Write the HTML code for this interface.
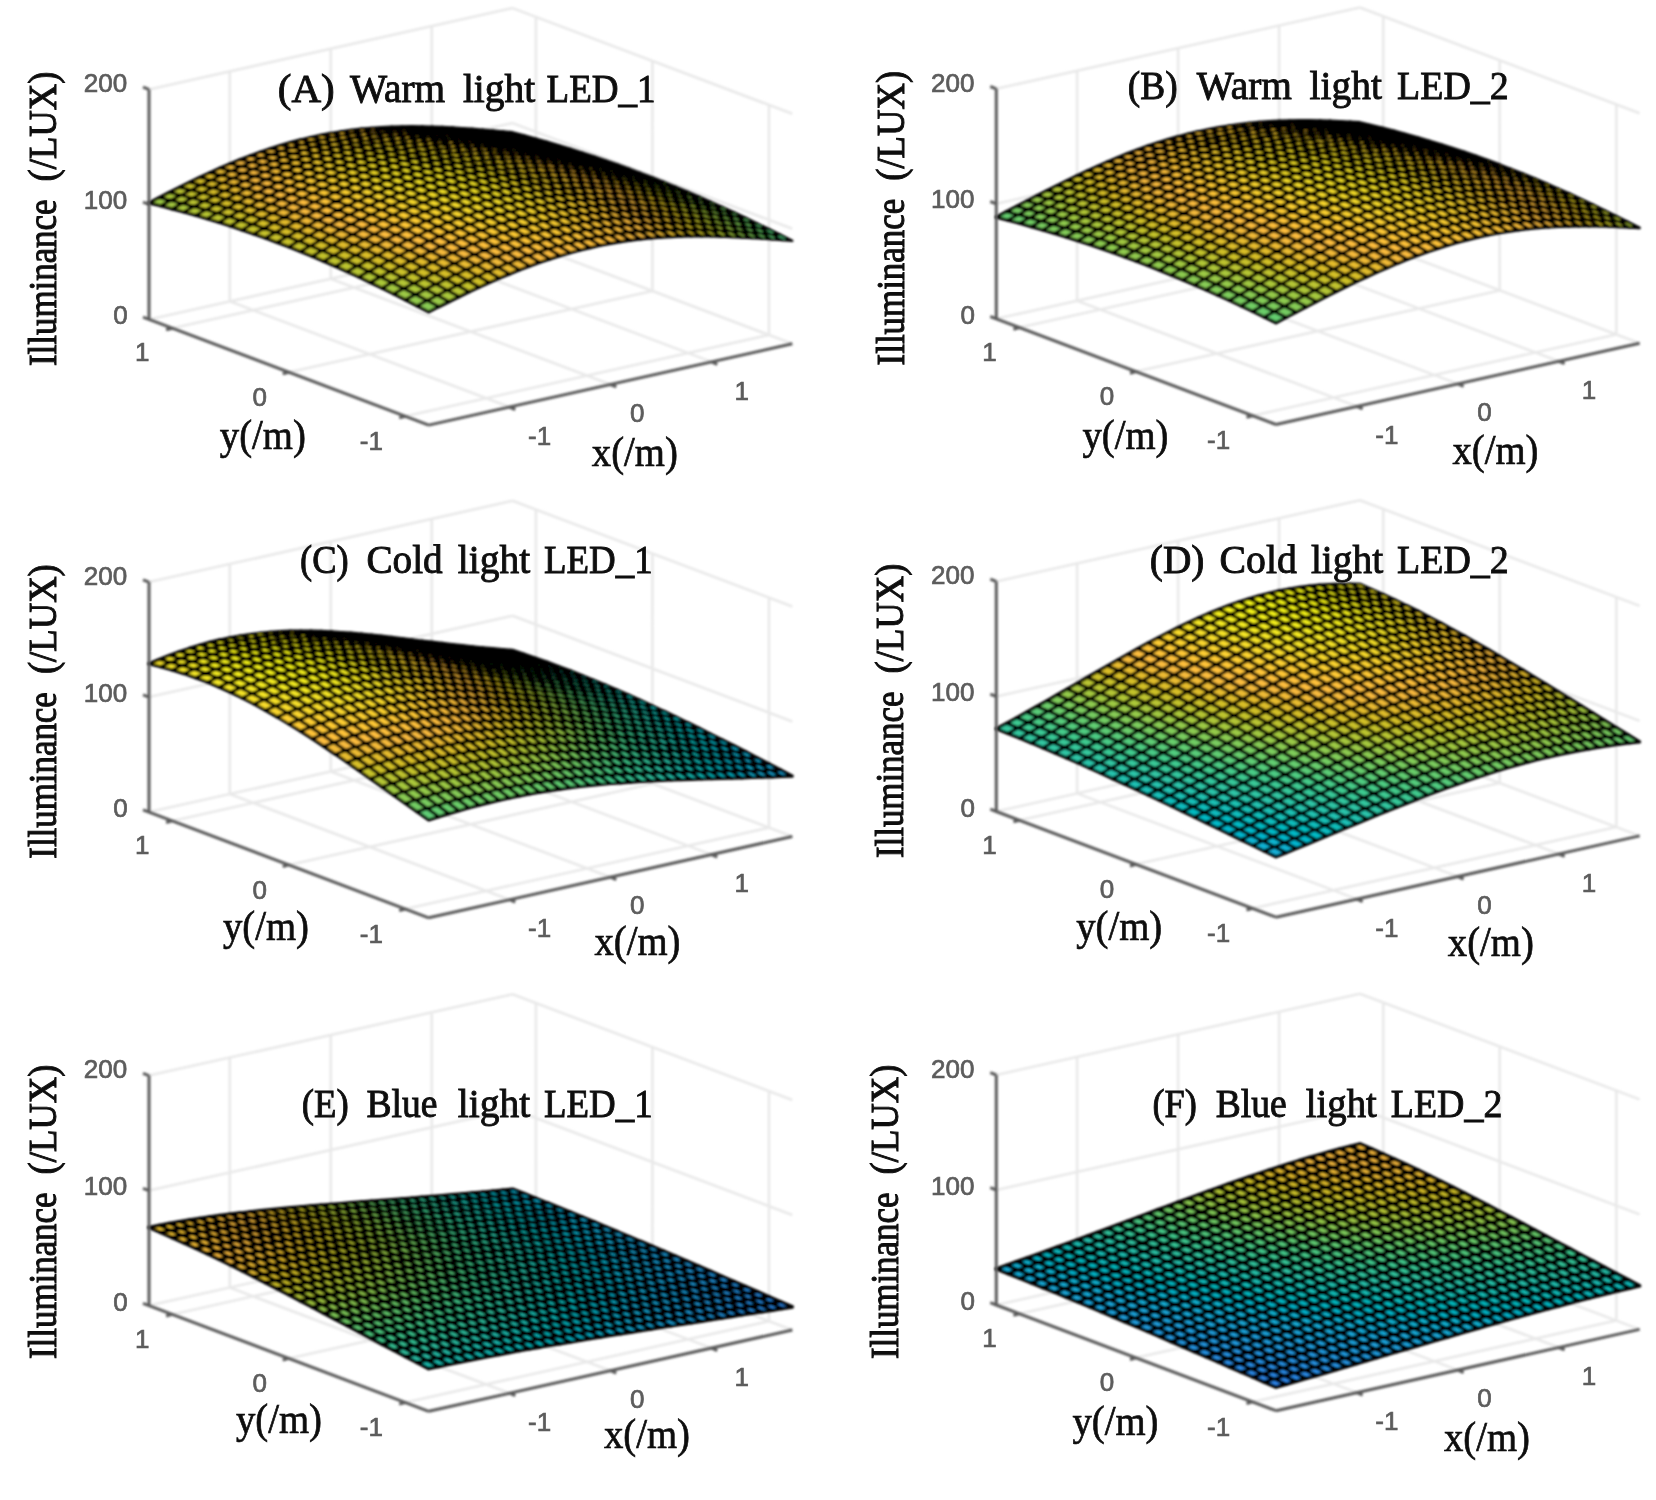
<!DOCTYPE html>
<html><head><meta charset="utf-8"><title>Illuminance distributions</title>
<style>html,body{margin:0;padding:0;background:#fff}svg{display:block}</style></head><body>
<svg width="1656" height="1500" viewBox="0 0 1656 1500">
<defs><filter id="bl" x="-5%" y="-5%" width="110%" height="110%"><feGaussianBlur stdDeviation="1.2"/></filter>
<filter id="bl3" x="-5%" y="-5%" width="110%" height="110%"><feGaussianBlur stdDeviation="0.55"/></filter><filter id="bl2" x="-5%" y="-5%" width="110%" height="110%"><feGaussianBlur stdDeviation="0.8"/></filter></defs>
<rect width="1656" height="1500" fill="#fff"/>
<g id="panelA">
<path d="M509.5,407L229.8,301.3M229.8,301.3L229.8,71.3M610.5,384.5L330.8,278.8M330.8,278.8L330.8,48.8M711.5,361.9L431.8,256.2M431.8,256.2L431.8,26.2M405.4,416.3L769,335M769,335L769,105M288.8,372.2L652.4,291M652.4,291L652.4,61M172.3,328.2L535.9,246.9M535.9,246.9L535.9,16.9M149,319.4L512.6,238.1M512.6,238.1L792.3,343.8M149,204.4L512.6,123.1M512.6,123.1L792.3,228.8M149,89.4L512.6,8.1M512.6,8.1L792.3,113.8" stroke="#e9e9e9" stroke-width="2.6" fill="none" filter="url(#bl2)"/>
<g filter="url(#bl)"><g transform="scale(.1)" stroke="#000" stroke-width="32" stroke-linejoin="round"><path fill="#5ecc74" stroke-width="24" d="M5142,1344l101,10l-117-31l-101-9z"/><path fill="#6fcd66" stroke-width="24" d="M5041,1335l101,9l-117-30l-101-9z"/><path fill="#64cd6f" stroke-width="24" d="M5258,1376l101,10l-116-32l-101-10z"/><path fill="#82cc58" stroke-width="24" d="M4940,1326l101,9l-117-30l-101-9z"/><path fill="#77cc60" stroke-width="24" d="M5157,1366l101,10l-116-32l-101-9z"/><path fill="#6bcd69" stroke-width="24" d="M5375,1409l101,11l-117-34l-101-10z"/><path fill="#94ca4a" stroke-width="24" d="M4839,1317l101,9l-117-30l-101-8z"/><path fill="#8acb52" stroke-width="24" d="M5056,1356l101,10l-116-31l-101-9z"/><path fill="#7ecc5b" stroke-width="24" d="M5274,1398l101,11l-117-33l-101-10z"/><path fill="#71cd65" stroke-width="24" d="M5491,1443l101,11l-116-34l-101-11z"/><path fill="#a5c83d" stroke-width="24" d="M4738,1310l101,7l-117-29l-101-7z"/><path fill="#9cc944" stroke-width="24" d="M4955,1347l101,9l-116-30l-101-9z"/><path fill="#91ca4c" stroke-width="24" d="M5173,1388l101,10l-117-32l-101-10z"/><path fill="#84cb56" stroke-width="24" d="M5390,1432l101,11l-116-34l-101-11z"/><path fill="#b5c533" stroke-width="24" d="M4637,1303l101,7l-117-29l-101-6z"/><path fill="#76cc60" stroke-width="24" d="M5608,1478l101,11l-117-35l-101-11z"/><path fill="#adc638" stroke-width="24" d="M4854,1339l101,8l-116-30l-101-7z"/><path fill="#a3c83f" stroke-width="24" d="M5072,1378l101,10l-117-32l-101-9z"/><path fill="#98ca47" stroke-width="24" d="M5289,1421l101,11l-116-34l-101-10z"/><path fill="#c3c22b" stroke-width="24" d="M4536,1297l101,6l-117-28l-101-5z"/><path fill="#8acb52" stroke-width="24" d="M5507,1466l101,12l-117-35l-101-11z"/><path fill="#bdc32e" stroke-width="24" d="M4753,1332l101,7l-116-29l-101-7z"/><path fill="#7bcc5d" stroke-width="24" d="M5724,1514l101,12l-116-37l-101-11z"/><path fill="#b4c533" stroke-width="24" d="M4971,1370l101,8l-117-31l-101-8z"/><path fill="#aac73a" stroke-width="24" d="M5188,1411l101,10l-116-33l-101-10z"/><path fill="#d0bf27" stroke-width="24" d="M4435,1293l101,4l-117-27l-101-4z"/><path fill="#9dc943" stroke-width="24" d="M5406,1455l101,11l-117-34l-101-11z"/><path fill="#cbc129" stroke-width="24" d="M4652,1326l101,6l-116-29l-101-6z"/><path fill="#8fcb4e" stroke-width="24" d="M5623,1502l101,12l-116-36l-101-12z"/><path fill="#c4c22b" stroke-width="24" d="M4870,1362l101,8l-117-31l-101-7z"/><path fill="#7fcc5a" stroke-width="24" d="M5841,1552l101,12l-117-38l-101-12z"/><path fill="#bbc430" stroke-width="24" d="M5087,1402l101,9l-116-33l-101-8z"/><path fill="#dcbd29" stroke-width="24" d="M4334,1290l101,3l-117-27l-101-2z"/><path fill="#b0c636" stroke-width="24" d="M5305,1445l101,10l-117-34l-101-10z"/><path fill="#d8be28" stroke-width="24" d="M4551,1321l101,5l-116-29l-101-4z"/><path fill="#a2c83f" stroke-width="24" d="M5522,1491l101,11l-116-36l-101-11z"/><path fill="#d2bf27" stroke-width="24" d="M4769,1355l101,7l-117-30l-101-6z"/><path fill="#93ca4b" stroke-width="24" d="M5740,1540l101,12l-117-38l-101-12z"/><path fill="#cac129" stroke-width="24" d="M4986,1394l101,8l-116-32l-101-8z"/><path fill="#e6bb2d" stroke-width="24" d="M4233,1289l101,1l-117-26l-101-1z"/><path fill="#82cc58" stroke-width="24" d="M5957,1591l101,13l-116-40l-101-12z"/><path fill="#c0c32d" stroke-width="24" d="M5204,1436l101,9l-117-34l-101-9z"/><path fill="#e3bc2c" stroke-width="24" d="M4450,1317l101,4l-116-28l-101-3z"/><path fill="#b4c533" stroke-width="24" d="M5421,1480l101,11l-116-36l-101-10z"/><path fill="#debc2a" stroke-width="24" d="M4668,1350l101,5l-117-29l-101-5z"/><path fill="#a6c73c" stroke-width="24" d="M5639,1528l101,12l-117-38l-101-11z"/><path fill="#d8be28" stroke-width="24" d="M4885,1387l101,7l-116-32l-101-7z"/><path fill="#eeba34" stroke-width="24" d="M4132,1289l101,0l-117-26l-101,1z"/><path fill="#96ca48" stroke-width="24" d="M5856,1579l101,12l-116-39l-101-12z"/><path fill="#d0c028" stroke-width="24" d="M5103,1427l101,9l-117-34l-101-8z"/><path fill="#ecba33" stroke-width="24" d="M4349,1316l101,1l-116-27l-101-1z"/><path fill="#85cb56" stroke-width="24" d="M6074,1632l101,12l-117-40l-101-13z"/><path fill="#c5c22a" stroke-width="24" d="M5320,1471l101,9l-116-35l-101-9z"/><path fill="#e9bb30" stroke-width="24" d="M4567,1346l101,4l-117-29l-101-4z"/><path fill="#b8c431" stroke-width="24" d="M5538,1517l101,11l-117-37l-101-11z"/><path fill="#e4bb2c" stroke-width="24" d="M4784,1381l101,6l-116-32l-101-5z"/><path fill="#f5ba3b" stroke-width="24" d="M4031,1292l101-3l-117-25l-101,3z"/><path fill="#aac73a" stroke-width="24" d="M5755,1567l101,12l-116-39l-101-12z"/><path fill="#ddbd29" stroke-width="24" d="M5002,1420l101,7l-117-33l-101-7z"/><path fill="#f4ba3a" stroke-width="24" d="M4248,1316l101,0l-116-27l-101,0z"/><path fill="#99c946" stroke-width="24" d="M5973,1619l101,13l-117-41l-101-12z"/><path fill="#d4bf28" stroke-width="24" d="M5219,1462l101,9l-116-35l-101-9z"/><path fill="#f2ba38" stroke-width="24" d="M4466,1344l101,2l-117-29l-101-1z"/><path fill="#86cb55" stroke-width="24" d="M6190,1674l101,12l-116-42l-101-12z"/><path fill="#c9c129" stroke-width="24" d="M5437,1507l101,10l-117-37l-101-9z"/><path fill="#eeba34" stroke-width="24" d="M4683,1377l101,4l-116-31l-101-4z"/><path fill="#fbbc3d" stroke-width="24" d="M3930,1296l101-4l-117-25l-101,5z"/><path fill="#bcc42f" stroke-width="24" d="M5654,1556l101,11l-116-39l-101-11z"/><path fill="#e9bb2f" stroke-width="24" d="M4901,1414l101,6l-117-33l-101-6z"/><path fill="#fbbc3d" stroke-width="24" d="M4147,1318l101-2l-116-27l-101,3z"/><path fill="#acc738" stroke-width="24" d="M5872,1607l101,12l-117-40l-101-12z"/><path fill="#e1bc2b" stroke-width="24" d="M5118,1454l101,8l-116-35l-101-7z"/><path fill="#f9bb3d" stroke-width="24" d="M4365,1344l101,0l-117-28l-101,0z"/><path fill="#9ac945" stroke-width="24" d="M6089,1661l101,13l-116-42l-101-13z"/><path fill="#d8be28" stroke-width="24" d="M5336,1498l101,9l-117-36l-101-9z"/><path fill="#f7ba3c" stroke-width="24" d="M4582,1374l101,3l-116-31l-101-2z"/><path fill="#febe3c" stroke-width="24" d="M3829,1303l101-7l-117-24l-101,7z"/><path fill="#87cb54" stroke-width="24" d="M6307,1717l101,13l-117-44l-101-12z"/><path fill="#ccc028" stroke-width="24" d="M5553,1546l101,10l-116-39l-101-10z"/><path fill="#f2ba38" stroke-width="24" d="M4800,1409l101,5l-117-33l-101-4z"/><path fill="#febf3c" stroke-width="24" d="M4046,1322l101-4l-116-26l-101,4z"/><path fill="#bec32e" stroke-width="24" d="M5771,1596l101,11l-117-40l-101-11z"/><path fill="#ecba33" stroke-width="24" d="M5017,1448l101,6l-116-34l-101-6z"/><path fill="#febe3c" stroke-width="24" d="M4264,1346l101-2l-117-28l-101,2z"/><path fill="#aec637" stroke-width="24" d="M5988,1649l101,12l-116-42l-101-12z"/><path fill="#e5bb2c" stroke-width="24" d="M5235,1490l101,8l-117-36l-101-8z"/><path fill="#fdbd3d" stroke-width="24" d="M4481,1374l101,0l-116-30l-101,0z"/><path fill="#fec239" stroke-width="24" d="M3728,1312l101-9l-117-24l-101,9z"/><path fill="#9bc944" stroke-width="24" d="M6206,1704l101,13l-117-43l-101-13z"/><path fill="#dbbd28" stroke-width="24" d="M5452,1536l101,10l-116-39l-101-9z"/><path fill="#fabb3d" stroke-width="24" d="M4699,1406l101,3l-117-32l-101-3z"/><path fill="#fec339" stroke-width="24" d="M3945,1329l101-7l-116-26l-101,7z"/><path fill="#87cb54" stroke-width="24" d="M6423,1762l101,12l-116-44l-101-13z"/><path fill="#cec028" stroke-width="24" d="M5670,1585l101,11l-117-40l-101-10z"/><path fill="#f6ba3b" stroke-width="24" d="M4916,1443l101,5l-116-34l-101-5z"/><path fill="#fec339" stroke-width="24" d="M4163,1350l101-4l-117-28l-101,4z"/><path fill="#c0c32d" stroke-width="24" d="M5887,1638l101,11l-116-42l-101-11z"/><path fill="#f0ba36" stroke-width="24" d="M5134,1484l101,6l-117-36l-101-6z"/><path fill="#fec239" stroke-width="24" d="M4380,1375l101-1l-116-30l-101,2z"/><path fill="#fec437" stroke-width="24" d="M3627,1324l101-12l-117-24l-101,12z"/><path fill="#afc637" stroke-width="24" d="M6105,1692l101,12l-117-43l-101-12z"/><path fill="#e7bb2e" stroke-width="24" d="M5351,1528l101,8l-116-38l-101-8z"/><path fill="#fec03b" stroke-width="24" d="M4598,1405l101,1l-117-32l-101,0z"/><path fill="#fec636" stroke-width="24" d="M3844,1338l101-9l-116-26l-101,9z"/><path fill="#9bc944" stroke-width="24" d="M6322,1749l101,13l-116-45l-101-13z"/><path fill="#ddbd29" stroke-width="24" d="M5569,1576l101,9l-117-39l-101-10z"/><path fill="#fdbd3d" stroke-width="24" d="M4815,1440l101,3l-116-34l-101-3z"/><path fill="#fec736" stroke-width="24" d="M4062,1356l101-6l-117-28l-101,7z"/><path fill="#86cb55" stroke-width="24" d="M6540,1808l101,12l-117-46l-101-12z"/><path fill="#d0bf27" stroke-width="24" d="M5786,1627l101,11l-116-42l-101-11z"/><path fill="#f9bb3d" stroke-width="24" d="M5033,1478l101,6l-117-36l-101-5z"/><path fill="#fec636" stroke-width="24" d="M4279,1379l101-4l-116-29l-101,4z"/><path fill="#fec736" stroke-width="24" d="M3526,1338l101-14l-117-24l-101,15z"/><path fill="#c0c32d" stroke-width="24" d="M6004,1681l101,11l-117-43l-101-11z"/><path fill="#f2ba38" stroke-width="24" d="M5250,1521l101,7l-116-38l-101-6z"/><path fill="#fec537" stroke-width="24" d="M4497,1406l101-1l-117-31l-101,1z"/><path fill="#fec934" stroke-width="24" d="M3743,1349l101-11l-116-26l-101,12z"/><path fill="#afc637" stroke-width="24" d="M6221,1737l101,12l-116-45l-101-12z"/><path fill="#e9bb30" stroke-width="24" d="M5468,1568l101,8l-117-40l-101-8z"/><path fill="#fec239" stroke-width="24" d="M4714,1439l101,1l-116-34l-101-1z"/><path fill="#fdca33" stroke-width="24" d="M3961,1364l101-8l-117-27l-101,9z"/><path fill="#9ac945" stroke-width="24" d="M6439,1795l101,13l-117-46l-101-13z"/><path fill="#debc2a" stroke-width="24" d="M5685,1617l101,10l-116-42l-101-9z"/><path fill="#febf3c" stroke-width="24" d="M4932,1475l101,3l-117-35l-101-3z"/><path fill="#fdcb33" stroke-width="24" d="M4178,1385l101-6l-116-29l-101,6z"/><path fill="#85cb56" stroke-width="24" d="M6657,1855l101,13l-117-48l-101-12z"/><path fill="#fec834" stroke-width="24" d="M3425,1355l101-17l-117-23l-101,16z"/><path fill="#d1bf27" stroke-width="24" d="M5903,1670l101,11l-117-43l-101-11z"/><path fill="#fbbc3d" stroke-width="24" d="M5149,1516l101,5l-116-37l-101-6z"/><path fill="#feca33" stroke-width="24" d="M4396,1410l101-4l-117-31l-101,4z"/><path fill="#fdcb32" stroke-width="24" d="M3642,1363l101-14l-116-25l-101,14z"/><path fill="#c0c32d" stroke-width="24" d="M6120,1726l101,11l-116-45l-101-11z"/><path fill="#f4ba39" stroke-width="24" d="M5367,1561l101,7l-117-40l-101-7z"/><path fill="#fec835" stroke-width="24" d="M4613,1439l101,0l-116-34l-101,1z"/><path fill="#fdce31" stroke-width="24" d="M3860,1376l101-12l-117-26l-101,11z"/><path fill="#aec637" stroke-width="24" d="M6338,1783l101,12l-117-46l-101-12z"/><path fill="#ebba31" stroke-width="24" d="M5584,1609l101,8l-116-41l-101-8z"/><path fill="#fec537" stroke-width="24" d="M4831,1474l101,1l-117-35l-101-1z"/><path fill="#fdce31" stroke-width="24" d="M4077,1393l101-8l-116-29l-101,8z"/><path fill="#99c946" stroke-width="24" d="M6556,1843l101,12l-117-47l-101-13z"/><path fill="#fec934" stroke-width="26" d="M3324,1374l101-19l-117-24l-101,20z"/><path fill="#dfbc2a" stroke-width="24" d="M5802,1660l101,10l-117-43l-101-10z"/><path fill="#fec13a" stroke-width="24" d="M5048,1512l101,4l-116-38l-101-3z"/><path fill="#fdce31" stroke-width="24" d="M4295,1416l101-6l-117-31l-101,6z"/><path fill="#82cc58" stroke-width="24" d="M6773,1904l101,13l-116-49l-101-13z"/><path fill="#fdcd31" stroke-width="24" d="M3541,1379l101-16l-116-25l-101,17z"/><path fill="#d1bf27" stroke-width="24" d="M6019,1715l101,11l-116-45l-101-11z"/><path fill="#fcbc3d" stroke-width="24" d="M5266,1555l101,6l-117-40l-101-5z"/><path fill="#fdcd32" stroke-width="24" d="M4512,1443l101-4l-116-33l-101,4z"/><path fill="#fcd030" stroke-width="24" d="M3759,1389l101-13l-117-27l-101,14z"/><path fill="#c0c32d" stroke-width="24" d="M6237,1772l101,11l-117-46l-101-11z"/><path fill="#f5ba3b" stroke-width="24" d="M5483,1602l101,7l-116-41l-101-7z"/><path fill="#feca33" stroke-width="24" d="M4730,1474l101,0l-117-35l-101,0z"/><path fill="#fbd22f" stroke-width="24" d="M3976,1404l101-11l-116-29l-101,12z"/><path fill="#acc738" stroke-width="24" d="M6455,1831l101,12l-117-48l-101-12z"/><path fill="#feca33" stroke-width="26" d="M3223,1396l101-22l-117-23l-101,22z"/><path fill="#ebba32" stroke-width="24" d="M5701,1652l101,8l-117-43l-101-8z"/><path fill="#fec636" stroke-width="24" d="M4947,1511l101,1l-116-37l-101-1z"/><path fill="#fbd22f" stroke-width="24" d="M4194,1424l101-8l-117-31l-101,8z"/><path fill="#96ca48" stroke-width="24" d="M6672,1892l101,12l-116-49l-101-12z"/><path fill="#fdce31" stroke-width="26" d="M3440,1399l101-20l-116-24l-101,19z"/><path fill="#dfbc2a" stroke-width="24" d="M5918,1705l101,10l-116-45l-101-10z"/><path fill="#fec239" stroke-width="24" d="M5165,1552l101,3l-117-39l-101-4z"/><path fill="#fcd12f" stroke-width="24" d="M4411,1448l101-5l-116-33l-101,6z"/><path fill="#7fcc5a" stroke-width="24" d="M6890,1954l101,13l-117-50l-101-13z"/><path fill="#fbd22f" stroke-width="26" d="M3658,1406l101-17l-117-26l-101,16z"/><path fill="#d0bf27" stroke-width="24" d="M6136,1761l101,11l-117-46l-101-11z"/><path fill="#fdbd3d" stroke-width="24" d="M5382,1596l101,6l-116-41l-101-6z"/><path fill="#fccf30" stroke-width="24" d="M4629,1477l101-3l-117-35l-101,4z"/><path fill="#fad42e" stroke-width="24" d="M3875,1418l101-14l-116-28l-101,13z"/><path fill="#bec32e" stroke-width="24" d="M6354,1820l101,11l-117-48l-101-11z"/><path fill="#feca33" stroke-width="28" d="M3122,1421l101-25l-117-23l-101,25z"/><path fill="#f6ba3b" stroke-width="24" d="M5600,1645l101,7l-117-43l-101-7z"/><path fill="#fdcc32" stroke-width="24" d="M4846,1511l101,0l-116-37l-101,0z"/><path fill="#fad52d" stroke-width="24" d="M4093,1435l101-11l-117-31l-101,11z"/><path fill="#aac73a" stroke-width="24" d="M6571,1881l101,11l-116-49l-101-12z"/><path fill="#fccf30" stroke-width="28" d="M3339,1421l101-22l-116-25l-101,22z"/><path fill="#ebba32" stroke-width="24" d="M5817,1697l101,8l-116-45l-101-8z"/><path fill="#fec835" stroke-width="24" d="M5064,1550l101,2l-117-40l-101-1z"/><path fill="#fad52d" stroke-width="24" d="M4310,1456l101-8l-116-32l-101,8z"/><path fill="#93ca4b" stroke-width="24" d="M6789,1943l101,11l-117-50l-101-12z"/><path fill="#fbd32e" stroke-width="26" d="M3557,1425l101-19l-117-27l-101,20z"/><path fill="#debc2a" stroke-width="24" d="M6035,1752l101,9l-117-46l-101-10z"/><path fill="#fec338" stroke-width="24" d="M5281,1593l101,3l-116-41l-101-3z"/><path fill="#fad42e" stroke-width="24" d="M4528,1483l101-6l-117-34l-101,5z"/><path fill="#7bcc5d" stroke-width="24" d="M7006,2006l101,12l-116-51l-101-13z"/><path fill="#f9d62d" stroke-width="26" d="M3774,1434l101-16l-116-29l-101,17z"/><path fill="#cec028" stroke-width="24" d="M6253,1810l101,10l-117-48l-101-11z"/><path fill="#fec934" stroke-width="30" d="M3021,1448l101-27l-117-23l-101,27z"/><path fill="#fdbd3d" stroke-width="24" d="M5499,1639l101,6l-117-43l-101-6z"/><path fill="#fcd12f" stroke-width="24" d="M4745,1514l101-3l-116-37l-101,3z"/><path fill="#f9d82c" stroke-width="26" d="M3992,1448l101-13l-117-31l-101,14z"/><path fill="#bcc42f" stroke-width="24" d="M6470,1870l101,11l-116-50l-101-11z"/><path fill="#fccf31" stroke-width="30" d="M3238,1446l101-25l-116-25l-101,25z"/><path fill="#f6ba3b" stroke-width="24" d="M5716,1690l101,7l-116-45l-101-7z"/><path fill="#fdce31" stroke-width="24" d="M4963,1550l101,0l-117-39l-101,0z"/><path fill="#f8d92c" stroke-width="24" d="M4209,1467l101-11l-116-32l-101,11z"/><path fill="#a6c73c" stroke-width="24" d="M6688,1931l101,12l-117-51l-101-11z"/><path fill="#fbd42e" stroke-width="28" d="M3456,1447l101-22l-117-26l-101,22z"/><path fill="#ebba31" stroke-width="24" d="M5934,1744l101,8l-117-47l-101-8z"/><path fill="#fec934" stroke-width="24" d="M5180,1591l101,2l-116-41l-101-2z"/><path fill="#f9d82c" stroke-width="24" d="M4427,1491l101-8l-117-35l-101,8z"/><path fill="#8fcb4e" stroke-width="24" d="M6905,1995l101,11l-116-52l-101-11z"/><path fill="#f9d72c" stroke-width="28" d="M3673,1453l101-19l-116-28l-101,19z"/><path fill="#ddbd29" stroke-width="24" d="M6152,1800l101,10l-117-49l-101-9z"/><path fill="#fec735" d="M2920,1478l101-30l-117-23l-101,30z"/><path fill="#fec338" stroke-width="24" d="M5398,1636l101,3l-117-43l-101-3z"/><path fill="#fad62d" stroke-width="24" d="M4644,1519l101-5l-116-37l-101,6z"/><path fill="#76cc60" stroke-width="24" d="M7123,2059l101,11l-117-52l-101-12z"/><path fill="#f8da2b" stroke-width="26" d="M3891,1464l101-16l-117-30l-101,16z"/><path fill="#ccc028" stroke-width="24" d="M6369,1859l101,11l-116-50l-101-10z"/><path fill="#fdce31" d="M3137,1473l101-27l-116-25l-101,27z"/><path fill="#fdbd3d" stroke-width="24" d="M5615,1684l101,6l-116-45l-101-6z"/><path fill="#fbd32e" stroke-width="24" d="M4862,1553l101-3l-117-39l-101,3z"/><path fill="#f7db2a" stroke-width="26" d="M4108,1480l101-13l-116-32l-101,13z"/><path fill="#b9c431" stroke-width="24" d="M6587,1921l101,10l-117-50l-101-11z"/><path fill="#fbd32e" stroke-width="30" d="M3355,1472l101-25l-117-26l-101,25z"/><path fill="#f5ba3b" stroke-width="24" d="M5833,1737l101,7l-117-47l-101-7z"/><path fill="#fccf31" stroke-width="24" d="M5079,1591l101,0l-116-41l-101,0z"/><path fill="#f7db2a" stroke-width="26" d="M4326,1501l101-10l-117-35l-101,11z"/><path fill="#a2c83f" stroke-width="24" d="M6804,1984l101,11l-116-52l-101-12z"/><path fill="#f9d82c" stroke-width="30" d="M3572,1475l101-22l-116-28l-101,22z"/><path fill="#e9bb30" stroke-width="24" d="M6051,1792l101,8l-117-48l-101-8z"/><path fill="#fec537" d="M2819,1511l101-33l-117-23l-101,32z"/><path fill="#fec934" stroke-width="24" d="M5297,1634l101,2l-117-43l-101-2z"/><path fill="#f8da2b" stroke-width="24" d="M4543,1527l101-8l-116-36l-101,8z"/><path fill="#8acb51" stroke-width="24" d="M7022,2048l101,11l-117-53l-101-11z"/><path fill="#f7db2a" stroke-width="28" d="M3790,1484l101-20l-117-30l-101,19z"/><path fill="#dbbd28" stroke-width="24" d="M6268,1850l101,9l-116-49l-101-10z"/><path fill="#fdcc32" d="M3036,1503l101-30l-116-25l-101,30z"/><path fill="#fec338" stroke-width="24" d="M5514,1681l101,3l-116-45l-101-3z"/><path fill="#f9d82c" stroke-width="24" d="M4761,1558l101-5l-117-39l-101,5z"/><path fill="#71cd64" stroke-width="24" d="M7239,2113l101,11l-116-54l-101-11z"/><path fill="#f6dd2a" stroke-width="28" d="M4007,1497l101-17l-116-32l-101,16z"/><path fill="#c9c129" stroke-width="24" d="M6486,1911l101,10l-117-51l-101-11z"/><path fill="#fbd22f" d="M3254,1500l101-28l-117-26l-101,27z"/><path fill="#fdbd3d" stroke-width="24" d="M5732,1731l101,6l-117-47l-101-6z"/><path fill="#fad42e" stroke-width="24" d="M4978,1594l101-3l-116-41l-101,3z"/><path fill="#f6de29" stroke-width="26" d="M4225,1515l101-14l-117-34l-101,13z"/><path fill="#b4c533" stroke-width="24" d="M6703,1973l101,11l-116-53l-101-10z"/><path fill="#f9d82c" d="M3471,1500l101-25l-116-28l-101,25z"/><path fill="#f4ba3a" stroke-width="24" d="M5950,1785l101,7l-117-48l-101-7z"/><path fill="#fec339" d="M2718,1546l101-35l-117-24l-101,35z"/><path fill="#fccf30" stroke-width="24" d="M5196,1634l101,0l-117-43l-101,0z"/><path fill="#f6dd29" stroke-width="26" d="M4442,1538l101-11l-116-36l-101,10z"/><path fill="#9dc943" stroke-width="24" d="M6921,2037l101,11l-117-53l-101-11z"/><path fill="#f7dc2a" stroke-width="30" d="M3689,1506l101-22l-117-31l-101,22z"/><path fill="#e7bb2e" stroke-width="24" d="M6167,1842l101,8l-116-50l-101-8z"/><path fill="#feca33" d="M2935,1536l101-33l-116-25l-101,33z"/><path fill="#fec934" stroke-width="24" d="M5413,1679l101,2l-116-45l-101-2z"/><path fill="#f7dc2a" stroke-width="26" d="M4660,1566l101-8l-117-39l-101,8z"/><path fill="#85cb56" stroke-width="24" d="M7138,2102l101,11l-116-54l-101-11z"/><path fill="#f6de29" stroke-width="30" d="M3906,1516l101-19l-116-33l-101,20z"/><path fill="#d8be28" stroke-width="24" d="M6385,1902l101,9l-117-52l-101-9z"/><path fill="#fcd12f" d="M3153,1530l101-30l-117-27l-101,30z"/><path fill="#fec338" stroke-width="24" d="M5631,1728l101,3l-117-47l-101-3z"/><path fill="#f8d92c" stroke-width="24" d="M4877,1599l101-5l-116-41l-101,5z"/><path fill="#6bcd69" stroke-width="24" d="M7356,2168l101,11l-117-55l-101-11z"/><path fill="#f6e028" stroke-width="28" d="M4124,1531l101-16l-117-35l-101,17z"/><path fill="#c5c22a" stroke-width="24" d="M6602,1964l101,9l-116-52l-101-10z"/><path fill="#f9d72d" d="M3370,1528l101-28l-116-28l-101,28z"/><path fill="#fcbc3d" stroke-width="24" d="M5849,1780l101,5l-117-48l-101-6z"/><path fill="#fec03b" d="M2617,1583l101-37l-117-24l-101,37z"/><path fill="#fad42e" stroke-width="24" d="M5095,1637l101-3l-117-43l-101,3z"/><path fill="#f6e028" stroke-width="28" d="M4341,1551l101-13l-116-37l-101,14z"/><path fill="#b0c636" stroke-width="24" d="M6820,2027l101,10l-117-53l-101-11z"/><path fill="#f7db2a" d="M3588,1530l101-24l-117-31l-101,25z"/><path fill="#f2ba38" stroke-width="24" d="M6066,1836l101,6l-116-50l-101-7z"/><path fill="#fec735" d="M2834,1571l101-35l-116-25l-101,35z"/><path fill="#fccf30" stroke-width="24" d="M5312,1679l101,0l-116-45l-101,0z"/><path fill="#f6df29" stroke-width="28" d="M4559,1576l101-10l-117-39l-101,11z"/><path fill="#98ca47" stroke-width="24" d="M7037,2092l101,10l-116-54l-101-11z"/><path fill="#f6df29" d="M3805,1538l101-22l-116-32l-101,22z"/><path fill="#e5bb2c" stroke-width="24" d="M6284,1894l101,8l-117-52l-101-8z"/><path fill="#fccf31" d="M3052,1563l101-33l-117-27l-101,33z"/><path fill="#fec934" stroke-width="24" d="M5530,1726l101,2l-117-47l-101-2z"/><path fill="#f7dd2a" stroke-width="26" d="M4776,1607l101-8l-116-41l-101,8z"/><path fill="#7ecc5b" stroke-width="24" d="M7255,2158l101,10l-117-55l-101-11z"/><path fill="#f5e128" stroke-width="30" d="M4023,1550l101-19l-117-34l-101,19z"/><path fill="#d4bf28" stroke-width="24" d="M6501,1955l101,9l-116-53l-101-9z"/><path fill="#fad52d" d="M3269,1558l101-30l-116-28l-101,30z"/><path fill="#fec239" stroke-width="24" d="M5748,1777l101,3l-117-49l-101-3z"/><path fill="#fcbd3d" d="M2516,1623l101-40l-117-24l-101,39z"/><path fill="#f8d92b" stroke-width="26" d="M4994,1642l101-5l-117-43l-101,5z"/><path fill="#64cd6e" stroke-width="24" d="M7472,2225l101,10l-116-56l-101-11z"/><path fill="#f5e227" stroke-width="30" d="M4240,1567l101-16l-116-36l-101,16z"/><path fill="#c0c32d" stroke-width="24" d="M6719,2018l101,9l-117-54l-101-9z"/><path fill="#f8db2b" d="M3487,1558l101-28l-117-30l-101,28z"/><path fill="#fbbc3d" stroke-width="24" d="M5965,1831l101,5l-116-51l-101-5z"/><path fill="#fec438" d="M2733,1609l101-38l-116-25l-101,37z"/><path fill="#fad42e" stroke-width="26" d="M5211,1682l101-3l-116-45l-101,3z"/><path fill="#f5e228" stroke-width="28" d="M4458,1590l101-14l-117-38l-101,13z"/><path fill="#aac73a" stroke-width="24" d="M6936,2083l101,9l-116-55l-101-10z"/><path fill="#f6df29" d="M3704,1563l101-25l-116-32l-101,24z"/><path fill="#f0ba36" stroke-width="24" d="M6183,1888l101,6l-117-52l-101-6z"/><path fill="#fdcc32" d="M2951,1598l101-35l-117-27l-101,35z"/><path fill="#fccf31" stroke-width="24" d="M5429,1726l101,0l-117-47l-101,0z"/><path fill="#f6e028" stroke-width="28" d="M4675,1617l101-10l-116-41l-101,10z"/><path fill="#91ca4c" stroke-width="24" d="M7154,2149l101,9l-117-56l-101-10z"/><path fill="#f5e228" d="M3922,1572l101-22l-117-34l-101,22z"/><path fill="#e1bc2b" stroke-width="24" d="M6400,1948l101,7l-116-53l-101-8z"/><path fill="#fbd32f" d="M3168,1591l101-33l-116-28l-101,33z"/><path fill="#fec835" stroke-width="24" d="M5647,1775l101,2l-117-49l-101-2z"/><path fill="#f8ba3d" d="M2415,1665l101-42l-117-25l-101,42z"/><path fill="#f6dd29" stroke-width="28" d="M4893,1650l101-8l-117-43l-101,8z"/><path fill="#77cc60" stroke-width="24" d="M7371,2215l101,10l-116-57l-101-10z"/><path fill="#f5e327" d="M4139,1586l101-19l-116-36l-101,19z"/><path fill="#d0c028" stroke-width="24" d="M6618,2010l101,8l-117-54l-101-9z"/><path fill="#f8d92c" d="M3386,1589l101-31l-117-30l-101,30z"/><path fill="#fec13a" stroke-width="24" d="M5864,1827l101,4l-116-51l-101-3z"/><path fill="#fec03a" d="M2632,1649l101-40l-116-26l-101,40z"/><path fill="#f8d92b" stroke-width="26" d="M5110,1687l101-5l-116-45l-101,5z"/><path fill="#5ecc74" stroke-width="24" d="M7589,2282l101,10l-117-57l-101-10z"/><path fill="#f5e427" stroke-width="30" d="M4357,1606l101-16l-117-39l-101,16z"/><path fill="#bbc430" stroke-width="24" d="M6835,2074l101,9l-116-56l-101-9z"/><path fill="#f6de29" d="M3603,1590l101-27l-116-33l-101,28z"/><path fill="#f9bb3d" stroke-width="24" d="M6082,1883l101,5l-117-52l-101-5z"/><path fill="#fec834" d="M2850,1636l101-38l-117-27l-101,38z"/><path fill="#fad42e" stroke-width="26" d="M5328,1729l101-3l-117-47l-101,3z"/><path fill="#f5e327" stroke-width="30" d="M4574,1630l101-13l-116-41l-101,14z"/><path fill="#a3c83e" stroke-width="24" d="M7053,2140l101,9l-117-57l-101-9z"/><path fill="#f5e228" d="M3821,1597l101-25l-117-34l-101,25z"/><path fill="#edba33" stroke-width="24" d="M6299,1942l101,6l-116-54l-101-6z"/><path fill="#fcd030" d="M3067,1627l101-36l-116-28l-101,35z"/><path fill="#fdce31" stroke-width="26" d="M5546,1776l101-1l-117-49l-101,0z"/><path fill="#f1ba37" d="M2314,1709l101-44l-117-25l-101,43z"/><path fill="#f6e128" stroke-width="30" d="M4792,1660l101-10l-117-43l-101,10z"/><path fill="#8acb52" stroke-width="24" d="M7270,2206l101,9l-116-57l-101-9z"/><path fill="#f5e427" d="M4038,1608l101-22l-116-36l-101,22z"/><path fill="#ddbd29" stroke-width="24" d="M6517,2003l101,7l-117-55l-101-7z"/><path fill="#f9d62d" d="M3285,1622l101-33l-117-31l-101,33z"/><path fill="#fec636" stroke-width="26" d="M5763,1826l101,1l-116-50l-101-2z"/><path fill="#fcbd3d" d="M2531,1691l101-42l-116-26l-101,42z"/><path fill="#f6dd29" stroke-width="28" d="M5009,1695l101-8l-116-45l-101,8z"/><path fill="#6fcd66" stroke-width="24" d="M7488,2273l101,9l-117-57l-101-10z"/><path fill="#f5e526" d="M4256,1625l101-19l-117-39l-101,19z"/><path fill="#cac129" stroke-width="24" d="M6734,2066l101,8l-116-56l-101-8z"/><path fill="#f7dc2a" d="M3502,1621l101-31l-116-32l-101,31z"/><path fill="#febf3b" stroke-width="26" d="M5981,1880l101,3l-117-52l-101-4z"/><path fill="#fec437" d="M2749,1677l101-41l-117-27l-101,40z"/><path fill="#f8d92c" stroke-width="28" d="M5227,1734l101-5l-117-47l-101,5z"/><path fill="#57cc7a" stroke-width="24" d="M7705,2341l101,8l-116-57l-101-10z"/><path fill="#f5e526" d="M4473,1646l101-16l-116-40l-101,16z"/><path fill="#b4c533" stroke-width="24" d="M6952,2131l101,9l-117-57l-101-9z"/><path fill="#f6e128" d="M3720,1625l101-28l-117-34l-101,27z"/><path fill="#f6ba3b" stroke-width="24" d="M6198,1937l101,5l-116-54l-101-5z"/><path fill="#fdcc32" d="M2966,1665l101-38l-116-29l-101,38z"/><path fill="#fbd32e" stroke-width="28" d="M5445,1778l101-2l-117-50l-101,3z"/><path fill="#e9bb30" d="M2213,1754l101-45l-117-26l-101,46z"/><path fill="#f5e427" stroke-width="30" d="M4691,1673l101-13l-117-43l-101,13z"/><path fill="#9cc944" stroke-width="24" d="M7169,2198l101,8l-116-57l-101-9z"/><path fill="#f5e427" d="M3937,1633l101-25l-116-36l-101,25z"/><path fill="#e9bb2f" stroke-width="24" d="M6416,1997l101,6l-117-55l-101-6z"/><path fill="#fbd32e" d="M3184,1658l101-36l-117-31l-101,36z"/><path fill="#fdcc32" stroke-width="26" d="M5662,1827l101-1l-116-51l-101,1z"/><path fill="#f7ba3d" d="M2430,1736l101-45l-116-26l-101,44z"/><path fill="#f6e128" stroke-width="30" d="M4908,1705l101-10l-116-45l-101,10z"/><path fill="#82cc58" stroke-width="24" d="M7387,2265l101,8l-117-58l-101-9z"/><path fill="#f5e626" d="M4155,1647l101-22l-117-39l-101,22z"/><path fill="#d8be28" stroke-width="24" d="M6633,2060l101,6l-116-56l-101-7z"/><path fill="#f8da2b" d="M3401,1654l101-33l-116-32l-101,33z"/><path fill="#fec537" stroke-width="26" d="M5880,1879l101,1l-117-53l-101-1z"/><path fill="#fec03b" d="M2648,1719l101-42l-117-28l-101,42z"/><path fill="#f7dd2a" stroke-width="30" d="M5126,1742l101-8l-117-47l-101,8z"/><path fill="#67cd6c" stroke-width="24" d="M7604,2332l101,9l-116-59l-101-9z"/><path fill="#f5e626" d="M4372,1665l101-19l-116-40l-101,19z"/><path fill="#c4c22b" stroke-width="24" d="M6851,2124l101,7l-117-57l-101-8z"/><path fill="#f6df29" d="M3619,1655l101-30l-117-35l-101,31z"/><path fill="#fdbd3d" stroke-width="26" d="M6097,1934l101,3l-116-54l-101-3z"/><path fill="#fec835" d="M2865,1706l101-41l-116-29l-101,41z"/><path fill="#f9d82c" stroke-width="28" d="M5344,1784l101-6l-117-49l-101,5z"/><path fill="#4fcc80" stroke-width="24" d="M7822,2400l101,8l-117-59l-101-8z"/><path fill="#e0bc2a" d="M2112,1802l101-48l-117-25l-101,46z"/><path fill="#f5e626" d="M4590,1689l101-16l-117-43l-101,16z"/><path fill="#adc638" stroke-width="24" d="M7068,2190l101,8l-116-58l-101-9z"/><path fill="#f5e327" d="M3836,1661l101-28l-116-36l-101,28z"/><path fill="#f3ba38" stroke-width="26" d="M6315,1993l101,4l-117-55l-101-5z"/><path fill="#fcd030" d="M3083,1696l101-38l-117-31l-101,38z"/><path fill="#fbd12f" stroke-width="28" d="M5561,1830l101-3l-116-51l-101,2z"/><path fill="#f0ba36" d="M2329,1782l101-46l-116-27l-101,45z"/><path fill="#f5e427" d="M4807,1718l101-13l-116-45l-101,13z"/><path fill="#94ca4a" stroke-width="24" d="M7286,2257l101,8l-117-59l-101-8z"/><path fill="#f5e526" d="M4054,1672l101-25l-117-39l-101,25z"/><path fill="#e4bb2c" stroke-width="26" d="M6532,2055l101,5l-116-57l-101-6z"/><path fill="#f9d72d" d="M3300,1690l101-36l-116-32l-101,36z"/><path fill="#feca33" stroke-width="28" d="M5779,1880l101-1l-117-53l-101,1z"/><path fill="#fcbc3d" d="M2547,1764l101-45l-117-28l-101,45z"/><path fill="#f6e028" stroke-width="30" d="M5025,1752l101-10l-117-47l-101,10z"/><path fill="#79cc5e" stroke-width="26" d="M7503,2325l101,7l-116-59l-101-8z"/><path fill="#f5e725" d="M4271,1687l101-22l-116-40l-101,22z"/><path fill="#d2bf27" stroke-width="26" d="M6750,2118l101,6l-117-58l-101-6z"/><path fill="#f7dc2a" d="M3518,1689l101-34l-117-34l-101,33z"/><path fill="#fec239" stroke-width="28" d="M5996,1934l101,0l-116-54l-101-1z"/><path fill="#fec438" d="M2764,1749l101-43l-116-29l-101,42z"/><path fill="#f7dc2a" stroke-width="30" d="M5243,1791l101-7l-117-50l-101,8z"/><path fill="#5fcd73" stroke-width="26" d="M7721,2393l101,7l-117-59l-101-9z"/><path fill="#d5be28" d="M2011,1851l101-49l-117-27l-101,49z"/><path fill="#f5e725" d="M4489,1708l101-19l-117-43l-101,19z"/><path fill="#bdc32e" stroke-width="26" d="M6967,2183l101,7l-116-59l-101-7z"/><path fill="#f5e128" d="M3735,1692l101-31l-116-36l-101,30z"/><path fill="#fabb3d" stroke-width="26" d="M6214,1991l101,2l-117-56l-101-3z"/><path fill="#fdcc32" d="M2982,1737l101-41l-117-31l-101,41z"/><path fill="#f9d62d" stroke-width="30" d="M5460,1835l101-5l-116-52l-101,6z"/><path fill="#e7bb2e" d="M2228,1830l101-48l-116-28l-101,48z"/><path fill="#f5e626" d="M4706,1734l101-16l-116-45l-101,16z"/><path fill="#a5c83d" stroke-width="26" d="M7185,2250l101,7l-117-59l-101-8z"/><path fill="#f5e426" d="M3953,1700l101-28l-117-39l-101,28z"/><path fill="#eeba34" stroke-width="26" d="M6431,2051l101,4l-116-58l-101-4z"/><path fill="#fbd32e" d="M3199,1729l101-39l-116-32l-101,38z"/><path fill="#fccf30" stroke-width="30" d="M5678,1883l101-3l-117-53l-101,3z"/><path fill="#f5ba3b" d="M2446,1810l101-46l-117-28l-101,46z"/><path fill="#f5e327" d="M4924,1766l101-14l-117-47l-101,13z"/><path fill="#8bcb51" stroke-width="26" d="M7402,2317l101,8l-116-60l-101-8z"/><path fill="#f5e725" d="M4170,1712l101-25l-116-40l-101,25z"/><path fill="#debc2a" stroke-width="26" d="M6649,2113l101,5l-117-58l-101-5z"/><path fill="#f8d92b" d="M3417,1725l101-36l-117-35l-101,36z"/><path fill="#fec835" stroke-width="28" d="M5895,1935l101-1l-116-55l-101,1z"/><path fill="#febf3c" d="M2663,1794l101-45l-116-30l-101,45z"/><path fill="#f6df29" d="M5142,1802l101-11l-117-49l-101,10z"/><path fill="#70cd65" stroke-width="26" d="M7620,2385l101,8l-117-61l-101-7z"/><path fill="#c9c129" d="M1910,1901l101-50l-117-27l-101,50z"/><path fill="#f5e725" d="M4388,1730l101-22l-117-43l-101,22z"/><path fill="#cbc029" stroke-width="26" d="M6866,2178l101,5l-116-59l-101-6z"/><path fill="#f6df29" d="M3634,1725l101-33l-116-37l-101,34z"/><path fill="#fec03b" stroke-width="28" d="M6113,1990l101,1l-117-57l-101,0z"/><path fill="#fec736" d="M2881,1780l101-43l-117-31l-101,43z"/><path fill="#f8da2b" d="M5359,1843l101-8l-116-51l-101,7z"/><path fill="#dcbd29" d="M2127,1879l101-49l-116-28l-101,49z"/><path fill="#f5e725" d="M4605,1753l101-19l-116-45l-101,19z"/><path fill="#b5c533" stroke-width="26" d="M7084,2244l101,6l-117-60l-101-7z"/><path fill="#f5e327" d="M3852,1730l101-30l-117-39l-101,31z"/><path fill="#f7ba3c" stroke-width="28" d="M6330,2049l101,2l-116-58l-101-2z"/><path fill="#fcce31" d="M3098,1770l101-41l-116-33l-101,41z"/><path fill="#fad42e" stroke-width="30" d="M5577,1888l101-5l-117-53l-101,5z"/><path fill="#edba33" d="M2345,1859l101-49l-117-28l-101,48z"/><path fill="#f5e526" d="M4823,1782l101-16l-117-48l-101,16z"/><path fill="#9cc944" stroke-width="26" d="M7301,2311l101,6l-116-60l-101-7z"/><path fill="#f5e626" d="M4069,1740l101-28l-116-40l-101,28z"/><path fill="#e9bb30" stroke-width="28" d="M6548,2110l101,3l-117-58l-101-4z"/><path fill="#fad52d" d="M3316,1764l101-39l-117-35l-101,39z"/><path fill="#fdcd32" stroke-width="30" d="M5794,1938l101-3l-116-55l-101,3z"/><path fill="#fabb3d" d="M2562,1841l101-47l-116-30l-101,46z"/><path fill="#f5e228" d="M5041,1815l101-13l-117-50l-101,14z"/><path fill="#81cc58" stroke-width="26" d="M7519,2379l101,6l-117-60l-101-8z"/><path fill="#bbc430" d="M1809,1953l101-52l-117-27l-101,51z"/><path fill="#f5e725" d="M4287,1755l101-25l-117-43l-101,25z"/><path fill="#d8be28" stroke-width="28" d="M6765,2173l101,5l-116-60l-101-5z"/><path fill="#f7dc2a" d="M3533,1762l101-37l-116-36l-101,36z"/><path fill="#fec537" stroke-width="30" d="M6012,1991l101-1l-117-56l-101,1z"/><path fill="#fec239" d="M2780,1826l101-46l-117-31l-101,45z"/><path fill="#f6de29" d="M5258,1853l101-10l-116-52l-101,11z"/><path fill="#d0bf27" d="M2026,1930l101-51l-116-28l-101,50z"/><path fill="#f5e725" d="M4504,1775l101-22l-116-45l-101,22z"/><path fill="#c4c22b" stroke-width="28" d="M6983,2239l101,5l-117-61l-101-5z"/><path fill="#f6e028" d="M3751,1764l101-34l-117-38l-101,33z"/><path fill="#fdbd3d" stroke-width="30" d="M6229,2048l101,1l-116-58l-101-1z"/><path fill="#feca33" d="M2997,1814l101-44l-116-33l-101,43z"/><path fill="#f9d82c" d="M5476,1896l101-8l-117-53l-101,8z"/><path fill="#e3bc2c" d="M2244,1909l101-50l-117-29l-101,49z"/><path fill="#f5e626" d="M4722,1801l101-19l-117-48l-101,19z"/><path fill="#acc738" stroke-width="28" d="M7200,2305l101,6l-116-61l-101-6z"/><path fill="#f5e427" d="M3968,1771l101-31l-116-40l-101,30z"/><path fill="#f2ba38" stroke-width="28" d="M6447,2108l101,2l-117-59l-101-2z"/><path fill="#fcd12f" d="M3215,1805l101-41l-117-35l-101,41z"/><path fill="#fbd12f" d="M5693,1944l101-6l-116-55l-101,5z"/><path fill="#f2ba38" d="M2461,1889l101-48l-116-31l-101,49z"/><path fill="#f5e427" d="M4940,1831l101-16l-117-49l-101,16z"/><path fill="#92ca4b" stroke-width="28" d="M7418,2373l101,6l-117-62l-101-6z"/><path fill="#abc739" d="M1708,2005l101-52l-117-28l-101,51z"/><path fill="#f5e626" d="M4186,1783l101-28l-117-43l-101,28z"/><path fill="#e3bc2c" stroke-width="28" d="M6664,2170l101,3l-116-60l-101-3z"/><path fill="#f9d82c" d="M3432,1801l101-39l-116-37l-101,39z"/><path fill="#feca33" stroke-width="30" d="M5911,1995l101-4l-117-56l-101,3z"/><path fill="#fdbd3d" d="M2679,1873l101-47l-117-32l-101,47z"/><path fill="#f6e028" d="M5157,1867l101-14l-116-51l-101,13z"/><path fill="#c3c22b" d="M1925,1982l101-52l-116-29l-101,52z"/><path fill="#f5e725" d="M4403,1800l101-25l-116-45l-101,25z"/><path fill="#d1bf27" stroke-width="28" d="M6882,2235l101,4l-117-61l-101-5z"/><path fill="#f7dd2a" d="M3650,1800l101-36l-117-39l-101,37z"/><path fill="#fec239" stroke-width="30" d="M6128,2050l101-2l-116-58l-101,1z"/><path fill="#fec437" d="M2896,1859l101-45l-116-34l-101,46z"/><path fill="#f7db2a" d="M5375,1907l101-11l-117-53l-101,10z"/><path fill="#d7be28" d="M2143,1960l101-51l-117-30l-101,51z"/><path fill="#f5e725" d="M4621,1823l101-22l-117-48l-101,22z"/><path fill="#bbc430" stroke-width="28" d="M7099,2301l101,4l-116-61l-101-5z"/><path fill="#f5e128" d="M3867,1805l101-34l-116-41l-101,34z"/><path fill="#fabb3d" stroke-width="30" d="M6346,2108l101,0l-117-59l-101-1z"/><path fill="#fdcc32" d="M3114,1849l101-44l-117-35l-101,44z"/><path fill="#fad52d" d="M5592,1952l101-8l-116-56l-101,8z"/><path fill="#e8bb2f" d="M2360,1940l101-51l-116-30l-101,50z"/><path fill="#f5e526" d="M4839,1850l101-19l-117-49l-101,19z"/><path fill="#a2c83f" stroke-width="28" d="M7317,2368l101,5l-117-62l-101-6z"/><path fill="#9bc945" d="M1607,2058l101-53l-117-29l-101,53z"/><path fill="#f5e426" d="M4085,1814l101-31l-117-43l-101,31z"/><path fill="#ecba33" stroke-width="30" d="M6563,2169l101,1l-116-60l-101-2z"/><path fill="#fbd32e" d="M3331,1842l101-41l-116-37l-101,41z"/><path fill="#fdce31" d="M5810,2001l101-6l-117-57l-101,6z"/><path fill="#f6ba3b" d="M2578,1922l101-49l-117-32l-101,48z"/><path fill="#f5e227" d="M5056,1883l101-16l-116-52l-101,16z"/><path fill="#b4c534" d="M1824,2035l101-53l-116-29l-101,52z"/><path fill="#f5e626" d="M4302,1828l101-28l-116-45l-101,28z"/><path fill="#dcbd29" stroke-width="30" d="M6781,2232l101,3l-117-62l-101-3z"/><path fill="#f8d92b" d="M3549,1839l101-39l-117-38l-101,39z"/><path fill="#fec636" d="M6027,2054l101-4l-116-59l-101,4z"/><path fill="#febf3b" d="M2795,1907l101-48l-116-33l-101,47z"/><path fill="#f6de29" d="M5274,1921l101-14l-117-54l-101,14z"/><path fill="#cac129" d="M2042,2012l101-52l-117-30l-101,52z"/><path fill="#f5e725" d="M4520,1848l101-25l-117-48l-101,25z"/><path fill="#c8c129" stroke-width="28" d="M6998,2298l101,3l-116-62l-101-4z"/><path fill="#f6de29" d="M3766,1841l101-36l-116-41l-101,36z"/><path fill="#febe3c" d="M6245,2110l101-2l-117-60l-101,2z"/><path fill="#fec736" d="M3013,1894l101-45l-117-35l-101,45z"/><path fill="#f8d92c" d="M5491,1963l101-11l-116-56l-101,11z"/><path fill="#ddbd29" d="M2259,1991l101-51l-116-31l-101,51z"/><path fill="#f5e626" d="M4738,1872l101-22l-117-49l-101,22z"/><path fill="#b1c635" stroke-width="28" d="M7216,2364l101,4l-117-63l-101-4z"/><path fill="#f5e227" d="M3984,1848l101-34l-117-43l-101,34z"/><path fill="#f5ba3a" stroke-width="30" d="M6462,2170l101-1l-116-61l-101,0z"/><path fill="#fdce31" d="M3230,1886l101-44l-116-37l-101,44z"/><path fill="#fbd22f" d="M5709,2009l101-8l-117-57l-101,8z"/><path fill="#edba33" d="M2477,1972l101-50l-117-33l-101,51z"/><path fill="#f5e427" d="M4955,1902l101-19l-116-52l-101,19z"/><path fill="#a3c83f" d="M1723,2089l101-54l-116-30l-101,53z"/><path fill="#f5e426" d="M4201,1859l101-31l-116-45l-101,31z"/><path fill="#e6bb2d" stroke-width="30" d="M6680,2232l101,0l-117-62l-101-1z"/><path fill="#fad52e" d="M3448,1881l101-42l-117-38l-101,41z"/><path fill="#fdcb33" d="M5926,2060l101-6l-116-59l-101,6z"/><path fill="#f9bb3d" d="M2694,1956l101-49l-116-34l-101,49z"/><path fill="#f6e028" d="M5173,1937l101-16l-117-54l-101,16z"/><path fill="#bbc430" d="M1941,2066l101-54l-117-30l-101,53z"/><path fill="#f5e626" d="M4419,1876l101-28l-117-48l-101,28z"/><path fill="#d4bf28" stroke-width="30" d="M6897,2296l101,2l-116-63l-101-3z"/><path fill="#f8da2b" d="M3665,1880l101-39l-116-41l-101,39z"/><path fill="#fec339" d="M6144,2115l101-5l-117-60l-101,4z"/><path fill="#fec13a" d="M2912,1942l101-48l-117-35l-101,48z"/><path fill="#f7db2a" d="M5390,1976l101-13l-116-56l-101,14z"/><path fill="#d0bf27" d="M2158,2044l101-53l-116-31l-101,52z"/><path fill="#f5e526" d="M4637,1897l101-25l-117-49l-101,25z"/><path fill="#bfc32d" stroke-width="30" d="M7115,2361l101,3l-117-63l-101-3z"/><path fill="#f6df29" d="M3883,1884l101-36l-117-43l-101,36z"/><path fill="#fbbc3d" d="M6361,2172l101-2l-116-62l-101,2z"/><path fill="#fec934" d="M3129,1932l101-46l-116-37l-101,45z"/><path fill="#fad52d" d="M5608,2020l101-11l-117-57l-101,11z"/><path fill="#e2bc2b" d="M2376,2024l101-52l-117-32l-101,51z"/><path fill="#f5e427" d="M4854,1924l101-22l-116-52l-101,22z"/><path fill="#f5e227" d="M4100,1893l101-34l-116-45l-101,34z"/><path fill="#eeba35" d="M6579,2233l101-1l-117-63l-101,1z"/><path fill="#fcd030" d="M3347,1925l101-44l-117-39l-101,44z"/><path fill="#fcce31" d="M5825,2069l101-9l-116-59l-101,8z"/><path fill="#f1ba36" d="M2593,2007l101-51l-116-34l-101,50z"/><path fill="#f5e128" d="M5072,1956l101-19l-117-54l-101,19z"/><path fill="#aac73a" d="M1840,2120l101-54l-117-31l-101,54z"/><path fill="#f5e427" d="M4318,1906l101-30l-117-48l-101,31z"/><path fill="#debc2a" d="M6796,2295l101,1l-116-64l-101,0z"/><path fill="#fad62d" d="M3564,1922l101-42l-116-41l-101,42z"/><path fill="#fec735" d="M6043,2121l101-6l-117-61l-101,6z"/><path fill="#fbbc3d" d="M2811,1992l101-50l-117-35l-101,49z"/><path fill="#f6dd29" d="M5289,1993l101-17l-116-55l-101,16z"/><path fill="#c1c32c" d="M2057,2098l101-54l-116-32l-101,54z"/><path fill="#f5e426" d="M4536,1925l101-28l-117-49l-101,28z"/><path fill="#cbc129" stroke-width="30" d="M7014,2360l101,1l-117-63l-101-2z"/><path fill="#f7db2b" d="M3782,1923l101-39l-117-43l-101,39z"/><path fill="#febf3c" d="M6260,2177l101-5l-116-62l-101,5z"/><path fill="#fec338" d="M3028,1979l101-47l-116-38l-101,48z"/><path fill="#f9d82c" d="M5507,2034l101-14l-117-57l-101,13z"/><path fill="#d5be28" d="M2275,2078l101-54l-117-33l-101,53z"/><path fill="#f5e427" d="M4753,1949l101-25l-116-52l-101,25z"/><path fill="#f6df29" d="M3999,1929l101-36l-116-45l-101,36z"/><path fill="#f6ba3b" d="M6478,2235l101-2l-117-63l-101,2z"/><path fill="#feca33" d="M3246,1971l101-46l-117-39l-101,46z"/><path fill="#fbd22f" d="M5724,2080l101-11l-116-60l-101,11z"/><path fill="#e6bb2d" d="M2492,2059l101-52l-116-35l-101,52z"/><path fill="#f5e228" d="M4971,1978l101-22l-117-54l-101,22z"/><path fill="#f5e128" d="M4217,1940l101-34l-117-47l-101,34z"/><path fill="#e7bb2e" d="M6695,2297l101-2l-116-63l-101,1z"/><path fill="#fcd12f" d="M3463,1966l101-44l-116-41l-101,44z"/><path fill="#fdca33" d="M5942,2130l101-9l-117-61l-101,9z"/><path fill="#f4ba39" d="M2710,2043l101-51l-117-36l-101,51z"/><path fill="#f6df29" d="M5188,2012l101-19l-116-56l-101,19z"/><path fill="#b1c636" d="M1956,2153l101-55l-116-32l-101,54z"/><path fill="#f5e327" d="M4435,1956l101-31l-117-49l-101,30z"/><path fill="#d6be28" d="M6913,2360l101,0l-117-64l-101-1z"/><path fill="#f9d62d" d="M3681,1965l101-42l-117-43l-101,42z"/><path fill="#fec339" d="M6159,2183l101-6l-116-62l-101,6z"/><path fill="#fdbd3d" d="M2927,2029l101-50l-116-37l-101,50z"/><path fill="#f8da2b" d="M5406,2050l101-16l-117-58l-101,17z"/><path fill="#c7c12a" d="M2174,2132l101-54l-117-34l-101,54z"/><path fill="#f5e327" d="M4652,1977l101-28l-116-52l-101,28z"/><path fill="#f7db2b" d="M3898,1968l101-39l-116-45l-101,39z"/><path fill="#fbbc3d" d="M6377,2240l101-5l-117-63l-101,5z"/><path fill="#fec437" d="M3145,2019l101-48l-117-39l-101,47z"/><path fill="#fad42e" d="M5623,2094l101-14l-116-60l-101,14z"/><path fill="#d9bd28" d="M2391,2113l101-54l-116-35l-101,54z"/><path fill="#f5e228" d="M4870,2003l101-25l-117-54l-101,25z"/><path fill="#f6de29" d="M4116,1976l101-36l-117-47l-101,36z"/><path fill="#efba35" d="M6594,2300l101-3l-116-64l-101,2z"/><path fill="#fdcb33" d="M3362,2012l101-46l-116-41l-101,46z"/><path fill="#fdce31" d="M5841,2141l101-11l-117-61l-101,11z"/><path fill="#e9bb30" d="M2609,2095l101-52l-117-36l-101,52z"/><path fill="#f6df29" d="M5087,2034l101-22l-116-56l-101,22z"/><path fill="#f6e028" d="M4334,1989l101-33l-117-50l-101,34z"/><path fill="#dfbc2a" d="M6812,2362l101-2l-117-65l-101,2z"/><path fill="#fbd12f" d="M3580,2009l101-44l-117-43l-101,44z"/><path fill="#fec636" d="M6058,2193l101-10l-116-62l-101,9z"/><path fill="#f6ba3b" d="M2826,2081l101-52l-116-37l-101,51z"/><path fill="#f7db2a" d="M5305,2070l101-20l-117-57l-101,19z"/><path fill="#b6c532" d="M2073,2187l101-55l-117-34l-101,55z"/><path fill="#f5e128" d="M4551,2007l101-30l-116-52l-101,31z"/><path fill="#f9d62d" d="M3797,2010l101-42l-116-45l-101,42z"/><path fill="#febe3c" d="M6276,2248l101-8l-117-63l-101,6z"/><path fill="#febe3c" d="M3044,2069l101-50l-117-40l-101,50z"/><path fill="#f9d62d" d="M5522,2110l101-16l-116-60l-101,16z"/><path fill="#cbc029" d="M2290,2167l101-54l-116-35l-101,54z"/><path fill="#f6e128" d="M4769,2031l101-28l-117-54l-101,28z"/><path fill="#f8da2b" d="M4015,2015l101-39l-117-47l-101,39z"/><path fill="#f5ba3a" d="M6493,2306l101-6l-116-65l-101,5z"/><path fill="#fec537" d="M3261,2060l101-48l-116-41l-101,48z"/><path fill="#fcd030" d="M5740,2155l101-14l-117-61l-101,14z"/><path fill="#ddbd29" d="M2508,2149l101-54l-117-36l-101,54z"/><path fill="#f6df29" d="M4986,2059l101-25l-116-56l-101,25z"/><path fill="#f7dd2a" d="M4233,2026l101-37l-117-49l-101,36z"/><path fill="#e7bb2e" d="M6711,2366l101-4l-117-65l-101,3z"/><path fill="#fdcc32" d="M3479,2055l101-46l-117-43l-101,46z"/><path fill="#fec934" d="M5957,2204l101-11l-116-63l-101,11z"/><path fill="#ecba32" d="M2725,2133l101-52l-116-38l-101,52z"/><path fill="#f7dc2a" d="M5204,2092l101-22l-117-58l-101,22z"/><path fill="#f6df29" d="M4450,2041l101-34l-116-51l-101,33z"/><path fill="#fbd12f" d="M3696,2054l101-44l-116-45l-101,44z"/><path fill="#fec239" d="M6175,2257l101-9l-117-65l-101,10z"/><path fill="#f8ba3d" d="M2943,2120l101-51l-117-40l-101,52z"/><path fill="#f9d72c" d="M5421,2129l101-19l-116-60l-101,20z"/><path fill="#bbc42f" d="M2189,2223l101-56l-116-35l-101,55z"/><path fill="#f6df29" d="M4668,2061l101-30l-117-54l-101,30z"/><path fill="#fad62d" d="M3914,2057l101-42l-117-47l-101,42z"/><path fill="#fabb3d" d="M6392,2313l101-7l-116-66l-101,8z"/><path fill="#febf3b" d="M3160,2110l101-50l-116-41l-101,50z"/><path fill="#fbd22f" d="M5639,2172l101-17l-117-61l-101,16z"/><path fill="#cfc028" d="M2407,2204l101-55l-117-36l-101,54z"/><path fill="#f6de29" d="M4885,2086l101-27l-116-56l-101,28z"/><path fill="#f8d92b" d="M4132,2065l101-39l-117-50l-101,39z"/><path fill="#eeba34" d="M6610,2372l101-6l-117-66l-101,6z"/><path fill="#fec636" d="M3378,2103l101-48l-117-43l-101,48z"/><path fill="#fdcc32" d="M5856,2218l101-14l-116-63l-101,14z"/><path fill="#e0bc2a" d="M2624,2187l101-54l-116-38l-101,54z"/><path fill="#f7dc2a" d="M5103,2117l101-25l-117-58l-101,25z"/><path fill="#f7dc2a" d="M4349,2077l101-36l-116-52l-101,37z"/><path fill="#fdcc32" d="M3595,2100l101-46l-116-45l-101,46z"/><path fill="#fec437" d="M6074,2269l101-12l-117-64l-101,11z"/><path fill="#eeba34" d="M2842,2173l101-53l-117-39l-101,52z"/><path fill="#f9d82c" d="M5320,2152l101-23l-116-59l-101,22z"/><path fill="#f7dd2a" d="M4567,2095l101-34l-117-54l-101,34z"/><path fill="#fcd12f" d="M3813,2101l101-44l-117-47l-101,44z"/><path fill="#fdbd3d" d="M6291,2323l101-10l-116-65l-101,9z"/><path fill="#f9bb3d" d="M3059,2161l101-51l-116-41l-101,51z"/><path fill="#fbd32e" d="M5538,2191l101-19l-117-62l-101,19z"/><path fill="#bfc32d" d="M2306,2260l101-56l-117-37l-101,56z"/><path fill="#f7dc2a" d="M4784,2117l101-31l-116-55l-101,30z"/><path fill="#fad52e" d="M4031,2106l101-41l-117-50l-101,42z"/><path fill="#f3ba39" d="M6509,2380l101-8l-117-66l-101,7z"/><path fill="#fec03b" d="M3277,2153l101-50l-117-43l-101,50z"/><path fill="#fdcd31" d="M5755,2235l101-17l-116-63l-101,17z"/><path fill="#d2bf27" d="M2523,2243l101-56l-116-38l-101,55z"/><path fill="#f7db2b" d="M5002,2144l101-27l-117-58l-101,27z"/><path fill="#f9d82c" d="M4248,2116l101-39l-116-51l-101,39z"/><path fill="#fec636" d="M3494,2148l101-48l-116-45l-101,48z"/><path fill="#fec736" d="M5973,2283l101-14l-117-65l-101,14z"/><path fill="#e2bc2b" d="M2741,2227l101-54l-117-40l-101,54z"/><path fill="#f9d82c" d="M5219,2176l101-24l-116-60l-101,25z"/><path fill="#f8d92b" d="M4466,2131l101-36l-117-54l-101,36z"/><path fill="#fdcb33" d="M3712,2147l101-46l-117-47l-101,46z"/><path fill="#fec03b" d="M6190,2335l101-12l-116-66l-101,12z"/><path fill="#efba35" d="M2958,2214l101-53l-116-41l-101,53z"/><path fill="#fad42e" d="M5437,2213l101-22l-117-62l-101,23z"/><path fill="#f8da2b" d="M4683,2150l101-33l-116-56l-101,34z"/><path fill="#fcd030" d="M3930,2150l101-44l-117-49l-101,44z"/><path fill="#f8ba3d" d="M6408,2390l101-10l-117-67l-101,10z"/><path fill="#f9bb3d" d="M3176,2204l101-51l-117-43l-101,51z"/><path fill="#fccf31" d="M5654,2254l101-19l-116-63l-101,19z"/><path fill="#c2c22c" d="M2422,2299l101-56l-116-39l-101,56z"/><path fill="#f8d92c" d="M4901,2175l101-31l-117-58l-101,31z"/><path fill="#fbd32e" d="M4147,2157l101-41l-116-51l-101,41z"/><path fill="#fec03b" d="M3393,2198l101-50l-116-45l-101,50z"/><path fill="#fec834" d="M5872,2300l101-17l-117-65l-101,17z"/><path fill="#d4bf28" d="M2640,2283l101-56l-117-40l-101,56z"/><path fill="#f9d72d" d="M5118,2204l101-28l-116-59l-101,27z"/><path fill="#fad62d" d="M4365,2169l101-38l-117-54l-101,39z"/><path fill="#fec537" d="M3611,2195l101-48l-117-47l-101,48z"/><path fill="#fec239" d="M6089,2349l101-14l-116-66l-101,14z"/><path fill="#e3bb2c" d="M2857,2269l101-55l-116-41l-101,54z"/><path fill="#fbd32e" d="M5336,2238l101-25l-117-61l-101,24z"/><path fill="#f9d72d" d="M4582,2186l101-36l-116-55l-101,36z"/><path fill="#feca33" d="M3829,2196l101-46l-117-49l-101,46z"/><path fill="#fbbc3d" d="M6307,2402l101-12l-117-67l-101,12z"/><path fill="#f0ba36" d="M3075,2258l101-54l-117-43l-101,53z"/><path fill="#fccf30" d="M5553,2276l101-22l-116-63l-101,22z"/><path fill="#f9d72d" d="M4800,2208l101-33l-117-58l-101,33z"/><path fill="#fdce31" d="M4046,2201l101-44l-116-51l-101,44z"/><path fill="#f9bb3d" d="M3292,2249l101-51l-116-45l-101,51z"/><path fill="#feca34" d="M5771,2319l101-19l-117-65l-101,19z"/><path fill="#c5c22a" d="M2539,2339l101-56l-117-40l-101,56z"/><path fill="#fad52d" d="M5017,2234l101-30l-116-60l-101,31z"/><path fill="#fcd12f" d="M4264,2210l101-41l-117-53l-101,41z"/><path fill="#febf3b" d="M3510,2245l101-50l-117-47l-101,50z"/><path fill="#fec338" d="M5988,2366l101-17l-116-66l-101,17z"/><path fill="#d6be28" d="M2756,2324l101-55l-116-42l-101,56z"/><path fill="#fbd32f" d="M5235,2265l101-27l-117-62l-101,28z"/><path fill="#fbd32e" d="M4481,2225l101-39l-116-55l-101,38z"/><path fill="#fec437" d="M3728,2244l101-48l-117-49l-101,48z"/><path fill="#fdbd3d" d="M6206,2417l101-15l-117-67l-101,14z"/><path fill="#e4bb2c" d="M2974,2312l101-54l-117-44l-101,55z"/><path fill="#fccf30" d="M5452,2301l101-25l-116-63l-101,25z"/><path fill="#fbd32e" d="M4699,2243l101-35l-117-58l-101,36z"/><path fill="#fec934" d="M3945,2247l101-46l-116-51l-101,46z"/><path fill="#f0ba36" d="M3191,2302l101-53l-116-45l-101,54z"/><path fill="#feca33" d="M5670,2341l101-22l-117-65l-101,22z"/><path fill="#fbd32e" d="M4916,2267l101-33l-116-59l-101,33z"/><path fill="#fdcc32" d="M4163,2254l101-44l-117-53l-101,44z"/><path fill="#f9bb3d" d="M3409,2296l101-51l-117-47l-101,51z"/><path fill="#fec437" d="M5887,2386l101-20l-116-66l-101,19z"/><path fill="#c6c22a" d="M2655,2380l101-56l-116-41l-101,56z"/><path fill="#fcd12f" d="M5134,2296l101-31l-117-61l-101,30z"/><path fill="#fccf31" d="M4380,2265l101-40l-116-56l-101,41z"/><path fill="#febe3c" d="M3627,2293l101-49l-117-49l-101,50z"/><path fill="#febe3c" d="M6105,2434l101-17l-117-68l-101,17z"/><path fill="#d7be28" d="M2873,2367l101-55l-117-43l-101,55z"/><path fill="#fdce31" d="M5351,2329l101-28l-116-63l-101,27z"/><path fill="#fcd030" d="M4598,2282l101-39l-117-57l-101,39z"/><path fill="#fec338" d="M3844,2294l101-47l-116-51l-101,48z"/><path fill="#e4bb2c" d="M3090,2357l101-55l-116-44l-101,54z"/><path fill="#feca33" d="M5569,2366l101-25l-117-65l-101,25z"/><path fill="#fcd030" d="M4815,2303l101-36l-116-59l-101,35z"/><path fill="#fec735" d="M4062,2299l101-45l-117-53l-101,46z"/><path fill="#efba35" d="M3308,2349l101-53l-117-47l-101,53z"/><path fill="#fec537" d="M5786,2408l101-22l-116-67l-101,22z"/><path fill="#fccf31" d="M5033,2328l101-32l-117-62l-101,33z"/><path fill="#feca33" d="M4279,2309l101-44l-116-55l-101,44z"/><path fill="#f8ba3d" d="M3526,2345l101-52l-117-48l-101,51z"/><path fill="#febf3b" d="M6004,2453l101-19l-117-68l-101,20z"/><path fill="#c7c12a" d="M2772,2424l101-57l-117-43l-101,56z"/><path fill="#fdcc32" d="M5250,2359l101-30l-116-64l-101,31z"/><path fill="#fdcc32" d="M4497,2322l101-40l-117-57l-101,40z"/><path fill="#fdbd3d" d="M3743,2344l101-50l-116-50l-101,49z"/><path fill="#d7be28" d="M2989,2412l101-55l-116-45l-101,55z"/><path fill="#fec934" d="M5468,2393l101-27l-117-65l-101,28z"/><path fill="#fdcc32" d="M4714,2341l101-38l-116-60l-101,39z"/><path fill="#fec13a" d="M3961,2347l101-48l-117-52l-101,47z"/><path fill="#e3bb2c" d="M3207,2403l101-54l-117-47l-101,55z"/><path fill="#fec537" d="M5685,2432l101-24l-116-67l-101,25z"/><path fill="#fdcc32" d="M4932,2364l101-36l-117-61l-101,36z"/><path fill="#fec537" d="M4178,2354l101-45l-116-55l-101,45z"/><path fill="#eeba34" d="M3425,2397l101-52l-117-49l-101,53z"/><path fill="#febf3b" d="M5903,2476l101-23l-117-67l-101,22z"/><path fill="#feca33" d="M5149,2391l101-32l-116-63l-101,32z"/><path fill="#fec735" d="M4396,2365l101-43l-117-57l-101,44z"/><path fill="#f6ba3b" d="M3642,2395l101-51l-116-51l-101,52z"/><path fill="#c7c12a" d="M2888,2468l101-56l-116-45l-101,57z"/><path fill="#fec835" d="M5367,2423l101-30l-117-64l-101,30z"/><path fill="#fec835" d="M4613,2381l101-40l-116-59l-101,40z"/><path fill="#fcbc3d" d="M3860,2396l101-49l-117-53l-101,50z"/><path fill="#d6be28" d="M3106,2459l101-56l-117-46l-101,55z"/><path fill="#fec438" d="M5584,2460l101-28l-116-66l-101,27z"/><path fill="#fec834" d="M4831,2401l101-37l-117-61l-101,38z"/><path fill="#febf3b" d="M4077,2401l101-47l-116-55l-101,48z"/><path fill="#e2bc2b" d="M3324,2452l101-55l-117-48l-101,54z"/><path fill="#febf3b" d="M5802,2500l101-24l-117-68l-101,24z"/><path fill="#fec735" d="M5048,2426l101-35l-116-63l-101,36z"/><path fill="#fec239" d="M4295,2410l101-45l-117-56l-101,45z"/><path fill="#ecba32" d="M3541,2448l101-53l-116-50l-101,52z"/><path fill="#fec536" d="M5266,2456l101-33l-117-64l-101,32z"/><path fill="#fec438" d="M4512,2424l101-43l-116-59l-101,43z"/><path fill="#f4ba39" d="M3759,2447l101-51l-117-52l-101,51z"/><path fill="#c6c22a" d="M3005,2515l101-56l-117-47l-101,56z"/><path fill="#fec239" d="M5483,2489l101-29l-116-67l-101,30z"/><path fill="#fec437" d="M4730,2441l101-40l-117-60l-101,40z"/><path fill="#f9bb3d" d="M3976,2450l101-49l-116-54l-101,49z"/><path fill="#d4bf28" d="M3223,2507l101-55l-117-49l-101,56z"/><path fill="#febf3c" d="M5701,2527l101-27l-117-68l-101,28z"/><path fill="#fec437" d="M4947,2464l101-38l-116-62l-101,37z"/><path fill="#fdbd3d" d="M4194,2457l101-47l-117-56l-101,47z"/><path fill="#e0bc2a" d="M3440,2501l101-53l-116-51l-101,55z"/><path fill="#fec338" d="M5165,2490l101-34l-117-65l-101,35z"/><path fill="#febf3c" d="M4411,2468l101-44l-116-59l-101,45z"/><path fill="#e9bb30" d="M3658,2499l101-52l-117-52l-101,53z"/><path fill="#fec13a" d="M5382,2521l101-32l-116-66l-101,33z"/><path fill="#fec03b" d="M4629,2484l101-43l-117-60l-101,43z"/><path fill="#f1ba37" d="M3875,2501l101-51l-116-54l-101,51z"/><path fill="#c5c22a" d="M3122,2563l101-56l-117-48l-101,56z"/><path fill="#febd3c" d="M5600,2557l101-30l-117-67l-101,29z"/><path fill="#fec03a" d="M4846,2503l101-39l-116-63l-101,40z"/><path fill="#f6ba3b" d="M4093,2506l101-49l-117-56l-101,49z"/><path fill="#d2bf27" d="M3339,2556l101-55l-116-49l-101,55z"/><path fill="#fec03b" d="M5064,2528l101-38l-117-64l-101,38z"/><path fill="#fabb3d" d="M4310,2515l101-47l-116-58l-101,47z"/><path fill="#ddbd29" d="M3557,2553l101-54l-117-51l-101,53z"/><path fill="#febe3c" d="M5281,2556l101-35l-116-65l-101,34z"/><path fill="#fcbc3d" d="M4528,2528l101-44l-117-60l-101,44z"/><path fill="#e6bb2d" d="M3774,2553l101-52l-116-54l-101,52z"/><path fill="#fcbc3d" d="M5499,2589l101-32l-117-68l-101,32z"/><path fill="#fcbd3d" d="M4745,2545l101-42l-116-62l-101,43z"/><path fill="#edba33" d="M3992,2556l101-50l-117-56l-101,51z"/><path fill="#c2c22b" d="M3238,2612l101-56l-116-49l-101,56z"/><path fill="#fcbd3d" d="M4963,2567l101-39l-117-64l-101,39z"/><path fill="#f2ba38" d="M4209,2563l101-48l-116-58l-101,49z"/><path fill="#cfc028" d="M3456,2608l101-55l-117-52l-101,55z"/><path fill="#fbbc3d" d="M5180,2593l101-37l-116-66l-101,38z"/><path fill="#f5ba3b" d="M4427,2574l101-46l-117-60l-101,47z"/><path fill="#dabd28" d="M3673,2606l101-53l-116-54l-101,54z"/><path fill="#f9bb3d" d="M5398,2623l101-34l-117-68l-101,35z"/><path fill="#f8ba3d" d="M4644,2589l101-44l-116-61l-101,44z"/><path fill="#e2bc2b" d="M3891,2608l101-52l-117-55l-101,52z"/><path fill="#f8ba3d" d="M4862,2608l101-41l-117-64l-101,42z"/><path fill="#e8bb2f" d="M4108,2613l101-50l-116-57l-101,50z"/><path fill="#bfc32d" d="M3355,2663l101-55l-117-52l-101,56z"/><path fill="#f7ba3d" d="M5079,2632l101-39l-116-65l-101,39z"/><path fill="#edba33" d="M4326,2622l101-48l-117-59l-101,48z"/><path fill="#cbc029" d="M3572,2660l101-54l-116-53l-101,55z"/><path fill="#f5ba3b" d="M5297,2659l101-36l-117-67l-101,37z"/><path fill="#f0ba36" d="M4543,2635l101-46l-116-61l-101,46z"/><path fill="#d5be28" d="M3790,2661l101-53l-117-55l-101,53z"/><path fill="#f1ba37" d="M4761,2652l101-44l-117-63l-101,44z"/><path fill="#ddbd29" d="M4007,2664l101-51l-116-57l-101,52z"/><path fill="#f1ba37" d="M4978,2673l101-41l-116-65l-101,41z"/><path fill="#e3bc2c" d="M4225,2671l101-49l-117-59l-101,50z"/><path fill="#bbc42f" d="M3471,2716l101-56l-116-52l-101,55z"/><path fill="#f0ba36" d="M5196,2698l101-39l-117-66l-101,39z"/><path fill="#e7bb2e" d="M4442,2682l101-47l-116-61l-101,48z"/><path fill="#c7c12a" d="M3689,2715l101-54l-117-55l-101,54z"/><path fill="#e9bb30" d="M4660,2697l101-45l-117-63l-101,46z"/><path fill="#d0bf27" d="M3906,2717l101-53l-116-56l-101,53z"/><path fill="#eaba31" d="M4877,2716l101-43l-116-65l-101,44z"/><path fill="#d7be28" d="M4124,2722l101-51l-117-58l-101,51z"/><path fill="#eabb30" d="M5095,2739l101-41l-117-66l-101,41z"/><path fill="#ddbd29" d="M4341,2731l101-49l-116-60l-101,49z"/><path fill="#b7c532" d="M3588,2769l101-54l-117-55l-101,56z"/><path fill="#e0bc2a" d="M4559,2744l101-47l-117-62l-101,47z"/><path fill="#c1c32c" d="M3805,2770l101-53l-116-56l-101,54z"/><path fill="#e2bc2b" d="M4776,2761l101-45l-116-64l-101,45z"/><path fill="#cac129" d="M4023,2774l101-52l-117-58l-101,53z"/><path fill="#e2bc2b" d="M4994,2781l101-42l-117-66l-101,43z"/><path fill="#d1bf27" d="M4240,2782l101-51l-116-60l-101,51z"/><path fill="#d5be28" d="M4458,2792l101-48l-117-62l-101,49z"/><path fill="#b1c635" d="M3704,2825l101-55l-116-55l-101,54z"/><path fill="#d8be28" d="M4675,2807l101-46l-116-64l-101,47z"/><path fill="#bbc430" d="M3922,2827l101-53l-117-57l-101,53z"/><path fill="#dabd28" d="M4893,2825l101-44l-117-65l-101,45z"/><path fill="#c3c22b" d="M4139,2833l101-51l-116-60l-101,52z"/><path fill="#c9c129" d="M4357,2842l101-50l-117-61l-101,51z"/><path fill="#cdc028" d="M4574,2855l101-48l-116-63l-101,48z"/><path fill="#aac739" d="M3821,2881l101-54l-117-57l-101,55z"/><path fill="#cfc028" d="M4792,2871l101-46l-117-64l-101,46z"/><path fill="#b4c534" d="M4038,2885l101-52l-116-59l-101,53z"/><path fill="#bbc42f" d="M4256,2893l101-51l-117-60l-101,51z"/><path fill="#c0c32d" d="M4473,2904l101-49l-116-63l-101,50z"/><path fill="#c4c22b" d="M4691,2918l101-47l-117-64l-101,48z"/><path fill="#a3c83f" d="M3937,2939l101-54l-116-58l-101,54z"/><path fill="#acc739" d="M4155,2945l101-52l-117-60l-101,52z"/><path fill="#b2c535" d="M4372,2954l101-50l-116-62l-101,51z"/><path fill="#b7c532" d="M4590,2967l101-49l-117-63l-101,49z"/><path fill="#9bc945" d="M4054,2998l101-53l-117-60l-101,54z"/><path fill="#a3c83f" d="M4271,3006l101-52l-116-61l-101,52z"/><path fill="#a8c73b" d="M4489,3017l101-50l-117-63l-101,50z"/><path fill="#92ca4c" d="M4170,3058l101-52l-116-61l-101,53z"/><path fill="#99c946" d="M4388,3067l101-50l-117-63l-101,52z"/><path fill="#88cb53" d="M4287,3119l101-52l-117-61l-101,52z"/></g></g>
<path d="M149,319.4L149,89.4M149,319.4L428.7,425.1M428.7,425.1L792.3,343.8M149,319.4L143,317.1M149,204.4L143,202.1M149,89.4L143,87.1M405.4,416.3L399.2,417.9M288.8,372.2L282.7,373.9M172.3,328.2L166.1,329.8M509.5,407L515.3,409.5M610.5,384.5L616.3,386.9M711.5,361.9L717.3,364.3" stroke="#5a5a5a" stroke-width="3" fill="none" filter="url(#bl2)"/>
<g filter="url(#bl3)"><text x="105.5" y="92.2" text-anchor="middle" style="font-family:'Liberation Sans',sans-serif;font-size:26px;fill:#5c5c5c;stroke:#5c5c5c;stroke-width:0.7">200</text><text x="105.5" y="208.9" text-anchor="middle" style="font-family:'Liberation Sans',sans-serif;font-size:26px;fill:#5c5c5c;stroke:#5c5c5c;stroke-width:0.7">100</text><text x="120.5" y="324.4" text-anchor="middle" style="font-family:'Liberation Sans',sans-serif;font-size:26px;fill:#5c5c5c;stroke:#5c5c5c;stroke-width:0.7">0</text><text x="142.3" y="361.4" text-anchor="middle" style="font-family:'Liberation Sans',sans-serif;font-size:26px;fill:#5c5c5c;stroke:#5c5c5c;stroke-width:0.7">1</text><text x="259.8" y="405.8" text-anchor="middle" style="font-family:'Liberation Sans',sans-serif;font-size:26px;fill:#5c5c5c;stroke:#5c5c5c;stroke-width:0.7">0</text><text x="371.3" y="450" text-anchor="middle" style="font-family:'Liberation Sans',sans-serif;font-size:26px;fill:#5c5c5c;stroke:#5c5c5c;stroke-width:0.7">-1</text><text x="539.6" y="444.7" text-anchor="middle" style="font-family:'Liberation Sans',sans-serif;font-size:26px;fill:#5c5c5c;stroke:#5c5c5c;stroke-width:0.7">-1</text><text x="637.3" y="421.5" text-anchor="middle" style="font-family:'Liberation Sans',sans-serif;font-size:26px;fill:#5c5c5c;stroke:#5c5c5c;stroke-width:0.7">0</text><text x="741.7" y="399.5" text-anchor="middle" style="font-family:'Liberation Sans',sans-serif;font-size:26px;fill:#5c5c5c;stroke:#5c5c5c;stroke-width:0.7">1</text><text x="634.8" y="466.3" text-anchor="middle" textLength="86" lengthAdjust="spacingAndGlyphs" style="font-family:'Liberation Serif',serif;fill:#0a0a0a;stroke:#0a0a0a;paint-order:stroke;stroke-width:0.7;font-size:43px">x(/m)</text><text x="262.8" y="448.5" text-anchor="middle" textLength="86" lengthAdjust="spacingAndGlyphs" style="font-family:'Liberation Serif',serif;fill:#0a0a0a;stroke:#0a0a0a;paint-order:stroke;stroke-width:0.7;font-size:43px">y(/m)</text><text transform="translate(55.5,366) rotate(-90)" x="0" y="0" textLength="166.5" lengthAdjust="spacingAndGlyphs" style="font-family:'Liberation Serif',serif;fill:#0a0a0a;stroke:#0a0a0a;paint-order:stroke;stroke-width:1.0;font-size:41px">Illuminance</text><text transform="translate(55.5,181.4) rotate(-90)" x="0" y="0" textLength="109.9" lengthAdjust="spacingAndGlyphs" style="font-family:'Liberation Serif',serif;fill:#0a0a0a;stroke:#0a0a0a;paint-order:stroke;stroke-width:1.0;font-size:41px">(/LUX)</text><text y="102" style="font-family:'Liberation Serif',serif;fill:#0a0a0a;stroke:#0a0a0a;paint-order:stroke;stroke-width:0.9;font-size:40px"><tspan x="277.8" textLength="57" lengthAdjust="spacingAndGlyphs">(A)</tspan><tspan x="350" textLength="95.1" lengthAdjust="spacingAndGlyphs">Warm</tspan><tspan x="462.9" textLength="72.3" lengthAdjust="spacingAndGlyphs">light</tspan><tspan x="546.6" textLength="109" lengthAdjust="spacingAndGlyphs">LED_1</tspan></text></g>
</g>
<g id="panelB">
<path d="M1356.8,406.4L1077.1,300.7M1077.1,300.7L1077.1,70.7M1457.8,383.9L1178.1,278.2M1178.1,278.2L1178.1,48.2M1558.8,361.3L1279.1,255.6M1279.1,255.6L1279.1,25.6M1252.7,415.7L1616.3,334.4M1616.3,334.4L1616.3,104.4M1136.1,371.6L1499.7,290.4M1499.7,290.4L1499.7,60.4M1019.6,327.6L1383.2,246.3M1383.2,246.3L1383.2,16.3M996.3,318.8L1359.9,237.5M1359.9,237.5L1639.6,343.2M996.3,203.8L1359.9,122.5M1359.9,122.5L1639.6,228.2M996.3,88.8L1359.9,7.5M1359.9,7.5L1639.6,113.2" stroke="#e9e9e9" stroke-width="2.6" fill="none" filter="url(#bl2)"/>
<g filter="url(#bl)"><g transform="scale(.1)" stroke="#000" stroke-width="32" stroke-linejoin="round"><path fill="#abc739" stroke-width="24" d="M13615,1244l101,7l-117-28l-101-6z"/><path fill="#b9c430" stroke-width="24" d="M13514,1238l101,6l-117-27l-101-5z"/><path fill="#b3c534" stroke-width="24" d="M13731,1273l101,7l-116-29l-101-7z"/><path fill="#c6c22a" stroke-width="24" d="M13413,1234l101,4l-117-26l-101-5z"/><path fill="#c1c32c" stroke-width="24" d="M13630,1266l101,7l-116-29l-101-6z"/><path fill="#bac430" stroke-width="24" d="M13848,1303l101,7l-117-30l-101-7z"/><path fill="#d1bf27" stroke-width="24" d="M13312,1230l101,4l-117-27l-101-3z"/><path fill="#cdc028" stroke-width="24" d="M13529,1261l101,5l-116-28l-101-4z"/><path fill="#c8c129" stroke-width="24" d="M13747,1295l101,8l-117-30l-101-7z"/><path fill="#c0c32d" stroke-width="24" d="M13964,1333l101,9l-116-32l-101-7z"/><path fill="#dcbd29" stroke-width="24" d="M13211,1228l101,2l-117-26l-101-1z"/><path fill="#d8be28" stroke-width="24" d="M13428,1257l101,4l-116-27l-101-4z"/><path fill="#d4bf28" stroke-width="24" d="M13646,1290l101,5l-117-29l-101-5z"/><path fill="#cec028" stroke-width="24" d="M13863,1326l101,7l-116-30l-101-8z"/><path fill="#e4bb2c" stroke-width="24" d="M13110,1227l101,1l-117-25l-101,0z"/><path fill="#c6c22a" stroke-width="24" d="M14081,1366l101,9l-117-33l-101-9z"/><path fill="#e2bc2b" stroke-width="24" d="M13327,1254l101,3l-116-27l-101-2z"/><path fill="#dfbc2a" stroke-width="24" d="M13545,1285l101,5l-117-29l-101-4z"/><path fill="#dabd28" stroke-width="24" d="M13762,1320l101,6l-116-31l-101-5z"/><path fill="#ecba32" stroke-width="24" d="M13009,1228l101-1l-117-24l-101,1z"/><path fill="#d3bf27" stroke-width="24" d="M13980,1358l101,8l-117-33l-101-7z"/><path fill="#ebba31" stroke-width="24" d="M13226,1253l101,1l-116-26l-101-1z"/><path fill="#cbc129" stroke-width="24" d="M14197,1400l101,9l-116-34l-101-9z"/><path fill="#e8bb2f" stroke-width="24" d="M13444,1282l101,3l-117-28l-101-3z"/><path fill="#e4bb2c" stroke-width="24" d="M13661,1314l101,6l-116-30l-101-5z"/><path fill="#f3ba38" stroke-width="24" d="M12908,1231l101-3l-117-24l-101,3z"/><path fill="#dfbc2a" stroke-width="24" d="M13879,1351l101,7l-117-32l-101-6z"/><path fill="#f2ba38" stroke-width="24" d="M13125,1254l101-1l-116-26l-101,1z"/><path fill="#d8be28" stroke-width="24" d="M14096,1391l101,9l-116-34l-101-8z"/><path fill="#f1ba36" stroke-width="24" d="M13343,1280l101,2l-117-28l-101-1z"/><path fill="#cfc028" stroke-width="24" d="M14314,1435l101,9l-117-35l-101-9z"/><path fill="#eeba34" stroke-width="24" d="M13560,1311l101,3l-116-29l-101-3z"/><path fill="#f8ba3d" stroke-width="24" d="M12807,1236l101-5l-117-24l-101,6z"/><path fill="#e9bb30" stroke-width="24" d="M13778,1346l101,5l-117-31l-101-6z"/><path fill="#f8ba3d" stroke-width="24" d="M13024,1256l101-2l-116-26l-101,3z"/><path fill="#e3bc2c" stroke-width="24" d="M13995,1384l101,7l-116-33l-101-7z"/><path fill="#f8ba3d" stroke-width="24" d="M13242,1280l101,0l-117-27l-101,1z"/><path fill="#dbbd29" stroke-width="24" d="M14213,1426l101,9l-117-35l-101-9z"/><path fill="#f5ba3b" stroke-width="24" d="M13459,1309l101,2l-116-29l-101-2z"/><path fill="#fcbc3d" stroke-width="24" d="M12706,1243l101-7l-117-23l-101,7z"/><path fill="#d2bf27" stroke-width="24" d="M14430,1472l101,9l-116-37l-101-9z"/><path fill="#f2ba38" stroke-width="24" d="M13677,1342l101,4l-117-32l-101-3z"/><path fill="#fcbd3d" stroke-width="24" d="M12923,1261l101-5l-116-25l-101,5z"/><path fill="#edba33" stroke-width="24" d="M13894,1378l101,6l-116-33l-101-5z"/><path fill="#fcbd3d" stroke-width="24" d="M13141,1282l101-2l-117-26l-101,2z"/><path fill="#e7bb2e" stroke-width="24" d="M14112,1419l101,7l-117-35l-101-7z"/><path fill="#fbbc3d" stroke-width="24" d="M13358,1309l101,0l-116-29l-101,0z"/><path fill="#febe3c" stroke-width="24" d="M12605,1252l101-9l-117-23l-101,10z"/><path fill="#dfbc2a" stroke-width="24" d="M14329,1463l101,9l-116-37l-101-9z"/><path fill="#f9bb3d" stroke-width="24" d="M13576,1339l101,3l-117-31l-101-2z"/><path fill="#fec03b" stroke-width="24" d="M12822,1267l101-6l-116-25l-101,7z"/><path fill="#d4be28" stroke-width="24" d="M14547,1510l101,10l-117-39l-101-9z"/><path fill="#f6ba3b" stroke-width="24" d="M13793,1374l101,4l-116-32l-101-4z"/><path fill="#fec03b" stroke-width="24" d="M13040,1287l101-5l-117-26l-101,5z"/><path fill="#f0ba36" stroke-width="24" d="M14011,1413l101,6l-117-35l-101-6z"/><path fill="#fec03b" stroke-width="24" d="M13257,1311l101-2l-116-29l-101,2z"/><path fill="#fec13a" stroke-width="24" d="M12504,1264l101-12l-117-22l-101,12z"/><path fill="#eabb30" stroke-width="24" d="M14228,1455l101,8l-116-37l-101-7z"/><path fill="#febe3c" stroke-width="24" d="M13475,1339l101,0l-117-30l-101,0z"/><path fill="#fec339" stroke-width="24" d="M12721,1276l101-9l-116-24l-101,9z"/><path fill="#e1bc2b" stroke-width="24" d="M14446,1501l101,9l-117-38l-101-9z"/><path fill="#fcbc3d" stroke-width="24" d="M13692,1371l101,3l-116-32l-101-3z"/><path fill="#fec438" stroke-width="24" d="M12939,1293l101-6l-117-26l-101,6z"/><path fill="#d6be28" stroke-width="24" d="M14663,1550l101,10l-116-40l-101-10z"/><path fill="#f9bb3d" stroke-width="24" d="M13910,1408l101,5l-117-35l-101-4z"/><path fill="#fec438" stroke-width="24" d="M13156,1314l101-3l-116-29l-101,5z"/><path fill="#fec338" stroke-width="24" d="M12403,1278l101-14l-117-22l-101,14z"/><path fill="#f3ba39" stroke-width="24" d="M14127,1449l101,6l-116-36l-101-6z"/><path fill="#fec339" stroke-width="24" d="M13374,1340l101-1l-117-30l-101,2z"/><path fill="#fec537" stroke-width="24" d="M12620,1288l101-12l-116-24l-101,12z"/><path fill="#ecba32" stroke-width="24" d="M14345,1493l101,8l-117-38l-101-8z"/><path fill="#fec13a" stroke-width="24" d="M13591,1370l101,1l-116-32l-101,0z"/><path fill="#fec735" stroke-width="24" d="M12838,1302l101-9l-117-26l-101,9z"/><path fill="#e3bc2c" stroke-width="24" d="M14562,1541l101,9l-116-40l-101-9z"/><path fill="#febe3c" stroke-width="24" d="M13809,1405l101,3l-117-34l-101-3z"/><path fill="#fec735" stroke-width="24" d="M13055,1321l101-7l-116-27l-101,6z"/><path fill="#fec437" stroke-width="24" d="M12302,1295l101-17l-117-22l-101,17z"/><path fill="#d8be28" stroke-width="24" d="M14780,1591l101,11l-117-42l-101-10z"/><path fill="#fbbc3d" stroke-width="24" d="M14026,1444l101,5l-116-36l-101-5z"/><path fill="#fec735" stroke-width="24" d="M13273,1344l101-4l-117-29l-101,3z"/><path fill="#fec735" stroke-width="24" d="M12519,1302l101-14l-116-24l-101,14z"/><path fill="#f5ba3b" stroke-width="24" d="M14244,1486l101,7l-117-38l-101-6z"/><path fill="#fec636" stroke-width="24" d="M13490,1372l101-2l-116-31l-101,1z"/><path fill="#feca34" stroke-width="24" d="M12737,1313l101-11l-117-26l-101,12z"/><path fill="#eeba34" stroke-width="24" d="M14461,1532l101,9l-116-40l-101-8z"/><path fill="#fec338" stroke-width="24" d="M13708,1404l101,1l-117-34l-101-1z"/><path fill="#fdcb33" stroke-width="24" d="M12954,1329l101-8l-116-28l-101,9z"/><path fill="#fec537" stroke-width="24" d="M12201,1314l101-19l-117-22l-101,19z"/><path fill="#e4bb2c" stroke-width="24" d="M14679,1582l101,9l-117-41l-101-9z"/><path fill="#fec03b" stroke-width="24" d="M13925,1440l101,4l-116-36l-101-3z"/><path fill="#fdcb33" stroke-width="24" d="M13172,1350l101-6l-117-30l-101,7z"/><path fill="#fec934" stroke-width="24" d="M12418,1319l101-17l-116-24l-101,17z"/><path fill="#d8be28" stroke-width="24" d="M14896,1635l101,10l-116-43l-101-11z"/><path fill="#fcbd3d" stroke-width="24" d="M14143,1481l101,5l-117-37l-101-5z"/><path fill="#feca33" stroke-width="24" d="M13389,1375l101-3l-116-32l-101,4z"/><path fill="#fdcc32" stroke-width="24" d="M12636,1327l101-14l-117-25l-101,14z"/><path fill="#f7ba3c" stroke-width="24" d="M14360,1526l101,6l-116-39l-101-7z"/><path fill="#fec835" stroke-width="24" d="M13607,1405l101-1l-117-34l-101,2z"/><path fill="#fdce31" stroke-width="24" d="M12853,1340l101-11l-116-27l-101,11z"/><path fill="#fec636" stroke-width="26" d="M12100,1336l101-22l-117-22l-101,22z"/><path fill="#efba35" stroke-width="24" d="M14578,1574l101,8l-117-41l-101-9z"/><path fill="#fec537" stroke-width="24" d="M13824,1439l101,1l-116-35l-101-1z"/><path fill="#fdce31" stroke-width="24" d="M13071,1358l101-8l-117-29l-101,8z"/><path fill="#feca33" stroke-width="26" d="M12317,1338l101-19l-116-24l-101,19z"/><path fill="#e5bb2c" stroke-width="24" d="M14795,1625l101,10l-116-44l-101-9z"/><path fill="#fec239" stroke-width="24" d="M14042,1478l101,3l-117-37l-101-4z"/><path fill="#fdce31" stroke-width="24" d="M13288,1381l101-6l-116-31l-101,6z"/><path fill="#fdce31" stroke-width="24" d="M12535,1344l101-17l-117-25l-101,17z"/><path fill="#d8be28" stroke-width="24" d="M15013,1680l101,10l-117-45l-101-10z"/><path fill="#fdbd3d" stroke-width="24" d="M14259,1521l101,5l-116-40l-101-5z"/><path fill="#fdcd32" stroke-width="24" d="M13506,1408l101-3l-117-33l-101,3z"/><path fill="#fcd030" stroke-width="24" d="M12752,1354l101-14l-116-27l-101,14z"/><path fill="#fec636" stroke-width="28" d="M11999,1361l101-25l-117-22l-101,25z"/><path fill="#f8ba3d" stroke-width="24" d="M14477,1567l101,7l-117-42l-101-6z"/><path fill="#feca33" stroke-width="24" d="M13723,1440l101-1l-116-35l-101,1z"/><path fill="#fbd12f" stroke-width="24" d="M12970,1369l101-11l-117-29l-101,11z"/><path fill="#fdcb33" stroke-width="26" d="M12216,1360l101-22l-116-24l-101,22z"/><path fill="#efba35" stroke-width="24" d="M14694,1617l101,8l-116-43l-101-8z"/><path fill="#fec735" stroke-width="24" d="M13941,1476l101,2l-117-38l-101-1z"/><path fill="#fbd22f" stroke-width="24" d="M13187,1389l101-8l-116-31l-101,8z"/><path fill="#fccf31" stroke-width="26" d="M12434,1363l101-19l-117-25l-101,19z"/><path fill="#e5bb2c" stroke-width="24" d="M14912,1670l101,10l-117-45l-101-10z"/><path fill="#fec338" stroke-width="24" d="M14158,1517l101,4l-116-40l-101-3z"/><path fill="#fcd12f" stroke-width="24" d="M13405,1414l101-6l-117-33l-101,6z"/><path fill="#fbd22f" stroke-width="26" d="M12651,1370l101-16l-116-27l-101,17z"/><path fill="#d8be28" stroke-width="24" d="M15130,1726l101,10l-117-46l-101-10z"/><path fill="#fec537" stroke-width="30" d="M11898,1388l101-27l-117-22l-101,27z"/><path fill="#febe3c" stroke-width="24" d="M14376,1562l101,5l-117-41l-101-5z"/><path fill="#fccf30" stroke-width="24" d="M13622,1443l101-3l-116-35l-101,3z"/><path fill="#fad42e" stroke-width="24" d="M12869,1383l101-14l-117-29l-101,14z"/><path fill="#fdca33" stroke-width="28" d="M12115,1384l101-24l-116-24l-101,25z"/><path fill="#f9ba3d" stroke-width="24" d="M14593,1610l101,7l-116-43l-101-7z"/><path fill="#fdcc32" stroke-width="24" d="M13840,1477l101-1l-117-37l-101,1z"/><path fill="#fad52e" stroke-width="24" d="M13086,1400l101-11l-116-31l-101,11z"/><path fill="#fccf30" stroke-width="28" d="M12333,1385l101-22l-117-25l-101,22z"/><path fill="#efba35" stroke-width="24" d="M14811,1662l101,8l-117-45l-101-8z"/><path fill="#fec834" stroke-width="24" d="M14057,1515l101,2l-116-39l-101-2z"/><path fill="#fad42e" stroke-width="24" d="M13304,1422l101-8l-117-33l-101,8z"/><path fill="#fbd32e" stroke-width="26" d="M12550,1389l101-19l-116-26l-101,19z"/><path fill="#e4bb2c" stroke-width="24" d="M15029,1717l101,9l-117-46l-101-10z"/><path fill="#fec438" d="M11797,1417l101-29l-117-22l-101,29z"/><path fill="#fec438" stroke-width="24" d="M14275,1558l101,4l-117-41l-101-4z"/><path fill="#fbd32e" stroke-width="24" d="M13521,1448l101-5l-116-35l-101,6z"/><path fill="#fad52d" stroke-width="26" d="M12768,1399l101-16l-117-29l-101,16z"/><path fill="#d6be28" stroke-width="24" d="M15246,1774l101,10l-116-48l-101-10z"/><path fill="#feca33" stroke-width="30" d="M12014,1411l101-27l-116-23l-101,27z"/><path fill="#febe3c" stroke-width="24" d="M14492,1605l101,5l-116-43l-101-5z"/><path fill="#fcd12f" stroke-width="24" d="M13739,1480l101-3l-117-37l-101,3z"/><path fill="#f9d72c" stroke-width="26" d="M12985,1413l101-13l-116-31l-101,14z"/><path fill="#fccf30" stroke-width="30" d="M12232,1409l101-24l-117-25l-101,24z"/><path fill="#f9ba3d" stroke-width="24" d="M14710,1655l101,7l-117-45l-101-7z"/><path fill="#fdcd31" stroke-width="24" d="M13956,1516l101-1l-116-39l-101,1z"/><path fill="#f9d82c" stroke-width="24" d="M13203,1432l101-10l-117-33l-101,11z"/><path fill="#fbd32e" stroke-width="28" d="M12449,1411l101-22l-116-26l-101,22z"/><path fill="#efba35" stroke-width="24" d="M14928,1709l101,8l-117-47l-101-8z"/><path fill="#fec239" d="M11696,1449l101-32l-117-22l-101,32z"/><path fill="#fec934" stroke-width="24" d="M14174,1557l101,1l-117-41l-101-2z"/><path fill="#f9d72d" stroke-width="24" d="M13420,1456l101-8l-116-34l-101,8z"/><path fill="#f9d72d" stroke-width="28" d="M12667,1418l101-19l-117-29l-101,19z"/><path fill="#e3bc2c" stroke-width="24" d="M15145,1765l101,9l-116-48l-101-9z"/><path fill="#fec834" d="M11913,1441l101-30l-116-23l-101,29z"/><path fill="#fec438" stroke-width="24" d="M14391,1601l101,4l-116-43l-101-4z"/><path fill="#fad52d" stroke-width="24" d="M13638,1485l101-5l-117-37l-101,5z"/><path fill="#f8d92c" stroke-width="26" d="M12884,1429l101-16l-116-30l-101,16z"/><path fill="#d4be28" stroke-width="24" d="M15363,1824l101,10l-117-50l-101-10z"/><path fill="#fdce31" d="M12131,1436l101-27l-117-25l-101,27z"/><path fill="#febe3c" stroke-width="24" d="M14609,1650l101,5l-117-45l-101-5z"/><path fill="#fbd22f" stroke-width="24" d="M13855,1519l101-3l-116-39l-101,3z"/><path fill="#f8da2b" stroke-width="26" d="M13102,1445l101-13l-117-32l-101,13z"/><path fill="#fbd32e" stroke-width="30" d="M12348,1436l101-25l-116-26l-101,24z"/><path fill="#f8ba3d" stroke-width="24" d="M14827,1702l101,7l-117-47l-101-7z"/><path fill="#fec03b" d="M11595,1484l101-35l-117-22l-101,34z"/><path fill="#fdce31" stroke-width="24" d="M14073,1557l101,0l-117-42l-101,1z"/><path fill="#f8da2b" stroke-width="26" d="M13319,1467l101-11l-116-34l-101,10z"/><path fill="#f9d72c" stroke-width="30" d="M12566,1440l101-22l-117-29l-101,22z"/><path fill="#eeba34" stroke-width="24" d="M15044,1757l101,8l-116-48l-101-8z"/><path fill="#fec736" d="M11812,1473l101-32l-116-24l-101,32z"/><path fill="#feca34" stroke-width="24" d="M14290,1600l101,1l-116-43l-101-1z"/><path fill="#f8d92c" stroke-width="24" d="M13537,1493l101-8l-117-37l-101,8z"/><path fill="#f8da2b" stroke-width="28" d="M12783,1448l101-19l-116-30l-101,19z"/><path fill="#e1bc2b" stroke-width="24" d="M15262,1815l101,9l-117-50l-101-9z"/><path fill="#fdcd32" d="M12030,1466l101-30l-117-25l-101,30z"/><path fill="#fec438" stroke-width="24" d="M14508,1646l101,4l-117-45l-101-4z"/><path fill="#f9d72d" stroke-width="24" d="M13754,1524l101-5l-116-39l-101,5z"/><path fill="#f7dc2a" stroke-width="28" d="M13001,1462l101-17l-117-32l-101,16z"/><path fill="#d2bf27" stroke-width="24" d="M15479,1875l101,10l-116-51l-101-10z"/><path fill="#fbd22f" d="M12247,1463l101-27l-116-27l-101,27z"/><path fill="#febe3c" stroke-width="24" d="M14726,1697l101,5l-117-47l-101-5z"/><path fill="#fdbd3d" d="M11494,1521l101-37l-117-23l-101,37z"/><path fill="#fbd32e" stroke-width="24" d="M13972,1560l101-3l-117-41l-101,3z"/><path fill="#f7dd2a" stroke-width="26" d="M13218,1480l101-13l-116-35l-101,13z"/><path fill="#f9d72c" d="M12465,1464l101-24l-117-29l-101,25z"/><path fill="#f7ba3c" stroke-width="24" d="M14943,1750l101,7l-116-48l-101-7z"/><path fill="#fec437" d="M11711,1508l101-35l-116-24l-101,35z"/><path fill="#fccf30" stroke-width="24" d="M14189,1600l101,0l-116-43l-101,0z"/><path fill="#f7dc2a" stroke-width="26" d="M13436,1503l101-10l-117-37l-101,11z"/><path fill="#f7db2b" stroke-width="30" d="M12682,1470l101-22l-116-30l-101,22z"/><path fill="#ecba32" stroke-width="24" d="M15161,1807l101,8l-117-50l-101-8z"/><path fill="#fdcb33" d="M11929,1499l101-33l-117-25l-101,32z"/><path fill="#feca34" stroke-width="24" d="M14407,1645l101,1l-117-45l-101-1z"/><path fill="#f8da2b" stroke-width="26" d="M13653,1532l101-8l-116-39l-101,8z"/><path fill="#f7dd2a" stroke-width="30" d="M12900,1480l101-18l-117-33l-101,19z"/><path fill="#dfbc2a" stroke-width="24" d="M15378,1867l101,8l-116-51l-101-9z"/><path fill="#fcd12f" d="M12146,1493l101-30l-116-27l-101,30z"/><path fill="#fec438" stroke-width="24" d="M14625,1693l101,4l-117-47l-101-4z"/><path fill="#fabb3d" d="M11393,1560l101-39l-117-23l-101,38z"/><path fill="#f9d82c" stroke-width="24" d="M13871,1565l101-5l-117-41l-101,5z"/><path fill="#f6de29" stroke-width="28" d="M13117,1496l101-16l-116-35l-101,17z"/><path fill="#cfc028" stroke-width="24" d="M15596,1928l101,9l-117-52l-101-10z"/><path fill="#f9d62d" d="M12364,1492l101-28l-117-28l-101,27z"/><path fill="#fdbd3d" stroke-width="24" d="M14842,1745l101,5l-116-48l-101-5z"/><path fill="#fec139" d="M11610,1545l101-37l-116-24l-101,37z"/><path fill="#fad42e" stroke-width="24" d="M14088,1603l101-3l-116-43l-101,3z"/><path fill="#f6df29" stroke-width="28" d="M13335,1516l101-13l-117-36l-101,13z"/><path fill="#f8da2b" d="M12581,1495l101-25l-116-30l-101,24z"/><path fill="#f5ba3b" stroke-width="24" d="M15060,1801l101,6l-117-50l-101-7z"/><path fill="#fec834" d="M11828,1534l101-35l-117-26l-101,35z"/><path fill="#fccf30" stroke-width="24" d="M14306,1645l101,0l-117-45l-101,0z"/><path fill="#f6de29" stroke-width="28" d="M13552,1542l101-10l-116-39l-101,10z"/><path fill="#f6de29" d="M12799,1502l101-22l-117-32l-101,22z"/><path fill="#eabb30" stroke-width="24" d="M15277,1859l101,8l-116-52l-101-8z"/><path fill="#fccf30" d="M12045,1526l101-33l-116-27l-101,33z"/><path fill="#fec934" stroke-width="24" d="M14524,1692l101,1l-117-47l-101-1z"/><path fill="#f6ba3b" d="M11292,1601l101-41l-117-24l-101,41z"/><path fill="#f7db2a" stroke-width="26" d="M13770,1572l101-7l-117-41l-101,8z"/><path fill="#f6e029" stroke-width="30" d="M13016,1515l101-19l-116-34l-101,18z"/><path fill="#dbbd29" stroke-width="24" d="M15495,1920l101,8l-117-53l-101-8z"/><path fill="#fad52e" d="M12263,1522l101-30l-117-29l-101,30z"/><path fill="#fec338" stroke-width="24" d="M14741,1742l101,3l-116-48l-101-4z"/><path fill="#febe3c" d="M11509,1584l101-39l-116-24l-101,39z"/><path fill="#f9d82c" stroke-width="26" d="M13987,1608l101-5l-116-43l-101,5z"/><path fill="#f6e028" stroke-width="30" d="M13234,1532l101-16l-117-36l-101,16z"/><path fill="#cbc129" stroke-width="24" d="M15712,1982l101,9l-116-54l-101-9z"/><path fill="#f8da2b" d="M12480,1522l101-27l-116-31l-101,28z"/><path fill="#fcbd3d" stroke-width="24" d="M14959,1796l101,5l-117-51l-101-5z"/><path fill="#fec636" d="M11727,1571l101-37l-117-26l-101,37z"/><path fill="#fad42e" stroke-width="26" d="M14205,1648l101-3l-117-45l-101,3z"/><path fill="#f6e028" stroke-width="28" d="M13451,1555l101-13l-116-39l-101,13z"/><path fill="#f6dd29" d="M12698,1527l101-25l-117-32l-101,25z"/><path fill="#f3ba39" stroke-width="24" d="M15176,1853l101,6l-116-52l-101-6z"/><path fill="#fdcc32" d="M11944,1561l101-35l-116-27l-101,35z"/><path fill="#fdce31" stroke-width="24" d="M14423,1692l101,0l-117-47l-101,0z"/><path fill="#f0ba36" d="M11191,1644l101-43l-117-24l-101,43z"/><path fill="#f6df29" stroke-width="28" d="M13669,1583l101-11l-117-40l-101,10z"/><path fill="#f6e028" d="M12915,1537l101-22l-116-35l-101,22z"/><path fill="#e7bb2e" stroke-width="24" d="M15394,1913l101,7l-117-53l-101-8z"/><path fill="#fbd32f" d="M12162,1554l101-32l-117-29l-101,33z"/><path fill="#fec834" stroke-width="24" d="M14640,1741l101,1l-116-49l-101-1z"/><path fill="#fbbc3d" d="M11408,1626l101-42l-116-24l-101,41z"/><path fill="#f7dc2a" stroke-width="28" d="M13886,1615l101-7l-116-43l-101,7z"/><path fill="#f5e228" d="M13133,1551l101-19l-117-36l-101,19z"/><path fill="#d8be28" stroke-width="24" d="M15611,1974l101,8l-116-54l-101-8z"/><path fill="#f9d82c" d="M12379,1552l101-30l-116-30l-101,30z"/><path fill="#fec239" stroke-width="24" d="M14858,1793l101,3l-117-51l-101-3z"/><path fill="#fec239" d="M11626,1611l101-40l-117-26l-101,39z"/><path fill="#f9d82c" stroke-width="26" d="M14104,1653l101-5l-117-45l-101,5z"/><path fill="#f5e228" stroke-width="30" d="M13350,1571l101-16l-116-39l-101,16z"/><path fill="#c6c22a" stroke-width="24" d="M15829,2038l101,9l-117-56l-101-9z"/><path fill="#f7dd2a" d="M12597,1554l101-27l-117-32l-101,27z"/><path fill="#fbbc3d" stroke-width="24" d="M15075,1848l101,5l-116-52l-101-5z"/><path fill="#fec934" d="M11843,1599l101-38l-116-27l-101,37z"/><path fill="#fbd32e" stroke-width="26" d="M14322,1695l101-3l-117-47l-101,3z"/><path fill="#e9bb2f" d="M11090,1689l101-45l-117-24l-101,44z"/><path fill="#f5e128" stroke-width="30" d="M13568,1596l101-13l-117-41l-101,13z"/><path fill="#f6e028" d="M12814,1561l101-24l-116-35l-101,25z"/><path fill="#f0ba36" stroke-width="24" d="M15293,1907l101,6l-117-54l-101-6z"/><path fill="#fcd030" d="M12061,1590l101-36l-117-28l-101,35z"/><path fill="#fdcd31" stroke-width="26" d="M14539,1741l101,0l-116-49l-101,0z"/><path fill="#f6ba3b" d="M11307,1669l101-43l-116-25l-101,43z"/><path fill="#f6df29" stroke-width="28" d="M13785,1626l101-11l-116-43l-101,11z"/><path fill="#f5e227" d="M13032,1573l101-22l-117-36l-101,22z"/><path fill="#e3bc2c" stroke-width="24" d="M15510,1968l101,6l-116-54l-101-7z"/><path fill="#f9d62d" d="M12278,1585l101-33l-116-30l-101,32z"/><path fill="#fec735" stroke-width="26" d="M14757,1791l101,2l-117-51l-101-1z"/><path fill="#febe3c" d="M11525,1653l101-42l-117-27l-101,42z"/><path fill="#f7dc2a" stroke-width="28" d="M14003,1660l101-7l-117-45l-101,7z"/><path fill="#f5e327" d="M13249,1590l101-19l-116-39l-101,19z"/><path fill="#d3bf27" stroke-width="24" d="M15728,2031l101,7l-117-56l-101-8z"/><path fill="#f7db2a" d="M12496,1585l101-31l-117-32l-101,30z"/><path fill="#fec03b" stroke-width="26" d="M14974,1845l101,3l-116-52l-101-3z"/><path fill="#fec636" d="M11742,1638l101-39l-116-28l-101,40z"/><path fill="#f9d82c" stroke-width="28" d="M14221,1700l101-5l-117-47l-101,5z"/><path fill="#e1bc2b" d="M10989,1735l101-46l-117-25l-101,46z"/><path fill="#f5e327" d="M13467,1612l101-16l-117-41l-101,16z"/><path fill="#c0c32d" stroke-width="24" d="M15945,2095l101,8l-116-56l-101-9z"/><path fill="#f6df29" d="M12713,1589l101-28l-116-34l-101,27z"/><path fill="#f9bb3d" stroke-width="24" d="M15192,1902l101,5l-117-54l-101-5z"/><path fill="#fdcd32" d="M11960,1628l101-38l-117-29l-101,38z"/><path fill="#fbd22f" stroke-width="28" d="M14438,1744l101-3l-116-49l-101,3z"/><path fill="#efba35" d="M11206,1715l101-46l-116-25l-101,45z"/><path fill="#f5e228" stroke-width="30" d="M13684,1639l101-13l-116-43l-101,13z"/><path fill="#f5e227" d="M12931,1598l101-25l-117-36l-101,24z"/><path fill="#edba33" stroke-width="24" d="M15409,1962l101,6l-116-55l-101-6z"/><path fill="#fbd32e" d="M12177,1621l101-36l-116-31l-101,36z"/><path fill="#fdcc32" stroke-width="26" d="M14656,1792l101-1l-117-50l-101,0z"/><path fill="#fabc3d" d="M11424,1696l101-43l-117-27l-101,43z"/><path fill="#f6df29" stroke-width="30" d="M13902,1671l101-11l-117-45l-101,11z"/><path fill="#f5e427" d="M13148,1612l101-22l-116-39l-101,22z"/><path fill="#dfbc2a" stroke-width="24" d="M15627,2024l101,7l-117-57l-101-6z"/><path fill="#f8d92b" d="M12395,1618l101-33l-117-33l-101,33z"/><path fill="#fec537" stroke-width="26" d="M14873,1844l101,1l-116-52l-101-2z"/><path fill="#fec239" d="M11641,1681l101-43l-116-27l-101,42z"/><path fill="#f7db2a" stroke-width="30" d="M14120,1708l101-8l-117-47l-101,7z"/><path fill="#d7be28" d="M10888,1783l101-48l-117-25l-101,47z"/><path fill="#f5e427" d="M13366,1631l101-19l-117-41l-101,19z"/><path fill="#cec028" stroke-width="24" d="M15844,2088l101,7l-116-57l-101-7z"/><path fill="#f6de29" d="M12612,1619l101-30l-116-35l-101,31z"/><path fill="#febe3c" stroke-width="26" d="M15091,1900l101,2l-117-54l-101-3z"/><path fill="#fec934" d="M11859,1668l101-40l-117-29l-101,39z"/><path fill="#f9d72d" stroke-width="28" d="M14337,1749l101-5l-116-49l-101,5z"/><path fill="#e7bb2e" d="M11105,1762l101-47l-116-26l-101,46z"/><path fill="#f5e327" d="M13583,1655l101-16l-116-43l-101,16z"/><path fill="#bac430" stroke-width="24" d="M16062,2154l101,7l-117-58l-101-8z"/><path fill="#f5e128" d="M12830,1625l101-27l-117-37l-101,28z"/><path fill="#f6ba3b" stroke-width="26" d="M15308,1958l101,4l-116-55l-101-5z"/><path fill="#fcd030" d="M12076,1659l101-38l-116-31l-101,38z"/><path fill="#fcd12f" stroke-width="28" d="M14555,1795l101-3l-117-51l-101,3z"/><path fill="#f5ba3a" d="M11323,1742l101-46l-117-27l-101,46z"/><path fill="#f5e228" d="M13801,1684l101-13l-117-45l-101,13z"/><path fill="#f5e327" d="M13047,1636l101-24l-116-39l-101,25z"/><path fill="#e9bb30" stroke-width="26" d="M15526,2019l101,5l-117-56l-101-6z"/><path fill="#f9d62d" d="M12294,1653l101-35l-117-33l-101,36z"/><path fill="#feca33" stroke-width="28" d="M14772,1845l101-1l-116-53l-101,1z"/><path fill="#febe3c" d="M11540,1725l101-44l-116-28l-101,43z"/><path fill="#f6df29" stroke-width="30" d="M14019,1718l101-10l-117-48l-101,11z"/><path fill="#ccc028" d="M10787,1833l101-50l-117-26l-101,49z"/><path fill="#f5e526" d="M13265,1652l101-21l-117-41l-101,22z"/><path fill="#dabd28" stroke-width="26" d="M15743,2082l101,6l-116-57l-101-7z"/><path fill="#f7dc2a" d="M12511,1652l101-33l-116-34l-101,33z"/><path fill="#fec338" stroke-width="28" d="M14990,1899l101,1l-117-55l-101-1z"/><path fill="#fec537" d="M11758,1710l101-42l-117-30l-101,43z"/><path fill="#f8da2b" stroke-width="30" d="M14236,1757l101-8l-116-49l-101,8z"/><path fill="#debc2a" d="M11004,1810l101-48l-116-27l-101,48z"/><path fill="#f5e526" d="M13482,1673l101-18l-116-43l-101,19z"/><path fill="#c8c129" stroke-width="26" d="M15961,2147l101,7l-117-59l-101-7z"/><path fill="#f6e028" d="M12729,1656l101-31l-117-36l-101,30z"/><path fill="#fcbc3d" stroke-width="26" d="M15207,1956l101,2l-116-56l-101-2z"/><path fill="#fdcc32" d="M11975,1699l101-40l-116-31l-101,40z"/><path fill="#fad52d" stroke-width="30" d="M14454,1801l101-6l-117-51l-101,5z"/><path fill="#edba33" d="M11222,1790l101-48l-117-27l-101,47z"/><path fill="#f5e327" d="M13700,1700l101-16l-117-45l-101,16z"/><path fill="#b3c534" stroke-width="26" d="M16178,2213l101,7l-116-59l-101-7z"/><path fill="#f5e327" d="M12946,1664l101-28l-116-38l-101,27z"/><path fill="#f2ba38" stroke-width="26" d="M15425,2016l101,3l-117-57l-101-4z"/><path fill="#fbd32e" d="M12193,1692l101-39l-117-32l-101,38z"/><path fill="#fccf30" stroke-width="30" d="M14671,1848l101-3l-116-53l-101,3z"/><path fill="#f9bb3d" d="M11439,1771l101-46l-116-29l-101,46z"/><path fill="#f5e128" d="M13918,1731l101-13l-117-47l-101,13z"/><path fill="#c0c32d" d="M10686,1883l101-50l-117-27l-101,50z"/><path fill="#f5e426" d="M13164,1677l101-25l-117-40l-101,24z"/><path fill="#e4bb2c" stroke-width="26" d="M15642,2078l101,4l-116-58l-101-5z"/><path fill="#f8d92c" d="M12410,1688l101-36l-116-34l-101,35z"/><path fill="#fec835" stroke-width="28" d="M14889,1900l101-1l-117-55l-101,1z"/><path fill="#fec13a" d="M11657,1755l101-45l-117-29l-101,44z"/><path fill="#f6de29" d="M14135,1767l101-10l-116-49l-101,10z"/><path fill="#d4bf28" d="M10903,1860l101-50l-116-27l-101,50z"/><path fill="#f5e526" d="M13381,1695l101-22l-116-42l-101,21z"/><path fill="#d4bf28" stroke-width="26" d="M15860,2142l101,5l-117-59l-101-6z"/><path fill="#f6de29" d="M12628,1689l101-33l-117-37l-101,33z"/><path fill="#fec13a" stroke-width="28" d="M15106,1955l101,1l-116-56l-101-1z"/><path fill="#fec835" d="M11874,1742l101-43l-116-31l-101,42z"/><path fill="#f8d92c" d="M14353,1808l101-7l-117-52l-101,8z"/><path fill="#e4bb2c" d="M11121,1839l101-49l-117-28l-101,48z"/><path fill="#f5e526" d="M13599,1719l101-19l-117-45l-101,18z"/><path fill="#c1c32c" stroke-width="26" d="M16077,2207l101,6l-116-59l-101-7z"/><path fill="#f5e128" d="M12845,1694l101-30l-116-39l-101,31z"/><path fill="#f9bb3d" stroke-width="28" d="M15324,2014l101,2l-117-58l-101-2z"/><path fill="#fccf30" d="M12092,1732l101-40l-117-33l-101,40z"/><path fill="#fbd32e" stroke-width="30" d="M14570,1854l101-6l-116-53l-101,6z"/><path fill="#f2ba38" d="M11338,1819l101-48l-116-29l-101,48z"/><path fill="#f5e327" d="M13817,1747l101-16l-117-47l-101,16z"/><path fill="#abc739" stroke-width="26" d="M16295,2274l101,6l-117-60l-101-7z"/><path fill="#b3c534" d="M10585,1935l101-52l-117-27l-101,51z"/><path fill="#f5e427" d="M13063,1705l101-28l-117-41l-101,28z"/><path fill="#eeba34" stroke-width="28" d="M15541,2074l101,4l-116-59l-101-3z"/><path fill="#fad52d" d="M12309,1726l101-38l-116-35l-101,39z"/><path fill="#fdcd32" stroke-width="30" d="M14788,1903l101-3l-117-55l-101,3z"/><path fill="#fcbd3d" d="M11556,1802l101-47l-117-30l-101,46z"/><path fill="#f6e028" d="M14034,1781l101-14l-116-49l-101,13z"/><path fill="#c8c129" d="M10802,1911l101-51l-116-27l-101,50z"/><path fill="#f5e526" d="M13280,1720l101-25l-116-43l-101,25z"/><path fill="#dfbc2a" stroke-width="28" d="M15759,2138l101,4l-117-60l-101-4z"/><path fill="#f7db2b" d="M12527,1725l101-36l-117-37l-101,36z"/><path fill="#fec636" stroke-width="30" d="M15005,1957l101-2l-116-56l-101,1z"/><path fill="#fec338" d="M11773,1787l101-45l-116-32l-101,45z"/><path fill="#f7dc2a" d="M14252,1819l101-11l-117-51l-101,10z"/><path fill="#dabd28" d="M11020,1889l101-50l-117-29l-101,50z"/><path fill="#f5e526" d="M13498,1740l101-21l-117-46l-101,22z"/><path fill="#cdc028" stroke-width="28" d="M15976,2202l101,5l-116-60l-101-5z"/><path fill="#f6df29" d="M12744,1728l101-34l-116-38l-101,33z"/><path fill="#febe3c" stroke-width="30" d="M15223,2013l101,1l-117-58l-101-1z"/><path fill="#fdcb33" d="M11991,1775l101-43l-117-33l-101,43z"/><path fill="#f9d72d" d="M14469,1862l101-8l-116-53l-101,7z"/><path fill="#eabb30" d="M11237,1868l101-49l-116-29l-101,49z"/><path fill="#f5e427" d="M13716,1766l101-19l-117-47l-101,19z"/><path fill="#b9c430" stroke-width="28" d="M16194,2269l101,5l-117-61l-101-6z"/><path fill="#a5c83d" d="M10484,1987l101-52l-117-28l-101,52z"/><path fill="#f5e227" d="M12962,1735l101-30l-117-41l-101,30z"/><path fill="#f5ba3b" stroke-width="28" d="M15440,2073l101,1l-116-58l-101-2z"/><path fill="#fbd12f" d="M12208,1767l101-41l-116-34l-101,40z"/><path fill="#fcd12f" d="M14687,1909l101-6l-117-55l-101,6z"/><path fill="#f7ba3c" d="M11455,1850l101-48l-117-31l-101,48z"/><path fill="#f5e228" d="M13933,1797l101-16l-116-50l-101,16z"/><path fill="#bbc430" d="M10701,1963l101-52l-116-28l-101,52z"/><path fill="#f5e427" d="M13179,1748l101-28l-116-43l-101,28z"/><path fill="#e8bb2f" stroke-width="28" d="M15658,2135l101,3l-117-60l-101-4z"/><path fill="#f9d72c" d="M12426,1763l101-38l-117-37l-101,38z"/><path fill="#feca33" stroke-width="30" d="M14904,1960l101-3l-116-57l-101,3z"/><path fill="#febf3c" d="M11672,1834l101-47l-116-32l-101,47z"/><path fill="#f6df29" d="M14151,1832l101-13l-117-52l-101,14z"/><path fill="#cfc028" d="M10919,1941l101-52l-117-29l-101,51z"/><path fill="#f5e526" d="M13397,1765l101-25l-117-45l-101,25z"/><path fill="#d8be28" stroke-width="28" d="M15875,2199l101,3l-116-60l-101-4z"/><path fill="#f7dc2a" d="M12643,1764l101-36l-116-39l-101,36z"/><path fill="#fec339" stroke-width="30" d="M15122,2015l101-2l-117-58l-101,2z"/><path fill="#fec636" d="M11890,1820l101-45l-117-33l-101,45z"/><path fill="#f8da2b" d="M14368,1873l101-11l-116-54l-101,11z"/><path fill="#e0bc2a" d="M11136,1919l101-51l-116-29l-101,50z"/><path fill="#f5e526" d="M13615,1788l101-22l-117-47l-101,21z"/><path fill="#c6c22a" stroke-width="28" d="M16093,2264l101,5l-117-62l-101-5z"/><path fill="#95ca49" d="M10383,2040l101-53l-117-28l-101,52z"/><path fill="#f6e028" d="M12861,1768l101-33l-117-41l-101,34z"/><path fill="#fbbc3d" stroke-width="30" d="M15339,2073l101,0l-116-59l-101-1z"/><path fill="#fdcd32" d="M12107,1811l101-44l-116-35l-101,43z"/><path fill="#fad42e" d="M14586,1917l101-8l-117-55l-101,8z"/><path fill="#eeba34" d="M11354,1900l101-50l-117-31l-101,49z"/><path fill="#f5e327" d="M13832,1815l101-18l-116-50l-101,19z"/><path fill="#adc638" d="M10600,2016l101-53l-116-28l-101,52z"/><path fill="#f5e327" d="M13078,1778l101-30l-116-43l-101,30z"/><path fill="#f1ba36" stroke-width="30" d="M15557,2134l101,1l-117-61l-101-1z"/><path fill="#fbd32e" d="M12325,1804l101-41l-117-37l-101,41z"/><path fill="#fdce31" d="M14803,1966l101-6l-116-57l-101,6z"/><path fill="#fabb3d" d="M11571,1882l101-48l-116-32l-101,48z"/><path fill="#f6e028" d="M14050,1848l101-16l-117-51l-101,16z"/><path fill="#c2c22c" d="M10818,1993l101-52l-117-30l-101,52z"/><path fill="#f5e427" d="M13296,1793l101-28l-117-45l-101,28z"/><path fill="#e2bc2b" stroke-width="30" d="M15774,2197l101,2l-116-61l-101-3z"/><path fill="#f8d92c" d="M12542,1802l101-38l-116-39l-101,38z"/><path fill="#fec735" d="M15021,2019l101-4l-117-58l-101,3z"/><path fill="#fec13a" d="M11789,1868l101-48l-117-33l-101,47z"/><path fill="#f7dd2a" d="M14267,1886l101-13l-116-54l-101,13z"/><path fill="#d5be28" d="M11035,1971l101-52l-116-30l-101,52z"/><path fill="#f5e426" d="M13514,1812l101-24l-117-48l-101,25z"/><path fill="#d1bf27" stroke-width="28" d="M15992,2261l101,3l-117-62l-101-3z"/><path fill="#85cb55" d="M10282,2094l101-54l-117-29l-101,53z"/><path fill="#f7dd2a" d="M12760,1804l101-36l-117-40l-101,36z"/><path fill="#fec03b" d="M15238,2075l101-2l-116-60l-101,2z"/><path fill="#fec835" d="M12006,1856l101-45l-116-36l-101,45z"/><path fill="#f9d82c" d="M14485,1928l101-11l-117-55l-101,11z"/><path fill="#e5bb2d" d="M11253,1951l101-51l-117-32l-101,51z"/><path fill="#f5e427" d="M13731,1837l101-22l-116-49l-101,22z"/><path fill="#9dc943" d="M10499,2070l101-54l-116-29l-101,53z"/><path fill="#f6e128" d="M12977,1811l101-33l-116-43l-101,33z"/><path fill="#f8ba3d" stroke-width="30" d="M15456,2134l101,0l-117-61l-101,0z"/><path fill="#fccf30" d="M12224,1848l101-44l-117-37l-101,44z"/><path fill="#fbd22f" d="M14702,1975l101-9l-116-57l-101,8z"/><path fill="#f2ba38" d="M11470,1932l101-50l-116-32l-101,50z"/><path fill="#f5e228" d="M13949,1867l101-19l-117-51l-101,18z"/><path fill="#b4c534" d="M10717,2047l101-54l-117-30l-101,53z"/><path fill="#f5e327" d="M13195,1823l101-30l-117-45l-101,30z"/><path fill="#ebba31" stroke-width="30" d="M15673,2196l101,1l-116-62l-101-1z"/><path fill="#fad52e" d="M12441,1843l101-41l-116-39l-101,41z"/><path fill="#fdcb33" d="M14920,2025l101-6l-117-59l-101,6z"/><path fill="#fcbc3d" d="M11688,1916l101-48l-117-34l-101,48z"/><path fill="#f6de29" d="M14166,1902l101-16l-116-54l-101,16z"/><path fill="#c8c129" d="M10934,2024l101-53l-116-30l-101,52z"/><path fill="#f5e427" d="M13413,1840l101-28l-117-47l-101,28z"/><path fill="#dcbd29" stroke-width="30" d="M15891,2260l101,1l-117-62l-101-2z"/><path fill="#75cc62" d="M10181,2148l101-54l-117-30l-101,53z"/><path fill="#f8da2b" d="M12659,1843l101-39l-117-40l-101,38z"/><path fill="#fec438" d="M15137,2079l101-4l-116-60l-101,4z"/><path fill="#fec338" d="M11905,1903l101-47l-116-36l-101,48z"/><path fill="#f8da2b" d="M14384,1942l101-14l-117-55l-101,13z"/><path fill="#dabd28" d="M11152,2003l101-52l-117-32l-101,52z"/><path fill="#f5e327" d="M13630,1862l101-25l-116-49l-101,24z"/><path fill="#8dcb4f" d="M10398,2124l101-54l-116-30l-101,54z"/><path fill="#f6de29" d="M12876,1847l101-36l-116-43l-101,36z"/><path fill="#fcbd3d" d="M15355,2137l101-3l-117-61l-101,2z"/><path fill="#feca33" d="M12123,1893l101-45l-117-37l-101,45z"/><path fill="#fad52e" d="M14601,1986l101-11l-116-58l-101,11z"/><path fill="#e9bb30" d="M11369,1984l101-52l-116-32l-101,51z"/><path fill="#f5e227" d="M13848,1889l101-22l-117-52l-101,22z"/><path fill="#a4c83e" d="M10616,2101l101-54l-117-31l-101,54z"/><path fill="#f6e128" d="M13094,1856l101-33l-117-45l-101,33z"/><path fill="#f2ba38" d="M15572,2197l101-1l-116-62l-101,0z"/><path fill="#fcd030" d="M12340,1887l101-44l-116-39l-101,44z"/><path fill="#fdce31" d="M14819,2034l101-9l-117-59l-101,9z"/><path fill="#f5ba3b" d="M11587,1967l101-51l-117-34l-101,50z"/><path fill="#f6e029" d="M14065,1921l101-19l-116-54l-101,19z"/><path fill="#bac430" d="M10833,2078l101-54l-116-31l-101,54z"/><path fill="#f5e227" d="M13312,1870l101-30l-117-47l-101,30z"/><path fill="#e4bb2c" d="M15790,2260l101,0l-117-63l-101-1z"/><path fill="#64cd6e" d="M10080,2202l101-54l-117-31l-101,54z"/><path fill="#fad62d" d="M12558,1884l101-41l-117-41l-101,41z"/><path fill="#fec735" d="M15036,2086l101-7l-116-60l-101,6z"/><path fill="#febe3c" d="M11804,1952l101-49l-116-35l-101,48z"/><path fill="#f7dc2a" d="M14283,1958l101-16l-117-56l-101,16z"/><path fill="#cdc028" d="M11051,2057l101-54l-117-32l-101,53z"/><path fill="#f5e327" d="M13529,1889l101-27l-116-50l-101,28z"/><path fill="#7ccc5c" d="M10297,2179l101-55l-116-30l-101,54z"/><path fill="#f8da2b" d="M12775,1886l101-39l-116-43l-101,39z"/><path fill="#fec03b" d="M15254,2141l101-4l-117-62l-101,4z"/><path fill="#fec537" d="M12022,1941l101-48l-117-37l-101,47z"/><path fill="#f9d72c" d="M14500,1999l101-13l-116-58l-101,14z"/><path fill="#debc2a" d="M11268,2037l101-53l-116-33l-101,52z"/><path fill="#f5e227" d="M13747,1914l101-25l-117-52l-101,25z"/><path fill="#94ca4a" d="M10515,2156l101-55l-117-31l-101,54z"/><path fill="#f6de29" d="M12993,1893l101-37l-117-45l-101,36z"/><path fill="#f8ba3d" d="M15471,2200l101-3l-116-63l-101,3z"/><path fill="#fdcb33" d="M12239,1932l101-45l-116-39l-101,45z"/><path fill="#fbd12f" d="M14718,2045l101-11l-117-59l-101,11z"/><path fill="#ecba33" d="M11486,2019l101-52l-117-35l-101,52z"/><path fill="#f6e028" d="M13964,1943l101-22l-116-54l-101,22z"/><path fill="#abc739" d="M10732,2133l101-55l-116-31l-101,54z"/><path fill="#f6e028" d="M13211,1904l101-34l-117-47l-101,33z"/><path fill="#ecba32" d="M15689,2261l101-1l-117-64l-101,1z"/><path fill="#fcd12f" d="M12457,1928l101-44l-117-41l-101,44z"/><path fill="#fdcb33" d="M14935,2095l101-9l-116-61l-101,9z"/><path fill="#f8ba3d" d="M11703,2003l101-51l-116-36l-101,51z"/><path fill="#f7dd2a" d="M14182,1977l101-19l-117-56l-101,19z"/><path fill="#c0c32d" d="M10950,2111l101-54l-117-33l-101,54z"/><path fill="#f5e128" d="M13428,1920l101-31l-116-49l-101,30z"/><path fill="#6bcd69" d="M10196,2233l101-54l-116-31l-101,54z"/><path fill="#f9d62d" d="M12674,1927l101-41l-116-43l-101,41z"/><path fill="#fec438" d="M15153,2148l101-7l-117-62l-101,7z"/><path fill="#febf3b" d="M11921,1990l101-49l-117-38l-101,49z"/><path fill="#f8d92c" d="M14399,2015l101-16l-116-57l-101,16z"/><path fill="#d2bf27" d="M11167,2091l101-54l-116-34l-101,54z"/><path fill="#f5e128" d="M13646,1941l101-27l-117-52l-101,27z"/><path fill="#83cc57" d="M10414,2211l101-55l-117-32l-101,55z"/><path fill="#f8da2b" d="M12892,1931l101-38l-117-46l-101,39z"/><path fill="#fcbd3d" d="M15370,2205l101-5l-116-63l-101,4z"/><path fill="#fec636" d="M12138,1980l101-48l-116-39l-101,48z"/><path fill="#fad42e" d="M14617,2059l101-14l-117-59l-101,13z"/><path fill="#e2bc2b" d="M11385,2072l101-53l-117-35l-101,53z"/><path fill="#f6e028" d="M13863,1967l101-24l-116-54l-101,25z"/><path fill="#9ac945" d="M10631,2188l101-55l-116-32l-101,55z"/><path fill="#f7dd2a" d="M13110,1940l101-36l-117-48l-101,37z"/><path fill="#f3ba38" d="M15588,2264l101-3l-117-64l-101,3z"/><path fill="#fdcc32" d="M12356,1973l101-45l-117-41l-101,45z"/><path fill="#fdce31" d="M14834,2106l101-11l-116-61l-101,11z"/><path fill="#efba35" d="M11602,2055l101-52l-116-36l-101,52z"/><path fill="#f6de29" d="M14081,1998l101-21l-117-56l-101,22z"/><path fill="#b0c636" d="M10849,2166l101-55l-117-33l-101,55z"/><path fill="#f6df29" d="M13327,1953l101-33l-116-50l-101,34z"/><path fill="#fbd22f" d="M12573,1971l101-44l-116-43l-101,44z"/><path fill="#fec735" d="M15052,2157l101-9l-117-62l-101,9z"/><path fill="#fabb3d" d="M11820,2041l101-51l-117-38l-101,51z"/><path fill="#f8da2b" d="M14298,2034l101-19l-116-57l-101,19z"/><path fill="#c4c22a" d="M11066,2146l101-55l-116-34l-101,54z"/><path fill="#f6e028" d="M13545,1971l101-30l-117-52l-101,31z"/><path fill="#71cd64" d="M10313,2266l101-55l-117-32l-101,54z"/><path fill="#f9d62d" d="M12791,1972l101-41l-117-45l-101,41z"/><path fill="#fec03b" d="M15269,2212l101-7l-116-64l-101,7z"/><path fill="#fec03a" d="M12037,2029l101-49l-116-39l-101,49z"/><path fill="#fad52d" d="M14516,2075l101-16l-117-60l-101,16z"/><path fill="#d6be28" d="M11284,2126l101-54l-117-35l-101,54z"/><path fill="#f6df29" d="M13762,1995l101-28l-116-53l-101,27z"/><path fill="#89cb52" d="M10530,2244l101-56l-116-32l-101,55z"/><path fill="#f8da2b" d="M13009,1978l101-38l-117-47l-101,38z"/><path fill="#f8ba3d" d="M15487,2270l101-6l-117-64l-101,5z"/><path fill="#fec736" d="M12255,2021l101-48l-117-41l-101,48z"/><path fill="#fcd030" d="M14733,2120l101-14l-116-61l-101,14z"/><path fill="#e5bb2d" d="M11501,2109l101-54l-116-36l-101,53z"/><path fill="#f6dd29" d="M13980,2023l101-25l-117-55l-101,24z"/><path fill="#a0c841" d="M10748,2222l101-56l-117-33l-101,55z"/><path fill="#f7dc2a" d="M13226,1989l101-36l-116-49l-101,36z"/><path fill="#fdcd32" d="M12472,2016l101-45l-116-43l-101,45z"/><path fill="#feca34" d="M14951,2169l101-12l-117-62l-101,11z"/><path fill="#f1ba37" d="M11719,2093l101-52l-117-38l-101,52z"/><path fill="#f7db2b" d="M14197,2056l101-22l-116-57l-101,21z"/><path fill="#b5c533" d="M10965,2201l101-55l-116-35l-101,55z"/><path fill="#f6de29" d="M13444,2005l101-34l-117-51l-101,33z"/><path fill="#fbd22f" d="M12690,2016l101-44l-117-45l-101,44z"/><path fill="#fec339" d="M15168,2221l101-9l-116-64l-101,9z"/><path fill="#fbbc3d" d="M11936,2080l101-51l-116-39l-101,51z"/><path fill="#f9d72d" d="M14415,2094l101-19l-117-60l-101,19z"/><path fill="#c8c129" d="M11183,2181l101-55l-117-35l-101,55z"/><path fill="#f6de29" d="M13661,2025l101-30l-116-54l-101,30z"/><path fill="#78cc5f" d="M10429,2300l101-56l-116-33l-101,55z"/><path fill="#fad62d" d="M12908,2019l101-41l-117-47l-101,41z"/><path fill="#fcbc3d" d="M15386,2277l101-7l-117-65l-101,7z"/><path fill="#fec13a" d="M12154,2071l101-50l-117-41l-101,49z"/><path fill="#fbd22f" d="M14632,2136l101-16l-116-61l-101,16z"/><path fill="#d9be28" d="M11400,2163l101-54l-116-37l-101,54z"/><path fill="#f7dd2a" d="M13879,2050l101-27l-117-56l-101,28z"/><path fill="#8fcb4e" d="M10647,2278l101-56l-117-34l-101,56z"/><path fill="#f8d92c" d="M13125,2028l101-39l-116-49l-101,38z"/><path fill="#fec735" d="M12371,2064l101-48l-116-43l-101,48z"/><path fill="#fdcc32" d="M14850,2183l101-14l-117-63l-101,14z"/><path fill="#e7bb2e" d="M11618,2147l101-54l-117-38l-101,54z"/><path fill="#f8da2b" d="M14096,2081l101-25l-116-58l-101,25z"/><path fill="#a5c83d" d="M10864,2257l101-56l-116-35l-101,56z"/><path fill="#f7db2b" d="M13343,2040l101-35l-117-52l-101,36z"/><path fill="#fdcd32" d="M12589,2061l101-45l-117-45l-101,45z"/><path fill="#fec537" d="M15067,2233l101-12l-116-64l-101,12z"/><path fill="#f3ba39" d="M11835,2133l101-53l-116-39l-101,52z"/><path fill="#f9d72c" d="M14314,2116l101-22l-117-60l-101,22z"/><path fill="#bac430" d="M11082,2237l101-56l-117-35l-101,55z"/><path fill="#f7dc2a" d="M13560,2058l101-33l-116-54l-101,34z"/><path fill="#fcd12f" d="M12807,2063l101-44l-117-47l-101,44z"/><path fill="#febe3c" d="M15285,2287l101-10l-117-65l-101,9z"/><path fill="#fcbc3d" d="M12053,2122l101-51l-117-42l-101,51z"/><path fill="#fbd32e" d="M14531,2155l101-19l-116-61l-101,19z"/><path fill="#ccc028" d="M11299,2219l101-56l-116-37l-101,55z"/><path fill="#f7db2a" d="M13778,2081l101-31l-117-55l-101,30z"/><path fill="#7dcc5b" d="M10546,2334l101-56l-117-34l-101,56z"/><path fill="#fad52e" d="M13024,2069l101-41l-116-50l-101,41z"/><path fill="#fec239" d="M12270,2114l101-50l-116-43l-101,50z"/><path fill="#fdce31" d="M14749,2199l101-16l-117-63l-101,16z"/><path fill="#dcbd29" d="M11517,2202l101-55l-117-38l-101,54z"/><path fill="#f8da2b" d="M13995,2108l101-27l-116-58l-101,27z"/><path fill="#94ca4a" d="M10763,2314l101-57l-116-35l-101,56z"/><path fill="#f9d72c" d="M13242,2079l101-39l-117-51l-101,39z"/><path fill="#fec735" d="M12488,2109l101-48l-117-45l-101,48z"/><path fill="#fec735" d="M14966,2247l101-14l-116-64l-101,14z"/><path fill="#e9bb30" d="M11734,2187l101-54l-116-40l-101,54z"/><path fill="#f9d72c" d="M14213,2140l101-24l-117-60l-101,25z"/><path fill="#a9c73a" d="M10981,2294l101-57l-117-36l-101,56z"/><path fill="#f8d92c" d="M13459,2094l101-36l-116-53l-101,35z"/><path fill="#fdcc32" d="M12706,2108l101-45l-117-47l-101,45z"/><path fill="#fec13a" d="M15184,2299l101-12l-117-66l-101,12z"/><path fill="#f4ba3a" d="M11952,2174l101-52l-117-42l-101,53z"/><path fill="#fbd32e" d="M14430,2177l101-22l-116-61l-101,22z"/><path fill="#bdc32e" d="M11198,2275l101-56l-116-38l-101,56z"/><path fill="#f8d92b" d="M13677,2114l101-33l-117-56l-101,33z"/><path fill="#fcd030" d="M12923,2112l101-43l-116-50l-101,44z"/><path fill="#fcbc3d" d="M12169,2165l101-51l-116-43l-101,51z"/><path fill="#fccf31" d="M14648,2219l101-20l-117-63l-101,19z"/><path fill="#cfc028" d="M11416,2257l101-55l-117-39l-101,56z"/><path fill="#f9d82c" d="M13894,2138l101-30l-116-58l-101,31z"/><path fill="#82cc58" d="M10662,2370l101-56l-116-36l-101,56z"/><path fill="#fbd32e" d="M13141,2120l101-41l-117-51l-101,41z"/><path fill="#fec239" d="M12387,2159l101-50l-117-45l-101,50z"/><path fill="#fec934" d="M14865,2264l101-17l-116-64l-101,16z"/><path fill="#debd29" d="M11633,2242l101-55l-116-40l-101,55z"/><path fill="#f9d62d" d="M14112,2168l101-28l-117-59l-101,27z"/><path fill="#98c947" d="M10880,2350l101-56l-117-37l-101,57z"/><path fill="#fad52d" d="M13358,2132l101-38l-116-54l-101,39z"/><path fill="#fec736" d="M12605,2156l101-48l-117-47l-101,48z"/><path fill="#fec338" d="M15083,2313l101-14l-117-66l-101,14z"/><path fill="#eaba31" d="M11851,2228l101-54l-117-41l-101,54z"/><path fill="#fbd32e" d="M14329,2202l101-25l-116-61l-101,24z"/><path fill="#adc638" d="M11097,2331l101-56l-116-38l-101,57z"/><path fill="#f9d62d" d="M13576,2149l101-35l-117-56l-101,36z"/><path fill="#fdcb33" d="M12822,2157l101-45l-116-49l-101,45z"/><path fill="#f5ba3a" d="M12068,2218l101-53l-116-43l-101,52z"/><path fill="#fccf30" d="M14547,2240l101-21l-117-64l-101,22z"/><path fill="#c0c32d" d="M11315,2313l101-56l-117-38l-101,56z"/><path fill="#f9d62d" d="M13793,2171l101-33l-116-57l-101,33z"/><path fill="#fccf30" d="M13040,2163l101-43l-117-51l-101,43z"/><path fill="#fcbc3d" d="M12286,2210l101-51l-117-45l-101,51z"/><path fill="#feca33" d="M14764,2283l101-19l-116-65l-101,20z"/><path fill="#d1bf27" d="M11532,2297l101-55l-116-40l-101,55z"/><path fill="#fad52e" d="M14011,2198l101-30l-117-60l-101,30z"/><path fill="#86cb55" d="M10779,2407l101-57l-117-36l-101,56z"/><path fill="#fbd12f" d="M13257,2173l101-41l-116-53l-101,41z"/><path fill="#fec13a" d="M12504,2205l101-49l-117-47l-101,50z"/><path fill="#fec437" d="M14982,2330l101-17l-117-66l-101,17z"/><path fill="#dfbc2a" d="M11750,2283l101-55l-117-41l-101,55z"/><path fill="#fbd22f" d="M14228,2229l101-27l-116-62l-101,28z"/><path fill="#9cc944" d="M10996,2388l101-57l-116-37l-101,56z"/><path fill="#fbd32e" d="M13475,2187l101-38l-117-55l-101,38z"/><path fill="#fec636" d="M12721,2205l101-48l-116-49l-101,48z"/><path fill="#ebba31" d="M11967,2271l101-53l-116-44l-101,54z"/><path fill="#fccf30" d="M14446,2265l101-25l-117-63l-101,25z"/><path fill="#b0c636" d="M11214,2370l101-57l-117-38l-101,56z"/><path fill="#fbd32e" d="M13692,2206l101-35l-116-57l-101,35z"/><path fill="#feca33" d="M12939,2208l101-45l-117-51l-101,45z"/><path fill="#f5ba3a" d="M12185,2262l101-52l-117-45l-101,53z"/><path fill="#fdcb33" d="M14663,2305l101-22l-116-64l-101,21z"/><path fill="#c2c22c" d="M11431,2354l101-57l-116-40l-101,56z"/><path fill="#fbd32f" d="M13910,2230l101-32l-117-60l-101,33z"/><path fill="#fdcd32" d="M13156,2216l101-43l-116-53l-101,43z"/><path fill="#fcbc3d" d="M12403,2257l101-52l-117-46l-101,51z"/><path fill="#fec537" d="M14881,2349l101-19l-117-66l-101,19z"/><path fill="#d2bf27" d="M11649,2339l101-56l-117-41l-101,55z"/><path fill="#fcd12f" d="M14127,2259l101-30l-116-61l-101,30z"/><path fill="#8acb52" d="M10895,2445l101-57l-116-38l-101,57z"/><path fill="#fccf30" d="M13374,2228l101-41l-117-55l-101,41z"/><path fill="#fec03a" d="M12620,2254l101-49l-116-49l-101,49z"/><path fill="#dfbc2a" d="M11866,2326l101-55l-116-43l-101,55z"/><path fill="#fdce31" d="M14345,2292l101-27l-117-63l-101,27z"/><path fill="#9ec942" d="M11113,2428l101-58l-117-39l-101,57z"/><path fill="#fcd030" d="M13591,2244l101-38l-116-57l-101,38z"/><path fill="#fec537" d="M12838,2255l101-47l-117-51l-101,48z"/><path fill="#ebba31" d="M12084,2316l101-54l-117-44l-101,53z"/><path fill="#fdca33" d="M14562,2330l101-25l-116-65l-101,25z"/><path fill="#b2c635" d="M11330,2411l101-57l-116-41l-101,57z"/><path fill="#fcd030" d="M13809,2266l101-36l-117-59l-101,35z"/><path fill="#fec835" d="M13055,2261l101-45l-116-53l-101,45z"/><path fill="#f4ba3a" d="M12302,2309l101-52l-117-47l-101,52z"/><path fill="#fec636" d="M14780,2371l101-22l-117-66l-101,22z"/><path fill="#c3c22b" d="M11548,2396l101-57l-117-42l-101,57z"/><path fill="#fccf30" d="M14026,2291l101-32l-116-61l-101,32z"/><path fill="#fdcb33" d="M13273,2270l101-42l-117-55l-101,43z"/><path fill="#fbbc3d" d="M12519,2305l101-51l-116-49l-101,52z"/><path fill="#d3bf27" d="M11765,2382l101-56l-116-43l-101,56z"/><path fill="#fdcd32" d="M14244,2322l101-30l-117-63l-101,30z"/><path fill="#8ccb50" d="M11012,2485l101-57l-117-40l-101,57z"/><path fill="#fdcc32" d="M13490,2285l101-41l-116-57l-101,41z"/><path fill="#febf3b" d="M12737,2305l101-50l-117-50l-101,49z"/><path fill="#dfbc2a" d="M11983,2371l101-55l-117-45l-101,55z"/><path fill="#feca33" d="M14461,2357l101-27l-116-65l-101,27z"/><path fill="#a0c840" d="M11229,2468l101-57l-116-41l-101,58z"/><path fill="#fdcd32" d="M13708,2303l101-37l-117-60l-101,38z"/><path fill="#fec338" d="M12954,2308l101-47l-116-53l-101,47z"/><path fill="#eaba31" d="M12201,2363l101-54l-117-47l-101,54z"/><path fill="#fec636" d="M14679,2396l101-25l-117-66l-101,25z"/><path fill="#b3c534" d="M11447,2453l101-57l-117-42l-101,57z"/><path fill="#fdcc32" d="M13925,2326l101-35l-116-61l-101,36z"/><path fill="#fec636" d="M13172,2315l101-45l-117-54l-101,45z"/><path fill="#f3ba39" d="M12418,2357l101-52l-116-48l-101,52z"/><path fill="#c4c22b" d="M11664,2439l101-57l-116-43l-101,57z"/><path fill="#fdcb33" d="M14143,2354l101-32l-117-63l-101,32z"/><path fill="#fec835" d="M13389,2327l101-42l-116-57l-101,42z"/><path fill="#fabb3d" d="M12636,2355l101-50l-117-51l-101,51z"/><path fill="#d3bf27" d="M11882,2427l101-56l-117-45l-101,56z"/><path fill="#fec834" d="M14360,2386l101-29l-116-65l-101,30z"/><path fill="#8ecb4e" d="M11128,2526l101-58l-116-40l-101,57z"/><path fill="#fec934" d="M13607,2343l101-40l-117-59l-101,41z"/><path fill="#febe3c" d="M12853,2357l101-49l-116-53l-101,50z"/><path fill="#dfbc2a" d="M12100,2418l101-55l-117-47l-101,55z"/><path fill="#fec537" d="M14578,2423l101-27l-117-66l-101,27z"/><path fill="#a2c83f" d="M11346,2510l101-57l-117-42l-101,57z"/><path fill="#fec934" d="M13824,2364l101-38l-116-60l-101,37z"/><path fill="#fec13a" d="M13071,2362l101-47l-117-54l-101,47z"/><path fill="#e9bb30" d="M12317,2411l101-54l-116-48l-101,54z"/><path fill="#b4c534" d="M11563,2496l101-57l-116-43l-101,57z"/><path fill="#fec834" d="M14042,2389l101-35l-117-63l-101,35z"/><path fill="#fec338" d="M13288,2372l101-45l-116-57l-101,45z"/><path fill="#f1ba37" d="M12535,2408l101-53l-117-50l-101,52z"/><path fill="#c4c22b" d="M11781,2484l101-57l-117-45l-101,57z"/><path fill="#fec736" d="M14259,2418l101-32l-116-64l-101,32z"/><path fill="#fec537" d="M13506,2385l101-42l-117-58l-101,42z"/><path fill="#f8ba3d" d="M12752,2407l101-50l-116-52l-101,50z"/><path fill="#d2bf27" d="M11999,2474l101-56l-117-47l-101,56z"/><path fill="#fec438" d="M14477,2452l101-29l-117-66l-101,29z"/><path fill="#90ca4d" d="M11245,2568l101-58l-117-42l-101,58z"/><path fill="#fec636" d="M13723,2403l101-39l-116-61l-101,40z"/><path fill="#fcbc3d" d="M12970,2411l101-49l-117-54l-101,49z"/><path fill="#debd29" d="M12216,2466l101-55l-116-48l-101,55z"/><path fill="#a3c83f" d="M11462,2554l101-58l-116-43l-101,57z"/><path fill="#fec636" d="M13941,2426l101-37l-117-63l-101,38z"/><path fill="#febf3c" d="M13187,2418l101-46l-116-57l-101,47z"/><path fill="#e7bb2e" d="M12434,2461l101-53l-117-51l-101,54z"/><path fill="#b4c534" d="M11680,2541l101-57l-117-45l-101,57z"/><path fill="#fec437" d="M14158,2453l101-35l-116-64l-101,35z"/><path fill="#fec13a" d="M13405,2430l101-45l-117-58l-101,45z"/><path fill="#efba35" d="M12651,2459l101-52l-116-52l-101,53z"/><path fill="#c3c22b" d="M11898,2530l101-56l-117-47l-101,57z"/><path fill="#fec239" d="M14376,2484l101-32l-117-66l-101,32z"/><path fill="#fec239" d="M13622,2445l101-42l-116-60l-101,42z"/><path fill="#f5ba3b" d="M12869,2461l101-50l-117-54l-101,50z"/><path fill="#d1bf27" d="M12115,2521l101-55l-116-48l-101,56z"/><path fill="#91ca4d" d="M11361,2611l101-57l-116-44l-101,58z"/><path fill="#fec239" d="M13840,2465l101-39l-117-62l-101,39z"/><path fill="#fabb3d" d="M13086,2466l101-48l-116-56l-101,49z"/><path fill="#dcbd29" d="M12333,2515l101-54l-117-50l-101,55z"/><path fill="#a3c83f" d="M11579,2598l101-57l-117-45l-101,58z"/><path fill="#fec139" d="M14057,2490l101-37l-116-64l-101,37z"/><path fill="#fcbd3d" d="M13304,2476l101-46l-117-58l-101,46z"/><path fill="#e5bb2d" d="M12550,2512l101-53l-116-51l-101,53z"/><path fill="#b3c534" d="M11797,2587l101-57l-117-46l-101,57z"/><path fill="#fec03b" d="M14275,2518l101-34l-117-66l-101,35z"/><path fill="#febe3c" d="M13521,2489l101-44l-116-60l-101,45z"/><path fill="#ecba33" d="M12768,2513l101-52l-117-54l-101,52z"/><path fill="#c2c22c" d="M12014,2578l101-57l-116-47l-101,56z"/><path fill="#febe3c" d="M13739,2507l101-42l-117-62l-101,42z"/><path fill="#f2ba38" d="M12985,2516l101-50l-116-55l-101,50z"/><path fill="#cfc028" d="M12232,2571l101-56l-117-49l-101,55z"/><path fill="#91ca4d" d="M11478,2656l101-58l-117-44l-101,57z"/><path fill="#febe3c" d="M13956,2529l101-39l-116-64l-101,39z"/><path fill="#f7ba3c" d="M13203,2524l101-48l-117-58l-101,48z"/><path fill="#d9be28" d="M12449,2567l101-55l-116-51l-101,54z"/><path fill="#a2c83f" d="M11696,2644l101-57l-117-46l-101,57z"/><path fill="#fdbd3d" d="M14174,2555l101-37l-117-65l-101,37z"/><path fill="#f9bb3d" d="M13420,2535l101-46l-116-59l-101,46z"/><path fill="#e2bc2b" d="M12667,2565l101-52l-117-54l-101,53z"/><path fill="#b2c635" d="M11913,2635l101-57l-116-48l-101,57z"/><path fill="#fabc3d" d="M13638,2550l101-43l-117-62l-101,44z"/><path fill="#e9bb30" d="M12884,2567l101-51l-116-55l-101,52z"/><path fill="#c0c32d" d="M12131,2627l101-56l-117-50l-101,57z"/><path fill="#fbbc3d" d="M13855,2570l101-41l-116-64l-101,42z"/><path fill="#eeba34" d="M13102,2573l101-49l-117-58l-101,50z"/><path fill="#ccc028" d="M12348,2622l101-55l-116-52l-101,56z"/><path fill="#90ca4d" d="M11595,2702l101-58l-117-46l-101,58z"/><path fill="#fabb3d" d="M14073,2593l101-38l-117-65l-101,39z"/><path fill="#f2ba38" d="M13319,2582l101-47l-116-59l-101,48z"/><path fill="#d6be28" d="M12566,2619l101-54l-117-53l-101,55z"/><path fill="#a0c840" d="M11812,2692l101-57l-116-48l-101,57z"/><path fill="#f5ba3a" d="M13537,2596l101-46l-117-61l-101,46z"/><path fill="#debc2a" d="M12783,2620l101-53l-116-54l-101,52z"/><path fill="#b0c636" d="M12030,2684l101-57l-117-49l-101,57z"/><path fill="#f6ba3b" d="M13754,2613l101-43l-116-63l-101,43z"/><path fill="#e5bb2d" d="M13001,2624l101-51l-117-57l-101,51z"/><path fill="#bdc32e" d="M12247,2678l101-56l-116-51l-101,56z"/><path fill="#f6ba3b" d="M13972,2634l101-41l-117-64l-101,41z"/><path fill="#eabb30" d="M13218,2631l101-49l-116-58l-101,49z"/><path fill="#c8c129" d="M12465,2674l101-55l-117-52l-101,55z"/><path fill="#8ecb4e" d="M11711,2749l101-57l-116-48l-101,58z"/><path fill="#edba33" d="M13436,2643l101-47l-117-61l-101,47z"/><path fill="#d2bf27" d="M12682,2673l101-53l-116-55l-101,54z"/><path fill="#9ec942" d="M11929,2741l101-57l-117-49l-101,57z"/><path fill="#efba35" d="M13653,2658l101-45l-116-63l-101,46z"/><path fill="#dabd28" d="M12900,2676l101-52l-117-57l-101,53z"/><path fill="#adc638" d="M12146,2734l101-56l-116-51l-101,57z"/><path fill="#f0ba36" d="M13871,2677l101-43l-117-64l-101,43z"/><path fill="#e0bc2a" d="M13117,2682l101-51l-116-58l-101,51z"/><path fill="#bac430" d="M12364,2730l101-56l-117-52l-101,56z"/><path fill="#e4bb2c" d="M13335,2691l101-48l-117-61l-101,49z"/><path fill="#c4c22a" d="M12581,2728l101-55l-116-54l-101,55z"/><path fill="#8ccb50" d="M11828,2798l101-57l-117-49l-101,57z"/><path fill="#e7bb2e" d="M13552,2704l101-46l-116-62l-101,47z"/><path fill="#cdc028" d="M12799,2729l101-53l-117-56l-101,53z"/><path fill="#9cc944" d="M12045,2791l101-57l-116-50l-101,57z"/><path fill="#e9bb2f" d="M13770,2721l101-44l-117-64l-101,45z"/><path fill="#d5be28" d="M13016,2733l101-51l-116-58l-101,52z"/><path fill="#a9c73a" d="M12263,2786l101-56l-117-52l-101,56z"/><path fill="#dabd28" d="M13234,2741l101-50l-117-60l-101,51z"/><path fill="#b5c533" d="M12480,2783l101-55l-116-54l-101,56z"/><path fill="#debc2a" d="M13451,2752l101-48l-116-61l-101,48z"/><path fill="#c0c32d" d="M12698,2783l101-54l-117-56l-101,55z"/><path fill="#8acb52" d="M11944,2848l101-57l-116-50l-101,57z"/><path fill="#e1bc2b" d="M13669,2767l101-46l-117-63l-101,46z"/><path fill="#c8c129" d="M12915,2786l101-53l-116-57l-101,53z"/><path fill="#98c947" d="M12162,2842l101-56l-117-52l-101,57z"/><path fill="#cfc028" d="M13133,2792l101-51l-117-59l-101,51z"/><path fill="#a5c83d" d="M12379,2839l101-56l-116-53l-101,56z"/><path fill="#d4bf28" d="M13350,2801l101-49l-116-61l-101,50z"/><path fill="#b0c636" d="M12597,2838l101-55l-117-55l-101,55z"/><path fill="#d7be28" d="M13568,2814l101-47l-117-63l-101,48z"/><path fill="#bac430" d="M12814,2839l101-53l-116-57l-101,54z"/><path fill="#86cb55" d="M12061,2899l101-57l-117-51l-101,57z"/><path fill="#c2c22c" d="M13032,2844l101-52l-117-59l-101,53z"/><path fill="#94ca4a" d="M12278,2895l101-56l-116-53l-101,56z"/><path fill="#c8c129" d="M13249,2852l101-51l-116-60l-101,51z"/><path fill="#a0c841" d="M12496,2893l101-55l-117-55l-101,56z"/><path fill="#ccc028" d="M13467,2863l101-49l-117-62l-101,49z"/><path fill="#abc739" d="M12713,2894l101-55l-116-56l-101,55z"/><path fill="#b4c534" d="M12931,2897l101-53l-117-58l-101,53z"/><path fill="#82cc58" d="M12177,2951l101-56l-116-53l-101,57z"/><path fill="#bbc430" d="M13148,2904l101-52l-116-60l-101,52z"/><path fill="#8fcb4e" d="M12395,2948l101-55l-117-54l-101,56z"/><path fill="#c0c32d" d="M13366,2913l101-50l-117-62l-101,51z"/><path fill="#9ac945" d="M12612,2948l101-54l-116-56l-101,55z"/><path fill="#a4c83e" d="M12830,2951l101-54l-117-58l-101,55z"/><path fill="#adc638" d="M13047,2956l101-52l-116-60l-101,53z"/><path fill="#7dcc5b" d="M12294,3004l101-56l-117-53l-101,56z"/><path fill="#b3c534" d="M13265,2964l101-51l-117-61l-101,52z"/><path fill="#89cb52" d="M12511,3003l101-55l-116-55l-101,55z"/><path fill="#94ca4a" d="M12729,3005l101-54l-117-57l-101,54z"/><path fill="#9dc943" d="M12946,3009l101-53l-116-59l-101,54z"/><path fill="#a5c83d" d="M13164,3016l101-52l-117-60l-101,52z"/><path fill="#78cc5f" d="M12410,3059l101-56l-116-55l-101,56z"/><path fill="#83cc57" d="M12628,3059l101-54l-117-57l-101,55z"/><path fill="#8dcb4f" d="M12845,3062l101-53l-116-58l-101,54z"/><path fill="#95ca49" d="M13063,3068l101-52l-117-60l-101,53z"/><path fill="#71cd64" d="M12527,3114l101-55l-117-56l-101,56z"/><path fill="#7ccc5c" d="M12744,3116l101-54l-116-57l-101,54z"/><path fill="#85cb55" d="M12962,3121l101-53l-117-59l-101,53z"/><path fill="#6bcd69" d="M12643,3171l101-55l-116-57l-101,55z"/><path fill="#75cc62" d="M12861,3174l101-53l-117-59l-101,54z"/><path fill="#64cd6e" d="M12760,3228l101-54l-117-58l-101,55z"/></g></g>
<path d="M996.3,318.8L996.3,88.8M996.3,318.8L1276,424.5M1276,424.5L1639.6,343.2M996.3,318.8L990.3,316.5M996.3,203.8L990.3,201.5M996.3,88.8L990.3,86.5M1252.7,415.7L1246.5,417.3M1136.1,371.6L1130,373.3M1019.6,327.6L1013.4,329.2M1356.8,406.4L1362.6,408.9M1457.8,383.9L1463.6,386.3M1558.8,361.3L1564.6,363.7" stroke="#5a5a5a" stroke-width="3" fill="none" filter="url(#bl2)"/>
<g filter="url(#bl3)"><text x="952.8" y="91.6" text-anchor="middle" style="font-family:'Liberation Sans',sans-serif;font-size:26px;fill:#5c5c5c;stroke:#5c5c5c;stroke-width:0.7">200</text><text x="952.8" y="208.3" text-anchor="middle" style="font-family:'Liberation Sans',sans-serif;font-size:26px;fill:#5c5c5c;stroke:#5c5c5c;stroke-width:0.7">100</text><text x="967.8" y="323.8" text-anchor="middle" style="font-family:'Liberation Sans',sans-serif;font-size:26px;fill:#5c5c5c;stroke:#5c5c5c;stroke-width:0.7">0</text><text x="989.6" y="360.8" text-anchor="middle" style="font-family:'Liberation Sans',sans-serif;font-size:26px;fill:#5c5c5c;stroke:#5c5c5c;stroke-width:0.7">1</text><text x="1107.1" y="405.2" text-anchor="middle" style="font-family:'Liberation Sans',sans-serif;font-size:26px;fill:#5c5c5c;stroke:#5c5c5c;stroke-width:0.7">0</text><text x="1218.6" y="449.4" text-anchor="middle" style="font-family:'Liberation Sans',sans-serif;font-size:26px;fill:#5c5c5c;stroke:#5c5c5c;stroke-width:0.7">-1</text><text x="1386.9" y="444.1" text-anchor="middle" style="font-family:'Liberation Sans',sans-serif;font-size:26px;fill:#5c5c5c;stroke:#5c5c5c;stroke-width:0.7">-1</text><text x="1484.6" y="420.9" text-anchor="middle" style="font-family:'Liberation Sans',sans-serif;font-size:26px;fill:#5c5c5c;stroke:#5c5c5c;stroke-width:0.7">0</text><text x="1589" y="398.9" text-anchor="middle" style="font-family:'Liberation Sans',sans-serif;font-size:26px;fill:#5c5c5c;stroke:#5c5c5c;stroke-width:0.7">1</text><text x="1495.4" y="464.2" text-anchor="middle" textLength="86" lengthAdjust="spacingAndGlyphs" style="font-family:'Liberation Serif',serif;fill:#0a0a0a;stroke:#0a0a0a;paint-order:stroke;stroke-width:0.7;font-size:43px">x(/m)</text><text x="1125.5" y="448.5" text-anchor="middle" textLength="86" lengthAdjust="spacingAndGlyphs" style="font-family:'Liberation Serif',serif;fill:#0a0a0a;stroke:#0a0a0a;paint-order:stroke;stroke-width:0.7;font-size:43px">y(/m)</text><text transform="translate(903.5,365.4) rotate(-90)" x="0" y="0" textLength="166.5" lengthAdjust="spacingAndGlyphs" style="font-family:'Liberation Serif',serif;fill:#0a0a0a;stroke:#0a0a0a;paint-order:stroke;stroke-width:1.0;font-size:41px">Illuminance</text><text transform="translate(903.5,180.8) rotate(-90)" x="0" y="0" textLength="109.9" lengthAdjust="spacingAndGlyphs" style="font-family:'Liberation Serif',serif;fill:#0a0a0a;stroke:#0a0a0a;paint-order:stroke;stroke-width:1.0;font-size:41px">(/LUX)</text><text y="98.7" style="font-family:'Liberation Serif',serif;fill:#0a0a0a;stroke:#0a0a0a;paint-order:stroke;stroke-width:0.9;font-size:40px"><tspan x="1127.8" textLength="49.9" lengthAdjust="spacingAndGlyphs">(B)</tspan><tspan x="1196.8" textLength="95.1" lengthAdjust="spacingAndGlyphs">Warm</tspan><tspan x="1309.6" textLength="72.3" lengthAdjust="spacingAndGlyphs">light</tspan><tspan x="1397.1" textLength="111.6" lengthAdjust="spacingAndGlyphs">LED_2</tspan></text></g>
</g>
<g id="panelC">
<path d="M509.5,899.7L229.8,794M229.8,794L229.8,564M610.5,877.2L330.8,771.5M330.8,771.5L330.8,541.5M711.5,854.6L431.8,748.9M431.8,748.9L431.8,518.9M405.4,909L769,827.7M769,827.7L769,597.7M288.8,864.9L652.4,783.7M652.4,783.7L652.4,553.7M172.3,820.9L535.9,739.6M535.9,739.6L535.9,509.6M149,812.1L512.6,730.8M512.6,730.8L792.3,836.5M149,697.1L512.6,615.8M512.6,615.8L792.3,721.5M149,582.1L512.6,500.8M512.6,500.8L792.3,606.5" stroke="#e9e9e9" stroke-width="2.6" fill="none" filter="url(#bl2)"/>
<g filter="url(#bl)"><g transform="scale(.1)" stroke="#000" stroke-width="32" stroke-linejoin="round"><path fill="#21c1b0" stroke-width="24" d="M5142,6530l101,9l-117-39l-101-8z"/><path fill="#2bc3a7" stroke-width="24" d="M5041,6521l101,9l-117-38l-101-9z"/><path fill="#23c1af" stroke-width="24" d="M5258,6570l101,9l-116-40l-101-9z"/><path fill="#32c69e" stroke-width="24" d="M4940,6511l101,10l-117-38l-101-9z"/><path fill="#2dc4a6" stroke-width="24" d="M5157,6561l101,9l-116-40l-101-9z"/><path fill="#25c2ae" stroke-width="24" d="M5375,6611l101,9l-117-41l-101-9z"/><path fill="#3bc993" stroke-width="24" d="M4839,6501l101,10l-117-37l-101-10z"/><path fill="#34c79c" stroke-width="24" d="M5056,6551l101,10l-116-40l-101-10z"/><path fill="#2dc4a5" stroke-width="24" d="M5274,6602l101,9l-117-41l-101-9z"/><path fill="#25c2ad" stroke-width="24" d="M5491,6654l101,9l-116-43l-101-9z"/><path fill="#47cb87" stroke-width="24" d="M4738,6490l101,11l-117-37l-101-11z"/><path fill="#3cc991" stroke-width="24" d="M4955,6540l101,11l-116-40l-101-10z"/><path fill="#35c79b" stroke-width="24" d="M5173,6591l101,11l-117-41l-101-10z"/><path fill="#2ec4a4" stroke-width="24" d="M5390,6644l101,10l-116-43l-101-9z"/><path fill="#57cc7a" stroke-width="24" d="M4637,6478l101,12l-117-37l-101-11z"/><path fill="#25c2ad" stroke-width="24" d="M5608,6698l101,9l-117-44l-101-9z"/><path fill="#4acb85" stroke-width="24" d="M4854,6528l101,12l-116-39l-101-11z"/><path fill="#3eca8f" stroke-width="24" d="M5072,6580l101,11l-117-40l-101-11z"/><path fill="#35c79a" stroke-width="24" d="M5289,6634l101,10l-116-42l-101-11z"/><path fill="#69cd6b" stroke-width="24" d="M4536,6466l101,12l-117-36l-101-12z"/><path fill="#2ec4a4" stroke-width="24" d="M5507,6689l101,9l-117-44l-101-10z"/><path fill="#5acc77" stroke-width="24" d="M4753,6516l101,12l-116-38l-101-12z"/><path fill="#25c2ad" stroke-width="24" d="M5724,6744l101,9l-116-46l-101-9z"/><path fill="#4ccb83" stroke-width="24" d="M4971,6569l101,11l-117-40l-101-12z"/><path fill="#3eca8f" stroke-width="24" d="M5188,6623l101,11l-116-43l-101-11z"/><path fill="#7ccc5c" stroke-width="24" d="M4435,6453l101,13l-117-36l-101-12z"/><path fill="#35c79a" stroke-width="24" d="M5406,6678l101,11l-117-45l-101-10z"/><path fill="#6ccd68" stroke-width="24" d="M4652,6504l101,12l-116-38l-101-12z"/><path fill="#2ec4a4" stroke-width="24" d="M5623,6735l101,9l-116-46l-101-9z"/><path fill="#5dcc75" stroke-width="24" d="M4870,6556l101,13l-117-41l-101-12z"/><path fill="#24c2ae" stroke-width="24" d="M5841,6791l101,9l-117-47l-101-9z"/><path fill="#4dcc82" stroke-width="24" d="M5087,6611l101,12l-116-43l-101-11z"/><path fill="#90ca4d" stroke-width="24" d="M4334,6441l101,12l-117-35l-101-12z"/><path fill="#3fca8e" stroke-width="24" d="M5305,6667l101,11l-117-44l-101-11z"/><path fill="#80cc59" stroke-width="24" d="M4551,6491l101,13l-116-38l-101-13z"/><path fill="#35c79a" stroke-width="24" d="M5522,6724l101,11l-116-46l-101-11z"/><path fill="#6fcd66" stroke-width="24" d="M4769,6544l101,12l-117-40l-101-12z"/><path fill="#2dc4a5" stroke-width="24" d="M5740,6782l101,9l-117-47l-101-9z"/><path fill="#5ecd74" stroke-width="24" d="M4986,6599l101,12l-116-42l-101-13z"/><path fill="#a3c83f" stroke-width="24" d="M4233,6428l101,13l-117-35l-101-12z"/><path fill="#23c1af" stroke-width="24" d="M5957,6840l101,8l-116-48l-101-9z"/><path fill="#4dcc82" stroke-width="24" d="M5204,6655l101,12l-117-44l-101-12z"/><path fill="#94ca4a" stroke-width="24" d="M4450,6478l101,13l-116-38l-101-12z"/><path fill="#3eca8f" stroke-width="24" d="M5421,6713l101,11l-116-46l-101-11z"/><path fill="#83cc57" stroke-width="24" d="M4668,6531l101,13l-117-40l-101-13z"/><path fill="#34c79b" stroke-width="24" d="M5639,6772l101,10l-117-47l-101-11z"/><path fill="#71cd65" stroke-width="24" d="M4885,6586l101,13l-116-43l-101-12z"/><path fill="#b5c533" stroke-width="24" d="M4132,6415l101,13l-117-34l-101-12z"/><path fill="#2cc4a6" stroke-width="24" d="M5856,6831l101,9l-116-49l-101-9z"/><path fill="#5fcd73" stroke-width="24" d="M5103,6643l101,12l-117-44l-101-12z"/><path fill="#a7c73c" stroke-width="24" d="M4349,6465l101,13l-116-37l-101-13z"/><path fill="#20c1b1" stroke-width="24" d="M6074,6890l101,8l-117-50l-101-8z"/><path fill="#4dcc82" stroke-width="24" d="M5320,6702l101,11l-116-46l-101-12z"/><path fill="#97ca48" stroke-width="24" d="M4567,6517l101,14l-117-40l-101-13z"/><path fill="#3dca90" stroke-width="24" d="M5538,6761l101,11l-117-48l-101-11z"/><path fill="#85cb55" stroke-width="24" d="M4784,6573l101,13l-116-42l-101-13z"/><path fill="#c6c22a" stroke-width="24" d="M4031,6403l101,12l-117-33l-101-12z"/><path fill="#33c79d" stroke-width="24" d="M5755,6821l101,10l-116-49l-101-10z"/><path fill="#71cd64" stroke-width="24" d="M5002,6630l101,13l-117-44l-101-13z"/><path fill="#bac430" stroke-width="24" d="M4248,6452l101,13l-116-37l-101-13z"/><path fill="#2bc3a8" stroke-width="24" d="M5973,6882l101,8l-117-50l-101-9z"/><path fill="#5ecc74" stroke-width="24" d="M5219,6689l101,13l-116-47l-101-12z"/><path fill="#aac739" stroke-width="24" d="M4466,6504l101,13l-117-39l-101-13z"/><path fill="#1dc0b2" stroke-width="24" d="M6190,6942l101,7l-116-51l-101-8z"/><path fill="#4bcb83" stroke-width="24" d="M5437,6750l101,11l-117-48l-101-11z"/><path fill="#99c946" stroke-width="24" d="M4683,6559l101,14l-116-42l-101-14z"/><path fill="#d6be28" stroke-width="24" d="M3930,6391l101,12l-117-33l-101-12z"/><path fill="#3cc991" stroke-width="24" d="M5654,6811l101,10l-116-49l-101-11z"/><path fill="#85cb55" stroke-width="24" d="M4901,6617l101,13l-117-44l-101-13z"/><path fill="#cbc129" stroke-width="24" d="M4147,6439l101,13l-116-37l-101-12z"/><path fill="#32c69e" stroke-width="24" d="M5872,6873l101,9l-117-51l-101-10z"/><path fill="#70cd65" stroke-width="24" d="M5118,6677l101,12l-116-46l-101-13z"/><path fill="#bdc32f" stroke-width="24" d="M4365,6491l101,13l-117-39l-101-13z"/><path fill="#29c3aa" stroke-width="24" d="M6089,6934l101,8l-116-52l-101-8z"/><path fill="#5ccc75" stroke-width="24" d="M5336,6738l101,12l-117-48l-101-13z"/><path fill="#acc738" stroke-width="24" d="M4582,6546l101,13l-116-42l-101-13z"/><path fill="#e4bb2c" stroke-width="24" d="M3829,6380l101,11l-117-33l-101-11z"/><path fill="#1ac0b5" stroke-width="24" d="M6307,6995l101,7l-117-53l-101-7z"/><path fill="#49cb85" stroke-width="24" d="M5553,6800l101,11l-116-50l-101-11z"/><path fill="#99c946" stroke-width="24" d="M4800,6604l101,13l-117-44l-101-14z"/><path fill="#dabd28" stroke-width="24" d="M4046,6427l101,12l-116-36l-101-12z"/><path fill="#3ac994" stroke-width="24" d="M5771,6863l101,10l-117-52l-101-10z"/><path fill="#85cb56" stroke-width="24" d="M5017,6664l101,13l-116-47l-101-13z"/><path fill="#cdc028" stroke-width="24" d="M4264,6478l101,13l-117-39l-101-13z"/><path fill="#30c5a1" stroke-width="24" d="M5988,6925l101,9l-116-52l-101-9z"/><path fill="#6ecd66" stroke-width="24" d="M5235,6725l101,13l-117-49l-101-12z"/><path fill="#bec32e" stroke-width="24" d="M4481,6532l101,14l-116-42l-101-13z"/><path fill="#f0ba36" stroke-width="24" d="M3728,6369l101,11l-117-33l-101-10z"/><path fill="#26c2ac" stroke-width="24" d="M6206,6988l101,7l-117-53l-101-8z"/><path fill="#5acc78" stroke-width="24" d="M5452,6788l101,12l-116-50l-101-12z"/><path fill="#adc638" stroke-width="24" d="M4699,6590l101,14l-117-45l-101-13z"/><path fill="#e7bb2e" stroke-width="24" d="M3945,6415l101,12l-116-36l-101-11z"/><path fill="#15bfb7" stroke-width="24" d="M6423,7049l101,7l-116-54l-101-7z"/><path fill="#46cb88" stroke-width="24" d="M5670,6852l101,11l-117-52l-101-11z"/><path fill="#98c946" stroke-width="24" d="M4916,6651l101,13l-116-47l-101-13z"/><path fill="#ddbd29" stroke-width="24" d="M4163,6465l101,13l-117-39l-101-12z"/><path fill="#38c897" stroke-width="24" d="M5887,6916l101,9l-116-52l-101-10z"/><path fill="#83cc57" stroke-width="24" d="M5134,6713l101,12l-117-48l-101-13z"/><path fill="#cfc028" stroke-width="24" d="M4380,6519l101,13l-116-41l-101-13z"/><path fill="#fabb3d" stroke-width="24" d="M3627,6360l101,9l-117-32l-101-9z"/><path fill="#2ec5a3" stroke-width="24" d="M6105,6979l101,9l-117-54l-101-9z"/><path fill="#6bcd69" stroke-width="24" d="M5351,6776l101,12l-116-50l-101-13z"/><path fill="#bfc32d" stroke-width="24" d="M4598,6577l101,13l-117-44l-101-14z"/><path fill="#f3ba39" stroke-width="24" d="M3844,6404l101,11l-116-35l-101-11z"/><path fill="#23c1af" stroke-width="24" d="M6322,7042l101,7l-116-54l-101-7z"/><path fill="#56cc7b" stroke-width="24" d="M5569,6841l101,11l-117-52l-101-12z"/><path fill="#acc738" stroke-width="24" d="M4815,6637l101,14l-116-47l-101-14z"/><path fill="#eaba30" stroke-width="24" d="M4062,6453l101,12l-117-38l-101-12z"/><path fill="#10beba" stroke-width="24" d="M6540,7105l101,5l-117-54l-101-7z"/><path fill="#42ca8b" stroke-width="24" d="M5786,6906l101,10l-116-53l-101-11z"/><path fill="#96ca48" stroke-width="24" d="M5033,6700l101,13l-117-49l-101-13z"/><path fill="#debc2a" stroke-width="24" d="M4279,6507l101,12l-116-41l-101-13z"/><path fill="#fec03a" stroke-width="24" d="M3526,6351l101,9l-117-32l-101-7z"/><path fill="#35c79a" stroke-width="24" d="M6004,6970l101,9l-117-54l-101-9z"/><path fill="#7fcc5a" stroke-width="24" d="M5250,6764l101,12l-116-51l-101-12z"/><path fill="#d0c027" stroke-width="24" d="M4497,6564l101,13l-117-45l-101-13z"/><path fill="#fcbc3d" stroke-width="24" d="M3743,6394l101,10l-116-35l-101-9z"/><path fill="#2cc4a7" stroke-width="24" d="M6221,7035l101,7l-116-54l-101-9z"/><path fill="#67cd6c" stroke-width="24" d="M5468,6829l101,12l-117-53l-101-12z"/><path fill="#bec32e" stroke-width="24" d="M4714,6624l101,13l-116-47l-101-13z"/><path fill="#f6ba3b" stroke-width="24" d="M3961,6442l101,11l-117-38l-101-11z"/><path fill="#1ec0b2" stroke-width="24" d="M6439,7099l101,6l-117-56l-101-7z"/><path fill="#52cc7e" stroke-width="24" d="M5685,6895l101,11l-116-54l-101-11z"/><path fill="#aac73a" stroke-width="24" d="M4932,6687l101,13l-117-49l-101-14z"/><path fill="#ebba32" stroke-width="24" d="M4178,6494l101,13l-116-42l-101-12z"/><path fill="#0abdbd" stroke-width="26" d="M6657,7161l101,5l-117-56l-101-5z"/><path fill="#fec735" stroke-width="24" d="M3425,6345l101,6l-117-30l-101-7z"/><path fill="#3eca8f" stroke-width="24" d="M5903,6961l101,9l-117-54l-101-10z"/><path fill="#93ca4b" stroke-width="24" d="M5149,6751l101,13l-116-51l-101-13z"/><path fill="#dfbc2a" stroke-width="24" d="M4396,6551l101,13l-117-45l-101-12z"/><path fill="#fec339" stroke-width="24" d="M3642,6385l101,9l-116-34l-101-9z"/><path fill="#33c69d" stroke-width="24" d="M6120,7027l101,8l-116-56l-101-9z"/><path fill="#7acc5d" stroke-width="24" d="M5367,6817l101,12l-117-53l-101-12z"/><path fill="#cfc028" stroke-width="24" d="M4613,6611l101,13l-116-47l-101-13z"/><path fill="#febd3c" stroke-width="24" d="M3860,6432l101,10l-117-38l-101-10z"/><path fill="#29c3aa" stroke-width="24" d="M6338,7092l101,7l-117-57l-101-7z"/><path fill="#62cd70" stroke-width="24" d="M5584,6884l101,11l-116-54l-101-12z"/><path fill="#bcc42f" stroke-width="24" d="M4831,6674l101,13l-117-50l-101-13z"/><path fill="#f7ba3c" stroke-width="24" d="M4077,6483l101,11l-116-41l-101-11z"/><path fill="#19bfb6" stroke-width="26" d="M6556,7156l101,5l-117-56l-101-6z"/><path fill="#fdce31" stroke-width="24" d="M3324,6340l101,5l-117-31l-101-4z"/><path fill="#4ccb83" stroke-width="24" d="M5802,6951l101,10l-117-55l-101-11z"/><path fill="#a6c83c" stroke-width="24" d="M5048,6739l101,12l-116-51l-101-13z"/><path fill="#ecba32" stroke-width="24" d="M4295,6539l101,12l-117-44l-101-13z"/><path fill="#06bcc0" stroke-width="26" d="M6773,7219l101,4l-116-57l-101-5z"/><path fill="#feca33" stroke-width="24" d="M3541,6378l101,7l-116-34l-101-6z"/><path fill="#3bc993" stroke-width="24" d="M6019,7018l101,9l-116-57l-101-9z"/><path fill="#8ecb4e" stroke-width="24" d="M5266,6805l101,12l-117-53l-101-13z"/><path fill="#debd29" stroke-width="24" d="M4512,6598l101,13l-116-47l-101-13z"/><path fill="#fec537" stroke-width="24" d="M3759,6423l101,9l-117-38l-101-9z"/><path fill="#30c5a1" stroke-width="24" d="M6237,7084l101,8l-117-57l-101-8z"/><path fill="#75cc61" stroke-width="24" d="M5483,6873l101,11l-116-55l-101-12z"/><path fill="#cdc028" stroke-width="24" d="M4730,6661l101,13l-117-50l-101-13z"/><path fill="#febe3c" stroke-width="24" d="M3976,6473l101,10l-116-41l-101-10z"/><path fill="#25c2ae" stroke-width="26" d="M6455,7150l101,6l-117-57l-101-7z"/><path fill="#fad42e" stroke-width="24" d="M3223,6337l101,3l-117-30l-101-3z"/><path fill="#5dcc75" stroke-width="24" d="M5701,6941l101,10l-117-56l-101-11z"/><path fill="#b9c431" stroke-width="24" d="M4947,6726l101,13l-116-52l-101-13z"/><path fill="#f7ba3c" stroke-width="24" d="M4194,6528l101,11l-117-45l-101-11z"/><path fill="#12beb9" stroke-width="26" d="M6672,7214l101,5l-116-58l-101-5z"/><path fill="#fcd130" stroke-width="24" d="M3440,6373l101,5l-116-33l-101-5z"/><path fill="#47cb87" stroke-width="24" d="M5918,7009l101,9l-116-57l-101-10z"/><path fill="#a1c840" stroke-width="24" d="M5165,6793l101,12l-117-54l-101-12z"/><path fill="#ebba32" stroke-width="24" d="M4411,6586l101,12l-116-47l-101-12z"/><path fill="#02bac4" stroke-width="28" d="M6890,7277l101,4l-117-58l-101-4z"/><path fill="#fdcc32" stroke-width="24" d="M3658,6416l101,7l-117-38l-101-7z"/><path fill="#37c897" stroke-width="24" d="M6136,7076l101,8l-117-57l-101-9z"/><path fill="#88cb53" stroke-width="24" d="M5382,6861l101,12l-116-56l-101-12z"/><path fill="#dcbd29" stroke-width="24" d="M4629,6649l101,12l-117-50l-101-13z"/><path fill="#fec636" stroke-width="24" d="M3875,6464l101,9l-116-41l-101-9z"/><path fill="#2dc4a5" stroke-width="26" d="M6354,7143l101,7l-117-58l-101-8z"/><path fill="#f8da2b" stroke-width="24" d="M3122,6336l101,1l-117-30l-101,0z"/><path fill="#6ecd67" stroke-width="24" d="M5600,6930l101,11l-117-57l-101-11z"/><path fill="#c9c129" stroke-width="24" d="M4846,6714l101,12l-116-52l-101-13z"/><path fill="#febf3c" stroke-width="24" d="M4093,6517l101,11l-117-45l-101-10z"/><path fill="#1fc0b2" stroke-width="26" d="M6571,7209l101,5l-116-58l-101-6z"/><path fill="#f9d72c" stroke-width="24" d="M3339,6370l101,3l-116-33l-101-3z"/><path fill="#56cc7b" stroke-width="24" d="M5817,6999l101,10l-116-58l-101-10z"/><path fill="#b4c534" stroke-width="24" d="M5064,6781l101,12l-117-54l-101-13z"/><path fill="#f7ba3c" stroke-width="24" d="M4310,6575l101,11l-116-47l-101-11z"/><path fill="#0abdbd" stroke-width="28" d="M6789,7273l101,4l-117-58l-101-5z"/><path fill="#fbd32f" stroke-width="24" d="M3557,6410l101,6l-117-38l-101-5z"/><path fill="#41ca8c" stroke-width="24" d="M6035,7068l101,8l-117-58l-101-9z"/><path fill="#9bc944" stroke-width="24" d="M5281,6850l101,11l-116-56l-101-12z"/><path fill="#e9bb30" stroke-width="24" d="M4528,6637l101,12l-117-51l-101-12z"/><path fill="#01b9c8" stroke-width="28" d="M7006,7336l101,3l-116-58l-101-4z"/><path fill="#fdcd32" stroke-width="24" d="M3774,6457l101,7l-116-41l-101-7z"/><path fill="#34c79c" stroke-width="26" d="M6253,7136l101,7l-117-59l-101-8z"/><path fill="#f6e029" stroke-width="24" d="M3021,6337l101-1l-117-29l-101,1z"/><path fill="#81cc58" stroke-width="24" d="M5499,6920l101,10l-117-57l-101-12z"/><path fill="#d9be28" stroke-width="24" d="M4745,6702l101,12l-116-53l-101-12z"/><path fill="#fec636" stroke-width="24" d="M3992,6509l101,8l-117-44l-101-9z"/><path fill="#29c3aa" stroke-width="26" d="M6470,7203l101,6l-116-59l-101-7z"/><path fill="#f6dd29" stroke-width="24" d="M3238,6368l101,2l-116-33l-101-1z"/><path fill="#66cd6d" stroke-width="24" d="M5716,6990l101,9l-116-58l-101-11z"/><path fill="#c5c22a" stroke-width="24" d="M4963,6769l101,12l-117-55l-101-12z"/><path fill="#febe3c" stroke-width="24" d="M4209,6565l101,10l-116-47l-101-11z"/><path fill="#18bfb6" stroke-width="28" d="M6688,7269l101,4l-117-59l-101-5z"/><path fill="#f8d92b" stroke-width="24" d="M3456,6407l101,3l-117-37l-101-3z"/><path fill="#4fcc81" stroke-width="24" d="M5934,7059l101,9l-117-59l-101-10z"/><path fill="#aec637" stroke-width="24" d="M5180,6839l101,11l-116-57l-101-12z"/><path fill="#f5ba3a" stroke-width="24" d="M4427,6626l101,11l-117-51l-101-11z"/><path fill="#05bbc1" stroke-width="28" d="M6905,7333l101,3l-116-59l-101-4z"/><path fill="#fad42e" stroke-width="24" d="M3673,6451l101,6l-116-41l-101-6z"/><path fill="#3bc992" stroke-width="26" d="M6152,7129l101,7l-117-60l-101-8z"/><path fill="#f5e426" stroke-width="24" d="M2920,6341l101-4l-117-29l-101,5z"/><path fill="#94ca4a" stroke-width="24" d="M5398,6909l101,11l-117-59l-101-11z"/><path fill="#e7bb2d" stroke-width="24" d="M4644,6691l101,11l-116-53l-101-12z"/><path fill="#02b7cb" stroke-width="28" d="M7123,7396l101,2l-117-59l-101-3z"/><path fill="#fdcd31" stroke-width="24" d="M3891,6501l101,8l-117-45l-101-7z"/><path fill="#30c5a1" stroke-width="26" d="M6369,7197l101,6l-116-60l-101-7z"/><path fill="#f5e327" stroke-width="24" d="M3137,6370l101-2l-116-32l-101,1z"/><path fill="#79cc5f" stroke-width="24" d="M5615,6980l101,10l-116-60l-101-10z"/><path fill="#d4bf28" stroke-width="24" d="M4862,6758l101,11l-117-55l-101-12z"/><path fill="#fec537" stroke-width="24" d="M4108,6557l101,8l-116-48l-101-8z"/><path fill="#24c1ae" stroke-width="28" d="M6587,7264l101,5l-117-60l-101-6z"/><path fill="#f6e029" stroke-width="24" d="M3355,6405l101,2l-117-37l-101-2z"/><path fill="#5ecd74" stroke-width="24" d="M5833,7051l101,8l-117-60l-101-9z"/><path fill="#bfc32d" stroke-width="24" d="M5079,6828l101,11l-116-58l-101-12z"/><path fill="#fdbd3d" stroke-width="24" d="M4326,6617l101,9l-117-51l-101-10z"/><path fill="#10beba" stroke-width="28" d="M6804,7330l101,3l-116-60l-101-4z"/><path fill="#f7db2b" stroke-width="24" d="M3572,6447l101,4l-116-41l-101-3z"/><path fill="#47cb87" stroke-width="26" d="M6051,7121l101,8l-117-61l-101-9z"/><path fill="#f5e924" stroke-width="24" d="M2819,6348l101-7l-117-28l-101,7z"/><path fill="#a6c83c" stroke-width="24" d="M5297,6898l101,11l-117-59l-101-11z"/><path fill="#f2ba38" stroke-width="24" d="M4543,6681l101,10l-116-54l-101-11z"/><path fill="#01bac5" stroke-width="28" d="M7022,7394l101,2l-117-60l-101-3z"/><path fill="#fad42e" stroke-width="24" d="M3790,6495l101,6l-117-44l-101-6z"/><path fill="#37c898" stroke-width="26" d="M6268,7191l101,6l-116-61l-101-7z"/><path fill="#f5e825" stroke-width="24" d="M3036,6373l101-3l-116-33l-101,4z"/><path fill="#8bcb51" stroke-width="24" d="M5514,6970l101,10l-116-60l-101-11z"/><path fill="#e2bc2b" stroke-width="24" d="M4761,6748l101,10l-117-56l-101-11z"/><path fill="#06b5cf" stroke-width="30" d="M7239,7457l101,0l-116-59l-101-2z"/><path fill="#fdcd32" stroke-width="24" d="M4007,6549l101,8l-116-48l-101-8z"/><path fill="#2cc4a6" stroke-width="28" d="M6486,7259l101,5l-117-61l-101-6z"/><path fill="#f5e526" stroke-width="24" d="M3254,6406l101-1l-117-37l-101,2z"/><path fill="#6fcd66" stroke-width="26" d="M5732,7042l101,9l-117-61l-101-10z"/><path fill="#cfc028" stroke-width="24" d="M4978,6817l101,11l-116-59l-101-11z"/><path fill="#fec437" stroke-width="24" d="M4225,6608l101,9l-117-52l-101-8z"/><path fill="#1dc0b3" stroke-width="28" d="M6703,7326l101,4l-116-61l-101-5z"/><path fill="#f6e128" stroke-width="24" d="M3471,6446l101,1l-116-40l-101-2z"/><path fill="#56cc7b" stroke-width="26" d="M5950,7113l101,8l-117-62l-101-8z"/><path fill="#f5ec22" stroke-width="24" d="M2718,6357l101-9l-117-28l-101,9z"/><path fill="#b8c531" stroke-width="24" d="M5196,6888l101,10l-117-59l-101-11z"/><path fill="#fbbc3d" stroke-width="24" d="M4442,6671l101,10l-116-55l-101-9z"/><path fill="#08bcbf" stroke-width="28" d="M6921,7392l101,2l-117-61l-101-3z"/><path fill="#f7db2b" stroke-width="24" d="M3689,6492l101,3l-117-44l-101-4z"/><path fill="#40ca8d" stroke-width="26" d="M6167,7184l101,7l-116-62l-101-8z"/><path fill="#f5ec22" stroke-width="24" d="M2935,6380l101-7l-116-32l-101,7z"/><path fill="#9dc943" stroke-width="24" d="M5413,6960l101,10l-116-61l-101-11z"/><path fill="#eeba35" stroke-width="24" d="M4660,6738l101,10l-117-57l-101-10z"/><path fill="#01b8c9" stroke-width="30" d="M7138,7456l101,1l-116-61l-101-2z"/><path fill="#fad42e" stroke-width="24" d="M3906,6544l101,5l-116-48l-101-6z"/><path fill="#33c69e" stroke-width="28" d="M6385,7254l101,5l-117-62l-101-6z"/><path fill="#f5ea24" stroke-width="24" d="M3153,6410l101-4l-117-36l-101,3z"/><path fill="#82cc58" stroke-width="26" d="M5631,7033l101,9l-117-62l-101-10z"/><path fill="#ddbd29" stroke-width="24" d="M4877,6807l101,10l-116-59l-101-10z"/><path fill="#0cb3d3" stroke-width="30" d="M7356,7518l101-1l-117-60l-101,0z"/><path fill="#fdcb33" stroke-width="24" d="M4124,6601l101,7l-117-51l-101-8z"/><path fill="#27c2ab" stroke-width="28" d="M6602,7322l101,4l-116-62l-101-5z"/><path fill="#f5e625" stroke-width="24" d="M3370,6447l101-1l-116-41l-101,1z"/><path fill="#65cd6e" stroke-width="26" d="M5849,7105l101,8l-117-62l-101-9z"/><path fill="#f5ef21" stroke-width="24" d="M2617,6370l101-13l-117-28l-101,13z"/><path fill="#c8c129" stroke-width="24" d="M5095,6878l101,10l-117-60l-101-11z"/><path fill="#fec239" stroke-width="24" d="M4341,6663l101,8l-116-54l-101-9z"/><path fill="#14bfb8" stroke-width="28" d="M6820,7389l101,3l-117-62l-101-4z"/><path fill="#f5e128" stroke-width="24" d="M3588,6490l101,2l-117-45l-101-1z"/><path fill="#4dcb82" stroke-width="28" d="M6066,7177l101,7l-116-63l-101-8z"/><path fill="#f6ef20" stroke-width="24" d="M2834,6389l101-9l-116-32l-101,9z"/><path fill="#afc637" stroke-width="26" d="M5312,6951l101,9l-116-62l-101-10z"/><path fill="#f9bb3d" stroke-width="24" d="M4559,6729l101,9l-117-57l-101-10z"/><path fill="#02bbc3" stroke-width="30" d="M7037,7454l101,2l-116-62l-101-2z"/><path fill="#f8da2b" stroke-width="24" d="M3805,6540l101,4l-116-49l-101-3z"/><path fill="#3ac994" stroke-width="28" d="M6284,7248l101,6l-117-63l-101-7z"/><path fill="#f5ee21" stroke-width="24" d="M3052,6416l101-6l-117-37l-101,7z"/><path fill="#93ca4a" stroke-width="26" d="M5530,7024l101,9l-117-63l-101-10z"/><path fill="#e9bb30" stroke-width="24" d="M4776,6798l101,9l-116-59l-101-10z"/><path fill="#05b6cd" stroke-width="30" d="M7255,7518l101,0l-117-61l-101-1z"/><path fill="#fbd22f" stroke-width="24" d="M4023,6596l101,5l-117-52l-101-5z"/><path fill="#2fc5a3" stroke-width="28" d="M6501,7318l101,4l-116-63l-101-5z"/><path fill="#f5eb23" stroke-width="24" d="M3269,6450l101-3l-116-41l-101,4z"/><path fill="#76cc60" stroke-width="26" d="M5748,7097l101,8l-117-63l-101-9z"/><path fill="#f6f01f" stroke-width="26" d="M2516,6386l101-16l-117-28l-101,16z"/><path fill="#d6be28" stroke-width="26" d="M4994,6869l101,9l-117-61l-101-10z"/><path fill="#12b1d7" stroke-width="30" d="M7472,7579l101-1l-116-61l-101,1z"/><path fill="#fec934" stroke-width="24" d="M4240,6656l101,7l-116-55l-101-7z"/><path fill="#21c1b1" stroke-width="30" d="M6719,7386l101,3l-117-63l-101-4z"/><path fill="#f5e725" stroke-width="24" d="M3487,6491l101-1l-117-44l-101,1z"/><path fill="#5ccc76" stroke-width="28" d="M5965,7170l101,7l-116-64l-101-8z"/><path fill="#f6f21e" stroke-width="26" d="M2733,6402l101-13l-116-32l-101,13z"/><path fill="#bfc32d" stroke-width="26" d="M5211,6942l101,9l-116-63l-101-10z"/><path fill="#febf3b" stroke-width="24" d="M4458,6721l101,8l-117-58l-101-8z"/><path fill="#0bbdbd" stroke-width="30" d="M6936,7452l101,2l-116-62l-101-3z"/><path fill="#f6e128" stroke-width="24" d="M3704,6539l101,1l-116-48l-101-2z"/><path fill="#44cb8a" stroke-width="28" d="M6183,7242l101,6l-117-64l-101-7z"/><path fill="#f6f11e" stroke-width="26" d="M2951,6425l101-9l-117-36l-101,9z"/><path fill="#a5c83e" stroke-width="26" d="M5429,7015l101,9l-117-64l-101-9z"/><path fill="#f4ba3a" stroke-width="26" d="M4675,6789l101,9l-116-60l-101-9z"/><path fill="#01b9c8" stroke-width="30" d="M7154,7517l101,1l-117-62l-101-2z"/><path fill="#f8d92c" stroke-width="24" d="M3922,6593l101,3l-117-52l-101-4z"/><path fill="#35c79b" stroke-width="28" d="M6400,7313l101,5l-116-64l-101-6z"/><path fill="#f6ef20" stroke-width="26" d="M3168,6456l101-6l-116-40l-101,6z"/><path fill="#88cb53" stroke-width="28" d="M5647,7089l101,8l-117-64l-101-9z"/><path fill="#f6f21e" stroke-width="28" d="M2415,6404l101-18l-117-28l-101,19z"/><path fill="#e3bc2c" stroke-width="26" d="M4893,6860l101,9l-117-62l-101-9z"/><path fill="#0ab4d2" stroke-width="30" d="M7371,7580l101-1l-116-61l-101,0z"/><path fill="#fcd030" stroke-width="26" d="M4139,6652l101,4l-116-55l-101-5z"/><path fill="#2ac3a9" stroke-width="30" d="M6618,7382l101,4l-117-64l-101-4z"/><path fill="#f5ec23" stroke-width="26" d="M3386,6495l101-4l-117-44l-101,3z"/><path fill="#6bcd69" stroke-width="28" d="M5864,7163l101,7l-116-65l-101-8z"/><path fill="#f7f41c" stroke-width="28" d="M2632,6417l101-15l-116-32l-101,16z"/><path fill="#cec028" stroke-width="26" d="M5110,6933l101,9l-116-64l-101-9z"/><path fill="#17aeda" d="M7589,7641l101-2l-117-61l-101,1z"/><path fill="#fec636" stroke-width="26" d="M4357,6715l101,6l-117-58l-101-7z"/><path fill="#18bfb6" stroke-width="30" d="M6835,7450l101,2l-116-63l-101-3z"/><path fill="#f5e626" stroke-width="26" d="M3603,6540l101-1l-116-49l-101,1z"/><path fill="#51cc7f" stroke-width="28" d="M6082,7236l101,6l-117-65l-101-7z"/><path fill="#f7f41c" stroke-width="28" d="M2850,6438l101-13l-117-36l-101,13z"/><path fill="#b5c533" stroke-width="28" d="M5328,7007l101,8l-117-64l-101-9z"/><path fill="#fcbd3d" stroke-width="26" d="M4574,6783l101,6l-116-60l-101-8z"/><path fill="#04bbc2" stroke-width="30" d="M7053,7516l101,1l-117-63l-101-2z"/><path fill="#f6df29" stroke-width="26" d="M3821,6591l101,2l-117-53l-101-1z"/><path fill="#3cc991" stroke-width="30" d="M6299,7308l101,5l-116-65l-101-6z"/><path fill="#f7f31d" stroke-width="28" d="M3067,6466l101-10l-116-40l-101,9z"/><path fill="#99c946" stroke-width="28" d="M5546,7082l101,7l-117-65l-101-9z"/><path fill="#f6f21e" stroke-width="30" d="M2314,6426l101-22l-117-27l-101,22z"/><path fill="#eeba34" stroke-width="26" d="M4792,6853l101,7l-117-62l-101-9z"/><path fill="#03b6cc" d="M7270,7580l101,0l-116-62l-101-1z"/><path fill="#f9d62d" stroke-width="26" d="M4038,6649l101,3l-116-56l-101-3z"/><path fill="#30c5a1" stroke-width="30" d="M6517,7379l101,3l-117-64l-101-5z"/><path fill="#f6f020" stroke-width="28" d="M3285,6501l101-6l-117-45l-101,6z"/><path fill="#7ccc5c" stroke-width="28" d="M5763,7156l101,7l-116-66l-101-8z"/><path fill="#f7f51b" stroke-width="30" d="M2531,6436l101-19l-116-31l-101,18z"/><path fill="#dbbd29" stroke-width="28" d="M5009,6926l101,7l-116-64l-101-9z"/><path fill="#11b1d6" d="M7488,7642l101-1l-117-62l-101,1z"/><path fill="#fdcd32" stroke-width="26" d="M4256,6711l101,4l-117-59l-101-4z"/><path fill="#23c1af" stroke-width="30" d="M6734,7448l101,2l-116-64l-101-4z"/><path fill="#f5eb23" stroke-width="28" d="M3502,6544l101-4l-116-49l-101,4z"/><path fill="#60cd73" stroke-width="28" d="M5981,7230l101,6l-117-66l-101-7z"/><path fill="#f8f61a" stroke-width="30" d="M2749,6453l101-15l-117-36l-101,15z"/><path fill="#c4c22b" stroke-width="28" d="M5227,7000l101,7l-117-65l-101-9z"/><path fill="#1aacdd" d="M7705,7703l101-3l-116-61l-101,2z"/><path fill="#fec239" stroke-width="28" d="M4473,6777l101,6l-116-62l-101-6z"/><path fill="#0dbdbb" stroke-width="30" d="M6952,7515l101,1l-117-64l-101-2z"/><path fill="#f5e526" stroke-width="28" d="M3720,6593l101-2l-117-52l-101,1z"/><path fill="#47cb87" stroke-width="30" d="M6198,7303l101,5l-116-66l-101-6z"/><path fill="#f7f51b" stroke-width="30" d="M2966,6478l101-12l-116-41l-101,13z"/><path fill="#aac73a" stroke-width="28" d="M5445,7075l101,7l-117-67l-101-8z"/><path fill="#f6f21e" d="M2213,6452l101-26l-117-27l-101,25z"/><path fill="#f8ba3d" stroke-width="28" d="M4691,6847l101,6l-117-64l-101-6z"/><path fill="#01b9c7" d="M7169,7580l101,0l-116-63l-101-1z"/><path fill="#f7dc2a" stroke-width="28" d="M3937,6648l101,1l-116-56l-101-2z"/><path fill="#36c899" stroke-width="30" d="M6416,7375l101,4l-117-66l-101-5z"/><path fill="#f7f31d" stroke-width="30" d="M3184,6510l101-9l-117-45l-101,10z"/><path fill="#8dcb50" stroke-width="28" d="M5662,7150l101,6l-116-67l-101-7z"/><path fill="#f7f61b" d="M2430,6458l101-22l-116-32l-101,22z"/><path fill="#e7bb2e" stroke-width="28" d="M4908,6919l101,7l-116-66l-101-7z"/><path fill="#09b4d1" d="M7387,7644l101-2l-117-62l-101,0z"/><path fill="#fbd32e" stroke-width="28" d="M4155,6708l101,3l-117-59l-101-3z"/><path fill="#2bc3a8" stroke-width="30" d="M6633,7445l101,3l-116-66l-101-3z"/><path fill="#f6ef20" stroke-width="30" d="M3401,6550l101-6l-116-49l-101,6z"/><path fill="#6fcd66" stroke-width="30" d="M5880,7224l101,6l-117-67l-101-7z"/><path fill="#f8f718" stroke-width="30" d="M2648,6472l101-19l-117-36l-101,19z"/><path fill="#d2bf27" stroke-width="28" d="M5126,6993l101,7l-117-67l-101-7z"/><path fill="#16afd9" d="M7604,7705l101-2l-116-62l-101,1z"/><path fill="#fec934" stroke-width="28" d="M4372,6773l101,4l-116-62l-101-4z"/><path fill="#1abfb5" d="M6851,7514l101,1l-117-65l-101-2z"/><path fill="#f5e924" stroke-width="30" d="M3619,6596l101-3l-117-53l-101,4z"/><path fill="#54cc7c" stroke-width="30" d="M6097,7298l101,5l-116-67l-101-6z"/><path fill="#f8f718" stroke-width="30" d="M2865,6493l101-15l-116-40l-101,15z"/><path fill="#b9c430" stroke-width="30" d="M5344,7068l101,7l-117-68l-101-7z"/><path fill="#1da9e0" d="M7822,7764l101-3l-117-61l-101,3z"/><path fill="#f6f11f" d="M2112,6480l101-28l-117-28l-101,28z"/><path fill="#febe3c" stroke-width="28" d="M4590,6842l101,5l-117-64l-101-6z"/><path fill="#05bbc1" d="M7068,7580l101,0l-116-64l-101-1z"/><path fill="#f5e227" stroke-width="30" d="M3836,6649l101-1l-116-57l-101,2z"/><path fill="#3eca90" stroke-width="30" d="M6315,7371l101,4l-117-67l-101-5z"/><path fill="#f7f61a" stroke-width="30" d="M3083,6523l101-13l-117-44l-101,12z"/><path fill="#9dc943" stroke-width="30" d="M5561,7144l101,6l-116-68l-101-7z"/><path fill="#f7f51b" d="M2329,6483l101-25l-116-32l-101,26z"/><path fill="#f1ba37" stroke-width="30" d="M4807,6914l101,5l-116-66l-101-6z"/><path fill="#03b7cc" d="M7286,7645l101-1l-117-64l-101,0z"/><path fill="#f8d92b" stroke-width="30" d="M4054,6708l101,0l-117-59l-101-1z"/><path fill="#31c6a0" stroke-width="30" d="M6532,7443l101,2l-116-66l-101-4z"/><path fill="#f6f31d" stroke-width="30" d="M3300,6559l101-9l-116-49l-101,9z"/><path fill="#7fcc5a" stroke-width="30" d="M5779,7219l101,5l-117-68l-101-6z"/><path fill="#f8f818" d="M2547,6494l101-22l-117-36l-101,22z"/><path fill="#debc2a" stroke-width="30" d="M5025,6987l101,6l-117-67l-101-7z"/><path fill="#10b2d5" d="M7503,7708l101-3l-116-63l-101,2z"/><path fill="#fccf30" stroke-width="30" d="M4271,6771l101,2l-116-62l-101-3z"/><path fill="#24c2ae" d="M6750,7512l101,2l-117-66l-101-3z"/><path fill="#f5ee21" stroke-width="30" d="M3518,6603l101-7l-117-52l-101,6z"/><path fill="#62cd71" stroke-width="30" d="M5996,7294l101,4l-116-68l-101-6z"/><path fill="#f8f917" d="M2764,6512l101-19l-116-40l-101,19z"/><path fill="#c7c12a" stroke-width="30" d="M5243,7062l101,6l-117-68l-101-7z"/><path fill="#1aacdd" d="M7721,7768l101-4l-117-61l-101,2z"/><path fill="#f6ef20" d="M2011,6512l101-32l-117-28l-101,32z"/><path fill="#fec437" stroke-width="30" d="M4489,6839l101,3l-117-65l-101-4z"/><path fill="#0fbebb" d="M6967,7580l101,0l-116-65l-101-1z"/><path fill="#f5e725" d="M3735,6653l101-4l-116-56l-101,3z"/><path fill="#48cb86" stroke-width="30" d="M6214,7368l101,3l-117-68l-101-5z"/><path fill="#f8f818" d="M2982,6538l101-15l-117-45l-101,15z"/><path fill="#acc738" stroke-width="30" d="M5460,7138l101,6l-116-69l-101-7z"/><path fill="#f7f41c" d="M2228,6512l101-29l-116-31l-101,28z"/><path fill="#fabb3d" stroke-width="30" d="M4706,6910l101,4l-116-67l-101-5z"/><path fill="#01b9c6" d="M7185,7646l101-1l-117-65l-101,0z"/><path fill="#f6de29" d="M3953,6710l101-2l-117-60l-101,1z"/><path fill="#37c898" d="M6431,7440l101,3l-116-68l-101-4z"/><path fill="#f7f51b" d="M3199,6572l101-13l-116-49l-101,13z"/><path fill="#8fcb4e" stroke-width="30" d="M5678,7214l101,5l-117-69l-101-6z"/><path fill="#f8f818" d="M2446,6519l101-25l-117-36l-101,25z"/><path fill="#e9bb30" stroke-width="30" d="M4924,6983l101,4l-117-68l-101-5z"/><path fill="#08b4d0" d="M7402,7710l101-2l-116-64l-101,1z"/><path fill="#fad52e" d="M4170,6771l101,0l-116-63l-101,0z"/><path fill="#2cc4a7" d="M6649,7511l101,1l-117-67l-101-2z"/><path fill="#f6f11f" d="M3417,6612l101-9l-117-53l-101,9z"/><path fill="#71cd65" d="M5895,7290l101,4l-116-70l-101-5z"/><path fill="#f9f916" d="M2663,6534l101-22l-116-40l-101,22z"/><path fill="#d4bf28" stroke-width="30" d="M5142,7058l101,4l-117-69l-101-6z"/><path fill="#16afd9" d="M7620,7771l101-3l-117-63l-101,3z"/><path fill="#f5ed22" d="M1910,6546l101-34l-117-28l-101,34z"/><path fill="#feca33" d="M4388,6837l101,2l-117-66l-101-2z"/><path fill="#1bc0b4" d="M6866,7580l101,0l-116-66l-101-2z"/><path fill="#f5eb23" d="M3634,6660l101-7l-116-57l-101,7z"/><path fill="#55cc7b" d="M6113,7364l101,4l-117-70l-101-4z"/><path fill="#f9f917" d="M2881,6557l101-19l-117-45l-101,19z"/><path fill="#bbc430" d="M5359,7134l101,4l-116-70l-101-6z"/><path fill="#f6f31d" d="M2127,6544l101-32l-116-32l-101,32z"/><path fill="#febf3b" d="M4605,6907l101,3l-116-68l-101-3z"/><path fill="#06bcc0" d="M7084,7647l101-1l-117-66l-101,0z"/><path fill="#f5e327" d="M3852,6714l101-4l-117-61l-101,4z"/><path fill="#3eca8f" d="M6330,7438l101,2l-116-69l-101-3z"/><path fill="#f8f719" d="M3098,6587l101-15l-116-49l-101,15z"/><path fill="#9ec942" d="M5577,7210l101,4l-117-70l-101-6z"/><path fill="#f8f719" d="M2345,6548l101-29l-117-36l-101,29z"/><path fill="#f2ba38" d="M4823,6980l101,3l-117-69l-101-4z"/><path fill="#03b7cb" d="M7301,7712l101-2l-116-65l-101,1z"/><path fill="#f8da2b" d="M4069,6774l101-3l-116-63l-101,2z"/><path fill="#31c6a0" d="M6548,7509l101,2l-117-68l-101-3z"/><path fill="#f7f41c" d="M3316,6625l101-13l-117-53l-101,13z"/><path fill="#80cc59" d="M5794,7286l101,4l-116-71l-101-5z"/><path fill="#f8f917" d="M2562,6559l101-25l-116-40l-101,25z"/><path fill="#dfbc2a" d="M5041,7054l101,4l-117-71l-101-4z"/><path fill="#10b2d5" d="M7519,7775l101-4l-117-63l-101,2z"/><path fill="#f5ea24" d="M1809,6584l101-38l-117-28l-101,37z"/><path fill="#fcd030" d="M4287,6838l101-1l-117-66l-101,0z"/><path fill="#25c2ae" d="M6765,7580l101,0l-116-68l-101-1z"/><path fill="#f5ee21" d="M3533,6670l101-10l-116-57l-101,9z"/><path fill="#62cd70" d="M6012,7361l101,3l-117-70l-101-4z"/><path fill="#f9fa16" d="M2780,6579l101-22l-117-45l-101,22z"/><path fill="#c8c129" d="M5258,7130l101,4l-116-72l-101-4z"/><path fill="#f6f01f" d="M2026,6578l101-34l-116-32l-101,34z"/><path fill="#fec537" d="M4504,6906l101,1l-116-68l-101-2z"/><path fill="#0fbebb" d="M6983,7648l101-1l-117-67l-101,0z"/><path fill="#f5e725" d="M3751,6721l101-7l-117-61l-101,7z"/><path fill="#49cb86" d="M6229,7435l101,3l-116-70l-101-4z"/><path fill="#f8f817" d="M2997,6606l101-19l-116-49l-101,19z"/><path fill="#adc638" d="M5476,7206l101,4l-117-72l-101-4z"/><path fill="#f7f51b" d="M2244,6580l101-32l-117-36l-101,32z"/><path fill="#fabb3d" d="M4722,6978l101,2l-117-70l-101-3z"/><path fill="#01b9c6" d="M7200,7714l101-2l-116-66l-101,1z"/><path fill="#f6df29" d="M3968,6778l101-4l-116-64l-101,4z"/><path fill="#37c898" d="M6447,7508l101,1l-117-69l-101-2z"/><path fill="#f7f61a" d="M3215,6640l101-15l-117-53l-101,15z"/><path fill="#8fcb4e" d="M5693,7283l101,3l-116-72l-101-4z"/><path fill="#f8f818" d="M2461,6588l101-29l-116-40l-101,29z"/><path fill="#e9bb30" d="M4940,7052l101,2l-117-71l-101-3z"/><path fill="#08b4d1" d="M7418,7778l101-3l-117-65l-101,2z"/><path fill="#f5e626" d="M1708,6624l101-40l-117-29l-101,40z"/><path fill="#fad52e" d="M4186,6841l101-3l-117-67l-101,3z"/><path fill="#2cc4a7" d="M6664,7579l101,1l-116-69l-101-2z"/><path fill="#f6f11f" d="M3432,6682l101-12l-116-58l-101,13z"/><path fill="#70cd65" d="M5911,7359l101,2l-117-71l-101-4z"/><path fill="#f9f916" d="M2679,6604l101-25l-117-45l-101,25z"/><path fill="#d4bf27" d="M5157,7127l101,3l-116-72l-101-4z"/><path fill="#f5ed22" d="M1925,6616l101-38l-116-32l-101,38z"/><path fill="#feca33" d="M4403,6908l101-2l-116-69l-101,1z"/><path fill="#1ac0b4" d="M6882,7648l101,0l-117-68l-101,0z"/><path fill="#f5eb23" d="M3650,6731l101-10l-117-61l-101,10z"/><path fill="#55cc7c" d="M6128,7434l101,1l-116-71l-101-3z"/><path fill="#f8f917" d="M2896,6628l101-22l-116-49l-101,22z"/><path fill="#bac430" d="M5375,7204l101,2l-117-72l-101-4z"/><path fill="#f6f21d" d="M2143,6614l101-34l-117-36l-101,34z"/><path fill="#febf3b" d="M4621,6978l101,0l-117-71l-101-1z"/><path fill="#05bbc1" d="M7099,7716l101-2l-116-67l-101,1z"/><path fill="#f5e327" d="M3867,6786l101-8l-116-64l-101,7z"/><path fill="#3eca8f" d="M6346,7507l101,1l-117-70l-101-3z"/><path fill="#f8f719" d="M3114,6659l101-19l-117-53l-101,19z"/><path fill="#9dc943" d="M5592,7280l101,3l-116-73l-101-4z"/><path fill="#f8f61a" d="M2360,6620l101-32l-116-40l-101,32z"/><path fill="#f2ba37" d="M4839,7051l101,1l-117-72l-101-2z"/><path fill="#03b7cc" d="M7317,7781l101-3l-117-66l-101,2z"/><path fill="#f5e128" d="M1607,6667l101-43l-117-29l-101,43z"/><path fill="#f8d92b" d="M4085,6846l101-5l-117-67l-101,4z"/><path fill="#31c6a0" d="M6563,7579l101,0l-116-70l-101-1z"/><path fill="#f7f31d" d="M3331,6698l101-16l-116-57l-101,15z"/><path fill="#7fcc5a" d="M5810,7357l101,2l-117-73l-101-3z"/><path fill="#f8f817" d="M2578,6633l101-29l-117-45l-101,29z"/><path fill="#debc2a" d="M5056,7126l101,1l-116-73l-101-2z"/><path fill="#f5e924" d="M1824,6656l101-40l-116-32l-101,40z"/><path fill="#fccf30" d="M4302,6911l101-3l-116-70l-101,3z"/><path fill="#24c1ae" d="M6781,7649l101-1l-117-68l-101-1z"/><path fill="#f5ed21" d="M3549,6744l101-13l-117-61l-101,12z"/><path fill="#61cd71" d="M6027,7432l101,2l-116-73l-101-2z"/><path fill="#f8f917" d="M2795,6653l101-25l-116-49l-101,25z"/><path fill="#c6c22a" d="M5274,7202l101,2l-117-74l-101-3z"/><path fill="#f6ef20" d="M2042,6652l101-38l-117-36l-101,38z"/><path fill="#fec438" d="M4520,6980l101-2l-117-72l-101,2z"/><path fill="#0ebdbb" d="M6998,7717l101-1l-116-68l-101,0z"/><path fill="#f5e626" d="M3766,6796l101-10l-116-65l-101,10z"/><path fill="#47cb87" d="M6245,7506l101,1l-117-72l-101-1z"/><path fill="#f8f719" d="M3013,6681l101-22l-117-53l-101,22z"/><path fill="#abc739" d="M5491,7279l101,1l-116-74l-101-2z"/><path fill="#f7f41c" d="M2259,6655l101-35l-116-40l-101,34z"/><path fill="#f9bb3d" d="M4738,7052l101-1l-117-73l-101,0z"/><path fill="#01b9c7" d="M7216,7784l101-3l-117-67l-101,2z"/><path fill="#f6dd29" d="M3984,6854l101-8l-117-68l-101,8z"/><path fill="#36c899" d="M6462,7579l101,0l-116-71l-101-1z"/><path fill="#f7f41c" d="M3230,6717l101-19l-116-58l-101,19z"/><path fill="#8dcb4f" d="M5709,7355l101,2l-117-74l-101-3z"/><path fill="#f8f719" d="M2477,6664l101-31l-117-45l-101,32z"/><path fill="#e7bb2e" d="M4955,7126l101,0l-116-74l-101-1z"/><path fill="#f5e526" d="M1723,6700l101-44l-116-32l-101,43z"/><path fill="#fbd32e" d="M4201,6917l101-6l-116-70l-101,5z"/><path fill="#2bc3a8" d="M6680,7650l101-1l-117-70l-101,0z"/><path fill="#f6ef20" d="M3448,6760l101-16l-117-62l-101,16z"/><path fill="#6ecd67" d="M5926,7431l101,1l-116-73l-101-2z"/><path fill="#f8f818" d="M2694,6682l101-29l-116-49l-101,29z"/><path fill="#d1bf27" d="M5173,7202l101,0l-117-75l-101-1z"/><path fill="#f5eb23" d="M1941,6693l101-41l-117-36l-101,40z"/><path fill="#fec834" d="M4419,6984l101-4l-117-72l-101,3z"/><path fill="#19bfb5" d="M6897,7719l101-2l-116-69l-101,1z"/><path fill="#f5e924" d="M3665,6809l101-13l-116-65l-101,13z"/><path fill="#53cc7d" d="M6144,7506l101,0l-117-72l-101-2z"/><path fill="#f8f719" d="M2912,6707l101-26l-117-53l-101,25z"/><path fill="#b7c532" d="M5390,7278l101,1l-116-75l-101-2z"/><path fill="#f6f11f" d="M2158,6693l101-38l-116-41l-101,38z"/><path fill="#febd3c" d="M4637,7055l101-3l-117-74l-101,2z"/><path fill="#04bbc1" d="M7115,7787l101-3l-117-68l-101,1z"/><path fill="#f6e128" d="M3883,6864l101-10l-117-68l-101,10z"/><path fill="#3cc991" d="M6361,7580l101-1l-116-72l-101-1z"/><path fill="#f7f51b" d="M3129,6739l101-22l-116-58l-101,22z"/><path fill="#9ac945" d="M5608,7355l101,0l-117-75l-101-1z"/><path fill="#f7f41c" d="M2376,6699l101-35l-117-44l-101,35z"/><path fill="#efba35" d="M4854,7128l101-2l-116-75l-101,1z"/><path fill="#f9d72c" d="M4100,6925l101-8l-116-71l-101,8z"/><path fill="#30c5a2" d="M6579,7652l101-2l-117-71l-101,0z"/><path fill="#f6f11f" d="M3347,6779l101-19l-117-62l-101,19z"/><path fill="#7bcc5d" d="M5825,7431l101,0l-116-74l-101-2z"/><path fill="#f7f61a" d="M2593,6713l101-31l-116-49l-101,31z"/><path fill="#dbbd29" d="M5072,7203l101-1l-117-76l-101,0z"/><path fill="#f5e725" d="M1840,6736l101-43l-117-37l-101,44z"/><path fill="#fdcc32" d="M4318,6991l101-7l-117-73l-101,6z"/><path fill="#22c1b0" d="M6796,7722l101-3l-116-70l-101,1z"/><path fill="#f5eb23" d="M3564,6825l101-16l-116-65l-101,16z"/><path fill="#5ecd74" d="M6043,7507l101-1l-117-74l-101-1z"/><path fill="#f7f61a" d="M2811,6735l101-28l-117-54l-101,29z"/><path fill="#c3c22b" d="M5289,7279l101-1l-116-76l-101,0z"/><path fill="#f5ed22" d="M2057,6733l101-40l-116-41l-101,41z"/><path fill="#fec139" d="M4536,7060l101-5l-117-75l-101,4z"/><path fill="#0cbdbc" d="M7014,7790l101-3l-117-70l-101,2z"/><path fill="#f5e327" d="M3782,6878l101-14l-117-68l-101,13z"/><path fill="#45cb89" d="M6260,7581l101-1l-116-74l-101,0z"/><path fill="#f7f41c" d="M3028,6764l101-25l-116-58l-101,26z"/><path fill="#a7c73c" d="M5507,7356l101-1l-117-76l-101-1z"/><path fill="#f6f11f" d="M2275,6737l101-38l-117-44l-101,38z"/><path fill="#f6ba3b" d="M4753,7132l101-4l-116-76l-101,3z"/><path fill="#f8da2b" d="M3999,6936l101-11l-116-71l-101,10z"/><path fill="#35c79b" d="M6478,7653l101-1l-117-73l-101,1z"/><path fill="#f6f11e" d="M3246,6801l101-22l-117-62l-101,22z"/><path fill="#88cb53" d="M5724,7432l101-1l-116-76l-101,0z"/><path fill="#f7f41c" d="M2492,6748l101-35l-116-49l-101,35z"/><path fill="#e3bb2c" d="M4971,7206l101-3l-117-77l-101,2z"/><path fill="#fcd030" d="M4217,6999l101-8l-117-74l-101,8z"/><path fill="#29c3aa" d="M6695,7724l101-2l-116-72l-101,2z"/><path fill="#f5ec22" d="M3463,6844l101-19l-116-65l-101,19z"/><path fill="#6acd6a" d="M5942,7508l101-1l-117-76l-101,0z"/><path fill="#f7f41c" d="M2710,6767l101-32l-117-53l-101,31z"/><path fill="#cdc028" d="M5188,7281l101-2l-116-77l-101,1z"/><path fill="#f5e825" d="M1956,6777l101-44l-116-40l-101,43z"/><path fill="#fec537" d="M4435,7067l101-7l-117-76l-101,7z"/><path fill="#16bfb7" d="M6913,7793l101-3l-117-71l-101,3z"/><path fill="#f5e526" d="M3681,6894l101-16l-117-69l-101,16z"/><path fill="#4fcc80" d="M6159,7582l101-1l-116-75l-101,1z"/><path fill="#f7f31c" d="M2927,6793l101-29l-116-57l-101,28z"/><path fill="#b2c635" d="M5406,7357l101-1l-117-78l-101,1z"/><path fill="#f5ed22" d="M2174,6778l101-41l-117-44l-101,40z"/><path fill="#fbbc3d" d="M4652,7137l101-5l-116-77l-101,5z"/><path fill="#f7dd2a" d="M3898,6950l101-14l-116-72l-101,14z"/><path fill="#3ac994" d="M6377,7655l101-2l-117-73l-101,1z"/><path fill="#f6f11f" d="M3145,6826l101-25l-117-62l-101,25z"/><path fill="#95ca49" d="M5623,7434l101-2l-116-77l-101,1z"/><path fill="#f6f01f" d="M2391,6786l101-38l-116-49l-101,38z"/><path fill="#ebba31" d="M4870,7210l101-4l-117-78l-101,4z"/><path fill="#fbd32e" d="M4116,7011l101-12l-117-74l-101,11z"/><path fill="#2ec5a4" d="M6594,7727l101-3l-116-72l-101,1z"/><path fill="#f5ed22" d="M3362,6866l101-22l-116-65l-101,22z"/><path fill="#76cc61" d="M5841,7509l101-1l-117-77l-101,1z"/><path fill="#f6f21e" d="M2609,6801l101-34l-117-54l-101,35z"/><path fill="#d6be28" d="M5087,7285l101-4l-116-78l-101,3z"/><path fill="#fec934" d="M4334,7076l101-9l-117-76l-101,8z"/><path fill="#1fc0b1" d="M6812,7796l101-3l-117-71l-101,2z"/><path fill="#f5e725" d="M3580,6913l101-19l-117-69l-101,19z"/><path fill="#59cc78" d="M6058,7584l101-2l-116-75l-101,1z"/><path fill="#f6f21e" d="M2826,6824l101-31l-116-58l-101,32z"/><path fill="#bcc42f" d="M5305,7360l101-3l-117-78l-101,2z"/><path fill="#f5e924" d="M2073,6821l101-43l-117-45l-101,44z"/><path fill="#febe3c" d="M4551,7145l101-8l-116-77l-101,7z"/><path fill="#f6df29" d="M3797,6966l101-16l-116-72l-101,16z"/><path fill="#41ca8c" d="M6276,7658l101-3l-117-74l-101,1z"/><path fill="#f6f01f" d="M3044,6854l101-28l-117-62l-101,29z"/><path fill="#a0c841" d="M5522,7436l101-2l-116-78l-101,1z"/><path fill="#f5ec22" d="M2290,6827l101-41l-116-49l-101,41z"/><path fill="#f1ba37" d="M4769,7216l101-6l-117-78l-101,5z"/><path fill="#fad62d" d="M4015,7024l101-13l-117-75l-101,14z"/><path fill="#33c69e" d="M6493,7730l101-3l-116-74l-101,2z"/><path fill="#f5ec22" d="M3261,6891l101-25l-116-65l-101,25z"/><path fill="#82cc58" d="M5740,7512l101-3l-117-77l-101,2z"/><path fill="#f5ef20" d="M2508,6839l101-38l-117-53l-101,38z"/><path fill="#ddbd29" d="M4986,7290l101-5l-116-79l-101,4z"/><path fill="#fdcc32" d="M4233,7088l101-12l-117-77l-101,12z"/><path fill="#26c2ac" d="M6711,7800l101-4l-117-72l-101,3z"/><path fill="#f5e725" d="M3479,6935l101-22l-117-69l-101,22z"/><path fill="#64cd6f" d="M5957,7587l101-3l-116-76l-101,1z"/><path fill="#f6ef20" d="M2725,6859l101-35l-116-57l-101,34z"/><path fill="#c6c22a" d="M5204,7365l101-5l-117-79l-101,4z"/><path fill="#fec13a" d="M4450,7155l101-10l-116-78l-101,9z"/><path fill="#f6e028" d="M3696,6985l101-19l-116-72l-101,19z"/><path fill="#4acb85" d="M6175,7661l101-3l-117-76l-101,2z"/><path fill="#f5ee21" d="M2943,6885l101-31l-117-61l-101,31z"/><path fill="#abc739" d="M5421,7440l101-4l-116-79l-101,3z"/><path fill="#f5e825" d="M2189,6870l101-43l-116-49l-101,43z"/><path fill="#f6ba3b" d="M4668,7225l101-9l-117-79l-101,8z"/><path fill="#f9d82c" d="M3914,7041l101-17l-117-74l-101,16z"/><path fill="#37c897" d="M6392,7734l101-4l-116-75l-101,3z"/><path fill="#f5eb23" d="M3160,6919l101-28l-116-65l-101,28z"/><path fill="#8dcb4f" d="M5639,7516l101-4l-117-78l-101,2z"/><path fill="#f5eb23" d="M2407,6880l101-41l-117-53l-101,41z"/><path fill="#e4bb2c" d="M4885,7297l101-7l-116-80l-101,6z"/><path fill="#fdce31" d="M4132,7102l101-14l-117-77l-101,13z"/><path fill="#2cc4a7" d="M6610,7805l101-5l-117-73l-101,3z"/><path fill="#f5e725" d="M3378,6960l101-25l-117-69l-101,25z"/><path fill="#6ecd66" d="M5856,7591l101-4l-116-78l-101,3z"/><path fill="#f5ec22" d="M2624,6896l101-37l-116-58l-101,38z"/><path fill="#cec028" d="M5103,7371l101-6l-117-80l-101,5z"/><path fill="#fec438" d="M4349,7167l101-12l-116-79l-101,12z"/><path fill="#f6e128" d="M3595,7007l101-22l-116-72l-101,22z"/><path fill="#53cc7d" d="M6074,7665l101-4l-117-77l-101,3z"/><path fill="#f5ec22" d="M2842,6920l101-35l-117-61l-101,35z"/><path fill="#b4c534" d="M5320,7446l101-6l-116-80l-101,5z"/><path fill="#fabb3d" d="M4567,7235l101-10l-117-80l-101,10z"/><path fill="#f8d92c" d="M3813,7060l101-19l-117-75l-101,19z"/><path fill="#3dc991" d="M6291,7738l101-4l-116-76l-101,3z"/><path fill="#f5ea24" d="M3059,6951l101-32l-116-65l-101,31z"/><path fill="#97ca47" d="M5538,7521l101-5l-117-80l-101,4z"/><path fill="#f5e626" d="M2306,6923l101-43l-117-53l-101,43z"/><path fill="#e9bb30" d="M4784,7306l101-9l-116-81l-101,9z"/><path fill="#fcd030" d="M4031,7119l101-17l-117-78l-101,17z"/><path fill="#30c5a1" d="M6509,7809l101-4l-117-75l-101,4z"/><path fill="#f5e626" d="M3277,6988l101-28l-117-69l-101,28z"/><path fill="#79cc5e" d="M5755,7596l101-5l-116-79l-101,4z"/><path fill="#f5e825" d="M2523,6936l101-40l-116-57l-101,41z"/><path fill="#d5be28" d="M5002,7379l101-8l-117-81l-101,7z"/><path fill="#fec636" d="M4248,7181l101-14l-116-79l-101,14z"/><path fill="#f6e028" d="M3494,7032l101-25l-116-72l-101,25z"/><path fill="#5ccc75" d="M5973,7670l101-5l-117-78l-101,4z"/><path fill="#f5e924" d="M2741,6957l101-37l-117-61l-101,37z"/><path fill="#bcc42f" d="M5219,7453l101-7l-116-81l-101,6z"/><path fill="#fcbd3d" d="M4466,7248l101-13l-117-80l-101,12z"/><path fill="#f8d92b" d="M3712,7082l101-22l-117-75l-101,22z"/><path fill="#44cb8a" d="M6190,7743l101-5l-116-77l-101,4z"/><path fill="#f5e725" d="M2958,6985l101-34l-116-66l-101,35z"/><path fill="#a1c840" d="M5437,7527l101-6l-117-81l-101,6z"/><path fill="#eeba34" d="M4683,7317l101-11l-116-81l-101,10z"/><path fill="#fcd12f" d="M3930,7138l101-19l-117-78l-101,19z"/><path fill="#34c79b" d="M6408,7815l101-6l-117-75l-101,4z"/><path fill="#f5e426" d="M3176,7019l101-31l-117-69l-101,32z"/><path fill="#83cc57" d="M5654,7602l101-6l-116-80l-101,5z"/><path fill="#f5e427" d="M2422,6979l101-43l-116-56l-101,43z"/><path fill="#dbbd29" d="M4901,7388l101-9l-117-82l-101,9z"/><path fill="#fec835" d="M4147,7198l101-17l-116-79l-101,17z"/><path fill="#f6df29" d="M3393,7060l101-28l-116-72l-101,28z"/><path fill="#65cd6e" d="M5872,7676l101-6l-117-79l-101,5z"/><path fill="#f5e526" d="M2640,6997l101-40l-117-61l-101,40z"/><path fill="#c4c22b" d="M5118,7461l101-8l-116-82l-101,8z"/><path fill="#febe3c" d="M4365,7263l101-15l-117-81l-101,14z"/><path fill="#f8d92b" d="M3611,7107l101-25l-117-75l-101,25z"/><path fill="#4bcb83" d="M6089,7749l101-6l-116-78l-101,5z"/><path fill="#f5e427" d="M2857,7021l101-36l-116-65l-101,37z"/><path fill="#a9c73a" d="M5336,7535l101-8l-117-81l-101,7z"/><path fill="#f2ba37" d="M4582,7330l101-13l-116-82l-101,13z"/><path fill="#fbd12f" d="M3829,7160l101-22l-117-78l-101,22z"/><path fill="#38c896" d="M6307,7821l101-6l-117-77l-101,5z"/><path fill="#f5e228" d="M3075,7053l101-34l-117-68l-101,34z"/><path fill="#8ccb50" d="M5553,7609l101-7l-116-81l-101,6z"/><path fill="#e0bc2a" d="M4800,7400l101-12l-117-82l-101,11z"/><path fill="#fec934" d="M4046,7218l101-20l-116-79l-101,19z"/><path fill="#f6de29" d="M3292,7091l101-31l-116-72l-101,31z"/><path fill="#6ecd66" d="M5771,7683l101-7l-117-80l-101,6z"/><path fill="#f6e028" d="M2539,7039l101-42l-117-61l-101,43z"/><path fill="#cac129" d="M5017,7472l101-11l-116-82l-101,9z"/><path fill="#febf3b" d="M4264,7280l101-17l-117-82l-101,17z"/><path fill="#f9d82c" d="M3510,7135l101-28l-117-75l-101,28z"/><path fill="#54cc7d" d="M5988,7756l101-7l-116-79l-101,6z"/><path fill="#f6e028" d="M2756,7061l101-40l-116-64l-101,40z"/><path fill="#b1c636" d="M5235,7544l101-9l-117-82l-101,8z"/><path fill="#f5ba3a" d="M4481,7345l101-15l-116-82l-101,15z"/><path fill="#fcd12f" d="M3728,7185l101-25l-117-78l-101,25z"/><path fill="#3dc990" d="M6206,7828l101-7l-117-78l-101,6z"/><path fill="#f6df29" d="M2974,7089l101-36l-117-68l-101,36z"/><path fill="#95ca49" d="M5452,7618l101-9l-116-82l-101,8z"/><path fill="#e4bb2c" d="M4699,7414l101-14l-117-83l-101,13z"/><path fill="#fec934" d="M3945,7240l101-22l-116-80l-101,22z"/><path fill="#f7db2a" d="M3191,7124l101-33l-116-72l-101,34z"/><path fill="#77cc60" d="M5670,7691l101-8l-117-81l-101,7z"/><path fill="#d0c028" d="M4916,7484l101-12l-116-84l-101,12z"/><path fill="#fec03a" d="M4163,7300l101-20l-117-82l-101,20z"/><path fill="#f9d62d" d="M3409,7165l101-30l-117-75l-101,31z"/><path fill="#5bcc76" d="M5887,7764l101-8l-116-80l-101,7z"/><path fill="#f7dc2a" d="M2655,7103l101-42l-116-64l-101,42z"/><path fill="#b7c532" d="M5134,7555l101-11l-117-83l-101,11z"/><path fill="#f7ba3c" d="M4380,7363l101-18l-116-82l-101,17z"/><path fill="#fcd030" d="M3627,7212l101-27l-117-78l-101,28z"/><path fill="#43ca8a" d="M6105,7835l101-7l-117-79l-101,7z"/><path fill="#f7db2b" d="M2873,7128l101-39l-117-68l-101,40z"/><path fill="#9cc944" d="M5351,7628l101-10l-116-83l-101,9z"/><path fill="#e7bb2e" d="M4598,7429l101-15l-117-84l-101,15z"/><path fill="#fec934" d="M3844,7265l101-25l-116-80l-101,25z"/><path fill="#f8d82c" d="M3090,7160l101-36l-116-71l-101,36z"/><path fill="#7fcc5a" d="M5569,7700l101-9l-117-82l-101,9z"/><path fill="#d4bf28" d="M4815,7498l101-14l-116-84l-101,14z"/><path fill="#fec13a" d="M4062,7322l101-22l-117-82l-101,22z"/><path fill="#fad42e" d="M3308,7198l101-33l-117-74l-101,33z"/><path fill="#63cd70" d="M5786,7773l101-9l-116-81l-101,8z"/><path fill="#bdc32f" d="M5033,7568l101-13l-117-83l-101,12z"/><path fill="#f8ba3d" d="M4279,7383l101-20l-116-83l-101,20z"/><path fill="#fccf31" d="M3526,7242l101-30l-117-77l-101,30z"/><path fill="#4acb85" d="M6004,7844l101-9l-117-79l-101,8z"/><path fill="#f9d62d" d="M2772,7170l101-42l-117-67l-101,42z"/><path fill="#a3c83f" d="M5250,7639l101-11l-116-84l-101,11z"/><path fill="#e9bb30" d="M4497,7447l101-18l-117-84l-101,18z"/><path fill="#fec835" d="M3743,7292l101-27l-116-80l-101,27z"/><path fill="#fad52e" d="M2989,7199l101-39l-116-71l-101,39z"/><path fill="#87cb54" d="M5468,7711l101-11l-117-82l-101,10z"/><path fill="#d7be28" d="M4714,7514l101-16l-116-84l-101,15z"/><path fill="#fec03a" d="M3961,7346l101-24l-117-82l-101,25z"/><path fill="#fbd12f" d="M3207,7234l101-36l-117-74l-101,36z"/><path fill="#6acd6a" d="M5685,7783l101-10l-116-82l-101,9z"/><path fill="#c1c32c" d="M4932,7583l101-15l-117-84l-101,14z"/><path fill="#f8ba3d" d="M4178,7405l101-22l-116-83l-101,22z"/><path fill="#fdcd32" d="M3425,7275l101-33l-117-77l-101,33z"/><path fill="#50cc7f" d="M5903,7854l101-10l-117-80l-101,9z"/><path fill="#a8c73b" d="M5149,7653l101-14l-116-84l-101,13z"/><path fill="#ebba31" d="M4396,7467l101-20l-117-84l-101,20z"/><path fill="#fec736" d="M3642,7322l101-30l-116-80l-101,30z"/><path fill="#fcd030" d="M2888,7240l101-41l-116-71l-101,42z"/><path fill="#8dcb4f" d="M5367,7724l101-13l-117-83l-101,11z"/><path fill="#d9bd28" d="M4613,7532l101-18l-116-85l-101,18z"/><path fill="#fec03b" d="M3860,7373l101-27l-117-81l-101,27z"/><path fill="#fdce31" d="M3106,7272l101-38l-117-74l-101,39z"/><path fill="#70cd65" d="M5584,7794l101-11l-116-83l-101,11z"/><path fill="#c5c22a" d="M4831,7599l101-16l-117-85l-101,16z"/><path fill="#f8ba3d" d="M4077,7429l101-24l-116-83l-101,24z"/><path fill="#feca33" d="M3324,7310l101-35l-117-77l-101,36z"/><path fill="#57cc7a" d="M5802,7865l101-11l-117-81l-101,10z"/><path fill="#adc638" d="M5048,7668l101-15l-116-85l-101,15z"/><path fill="#ebba32" d="M4295,7489l101-22l-117-84l-101,22z"/><path fill="#fec537" d="M3541,7354l101-32l-116-80l-101,33z"/><path fill="#92ca4b" d="M5266,7737l101-13l-117-85l-101,14z"/><path fill="#dbbd29" d="M4512,7552l101-20l-116-85l-101,20z"/><path fill="#febe3c" d="M3759,7403l101-30l-117-81l-101,30z"/><path fill="#feca33" d="M3005,7312l101-40l-117-73l-101,41z"/><path fill="#76cc60" d="M5483,7807l101-13l-116-83l-101,13z"/><path fill="#c7c129" d="M4730,7617l101-18l-117-85l-101,18z"/><path fill="#f7ba3c" d="M3976,7456l101-27l-116-83l-101,27z"/><path fill="#fec736" d="M3223,7348l101-38l-117-76l-101,38z"/><path fill="#5ccc76" d="M5701,7877l101-12l-117-82l-101,11z"/><path fill="#b0c636" d="M4947,7684l101-16l-116-85l-101,16z"/><path fill="#ebba31" d="M4194,7514l101-25l-117-84l-101,24z"/><path fill="#fec239" d="M3440,7389l101-35l-116-79l-101,35z"/><path fill="#97ca48" d="M5165,7753l101-16l-117-84l-101,15z"/><path fill="#dcbd29" d="M4411,7574l101-22l-116-85l-101,22z"/><path fill="#fdbd3d" d="M3658,7435l101-32l-117-81l-101,32z"/><path fill="#7ccc5c" d="M5382,7822l101-15l-116-83l-101,13z"/><path fill="#c9c129" d="M4629,7638l101-21l-117-85l-101,20z"/><path fill="#f5ba3b" d="M3875,7485l101-29l-116-83l-101,30z"/><path fill="#fec338" d="M3122,7387l101-39l-117-76l-101,40z"/><path fill="#61cd71" d="M5600,7891l101-14l-117-83l-101,13z"/><path fill="#b3c534" d="M4846,7703l101-19l-116-85l-101,18z"/><path fill="#eabb30" d="M4093,7540l101-26l-117-85l-101,27z"/><path fill="#febf3b" d="M3339,7425l101-36l-116-79l-101,38z"/><path fill="#9ac945" d="M5064,7770l101-17l-117-85l-101,16z"/><path fill="#dbbd29" d="M4310,7599l101-25l-116-85l-101,25z"/><path fill="#fbbc3d" d="M3557,7469l101-34l-117-81l-101,35z"/><path fill="#80cc59" d="M5281,7838l101-16l-116-85l-101,16z"/><path fill="#cac129" d="M4528,7660l101-22l-117-86l-101,22z"/><path fill="#f3ba38" d="M3774,7517l101-32l-116-82l-101,32z"/><path fill="#66cd6d" d="M5499,7906l101-15l-117-84l-101,15z"/><path fill="#b5c533" d="M4745,7723l101-20l-116-86l-101,21z"/><path fill="#e8bb2f" d="M3992,7569l101-29l-117-84l-101,29z"/><path fill="#fcbc3d" d="M3238,7464l101-39l-116-77l-101,39z"/><path fill="#9dc943" d="M4963,7789l101-19l-117-86l-101,19z"/><path fill="#dabd28" d="M4209,7625l101-26l-116-85l-101,26z"/><path fill="#f7ba3c" d="M3456,7505l101-36l-117-80l-101,36z"/><path fill="#84cc56" d="M5180,7855l101-17l-116-85l-101,17z"/><path fill="#c9c129" d="M4427,7684l101-24l-117-86l-101,25z"/><path fill="#efba35" d="M3673,7550l101-33l-116-82l-101,34z"/><path fill="#69cd6a" d="M5398,7922l101-16l-117-84l-101,16z"/><path fill="#b5c533" d="M4644,7746l101-23l-116-85l-101,22z"/><path fill="#e5bb2d" d="M3891,7600l101-31l-117-84l-101,32z"/><path fill="#9fc942" d="M4862,7809l101-20l-117-86l-101,20z"/><path fill="#d8be28" d="M4108,7653l101-28l-116-85l-101,29z"/><path fill="#f2ba38" d="M3355,7543l101-38l-117-80l-101,39z"/><path fill="#86cb55" d="M5079,7874l101-19l-116-85l-101,19z"/><path fill="#c8c129" d="M4326,7710l101-26l-117-85l-101,26z"/><path fill="#ebba32" d="M3572,7586l101-36l-116-81l-101,36z"/><path fill="#6dcd68" d="M5297,7940l101-18l-117-84l-101,17z"/><path fill="#b5c533" d="M4543,7770l101-24l-116-86l-101,24z"/><path fill="#e1bc2b" d="M3790,7633l101-33l-117-83l-101,33z"/><path fill="#9fc941" d="M4761,7831l101-22l-117-86l-101,23z"/><path fill="#d5be28" d="M4007,7684l101-31l-116-84l-101,31z"/><path fill="#88cb53" d="M4978,7895l101-21l-116-85l-101,20z"/><path fill="#c6c22a" d="M4225,7738l101-28l-117-85l-101,28z"/><path fill="#e6bb2d" d="M3471,7623l101-37l-116-81l-101,38z"/><path fill="#6fcd66" d="M5196,7959l101-19l-117-85l-101,19z"/><path fill="#b4c534" d="M4442,7796l101-26l-116-86l-101,26z"/><path fill="#ddbd29" d="M3689,7668l101-35l-117-83l-101,36z"/><path fill="#9fc941" d="M4660,7855l101-24l-117-85l-101,24z"/><path fill="#d1bf27" d="M3906,7716l101-32l-116-84l-101,33z"/><path fill="#88cb53" d="M4877,7917l101-22l-116-86l-101,22z"/><path fill="#c3c22b" d="M4124,7768l101-30l-117-85l-101,31z"/><path fill="#70cd65" d="M5095,7980l101-21l-117-85l-101,21z"/><path fill="#b1c635" d="M4341,7824l101-28l-116-86l-101,28z"/><path fill="#d7be28" d="M3588,7705l101-37l-117-82l-101,37z"/><path fill="#9ec942" d="M4559,7881l101-26l-117-85l-101,26z"/><path fill="#ccc028" d="M3805,7751l101-35l-116-83l-101,35z"/><path fill="#88cb53" d="M4776,7941l101-24l-116-86l-101,24z"/><path fill="#bec32e" d="M4023,7800l101-32l-117-84l-101,32z"/><path fill="#71cd64" d="M4994,8002l101-22l-117-85l-101,22z"/><path fill="#aec637" d="M4240,7853l101-29l-116-86l-101,30z"/><path fill="#9bc944" d="M4458,7909l101-28l-117-85l-101,28z"/><path fill="#c6c22a" d="M3704,7787l101-36l-116-83l-101,37z"/><path fill="#87cb54" d="M4675,7966l101-25l-116-86l-101,26z"/><path fill="#b9c430" d="M3922,7834l101-34l-117-84l-101,35z"/><path fill="#71cd65" d="M4893,8026l101-24l-117-85l-101,24z"/><path fill="#aac73a" d="M4139,7885l101-32l-116-85l-101,32z"/><path fill="#98c947" d="M4357,7938l101-29l-117-85l-101,29z"/><path fill="#85cb56" d="M4574,7994l101-28l-116-85l-101,28z"/><path fill="#b3c534" d="M3821,7869l101-35l-117-83l-101,36z"/><path fill="#6fcd65" d="M4792,8051l101-25l-117-85l-101,25z"/><path fill="#a5c83e" d="M4038,7917l101-32l-116-85l-101,34z"/><path fill="#94ca4a" d="M4256,7969l101-31l-117-85l-101,32z"/><path fill="#81cc58" d="M4473,8022l101-28l-116-85l-101,29z"/><path fill="#6dcd67" d="M4691,8078l101-27l-117-85l-101,28z"/><path fill="#9ec942" d="M3937,7952l101-35l-116-83l-101,35z"/><path fill="#8fcb4e" d="M4155,8001l101-32l-117-84l-101,32z"/><path fill="#7dcc5b" d="M4372,8053l101-31l-116-84l-101,31z"/><path fill="#6bcd69" d="M4590,8107l101-29l-117-84l-101,28z"/><path fill="#89cb53" d="M4054,8035l101-34l-117-84l-101,35z"/><path fill="#78cc5f" d="M4271,8085l101-32l-116-84l-101,32z"/><path fill="#67cd6c" d="M4489,8136l101-29l-117-85l-101,31z"/><path fill="#72cd63" d="M4170,8118l101-33l-116-84l-101,34z"/><path fill="#63cd70" d="M4388,8168l101-32l-117-83l-101,32z"/><path fill="#5ecc74" d="M4287,8200l101-32l-117-83l-101,33z"/></g></g>
<path d="M149,812.1L149,582.1M149,812.1L428.7,917.8M428.7,917.8L792.3,836.5M149,812.1L143,809.8M149,697.1L143,694.8M149,582.1L143,579.8M405.4,909L399.2,910.6M288.8,864.9L282.7,866.6M172.3,820.9L166.1,822.5M509.5,899.7L515.3,902.2M610.5,877.2L616.3,879.6M711.5,854.6L717.3,857" stroke="#5a5a5a" stroke-width="3" fill="none" filter="url(#bl2)"/>
<g filter="url(#bl3)"><text x="105.5" y="584.9" text-anchor="middle" style="font-family:'Liberation Sans',sans-serif;font-size:26px;fill:#5c5c5c;stroke:#5c5c5c;stroke-width:0.7">200</text><text x="105.5" y="701.6" text-anchor="middle" style="font-family:'Liberation Sans',sans-serif;font-size:26px;fill:#5c5c5c;stroke:#5c5c5c;stroke-width:0.7">100</text><text x="120.5" y="817.1" text-anchor="middle" style="font-family:'Liberation Sans',sans-serif;font-size:26px;fill:#5c5c5c;stroke:#5c5c5c;stroke-width:0.7">0</text><text x="142.3" y="854.1" text-anchor="middle" style="font-family:'Liberation Sans',sans-serif;font-size:26px;fill:#5c5c5c;stroke:#5c5c5c;stroke-width:0.7">1</text><text x="259.8" y="898.5" text-anchor="middle" style="font-family:'Liberation Sans',sans-serif;font-size:26px;fill:#5c5c5c;stroke:#5c5c5c;stroke-width:0.7">0</text><text x="371.3" y="942.7" text-anchor="middle" style="font-family:'Liberation Sans',sans-serif;font-size:26px;fill:#5c5c5c;stroke:#5c5c5c;stroke-width:0.7">-1</text><text x="539.6" y="937.4" text-anchor="middle" style="font-family:'Liberation Sans',sans-serif;font-size:26px;fill:#5c5c5c;stroke:#5c5c5c;stroke-width:0.7">-1</text><text x="637.3" y="914.2" text-anchor="middle" style="font-family:'Liberation Sans',sans-serif;font-size:26px;fill:#5c5c5c;stroke:#5c5c5c;stroke-width:0.7">0</text><text x="741.7" y="892.2" text-anchor="middle" style="font-family:'Liberation Sans',sans-serif;font-size:26px;fill:#5c5c5c;stroke:#5c5c5c;stroke-width:0.7">1</text><text x="637.5" y="955" text-anchor="middle" textLength="86" lengthAdjust="spacingAndGlyphs" style="font-family:'Liberation Serif',serif;fill:#0a0a0a;stroke:#0a0a0a;paint-order:stroke;stroke-width:0.7;font-size:43px">x(/m)</text><text x="266" y="940.2" text-anchor="middle" textLength="86" lengthAdjust="spacingAndGlyphs" style="font-family:'Liberation Serif',serif;fill:#0a0a0a;stroke:#0a0a0a;paint-order:stroke;stroke-width:0.7;font-size:43px">y(/m)</text><text transform="translate(55.5,858.7) rotate(-90)" x="0" y="0" textLength="166.5" lengthAdjust="spacingAndGlyphs" style="font-family:'Liberation Serif',serif;fill:#0a0a0a;stroke:#0a0a0a;paint-order:stroke;stroke-width:1.0;font-size:41px">Illuminance</text><text transform="translate(55.5,674.1) rotate(-90)" x="0" y="0" textLength="109.9" lengthAdjust="spacingAndGlyphs" style="font-family:'Liberation Serif',serif;fill:#0a0a0a;stroke:#0a0a0a;paint-order:stroke;stroke-width:1.0;font-size:41px">(/LUX)</text><text y="572.5" style="font-family:'Liberation Serif',serif;fill:#0a0a0a;stroke:#0a0a0a;paint-order:stroke;stroke-width:0.9;font-size:40px"><tspan x="300.1" textLength="48.7" lengthAdjust="spacingAndGlyphs">(C)</tspan><tspan x="366.5" textLength="76.1" lengthAdjust="spacingAndGlyphs">Cold</tspan><tspan x="457.8" textLength="72.3" lengthAdjust="spacingAndGlyphs">light</tspan><tspan x="544" textLength="108.6" lengthAdjust="spacingAndGlyphs">LED_1</tspan></text></g>
</g>
<g id="panelD">
<path d="M1356.8,899.1L1077.1,793.4M1077.1,793.4L1077.1,563.4M1457.8,876.6L1178.1,770.9M1178.1,770.9L1178.1,540.9M1558.8,854L1279.1,748.3M1279.1,748.3L1279.1,518.3M1252.7,908.4L1616.3,827.1M1616.3,827.1L1616.3,597.1M1136.1,864.3L1499.7,783.1M1499.7,783.1L1499.7,553.1M1019.6,820.3L1383.2,739M1383.2,739L1383.2,509M996.3,811.5L1359.9,730.2M1359.9,730.2L1639.6,835.9M996.3,696.5L1359.9,615.2M1359.9,615.2L1639.6,720.9M996.3,581.5L1359.9,500.2M1359.9,500.2L1639.6,605.9" stroke="#e9e9e9" stroke-width="2.6" fill="none" filter="url(#bl2)"/>
<g filter="url(#bl)"><g transform="scale(.1)" stroke="#000" stroke-width="32" stroke-linejoin="round"><path fill="#f5e825" stroke-width="26" d="M13615,5890l101,1l-117-51l-101-1z"/><path fill="#f5ed22" stroke-width="26" d="M13514,5891l101-1l-117-51l-101,1z"/><path fill="#f5e626" stroke-width="26" d="M13731,5942l101,1l-116-52l-101-1z"/><path fill="#f6f21e" stroke-width="28" d="M13413,5895l101-4l-117-51l-101,4z"/><path fill="#f5eb23" stroke-width="28" d="M13630,5944l101-2l-116-52l-101,1z"/><path fill="#f5e427" stroke-width="28" d="M13848,5997l101,1l-117-55l-101-1z"/><path fill="#f7f61a" stroke-width="30" d="M13312,5902l101-7l-117-51l-101,7z"/><path fill="#f6f01f" stroke-width="30" d="M13529,5948l101-4l-116-53l-101,4z"/><path fill="#f5e924" stroke-width="30" d="M13747,5999l101-2l-117-55l-101,2z"/><path fill="#f6e128" stroke-width="28" d="M13964,6054l101,0l-116-56l-101-1z"/><path fill="#f8f917" d="M13211,5912l101-10l-117-51l-101,10z"/><path fill="#f7f41c" d="M13428,5955l101-7l-116-53l-101,7z"/><path fill="#f5ee21" stroke-width="30" d="M13646,6004l101-5l-117-55l-101,4z"/><path fill="#f5e626" stroke-width="30" d="M13863,6056l101-2l-116-57l-101,2z"/><path fill="#f9fb15" d="M13110,5925l101-13l-117-51l-101,13z"/><path fill="#f6dd29" stroke-width="30" d="M14081,6113l101-1l-117-58l-101,0z"/><path fill="#f8f719" d="M13327,5965l101-10l-116-53l-101,10z"/><path fill="#f6f11e" d="M13545,6011l101-7l-117-56l-101,7z"/><path fill="#f5eb23" d="M13762,6061l101-5l-116-57l-101,5z"/><path fill="#f9fb15" d="M13009,5941l101-16l-117-51l-101,16z"/><path fill="#f5e327" stroke-width="30" d="M13980,6115l101-2l-117-59l-101,2z"/><path fill="#f9fa16" d="M13226,5978l101-13l-116-53l-101,13z"/><path fill="#f8da2b" stroke-width="30" d="M14197,6173l101,0l-116-61l-101,1z"/><path fill="#f7f51b" d="M13444,6021l101-10l-117-56l-101,10z"/><path fill="#f5ef21" d="M13661,6068l101-7l-116-57l-101,7z"/><path fill="#f9fb15" d="M12908,5960l101-19l-117-51l-101,19z"/><path fill="#f5e725" d="M13879,6120l101-5l-117-59l-101,5z"/><path fill="#f9fb15" d="M13125,5995l101-17l-116-53l-101,16z"/><path fill="#f6df29" d="M14096,6176l101-3l-116-60l-101,2z"/><path fill="#f8f719" d="M13343,6034l101-13l-117-56l-101,13z"/><path fill="#fad52d" d="M14314,6235l101-1l-117-61l-101,0z"/><path fill="#f6f21e" d="M13560,6079l101-11l-116-57l-101,10z"/><path fill="#f9fb15" d="M12807,5983l101-23l-117-51l-101,23z"/><path fill="#f5eb23" d="M13778,6128l101-8l-117-59l-101,7z"/><path fill="#f9fb15" d="M13024,6014l101-19l-116-54l-101,19z"/><path fill="#f5e327" d="M13995,6181l101-5l-116-61l-101,5z"/><path fill="#f9f917" d="M13242,6050l101-16l-117-56l-101,17z"/><path fill="#f8da2b" d="M14213,6239l101-4l-117-62l-101,3z"/><path fill="#f7f41c" d="M13459,6092l101-13l-116-58l-101,13z"/><path fill="#f9fb15" d="M12706,6009l101-26l-117-51l-101,26z"/><path fill="#fcd12f" d="M14430,6299l101-1l-116-64l-101,1z"/><path fill="#f5ee21" d="M13677,6138l101-10l-117-60l-101,11z"/><path fill="#f9fb15" d="M12923,6037l101-23l-116-54l-101,23z"/><path fill="#f5e725" d="M13894,6189l101-8l-116-61l-101,8z"/><path fill="#f9fa15" d="M13141,6070l101-20l-117-55l-101,19z"/><path fill="#f6df29" d="M14112,6244l101-5l-117-63l-101,5z"/><path fill="#f8f61a" d="M13358,6108l101-16l-116-58l-101,16z"/><path fill="#f9fb15" d="M12605,6038l101-29l-117-51l-101,29z"/><path fill="#fad62d" d="M14329,6303l101-4l-116-64l-101,4z"/><path fill="#f6f11f" d="M13576,6152l101-14l-117-59l-101,13z"/><path fill="#f9fb15" d="M12822,6063l101-26l-116-54l-101,26z"/><path fill="#fdcc32" d="M14547,6364l101-2l-117-64l-101,1z"/><path fill="#f5eb23" d="M13793,6200l101-11l-116-61l-101,10z"/><path fill="#f9fb15" d="M13040,6093l101-23l-117-56l-101,23z"/><path fill="#f5e327" d="M14011,6253l101-9l-117-63l-101,8z"/><path fill="#f8f719" d="M13257,6128l101-20l-116-58l-101,20z"/><path fill="#f9fb15" d="M12504,6071l101-33l-117-51l-101,33z"/><path fill="#f8da2b" d="M14228,6309l101-6l-116-64l-101,5z"/><path fill="#f7f31d" d="M13475,6168l101-16l-117-60l-101,16z"/><path fill="#f9fb15" d="M12721,6092l101-29l-116-54l-101,29z"/><path fill="#fcd130" d="M14446,6369l101-5l-117-65l-101,4z"/><path fill="#f5ed22" d="M13692,6214l101-14l-116-62l-101,14z"/><path fill="#f9fa15" d="M12939,6119l101-26l-117-56l-101,26z"/><path fill="#fec736" d="M14663,6431l101-3l-116-66l-101,2z"/><path fill="#f5e626" d="M13910,6264l101-11l-117-64l-101,11z"/><path fill="#f8f818" d="M13156,6151l101-23l-116-58l-101,23z"/><path fill="#f8f917" d="M12403,6106l101-35l-117-51l-101,35z"/><path fill="#f6de29" d="M14127,6318l101-9l-116-65l-101,9z"/><path fill="#f7f41c" d="M13374,6188l101-20l-117-60l-101,20z"/><path fill="#f9fa16" d="M12620,6124l101-32l-116-54l-101,33z"/><path fill="#fad52e" d="M14345,6375l101-6l-117-66l-101,6z"/><path fill="#f5ef20" d="M13591,6230l101-16l-116-62l-101,16z"/><path fill="#f8f917" d="M12838,6148l101-29l-117-56l-101,29z"/><path fill="#fdcb33" d="M14562,6436l101-5l-116-67l-101,5z"/><path fill="#f5e924" d="M13809,6278l101-14l-117-64l-101,14z"/><path fill="#f8f719" d="M13055,6177l101-26l-116-58l-101,26z"/><path fill="#f7f51b" d="M12302,6145l101-39l-117-51l-101,39z"/><path fill="#fec139" d="M14780,6499l101-4l-117-67l-101,3z"/><path fill="#f5e128" d="M14026,6329l101-11l-116-65l-101,11z"/><path fill="#f7f41c" d="M13273,6211l101-23l-117-60l-101,23z"/><path fill="#f8f719" d="M12519,6160l101-36l-116-53l-101,35z"/><path fill="#f8d92c" d="M14244,6384l101-9l-117-66l-101,9z"/><path fill="#f6f020" d="M13490,6250l101-20l-116-62l-101,20z"/><path fill="#f8f719" d="M12737,6180l101-32l-117-56l-101,32z"/><path fill="#fccf30" d="M14461,6443l101-7l-116-67l-101,6z"/><path fill="#f5ea23" d="M13708,6294l101-16l-117-64l-101,16z"/><path fill="#f7f61a" d="M12954,6206l101-29l-116-58l-101,29z"/><path fill="#f6f11e" d="M12201,6186l101-41l-117-51l-101,42z"/><path fill="#fec636" d="M14679,6504l101-5l-117-68l-101,5z"/><path fill="#f5e427" d="M13925,6343l101-14l-116-65l-101,14z"/><path fill="#f7f41c" d="M13172,6237l101-26l-117-60l-101,26z"/><path fill="#f7f41c" d="M12418,6198l101-38l-116-54l-101,39z"/><path fill="#fcbd3d" d="M14896,6567l101-3l-116-69l-101,4z"/><path fill="#f7dc2a" d="M14143,6396l101-12l-117-66l-101,11z"/><path fill="#f6f01f" d="M13389,6273l101-23l-116-62l-101,23z"/><path fill="#f7f41c" d="M12636,6215l101-35l-117-56l-101,36z"/><path fill="#fbd32e" d="M14360,6452l101-9l-116-68l-101,9z"/><path fill="#f5eb23" d="M13607,6314l101-20l-117-64l-101,20z"/><path fill="#f7f41c" d="M12853,6238l101-32l-116-58l-101,32z"/><path fill="#f5ed22" d="M12100,6230l101-44l-117-50l-101,44z"/><path fill="#feca34" d="M14578,6511l101-7l-117-68l-101,7z"/><path fill="#f5e526" d="M13824,6360l101-17l-116-65l-101,16z"/><path fill="#f6f31d" d="M13071,6265l101-28l-117-60l-101,29z"/><path fill="#f6f020" d="M12317,6239l101-41l-116-53l-101,41z"/><path fill="#fec03a" d="M14795,6573l101-6l-116-68l-101,5z"/><path fill="#f6de29" d="M14042,6410l101-14l-117-67l-101,14z"/><path fill="#f6f020" d="M13288,6299l101-26l-116-62l-101,26z"/><path fill="#f6f11e" d="M12535,6253l101-38l-117-55l-101,38z"/><path fill="#f6ba3b" d="M15013,6637l101-4l-117-69l-101,3z"/><path fill="#fad62d" d="M14259,6464l101-12l-116-68l-101,12z"/><path fill="#f5ec22" d="M13506,6337l101-23l-117-64l-101,23z"/><path fill="#f6f21e" d="M12752,6273l101-35l-116-58l-101,35z"/><path fill="#f5e725" d="M11999,6277l101-47l-117-50l-101,46z"/><path fill="#fdcd32" d="M14477,6521l101-10l-117-68l-101,9z"/><path fill="#f5e625" d="M13723,6380l101-20l-116-66l-101,20z"/><path fill="#f6f11f" d="M12970,6297l101-32l-117-59l-101,32z"/><path fill="#f5eb23" d="M12216,6283l101-44l-116-53l-101,44z"/><path fill="#fec438" d="M14694,6581l101-8l-116-69l-101,7z"/><path fill="#f6e028" d="M13941,6427l101-17l-117-67l-101,17z"/><path fill="#f5ef21" d="M13187,6327l101-28l-116-62l-101,28z"/><path fill="#f5ed21" d="M12434,6294l101-41l-117-55l-101,41z"/><path fill="#fbbc3d" d="M14912,6643l101-6l-117-70l-101,6z"/><path fill="#f9d82c" d="M14158,6478l101-14l-116-68l-101,14z"/><path fill="#f5eb23" d="M13405,6362l101-25l-117-64l-101,26z"/><path fill="#f5ee21" d="M12651,6311l101-38l-116-58l-101,38z"/><path fill="#eeba34" d="M15130,6708l101-6l-117-69l-101,4z"/><path fill="#f5e128" d="M11898,6325l101-48l-117-51l-101,49z"/><path fill="#fcd030" d="M14376,6533l101-12l-117-69l-101,12z"/><path fill="#f5e725" d="M13622,6402l101-22l-116-66l-101,23z"/><path fill="#f5ee21" d="M12869,6332l101-35l-117-59l-101,35z"/><path fill="#f5e526" d="M12115,6329l101-46l-116-53l-101,47z"/><path fill="#fec735" d="M14593,6591l101-10l-116-70l-101,10z"/><path fill="#f6e128" d="M13840,6447l101-20l-117-67l-101,20z"/><path fill="#f5ed22" d="M13086,6359l101-32l-116-62l-101,32z"/><path fill="#f5e924" d="M12333,6338l101-44l-117-55l-101,44z"/><path fill="#febe3c" d="M14811,6652l101-9l-117-70l-101,8z"/><path fill="#f8da2b" d="M14057,6496l101-18l-116-68l-101,17z"/><path fill="#f5ea23" d="M13304,6391l101-29l-117-63l-101,28z"/><path fill="#f5ea23" d="M12550,6351l101-40l-116-58l-101,41z"/><path fill="#f3ba39" d="M15029,6715l101-7l-117-71l-101,6z"/><path fill="#f8da2b" d="M11797,6376l101-51l-117-50l-101,51z"/><path fill="#fbd22f" d="M14275,6548l101-15l-117-69l-101,14z"/><path fill="#f5e626" d="M13521,6428l101-26l-116-65l-101,25z"/><path fill="#f5eb23" d="M12768,6370l101-38l-117-59l-101,38z"/><path fill="#e4bb2c" d="M15246,6779l101-6l-116-71l-101,6z"/><path fill="#f6df29" d="M12014,6377l101-48l-116-52l-101,48z"/><path fill="#feca34" d="M14492,6604l101-13l-116-70l-101,12z"/><path fill="#f5e128" d="M13739,6470l101-23l-117-67l-101,22z"/><path fill="#f5ea23" d="M12985,6394l101-35l-116-62l-101,35z"/><path fill="#f5e327" d="M12232,6384l101-46l-117-55l-101,46z"/><path fill="#fec13a" d="M14710,6663l101-11l-117-71l-101,10z"/><path fill="#f7db2b" d="M13956,6516l101-20l-116-69l-101,20z"/><path fill="#f5e825" d="M13203,6423l101-32l-117-64l-101,32z"/><path fill="#f5e626" d="M12449,6394l101-43l-116-57l-101,44z"/><path fill="#f8ba3d" d="M14928,6723l101-8l-117-72l-101,9z"/><path fill="#fbd32e" d="M11696,6428l101-52l-117-50l-101,52z"/><path fill="#fad42e" d="M14174,6566l101-18l-117-70l-101,18z"/><path fill="#f5e526" d="M13420,6457l101-29l-116-66l-101,29z"/><path fill="#f5e725" d="M12667,6410l101-40l-117-59l-101,40z"/><path fill="#eabb30" d="M15145,6786l101-7l-116-71l-101,7z"/><path fill="#f8d92c" d="M11913,6428l101-51l-116-52l-101,51z"/><path fill="#fdcc32" d="M14391,6619l101-15l-116-71l-101,15z"/><path fill="#f6e128" d="M13638,6495l101-25l-117-68l-101,26z"/><path fill="#f5e725" d="M12884,6431l101-37l-116-62l-101,38z"/><path fill="#d9be28" d="M15363,6850l101-6l-117-71l-101,6z"/><path fill="#f7dd2a" d="M12131,6432l101-48l-117-55l-101,48z"/><path fill="#fec338" d="M14609,6675l101-12l-117-72l-101,13z"/><path fill="#f7db2a" d="M13855,6538l101-22l-116-69l-101,23z"/><path fill="#f5e626" d="M13102,6457l101-34l-117-64l-101,35z"/><path fill="#f6e028" d="M12348,6440l101-46l-116-56l-101,46z"/><path fill="#fbbc3d" d="M14827,6735l101-12l-117-71l-101,11z"/><path fill="#fdcc32" d="M11595,6482l101-54l-117-50l-101,54z"/><path fill="#fad52e" d="M14073,6586l101-20l-117-70l-101,20z"/><path fill="#f5e327" d="M13319,6488l101-31l-116-66l-101,32z"/><path fill="#f5e227" d="M12566,6453l101-43l-117-59l-101,43z"/><path fill="#efba35" d="M15044,6796l101-10l-116-71l-101,8z"/><path fill="#fbd22f" d="M11812,6480l101-52l-116-52l-101,52z"/><path fill="#fdcd31" d="M14290,6636l101-17l-116-71l-101,18z"/><path fill="#f6e028" d="M13537,6524l101-29l-117-67l-101,29z"/><path fill="#f5e327" d="M12783,6471l101-40l-116-61l-101,40z"/><path fill="#dfbc2a" d="M15262,6859l101-9l-117-71l-101,7z"/><path fill="#f9d62d" d="M12030,6481l101-49l-117-55l-101,51z"/><path fill="#fec537" d="M14508,6691l101-16l-117-71l-101,15z"/><path fill="#f7db2b" d="M13754,6564l101-26l-116-68l-101,25z"/><path fill="#f5e327" d="M13001,6494l101-37l-117-63l-101,37z"/><path fill="#cdc028" d="M15479,6923l101-7l-116-72l-101,6z"/><path fill="#f8da2b" d="M12247,6488l101-48l-116-56l-101,48z"/><path fill="#fdbd3d" d="M14726,6748l101-13l-117-72l-101,12z"/><path fill="#fec437" d="M11494,6537l101-55l-117-50l-101,55z"/><path fill="#fad52d" d="M13972,6608l101-22l-117-70l-101,22z"/><path fill="#f6e128" d="M13218,6522l101-34l-116-65l-101,34z"/><path fill="#f7dd2a" d="M12465,6498l101-45l-117-59l-101,46z"/><path fill="#f3ba39" d="M14943,6807l101-11l-116-73l-101,12z"/><path fill="#feca33" d="M11711,6533l101-53l-116-52l-101,54z"/><path fill="#fdce31" d="M14189,6657l101-21l-116-70l-101,20z"/><path fill="#f6de29" d="M13436,6555l101-31l-117-67l-101,31z"/><path fill="#f6de29" d="M12682,6514l101-43l-116-61l-101,43z"/><path fill="#e5bb2d" d="M15161,6868l101-9l-117-73l-101,10z"/><path fill="#fccf30" d="M11929,6533l101-52l-117-53l-101,52z"/><path fill="#fec736" d="M14407,6708l101-17l-117-72l-101,17z"/><path fill="#f8da2b" d="M13653,6592l101-28l-116-69l-101,29z"/><path fill="#f6df29" d="M12900,6534l101-40l-117-63l-101,40z"/><path fill="#d4bf27" d="M15378,6931l101-8l-116-73l-101,9z"/><path fill="#fad42e" d="M12146,6537l101-49l-116-56l-101,49z"/><path fill="#febf3b" d="M14625,6763l101-15l-117-73l-101,16z"/><path fill="#fdbd3d" d="M11393,6593l101-56l-117-50l-101,57z"/><path fill="#fad52e" d="M13871,6634l101-26l-117-70l-101,26z"/><path fill="#f6de29" d="M13117,6559l101-37l-116-65l-101,37z"/><path fill="#c0c32d" d="M15596,6995l101-8l-117-71l-101,7z"/><path fill="#f9d72c" d="M12364,6545l101-47l-117-58l-101,48z"/><path fill="#f7ba3c" d="M14842,6821l101-14l-116-72l-101,13z"/><path fill="#fec338" d="M11610,6588l101-55l-116-51l-101,55z"/><path fill="#fcce31" d="M14088,6679l101-22l-116-71l-101,22z"/><path fill="#f7db2a" d="M13335,6588l101-33l-117-67l-101,34z"/><path fill="#f8d92b" d="M12581,6558l101-44l-116-61l-101,45z"/><path fill="#e9bb30" d="M15060,6880l101-12l-117-72l-101,11z"/><path fill="#fec834" d="M11828,6586l101-53l-117-53l-101,53z"/><path fill="#fec835" d="M14306,6729l101-21l-117-72l-101,21z"/><path fill="#f9d82c" d="M13552,6623l101-31l-116-68l-101,31z"/><path fill="#f8da2b" d="M12799,6576l101-42l-117-63l-101,43z"/><path fill="#d9bd28" d="M15277,6942l101-11l-116-72l-101,9z"/><path fill="#fdcd32" d="M12045,6588l101-51l-116-56l-101,52z"/><path fill="#fec03a" d="M14524,6781l101-18l-117-72l-101,17z"/><path fill="#f4ba3a" d="M11292,6650l101-57l-117-49l-101,57z"/><path fill="#fbd42e" d="M13770,6662l101-28l-117-70l-101,28z"/><path fill="#f8da2b" d="M13016,6598l101-39l-116-65l-101,40z"/><path fill="#c7c12a" d="M15495,7004l101-9l-117-72l-101,8z"/><path fill="#fcd130" d="M12263,6595l101-50l-117-57l-101,49z"/><path fill="#f9bb3d" d="M14741,6837l101-16l-116-73l-101,15z"/><path fill="#fcbc3d" d="M11509,6644l101-56l-116-51l-101,56z"/><path fill="#fdce31" d="M13987,6705l101-26l-116-71l-101,26z"/><path fill="#f8d82c" d="M13234,6625l101-37l-117-66l-101,37z"/><path fill="#b1c635" d="M15712,7068l101-9l-116-72l-101,8z"/><path fill="#fbd32e" d="M12480,6605l101-47l-116-60l-101,47z"/><path fill="#edba33" d="M14959,6894l101-14l-117-73l-101,14z"/><path fill="#fec13a" d="M11727,6641l101-55l-117-53l-101,55z"/><path fill="#fec835" d="M14205,6751l101-22l-117-72l-101,22z"/><path fill="#fad62d" d="M13451,6656l101-33l-116-68l-101,33z"/><path fill="#fad52e" d="M12698,6620l101-44l-117-62l-101,44z"/><path fill="#debd29" d="M15176,6954l101-12l-116-74l-101,12z"/><path fill="#fec636" d="M11944,6641l101-53l-116-55l-101,53z"/><path fill="#fec13a" d="M14423,6801l101-20l-117-73l-101,21z"/><path fill="#e8bb2f" d="M11191,6707l101-57l-117-49l-101,58z"/><path fill="#fbd22f" d="M13669,6692l101-30l-117-70l-101,31z"/><path fill="#fad52d" d="M12915,6639l101-41l-116-64l-101,42z"/><path fill="#ccc028" d="M15394,7015l101-11l-117-73l-101,11z"/><path fill="#feca33" d="M12162,6645l101-50l-117-58l-101,51z"/><path fill="#fabb3d" d="M14640,6855l101-18l-116-74l-101,18z"/><path fill="#f2ba38" d="M11408,6700l101-56l-116-51l-101,57z"/><path fill="#fdcd31" d="M13886,6732l101-27l-116-71l-101,28z"/><path fill="#fad52e" d="M13133,6664l101-39l-117-66l-101,39z"/><path fill="#b9c431" d="M15611,7077l101-9l-116-73l-101,9z"/><path fill="#fdcd31" d="M12379,6654l101-49l-116-60l-101,50z"/><path fill="#efba35" d="M14858,6910l101-16l-117-73l-101,16z"/><path fill="#fabb3d" d="M11626,6696l101-55l-117-53l-101,56z"/><path fill="#fec835" d="M14104,6776l101-25l-117-72l-101,26z"/><path fill="#fbd32f" d="M13350,6692l101-36l-116-68l-101,37z"/><path fill="#a2c83f" d="M15829,7140l101-9l-117-72l-101,9z"/><path fill="#fccf30" d="M12597,6666l101-46l-117-62l-101,47z"/><path fill="#e2bc2b" d="M15075,6968l101-14l-116-74l-101,14z"/><path fill="#febf3b" d="M11843,6695l101-54l-116-55l-101,55z"/><path fill="#fec13a" d="M14322,6824l101-23l-117-72l-101,22z"/><path fill="#dabd28" d="M11090,6765l101-58l-117-48l-101,58z"/><path fill="#fcd030" d="M13568,6725l101-33l-117-69l-101,33z"/><path fill="#fcd030" d="M12814,6683l101-44l-116-63l-101,44z"/><path fill="#d2bf27" d="M15293,7028l101-13l-117-73l-101,12z"/><path fill="#fec338" d="M12061,6698l101-53l-117-57l-101,53z"/><path fill="#fbbc3d" d="M14539,6875l101-20l-116-74l-101,20z"/><path fill="#e6bb2d" d="M11307,6758l101-58l-116-50l-101,57z"/><path fill="#fdcc32" d="M13785,6763l101-31l-116-70l-101,30z"/><path fill="#fcd030" d="M13032,6705l101-41l-117-66l-101,41z"/><path fill="#bfc32e" d="M15510,7089l101-12l-116-73l-101,11z"/><path fill="#fec736" d="M12278,6704l101-50l-116-59l-101,50z"/><path fill="#f1ba37" d="M14757,6929l101-19l-117-73l-101,18z"/><path fill="#f0ba36" d="M11525,6752l101-56l-117-52l-101,56z"/><path fill="#fec736" d="M14003,6804l101-28l-117-71l-101,27z"/><path fill="#fccf30" d="M13249,6731l101-39l-116-67l-101,39z"/><path fill="#aac73a" d="M15728,7151l101-11l-117-72l-101,9z"/><path fill="#fec934" d="M12496,6714l101-48l-117-61l-101,49z"/><path fill="#e5bb2c" d="M14974,6985l101-17l-116-74l-101,16z"/><path fill="#f8ba3d" d="M11742,6750l101-55l-116-54l-101,55z"/><path fill="#fec13a" d="M14221,6849l101-25l-117-73l-101,25z"/><path fill="#cbc129" d="M10989,6824l101-59l-117-48l-101,58z"/><path fill="#fdcd32" d="M13467,6761l101-36l-117-69l-101,36z"/><path fill="#93ca4b" d="M15945,7213l101-10l-116-72l-101,9z"/><path fill="#fdcb33" d="M12713,6729l101-46l-116-63l-101,46z"/><path fill="#d5be28" d="M15192,7043l101-15l-117-74l-101,14z"/><path fill="#fdbd3d" d="M11960,6751l101-53l-117-57l-101,54z"/><path fill="#fbbc3d" d="M14438,6898l101-23l-116-74l-101,23z"/><path fill="#d8be28" d="M11206,6815l101-57l-116-51l-101,58z"/><path fill="#fec934" d="M13684,6796l101-33l-116-71l-101,33z"/><path fill="#fdcb32" d="M12931,6748l101-43l-117-66l-101,44z"/><path fill="#c4c22b" d="M15409,7102l101-13l-116-74l-101,13z"/><path fill="#fec03b" d="M12177,6756l101-52l-116-59l-101,53z"/><path fill="#f2ba38" d="M14656,6949l101-20l-117-74l-101,20z"/><path fill="#e3bb2c" d="M11424,6809l101-57l-117-52l-101,58z"/><path fill="#fec537" d="M13902,6834l101-30l-117-72l-101,31z"/><path fill="#fdcb33" d="M13148,6771l101-40l-116-67l-101,41z"/><path fill="#b0c636" d="M15627,7162l101-11l-117-74l-101,12z"/><path fill="#fec338" d="M12395,6764l101-50l-117-60l-101,50z"/><path fill="#e7bb2e" d="M14873,7003l101-18l-116-75l-101,19z"/><path fill="#edba33" d="M11641,6806l101-56l-116-54l-101,56z"/><path fill="#fec03a" d="M14120,6877l101-28l-117-73l-101,28z"/><path fill="#b9c430" d="M10888,6882l101-58l-117-49l-101,59z"/><path fill="#fec934" d="M13366,6799l101-38l-117-69l-101,39z"/><path fill="#9ac945" d="M15844,7224l101-11l-116-73l-101,11z"/><path fill="#fec537" d="M12612,6776l101-47l-116-63l-101,48z"/><path fill="#d8be28" d="M15091,7059l101-16l-117-75l-101,17z"/><path fill="#f4ba3a" d="M11859,6806l101-55l-117-56l-101,55z"/><path fill="#fbbc3d" d="M14337,6923l101-25l-116-74l-101,25z"/><path fill="#c8c129" d="M11105,6873l101-58l-116-50l-101,59z"/><path fill="#fec736" d="M13583,6831l101-35l-116-71l-101,36z"/><path fill="#83cc57" d="M16062,7285l101-10l-117-72l-101,10z"/><path fill="#fec636" d="M12830,6793l101-45l-117-65l-101,46z"/><path fill="#c8c129" d="M15308,7117l101-15l-116-74l-101,15z"/><path fill="#fabb3d" d="M12076,6809l101-53l-116-58l-101,53z"/><path fill="#f3ba38" d="M14555,6972l101-23l-117-74l-101,23z"/><path fill="#d5be28" d="M11323,6867l101-58l-117-51l-101,57z"/><path fill="#fec338" d="M13801,6867l101-33l-117-71l-101,33z"/><path fill="#fec636" d="M13047,6814l101-43l-116-66l-101,43z"/><path fill="#b5c533" d="M15526,7176l101-14l-117-73l-101,13z"/><path fill="#fdbd3d" d="M12294,6815l101-51l-117-60l-101,52z"/><path fill="#e8bb2f" d="M14772,7024l101-21l-116-74l-101,20z"/><path fill="#e0bc2a" d="M11540,6862l101-56l-116-54l-101,57z"/><path fill="#febf3b" d="M14019,6907l101-30l-117-73l-101,30z"/><path fill="#a7c73c" d="M10787,6940l101-58l-117-48l-101,58z"/><path fill="#fec537" d="M13265,6839l101-40l-117-68l-101,40z"/><path fill="#a0c841" d="M15743,7236l101-12l-116-73l-101,11z"/><path fill="#febf3b" d="M12511,6825l101-49l-116-62l-101,50z"/><path fill="#dbbd28" d="M14990,7078l101-19l-117-74l-101,18z"/><path fill="#e9bb30" d="M11758,6861l101-55l-117-56l-101,56z"/><path fill="#fabb3d" d="M14236,6950l101-27l-116-74l-101,28z"/><path fill="#b7c532" d="M11004,6931l101-58l-116-49l-101,58z"/><path fill="#fec338" d="M13482,6868l101-37l-116-70l-101,38z"/><path fill="#8acb52" d="M15961,7297l101-12l-117-72l-101,11z"/><path fill="#fec13a" d="M12729,6840l101-47l-117-64l-101,47z"/><path fill="#cbc129" d="M15207,7134l101-17l-116-74l-101,16z"/><path fill="#f0ba36" d="M11975,6863l101-54l-116-58l-101,55z"/><path fill="#f2ba38" d="M14454,6997l101-25l-117-74l-101,25z"/><path fill="#c5c22a" d="M11222,6924l101-57l-117-52l-101,58z"/><path fill="#fec13a" d="M13700,6901l101-34l-117-71l-101,35z"/><path fill="#73cd63" d="M16178,7358l101-11l-116-72l-101,10z"/><path fill="#fec13a" d="M12946,6858l101-44l-116-66l-101,45z"/><path fill="#b9c430" d="M15425,7191l101-15l-117-74l-101,15z"/><path fill="#f6ba3b" d="M12193,6867l101-52l-117-59l-101,53z"/><path fill="#e8bb2f" d="M14671,7046l101-22l-116-75l-101,23z"/><path fill="#d2bf27" d="M11439,6919l101-57l-116-53l-101,58z"/><path fill="#fdbd3d" d="M13918,6939l101-32l-117-73l-101,33z"/><path fill="#93ca4a" d="M10686,6998l101-58l-117-48l-101,58z"/><path fill="#fec13a" d="M13164,6881l101-42l-117-68l-101,43z"/><path fill="#a5c83d" d="M15642,7250l101-14l-116-74l-101,14z"/><path fill="#f9bb3d" d="M12410,6876l101-51l-116-61l-101,51z"/><path fill="#dcbd29" d="M14889,7098l101-20l-117-75l-101,21z"/><path fill="#dcbd29" d="M11657,6917l101-56l-117-55l-101,56z"/><path fill="#f9ba3d" d="M14135,6979l101-29l-116-73l-101,30z"/><path fill="#a4c83e" d="M10903,6989l101-58l-116-49l-101,58z"/><path fill="#fec03b" d="M13381,6908l101-40l-116-69l-101,40z"/><path fill="#90ca4d" d="M15860,7310l101-13l-117-73l-101,12z"/><path fill="#fbbc3d" d="M12628,6888l101-48l-117-64l-101,49z"/><path fill="#cdc028" d="M15106,7152l101-18l-116-75l-101,19z"/><path fill="#e5bb2c" d="M11874,6917l101-54l-116-57l-101,55z"/><path fill="#f1ba37" d="M14353,7024l101-27l-117-74l-101,27z"/><path fill="#b4c534" d="M11121,6982l101-58l-117-51l-101,58z"/><path fill="#febe3c" d="M13599,6938l101-37l-117-70l-101,37z"/><path fill="#79cc5e" d="M16077,7370l101-12l-116-73l-101,12z"/><path fill="#fdbd3d" d="M12845,6904l101-46l-116-65l-101,47z"/><path fill="#bcc42f" d="M15324,7208l101-17l-117-74l-101,17z"/><path fill="#ebba32" d="M12092,6921l101-54l-117-58l-101,54z"/><path fill="#e8bb2f" d="M14570,7071l101-25l-116-74l-101,25z"/><path fill="#c2c32c" d="M11338,6976l101-57l-116-52l-101,57z"/><path fill="#fbbc3d" d="M13817,6973l101-34l-117-72l-101,34z"/><path fill="#63cd6f" d="M16295,7430l101-11l-117-72l-101,11z"/><path fill="#7fcc5a" d="M10585,7055l101-57l-117-48l-101,58z"/><path fill="#fdbd3d" d="M13063,6925l101-44l-117-67l-101,44z"/><path fill="#a9c73a" d="M15541,7266l101-16l-116-74l-101,15z"/><path fill="#f0ba36" d="M12309,6928l101-52l-116-61l-101,52z"/><path fill="#dcbd29" d="M14788,7121l101-23l-117-74l-101,22z"/><path fill="#cdc028" d="M11556,6973l101-56l-117-55l-101,57z"/><path fill="#f6ba3b" d="M14034,7011l101-32l-116-72l-101,32z"/><path fill="#91ca4c" d="M10802,7047l101-58l-116-49l-101,58z"/><path fill="#fcbc3d" d="M13280,6949l101-41l-116-69l-101,42z"/><path fill="#95ca49" d="M15759,7324l101-14l-117-74l-101,14z"/><path fill="#f4ba3a" d="M12527,6938l101-50l-117-63l-101,51z"/><path fill="#cfc028" d="M15005,7173l101-21l-116-74l-101,20z"/><path fill="#d7be28" d="M11773,6973l101-56l-116-56l-101,56z"/><path fill="#efba35" d="M14252,7053l101-29l-117-74l-101,29z"/><path fill="#a1c840" d="M11020,7039l101-57l-117-51l-101,58z"/><path fill="#fabc3d" d="M13498,6977l101-39l-117-70l-101,40z"/><path fill="#7fcc5a" d="M15976,7383l101-13l-116-73l-101,13z"/><path fill="#f6ba3c" d="M12744,6952l101-48l-116-64l-101,48z"/><path fill="#bfc32e" d="M15223,7227l101-19l-117-74l-101,18z"/><path fill="#dfbc2a" d="M11991,6975l101-54l-117-58l-101,54z"/><path fill="#e7bb2d" d="M14469,7098l101-27l-116-74l-101,27z"/><path fill="#b0c636" d="M11237,7034l101-58l-116-52l-101,58z"/><path fill="#f8ba3d" d="M13716,7009l101-36l-117-72l-101,37z"/><path fill="#69cd6a" d="M16194,7442l101-12l-117-72l-101,12z"/><path fill="#6ccd69" d="M10484,7112l101-57l-117-47l-101,57z"/><path fill="#f8ba3d" d="M12962,6970l101-45l-117-67l-101,46z"/><path fill="#adc638" d="M15440,7283l101-17l-116-75l-101,17z"/><path fill="#e6bb2d" d="M12208,6980l101-52l-116-61l-101,54z"/><path fill="#dcbd29" d="M14687,7146l101-25l-117-75l-101,25z"/><path fill="#bdc32e" d="M11455,7030l101-57l-117-54l-101,57z"/><path fill="#f3ba38" d="M13933,7045l101-34l-116-72l-101,34z"/><path fill="#7dcc5b" d="M10701,7104l101-57l-116-49l-101,57z"/><path fill="#f7ba3c" d="M13179,6992l101-43l-116-68l-101,44z"/><path fill="#99c946" d="M15658,7340l101-16l-117-74l-101,16z"/><path fill="#eaba31" d="M12426,6989l101-51l-117-62l-101,52z"/><path fill="#cfc028" d="M14904,7196l101-23l-116-75l-101,23z"/><path fill="#c8c129" d="M11672,7029l101-56l-116-56l-101,56z"/><path fill="#ecba33" d="M14151,7084l101-31l-117-74l-101,32z"/><path fill="#8ecb4f" d="M10919,7097l101-58l-117-50l-101,58z"/><path fill="#f6ba3b" d="M13397,7018l101-41l-117-69l-101,41z"/><path fill="#84cc56" d="M15875,7398l101-15l-116-73l-101,14z"/><path fill="#eeba34" d="M12643,7001l101-49l-116-64l-101,50z"/><path fill="#c0c32d" d="M15122,7248l101-21l-117-75l-101,21z"/><path fill="#d2bf27" d="M11890,7030l101-55l-117-58l-101,56z"/><path fill="#e4bb2c" d="M14368,7127l101-29l-116-74l-101,29z"/><path fill="#9dc943" d="M11136,7091l101-57l-116-52l-101,57z"/><path fill="#f3ba38" d="M13615,7048l101-39l-117-71l-101,39z"/><path fill="#6fcd66" d="M16093,7456l101-14l-117-72l-101,13z"/><path fill="#5acc78" d="M10383,7169l101-57l-117-47l-101,57z"/><path fill="#f0ba36" d="M12861,7017l101-47l-117-66l-101,48z"/><path fill="#afc637" d="M15339,7302l101-19l-116-75l-101,19z"/><path fill="#d9bd28" d="M12107,7034l101-54l-116-59l-101,54z"/><path fill="#dabd28" d="M14586,7172l101-26l-117-75l-101,27z"/><path fill="#acc739" d="M11354,7087l101-57l-117-54l-101,58z"/><path fill="#efba35" d="M13832,7081l101-36l-116-72l-101,36z"/><path fill="#6acd6a" d="M10600,7161l101-57l-116-49l-101,57z"/><path fill="#f0ba36" d="M13078,7037l101-45l-116-67l-101,45z"/><path fill="#9cc943" d="M15557,7358l101-18l-117-74l-101,17z"/><path fill="#dfbc2a" d="M12325,7041l101-52l-117-61l-101,52z"/><path fill="#cfc028" d="M14803,7220l101-24l-116-75l-101,25z"/><path fill="#b8c431" d="M11571,7085l101-56l-116-56l-101,57z"/><path fill="#e9bb30" d="M14050,7118l101-34l-117-73l-101,34z"/><path fill="#7acc5e" d="M10818,7153l101-56l-117-50l-101,57z"/><path fill="#efba35" d="M13296,7061l101-43l-117-69l-101,43z"/><path fill="#88cb53" d="M15774,7414l101-16l-116-74l-101,16z"/><path fill="#e4bb2c" d="M12542,7052l101-51l-116-63l-101,51z"/><path fill="#c0c32d" d="M15021,7271l101-23l-117-75l-101,23z"/><path fill="#c3c22b" d="M11789,7085l101-55l-117-57l-101,56z"/><path fill="#e1bc2b" d="M14267,7158l101-31l-116-74l-101,31z"/><path fill="#8acb51" d="M11035,7148l101-57l-116-52l-101,58z"/><path fill="#edba33" d="M13514,7088l101-40l-117-71l-101,41z"/><path fill="#73cd63" d="M15992,7471l101-15l-117-73l-101,15z"/><path fill="#49cb85" d="M10282,7225l101-56l-117-47l-101,56z"/><path fill="#e7bb2d" d="M12760,7066l101-49l-117-65l-101,49z"/><path fill="#b0c636" d="M15238,7323l101-21l-116-75l-101,21z"/><path fill="#cbc029" d="M12006,7088l101-54l-116-59l-101,55z"/><path fill="#d8be28" d="M14485,7201l101-29l-117-74l-101,29z"/><path fill="#99c946" d="M11253,7143l101-56l-117-53l-101,57z"/><path fill="#e9bb30" d="M13731,7119l101-38l-116-72l-101,39z"/><path fill="#58cc79" d="M10499,7217l101-56l-116-49l-101,57z"/><path fill="#e8bb2f" d="M12977,7083l101-46l-116-67l-101,47z"/><path fill="#9fc942" d="M15456,7377l101-19l-117-75l-101,19z"/><path fill="#d3bf27" d="M12224,7094l101-53l-117-61l-101,54z"/><path fill="#cdc028" d="M14702,7247l101-27l-116-74l-101,26z"/><path fill="#a6c73c" d="M11470,7141l101-56l-116-55l-101,57z"/><path fill="#e4bb2c" d="M13949,7153l101-35l-117-73l-101,36z"/><path fill="#67cd6c" d="M10717,7210l101-57l-117-49l-101,57z"/><path fill="#e8bb2e" d="M13195,7105l101-44l-117-69l-101,45z"/><path fill="#8ccb50" d="M15673,7432l101-18l-116-74l-101,18z"/><path fill="#d8be28" d="M12441,7103l101-51l-116-63l-101,52z"/><path fill="#c0c32d" d="M14920,7295l101-24l-117-75l-101,24z"/><path fill="#b2c635" d="M11688,7140l101-55l-117-56l-101,56z"/><path fill="#debd29" d="M14166,7191l101-33l-116-74l-101,34z"/><path fill="#76cc60" d="M10934,7204l101-56l-116-51l-101,56z"/><path fill="#e6bb2d" d="M13413,7130l101-42l-117-70l-101,43z"/><path fill="#77cc60" d="M15891,7488l101-17l-117-73l-101,16z"/><path fill="#3cc991" d="M10181,7280l101-55l-117-47l-101,55z"/><path fill="#dcbd29" d="M12659,7115l101-49l-117-65l-101,51z"/><path fill="#b1c635" d="M15137,7346l101-23l-116-75l-101,23z"/><path fill="#bcc42f" d="M11905,7142l101-54l-116-58l-101,55z"/><path fill="#d5be28" d="M14384,7232l101-31l-117-74l-101,31z"/><path fill="#86cb55" d="M11152,7200l101-57l-117-52l-101,57z"/><path fill="#e3bb2c" d="M13630,7158l101-39l-116-71l-101,40z"/><path fill="#48cb86" d="M10398,7272l101-55l-116-48l-101,56z"/><path fill="#debc2a" d="M12876,7131l101-48l-116-66l-101,49z"/><path fill="#a0c841" d="M15355,7398l101-21l-117-75l-101,21z"/><path fill="#c4c22a" d="M12123,7147l101-53l-117-60l-101,54z"/><path fill="#cbc129" d="M14601,7276l101-29l-116-75l-101,29z"/><path fill="#94ca4a" d="M11369,7197l101-56l-116-54l-101,56z"/><path fill="#dfbc2a" d="M13848,7190l101-37l-117-72l-101,38z"/><path fill="#56cc7b" d="M10616,7266l101-56l-117-49l-101,56z"/><path fill="#dfbc2a" d="M13094,7150l101-45l-117-68l-101,46z"/><path fill="#8ecb4f" d="M15572,7451l101-19l-116-74l-101,19z"/><path fill="#cbc129" d="M12340,7155l101-52l-116-62l-101,53z"/><path fill="#bfc32e" d="M14819,7322l101-27l-117-75l-101,27z"/><path fill="#a0c841" d="M11587,7196l101-56l-117-55l-101,56z"/><path fill="#d9be28" d="M14065,7226l101-35l-116-73l-101,35z"/><path fill="#64cd6f" d="M10833,7260l101-56l-116-51l-101,57z"/><path fill="#debc2a" d="M13312,7173l101-43l-117-69l-101,44z"/><path fill="#7acc5d" d="M15790,7506l101-18l-117-74l-101,18z"/><path fill="#34c79c" d="M10080,7334l101-54l-117-47l-101,54z"/><path fill="#d0bf27" d="M12558,7166l101-51l-117-63l-101,51z"/><path fill="#b0c636" d="M15036,7370l101-24l-116-75l-101,24z"/><path fill="#acc739" d="M11804,7197l101-55l-116-57l-101,55z"/><path fill="#d1bf27" d="M14283,7264l101-32l-117-74l-101,33z"/><path fill="#72cd63" d="M11051,7256l101-56l-117-52l-101,56z"/><path fill="#dcbd29" d="M13529,7199l101-41l-116-70l-101,42z"/><path fill="#3bc992" d="M10297,7327l101-55l-116-47l-101,55z"/><path fill="#d3bf27" d="M12775,7180l101-49l-116-65l-101,49z"/><path fill="#a0c840" d="M15254,7421l101-23l-117-75l-101,23z"/><path fill="#b5c533" d="M12022,7201l101-54l-117-59l-101,54z"/><path fill="#c8c129" d="M14500,7306l101-30l-116-75l-101,31z"/><path fill="#81cc59" d="M11268,7253l101-56l-116-54l-101,57z"/><path fill="#d8be28" d="M13747,7229l101-39l-117-71l-101,39z"/><path fill="#46cb88" d="M10515,7321l101-55l-117-49l-101,55z"/><path fill="#d5be28" d="M12993,7197l101-47l-117-67l-101,48z"/><path fill="#8fcb4e" d="M15471,7472l101-21l-116-74l-101,21z"/><path fill="#bdc42f" d="M12239,7208l101-53l-116-61l-101,53z"/><path fill="#bcc42f" d="M14718,7350l101-28l-117-75l-101,29z"/><path fill="#8ecb4f" d="M11486,7251l101-55l-117-55l-101,56z"/><path fill="#d3bf27" d="M13964,7262l101-36l-116-73l-101,37z"/><path fill="#53cc7d" d="M10732,7316l101-56l-116-50l-101,56z"/><path fill="#d5be28" d="M13211,7218l101-45l-117-68l-101,45z"/><path fill="#7dcc5c" d="M15689,7526l101-20l-117-74l-101,19z"/><path fill="#c3c22b" d="M12457,7217l101-51l-117-63l-101,52z"/><path fill="#afc637" d="M14935,7396l101-26l-116-75l-101,27z"/><path fill="#9ac945" d="M11703,7252l101-55l-116-57l-101,56z"/><path fill="#ccc028" d="M14182,7299l101-35l-117-73l-101,35z"/><path fill="#60cd72" d="M10950,7311l101-55l-117-52l-101,56z"/><path fill="#d4bf27" d="M13428,7242l101-43l-116-69l-101,43z"/><path fill="#33c69d" d="M10196,7381l101-54l-116-47l-101,54z"/><path fill="#c7c12a" d="M12674,7229l101-49l-116-65l-101,51z"/><path fill="#a0c841" d="M15153,7445l101-24l-117-75l-101,24z"/><path fill="#a4c83e" d="M11921,7255l101-54l-117-59l-101,55z"/><path fill="#c3c22b" d="M14399,7338l101-32l-116-74l-101,32z"/><path fill="#6ecd67" d="M11167,7308l101-55l-116-53l-101,56z"/><path fill="#d1bf27" d="M13646,7270l101-41l-117-71l-101,41z"/><path fill="#3ac994" d="M10414,7376l101-55l-117-49l-101,55z"/><path fill="#cac129" d="M12892,7245l101-48l-117-66l-101,49z"/><path fill="#90ca4d" d="M15370,7495l101-23l-116-74l-101,23z"/><path fill="#adc638" d="M12138,7261l101-53l-116-61l-101,54z"/><path fill="#b9c431" d="M14617,7380l101-30l-117-74l-101,30z"/><path fill="#7bcc5d" d="M11385,7307l101-56l-117-54l-101,56z"/><path fill="#ccc028" d="M13863,7301l101-39l-116-72l-101,39z"/><path fill="#44cb8a" d="M10631,7371l101-55l-116-50l-101,55z"/><path fill="#cbc129" d="M13110,7264l101-46l-117-68l-101,47z"/><path fill="#7ecc5b" d="M15588,7547l101-21l-117-75l-101,21z"/><path fill="#b4c534" d="M12356,7269l101-52l-117-62l-101,53z"/><path fill="#adc738" d="M14834,7424l101-28l-116-74l-101,28z"/><path fill="#88cb53" d="M11602,7307l101-55l-116-56l-101,55z"/><path fill="#c6c22a" d="M14081,7335l101-36l-117-73l-101,36z"/><path fill="#50cc80" d="M10849,7367l101-56l-117-51l-101,56z"/><path fill="#cac129" d="M13327,7286l101-44l-116-69l-101,45z"/><path fill="#b9c430" d="M12573,7280l101-51l-116-63l-101,51z"/><path fill="#9fc942" d="M15052,7471l101-26l-117-75l-101,26z"/><path fill="#93ca4b" d="M11820,7309l101-54l-117-58l-101,55z"/><path fill="#bec32e" d="M14298,7372l101-34l-116-74l-101,35z"/><path fill="#5ccc75" d="M11066,7364l101-56l-116-52l-101,55z"/><path fill="#c8c129" d="M13545,7312l101-42l-117-71l-101,43z"/><path fill="#32c69e" d="M10313,7429l101-53l-117-49l-101,54z"/><path fill="#bdc32e" d="M12791,7294l101-49l-117-65l-101,49z"/><path fill="#8fcb4e" d="M15269,7519l101-24l-116-74l-101,24z"/><path fill="#9cc944" d="M12037,7314l101-53l-116-60l-101,54z"/><path fill="#b4c533" d="M14516,7412l101-32l-117-74l-101,32z"/><path fill="#69cd6b" d="M11284,7362l101-55l-117-54l-101,55z"/><path fill="#c4c22a" d="M13762,7340l101-39l-116-72l-101,41z"/><path fill="#39c895" d="M10530,7425l101-54l-116-50l-101,55z"/><path fill="#bfc32d" d="M13009,7311l101-47l-117-67l-101,48z"/><path fill="#7ecc5a" d="M15487,7569l101-22l-117-75l-101,23z"/><path fill="#a4c83e" d="M12255,7321l101-52l-117-61l-101,53z"/><path fill="#a9c73a" d="M14733,7454l101-30l-116-74l-101,30z"/><path fill="#75cc61" d="M11501,7362l101-55l-116-56l-101,56z"/><path fill="#bfc32d" d="M13980,7372l101-37l-117-73l-101,39z"/><path fill="#41ca8c" d="M10748,7421l101-54l-117-51l-101,55z"/><path fill="#bfc32d" d="M13226,7331l101-45l-116-68l-101,46z"/><path fill="#abc739" d="M12472,7331l101-51l-116-63l-101,52z"/><path fill="#9cc944" d="M14951,7499l101-28l-117-75l-101,28z"/><path fill="#81cc59" d="M11719,7364l101-55l-117-57l-101,55z"/><path fill="#b8c431" d="M14197,7407l101-35l-116-73l-101,36z"/><path fill="#4ccb83" d="M10965,7418l101-54l-116-53l-101,56z"/><path fill="#bec32e" d="M13444,7355l101-43l-117-70l-101,44z"/><path fill="#afc636" d="M12690,7343l101-49l-117-65l-101,51z"/><path fill="#8ecb4f" d="M15168,7545l101-26l-116-74l-101,26z"/><path fill="#8bcb51" d="M11936,7367l101-53l-116-59l-101,54z"/><path fill="#afc636" d="M14415,7445l101-33l-117-74l-101,34z"/><path fill="#58cc79" d="M11183,7417l101-55l-117-54l-101,56z"/><path fill="#bbc42f" d="M13661,7382l101-42l-116-70l-101,42z"/><path fill="#31c6a0" d="M10429,7478l101-53l-116-49l-101,53z"/><path fill="#b2c535" d="M12908,7359l101-48l-117-66l-101,49z"/><path fill="#7ecc5b" d="M15386,7593l101-24l-117-74l-101,24z"/><path fill="#94ca4a" d="M12154,7374l101-53l-117-60l-101,53z"/><path fill="#a5c83d" d="M14632,7485l101-31l-116-74l-101,32z"/><path fill="#63cd70" d="M11400,7416l101-54l-116-55l-101,55z"/><path fill="#b7c532" d="M13879,7411l101-39l-117-71l-101,39z"/><path fill="#37c897" d="M10647,7475l101-54l-117-50l-101,54z"/><path fill="#b4c534" d="M13125,7378l101-47l-116-67l-101,47z"/><path fill="#9bc945" d="M12371,7382l101-51l-116-62l-101,52z"/><path fill="#99c946" d="M14850,7528l101-29l-117-75l-101,30z"/><path fill="#6ecd66" d="M11618,7418l101-54l-117-57l-101,55z"/><path fill="#b1c635" d="M14096,7444l101-37l-116-72l-101,37z"/><path fill="#3eca8f" d="M10864,7472l101-54l-116-51l-101,54z"/><path fill="#b3c534" d="M13343,7399l101-44l-117-69l-101,45z"/><path fill="#a0c841" d="M12589,7394l101-51l-117-63l-101,51z"/><path fill="#8bcb51" d="M15067,7573l101-28l-116-74l-101,28z"/><path fill="#79cc5e" d="M11835,7421l101-54l-116-58l-101,55z"/><path fill="#a9c73a" d="M14314,7480l101-35l-117-73l-101,35z"/><path fill="#48cb86" d="M11082,7471l101-54l-117-53l-101,54z"/><path fill="#b1c635" d="M13560,7424l101-42l-116-70l-101,43z"/><path fill="#a4c83e" d="M12807,7408l101-49l-117-65l-101,49z"/><path fill="#7ccc5c" d="M15285,7619l101-26l-117-74l-101,26z"/><path fill="#82cc57" d="M12053,7426l101-52l-117-60l-101,53z"/><path fill="#a0c941" d="M14531,7518l101-33l-116-73l-101,33z"/><path fill="#53cc7d" d="M11299,7470l101-54l-116-54l-101,55z"/><path fill="#aec637" d="M13778,7452l101-41l-117-71l-101,42z"/><path fill="#30c5a1" d="M10546,7528l101-53l-117-50l-101,53z"/><path fill="#a7c73c" d="M13024,7425l101-47l-116-67l-101,48z"/><path fill="#8acb51" d="M12270,7434l101-52l-116-61l-101,53z"/><path fill="#94ca4a" d="M14749,7559l101-31l-117-74l-101,31z"/><path fill="#5ecc74" d="M11517,7471l101-53l-117-56l-101,54z"/><path fill="#a9c73b" d="M13995,7483l101-39l-116-72l-101,39z"/><path fill="#35c79a" d="M10763,7526l101-54l-116-51l-101,54z"/><path fill="#a7c73c" d="M13242,7445l101-46l-117-68l-101,47z"/><path fill="#91ca4c" d="M12488,7444l101-50l-117-63l-101,51z"/><path fill="#88cb53" d="M14966,7602l101-29l-116-74l-101,29z"/><path fill="#67cd6c" d="M11734,7474l101-53l-116-57l-101,54z"/><path fill="#a2c840" d="M14213,7516l101-36l-117-73l-101,37z"/><path fill="#3cc991" d="M10981,7524l101-53l-117-53l-101,54z"/><path fill="#a6c73c" d="M13459,7468l101-44l-116-69l-101,44z"/><path fill="#96ca49" d="M12706,7457l101-49l-117-65l-101,51z"/><path fill="#7acc5d" d="M15184,7646l101-27l-117-74l-101,28z"/><path fill="#71cd64" d="M11952,7479l101-53l-117-59l-101,54z"/><path fill="#99c946" d="M14430,7553l101-35l-116-73l-101,35z"/><path fill="#44cb89" d="M11198,7524l101-54l-116-53l-101,54z"/><path fill="#a4c83e" d="M13677,7494l101-42l-117-70l-101,42z"/><path fill="#99c946" d="M12923,7473l101-48l-116-66l-101,49z"/><path fill="#79cc5e" d="M12169,7486l101-52l-116-60l-101,52z"/><path fill="#8fcb4e" d="M14648,7591l101-32l-117-74l-101,33z"/><path fill="#4ecc81" d="M11416,7525l101-54l-117-55l-101,54z"/><path fill="#a0c941" d="M13894,7522l101-39l-116-72l-101,41z"/><path fill="#2fc5a3" d="M10662,7578l101-52l-116-51l-101,53z"/><path fill="#9bc945" d="M13141,7491l101-46l-117-67l-101,47z"/><path fill="#81cc59" d="M12387,7495l101-51l-117-62l-101,52z"/><path fill="#84cc56" d="M14865,7632l101-30l-116-74l-101,31z"/><path fill="#58cc79" d="M11633,7527l101-53l-116-56l-101,53z"/><path fill="#9ac946" d="M14112,7554l101-38l-117-72l-101,39z"/><path fill="#34c79c" d="M10880,7577l101-53l-117-52l-101,54z"/><path fill="#9bc945" d="M13358,7512l101-44l-116-69l-101,46z"/><path fill="#86cb54" d="M12605,7507l101-50l-117-63l-101,50z"/><path fill="#77cc60" d="M15083,7675l101-29l-117-73l-101,29z"/><path fill="#60cd72" d="M11851,7532l101-53l-117-58l-101,53z"/><path fill="#92ca4b" d="M14329,7588l101-35l-116-73l-101,36z"/><path fill="#39c994" d="M11097,7577l101-53l-116-53l-101,53z"/><path fill="#99c946" d="M13576,7536l101-42l-117-70l-101,44z"/><path fill="#8acb51" d="M12822,7521l101-48l-116-65l-101,49z"/><path fill="#69cd6b" d="M12068,7538l101-52l-116-60l-101,53z"/><path fill="#89cb52" d="M14547,7625l101-34l-117-73l-101,35z"/><path fill="#40ca8d" d="M11315,7578l101-53l-117-55l-101,54z"/><path fill="#96ca49" d="M13793,7563l101-41l-116-70l-101,42z"/><path fill="#8dcb4f" d="M13040,7538l101-47l-117-66l-101,48z"/><path fill="#70cd65" d="M12286,7546l101-51l-117-61l-101,52z"/><path fill="#7fcc5a" d="M14764,7664l101-32l-116-73l-101,32z"/><path fill="#49cb86" d="M11532,7580l101-53l-116-56l-101,54z"/><path fill="#91ca4c" d="M14011,7593l101-39l-117-71l-101,39z"/><path fill="#2dc4a5" d="M10779,7629l101-52l-117-51l-101,52z"/><path fill="#8ecb4f" d="M13257,7558l101-46l-116-67l-101,46z"/><path fill="#76cc60" d="M12504,7557l101-50l-117-63l-101,51z"/><path fill="#73cd63" d="M14982,7705l101-30l-117-73l-101,30z"/><path fill="#51cc7e" d="M11750,7584l101-52l-117-58l-101,53z"/><path fill="#8acb51" d="M14228,7625l101-37l-116-72l-101,38z"/><path fill="#32c69f" d="M10996,7629l101-52l-116-53l-101,53z"/><path fill="#8dcb4f" d="M13475,7580l101-44l-117-68l-101,44z"/><path fill="#7bcc5d" d="M12721,7570l101-49l-116-64l-101,50z"/><path fill="#59cc78" d="M11967,7590l101-52l-116-59l-101,53z"/><path fill="#82cc57" d="M14446,7660l101-35l-117-72l-101,35z"/><path fill="#37c898" d="M11214,7630l101-52l-117-54l-101,53z"/><path fill="#8bcb51" d="M13692,7605l101-42l-116-69l-101,42z"/><path fill="#7fcc5a" d="M12939,7586l101-48l-117-65l-101,48z"/><path fill="#61cd72" d="M12185,7598l101-52l-117-60l-101,52z"/><path fill="#79cc5e" d="M14663,7697l101-33l-116-73l-101,34z"/><path fill="#3dc991" d="M11431,7633l101-53l-116-55l-101,53z"/><path fill="#87cb54" d="M13910,7633l101-40l-117-71l-101,41z"/><path fill="#80cc59" d="M13156,7604l101-46l-116-67l-101,47z"/><path fill="#67cd6d" d="M12403,7607l101-50l-117-62l-101,51z"/><path fill="#6ecd66" d="M14881,7737l101-32l-117-73l-101,32z"/><path fill="#43ca8a" d="M11649,7636l101-52l-117-57l-101,53z"/><path fill="#82cc58" d="M14127,7664l101-39l-116-71l-101,39z"/><path fill="#2bc3a8" d="M10895,7681l101-52l-116-52l-101,52z"/><path fill="#81cc59" d="M13374,7625l101-45l-117-68l-101,46z"/><path fill="#6ccd68" d="M12620,7619l101-49l-116-63l-101,50z"/><path fill="#4bcb84" d="M11866,7642l101-52l-116-58l-101,52z"/><path fill="#7acc5d" d="M14345,7697l101-37l-117-72l-101,37z"/><path fill="#30c5a1" d="M11113,7682l101-52l-117-53l-101,52z"/><path fill="#7fcc5a" d="M13591,7648l101-43l-116-69l-101,44z"/><path fill="#70cd65" d="M12838,7634l101-48l-117-65l-101,49z"/><path fill="#52cc7e" d="M12084,7649l101-51l-117-60l-101,52z"/><path fill="#72cd63" d="M14562,7732l101-35l-116-72l-101,35z"/><path fill="#34c79b" d="M11330,7685l101-52l-116-55l-101,52z"/><path fill="#7ccc5c" d="M13809,7674l101-41l-117-70l-101,42z"/><path fill="#72cd63" d="M13055,7651l101-47l-116-66l-101,48z"/><path fill="#58cc79" d="M12302,7658l101-51l-117-61l-101,52z"/><path fill="#69cd6b" d="M14780,7770l101-33l-117-73l-101,33z"/><path fill="#39c895" d="M11548,7688l101-52l-117-56l-101,53z"/><path fill="#78cc5f" d="M14026,7703l101-39l-116-71l-101,40z"/><path fill="#73cd62" d="M13273,7670l101-45l-117-67l-101,46z"/><path fill="#5ecc74" d="M12519,7669l101-50l-116-62l-101,50z"/><path fill="#3eca8f" d="M11765,7693l101-51l-116-58l-101,52z"/><path fill="#72cd63" d="M14244,7734l101-37l-117-72l-101,39z"/><path fill="#29c3aa" d="M11012,7734l101-52l-117-53l-101,52z"/><path fill="#73cd63" d="M13490,7692l101-44l-116-68l-101,45z"/><path fill="#62cd71" d="M12737,7682l101-48l-117-64l-101,49z"/><path fill="#45cb89" d="M11983,7700l101-51l-117-59l-101,52z"/><path fill="#6bcd69" d="M14461,7768l101-36l-116-72l-101,37z"/><path fill="#2ec4a4" d="M11229,7736l101-51l-116-55l-101,52z"/><path fill="#71cd64" d="M13708,7716l101-42l-117-69l-101,43z"/><path fill="#65cd6e" d="M12954,7698l101-47l-116-65l-101,48z"/><path fill="#4bcb84" d="M12201,7708l101-50l-117-60l-101,51z"/><path fill="#63cd70" d="M14679,7804l101-34l-117-73l-101,35z"/><path fill="#32c69e" d="M11447,7739l101-51l-117-55l-101,52z"/><path fill="#6ecd67" d="M13925,7743l101-40l-116-70l-101,41z"/><path fill="#67cd6d" d="M13172,7716l101-46l-117-66l-101,47z"/><path fill="#50cc7f" d="M12418,7718l101-49l-116-62l-101,51z"/><path fill="#36c899" d="M11664,7744l101-51l-116-57l-101,52z"/><path fill="#69cd6a" d="M14143,7773l101-39l-117-70l-101,39z"/><path fill="#67cd6c" d="M13389,7736l101-44l-116-67l-101,45z"/><path fill="#55cc7c" d="M12636,7731l101-49l-117-63l-101,50z"/><path fill="#3ac993" d="M11882,7750l101-50l-117-58l-101,51z"/><path fill="#63cd6f" d="M14360,7805l101-37l-116-71l-101,37z"/><path fill="#26c2ac" d="M11128,7787l101-51l-116-54l-101,52z"/><path fill="#66cd6d" d="M13607,7759l101-43l-117-68l-101,44z"/><path fill="#58cc79" d="M12853,7745l101-47l-116-64l-101,48z"/><path fill="#3fca8e" d="M12100,7758l101-50l-117-59l-101,51z"/><path fill="#5dcc75" d="M14578,7839l101-35l-117-72l-101,36z"/><path fill="#2cc4a7" d="M11346,7790l101-51l-117-54l-101,51z"/><path fill="#64cd6f" d="M13824,7785l101-42l-116-69l-101,42z"/><path fill="#5acc77" d="M13071,7762l101-46l-117-65l-101,47z"/><path fill="#44ca8a" d="M12317,7768l101-50l-116-60l-101,50z"/><path fill="#30c5a2" d="M11563,7795l101-51l-116-56l-101,51z"/><path fill="#60cd72" d="M14042,7813l101-40l-117-70l-101,40z"/><path fill="#5ccc76" d="M13288,7781l101-45l-116-66l-101,46z"/><path fill="#48cb86" d="M12535,7779l101-48l-117-62l-101,49z"/><path fill="#33c69d" d="M11781,7801l101-51l-117-57l-101,51z"/><path fill="#5ccc76" d="M14259,7843l101-38l-116-71l-101,39z"/><path fill="#5bcc76" d="M13506,7803l101-44l-117-67l-101,44z"/><path fill="#4ccb83" d="M12752,7793l101-48l-116-63l-101,49z"/><path fill="#36c898" d="M11999,7808l101-50l-117-58l-101,50z"/><path fill="#56cc7b" d="M14477,7875l101-36l-117-71l-101,37z"/><path fill="#23c1af" d="M11245,7840l101-50l-117-54l-101,51z"/><path fill="#5acc77" d="M13723,7827l101-42l-116-69l-101,43z"/><path fill="#4ecc81" d="M12970,7809l101-47l-117-64l-101,47z"/><path fill="#3ac994" d="M12216,7817l101-49l-116-60l-101,50z"/><path fill="#29c3aa" d="M11462,7845l101-50l-116-56l-101,51z"/><path fill="#57cc7a" d="M13941,7853l101-40l-117-70l-101,42z"/><path fill="#50cc7f" d="M13187,7827l101-46l-116-65l-101,46z"/><path fill="#3dc990" d="M12434,7828l101-49l-117-61l-101,50z"/><path fill="#2dc4a5" d="M11680,7850l101-49l-117-57l-101,51z"/><path fill="#54cc7d" d="M14158,7881l101-38l-116-70l-101,40z"/><path fill="#51cc7f" d="M13405,7847l101-44l-117-67l-101,45z"/><path fill="#40ca8d" d="M12651,7841l101-48l-116-62l-101,48z"/><path fill="#30c5a1" d="M11898,7858l101-50l-117-58l-101,51z"/><path fill="#4fcc80" d="M14376,7912l101-37l-117-70l-101,38z"/><path fill="#50cc80" d="M13622,7869l101-42l-116-68l-101,44z"/><path fill="#43ca8a" d="M12869,7855l101-46l-117-64l-101,48z"/><path fill="#33c69d" d="M12115,7866l101-49l-116-59l-101,50z"/><path fill="#1ec0b2" d="M11361,7894l101-49l-116-55l-101,50z"/><path fill="#4ecc81" d="M13840,7894l101-41l-117-68l-101,42z"/><path fill="#45cb89" d="M13086,7872l101-45l-116-65l-101,47z"/><path fill="#36c799" d="M12333,7876l101-48l-117-60l-101,49z"/><path fill="#25c2ad" d="M11579,7900l101-50l-117-55l-101,50z"/><path fill="#4bcb83" d="M14057,7921l101-40l-116-68l-101,40z"/><path fill="#46cb88" d="M13304,7891l101-44l-117-66l-101,46z"/><path fill="#38c896" d="M12550,7888l101-47l-116-62l-101,49z"/><path fill="#2ac3a9" d="M11797,7907l101-49l-117-57l-101,49z"/><path fill="#48cb86" d="M14275,7950l101-38l-117-69l-101,38z"/><path fill="#46cb88" d="M13521,7913l101-44l-116-66l-101,44z"/><path fill="#3ac993" d="M12768,7902l101-47l-117-62l-101,48z"/><path fill="#2dc4a5" d="M12014,7915l101-49l-116-58l-101,50z"/><path fill="#45cb88" d="M13739,7936l101-42l-117-67l-101,42z"/><path fill="#3cc991" d="M12985,7918l101-46l-116-63l-101,46z"/><path fill="#30c5a1" d="M12232,7925l101-49l-117-59l-101,49z"/><path fill="#1abfb5" d="M11478,7949l101-49l-117-55l-101,49z"/><path fill="#43ca8a" d="M13956,7962l101-41l-116-68l-101,41z"/><path fill="#3dc990" d="M13203,7936l101-45l-117-64l-101,45z"/><path fill="#32c69e" d="M12449,7936l101-48l-116-60l-101,48z"/><path fill="#20c1b1" d="M11696,7955l101-48l-117-57l-101,50z"/><path fill="#41ca8d" d="M14174,7989l101-39l-117-69l-101,40z"/><path fill="#3eca8f" d="M13420,7956l101-43l-116-66l-101,44z"/><path fill="#34c79c" d="M12667,7949l101-47l-117-61l-101,47z"/><path fill="#26c2ad" d="M11913,7963l101-48l-116-57l-101,49z"/><path fill="#3dca90" d="M13638,7978l101-42l-117-67l-101,44z"/><path fill="#35c799" d="M12884,7964l101-46l-116-63l-101,47z"/><path fill="#2ac3a9" d="M12131,7973l101-48l-117-59l-101,49z"/><path fill="#3cc991" d="M13855,8003l101-41l-116-68l-101,42z"/><path fill="#36c898" d="M13102,7981l101-45l-117-64l-101,46z"/><path fill="#2dc4a6" d="M12348,7984l101-48l-116-60l-101,49z"/><path fill="#14bfb8" d="M11595,8004l101-49l-117-55l-101,49z"/><path fill="#3bc993" d="M14073,8029l101-40l-117-68l-101,41z"/><path fill="#37c897" d="M13319,8000l101-44l-116-65l-101,45z"/><path fill="#2fc5a3" d="M12566,7996l101-47l-117-61l-101,48z"/><path fill="#1bc0b4" d="M11812,8011l101-48l-116-56l-101,48z"/><path fill="#37c897" d="M13537,8021l101-43l-117-65l-101,43z"/><path fill="#30c5a1" d="M12783,8010l101-46l-116-62l-101,47z"/><path fill="#21c1b0" d="M12030,8021l101-48l-117-58l-101,48z"/><path fill="#37c898" d="M13754,8044l101-41l-116-67l-101,42z"/><path fill="#31c69f" d="M13001,8027l101-46l-117-63l-101,46z"/><path fill="#25c2ad" d="M12247,8031l101-47l-116-59l-101,48z"/><path fill="#36c899" d="M13972,8069l101-40l-117-67l-101,41z"/><path fill="#32c69e" d="M13218,8044l101-44l-116-64l-101,45z"/><path fill="#28c3aa" d="M12465,8043l101-47l-117-60l-101,48z"/><path fill="#0ebebb" d="M11711,8059l101-48l-116-56l-101,49z"/><path fill="#33c69e" d="M13436,8064l101-43l-117-65l-101,44z"/><path fill="#2bc3a8" d="M12682,8057l101-47l-116-61l-101,47z"/><path fill="#15bfb7" d="M11929,8068l101-47l-117-58l-101,48z"/><path fill="#32c69e" d="M13653,8086l101-42l-116-66l-101,43z"/><path fill="#2cc4a6" d="M12900,8072l101-45l-117-63l-101,46z"/><path fill="#1bc0b4" d="M12146,8078l101-47l-116-58l-101,48z"/><path fill="#32c69f" d="M13871,8110l101-41l-117-66l-101,41z"/><path fill="#2dc4a5" d="M13117,8089l101-45l-116-63l-101,46z"/><path fill="#1fc1b1" d="M12364,8089l101-46l-117-59l-101,47z"/><path fill="#2ec4a4" d="M13335,8108l101-44l-117-64l-101,44z"/><path fill="#23c1af" d="M12581,8102l101-45l-116-61l-101,47z"/><path fill="#09bcbe" d="M11828,8115l101-47l-117-57l-101,48z"/><path fill="#2ec4a4" d="M13552,8128l101-42l-116-65l-101,43z"/><path fill="#26c2ad" d="M12799,8117l101-45l-117-62l-101,47z"/><path fill="#0ebebb" d="M12045,8125l101-47l-116-57l-101,47z"/><path fill="#2ec4a4" d="M13770,8151l101-41l-117-66l-101,42z"/><path fill="#27c2ab" d="M13016,8133l101-44l-116-62l-101,45z"/><path fill="#14beb8" d="M12263,8136l101-47l-117-58l-101,47z"/><path fill="#28c3aa" d="M13234,8151l101-43l-117-64l-101,45z"/><path fill="#19bfb5" d="M12480,8148l101-46l-116-59l-101,46z"/><path fill="#29c3aa" d="M13451,8171l101-43l-116-64l-101,44z"/><path fill="#1cc0b3" d="M12698,8162l101-45l-117-60l-101,45z"/><path fill="#05bbc1" d="M11944,8171l101-46l-116-57l-101,47z"/><path fill="#29c3aa" d="M13669,8192l101-41l-117-65l-101,42z"/><path fill="#1fc0b2" d="M12915,8178l101-45l-116-61l-101,45z"/><path fill="#09bcbe" d="M12162,8182l101-46l-117-58l-101,47z"/><path fill="#21c1b0" d="M13133,8195l101-44l-117-62l-101,44z"/><path fill="#0cbdbc" d="M12379,8194l101-46l-116-59l-101,47z"/><path fill="#22c1b0" d="M13350,8214l101-43l-116-63l-101,43z"/><path fill="#11beba" d="M12597,8207l101-45l-117-60l-101,46z"/><path fill="#22c1af" d="M13568,8234l101-42l-117-64l-101,43z"/><path fill="#14bfb8" d="M12814,8222l101-44l-116-61l-101,45z"/><path fill="#02bac5" d="M12061,8227l101-45l-117-57l-101,46z"/><path fill="#17bfb6" d="M13032,8238l101-43l-117-62l-101,45z"/><path fill="#04bbc2" d="M12278,8239l101-45l-116-58l-101,46z"/><path fill="#19bfb5" d="M13249,8256l101-42l-116-63l-101,44z"/><path fill="#07bcc0" d="M12496,8252l101-45l-117-59l-101,46z"/><path fill="#1abfb5" d="M13467,8276l101-42l-117-63l-101,43z"/><path fill="#09bdbe" d="M12713,8266l101-44l-116-60l-101,45z"/><path fill="#0cbdbc" d="M12931,8282l101-44l-117-60l-101,44z"/><path fill="#01b9c8" d="M12177,8284l101-45l-116-57l-101,45z"/><path fill="#0ebdbb" d="M13148,8299l101-43l-116-61l-101,43z"/><path fill="#01bac5" d="M12395,8296l101-44l-117-58l-101,45z"/><path fill="#0fbeba" d="M13366,8318l101-42l-117-62l-101,42z"/><path fill="#02bac3" d="M12612,8310l101-44l-116-59l-101,45z"/><path fill="#04bbc2" d="M12830,8325l101-43l-117-60l-101,44z"/><path fill="#06bcc0" d="M13047,8342l101-43l-116-61l-101,44z"/><path fill="#02b7cb" d="M12294,8340l101-44l-117-57l-101,45z"/><path fill="#07bcc0" d="M13265,8360l101-42l-117-62l-101,43z"/><path fill="#01b8c9" d="M12511,8354l101-44l-116-58l-101,44z"/><path fill="#01b9c7" d="M12729,8368l101-43l-117-59l-101,44z"/><path fill="#01b9c6" d="M12946,8384l101-42l-116-60l-101,43z"/><path fill="#02bac5" d="M13164,8402l101-42l-117-61l-101,43z"/><path fill="#05b6ce" d="M12410,8397l101-43l-116-58l-101,44z"/><path fill="#04b6cc" d="M12628,8411l101-43l-117-58l-101,44z"/><path fill="#02b7cb" d="M12845,8427l101-43l-116-59l-101,43z"/><path fill="#01b8ca" d="M13063,8444l101-42l-117-60l-101,42z"/><path fill="#0ab4d1" d="M12527,8454l101-43l-117-57l-101,43z"/><path fill="#07b5d0" d="M12744,8469l101-42l-116-59l-101,43z"/><path fill="#06b5cf" d="M12962,8485l101-41l-117-60l-101,43z"/><path fill="#0fb2d4" d="M12643,8511l101-42l-116-58l-101,43z"/><path fill="#0db3d3" d="M12861,8527l101-42l-117-58l-101,42z"/><path fill="#13b0d7" d="M12760,8568l101-41l-117-58l-101,42z"/></g></g>
<path d="M996.3,811.5L996.3,581.5M996.3,811.5L1276,917.2M1276,917.2L1639.6,835.9M996.3,811.5L990.3,809.2M996.3,696.5L990.3,694.2M996.3,581.5L990.3,579.2M1252.7,908.4L1246.5,910M1136.1,864.3L1130,866M1019.6,820.3L1013.4,821.9M1356.8,899.1L1362.6,901.6M1457.8,876.6L1463.6,879M1558.8,854L1564.6,856.4" stroke="#5a5a5a" stroke-width="3" fill="none" filter="url(#bl2)"/>
<g filter="url(#bl3)"><text x="952.8" y="584.3" text-anchor="middle" style="font-family:'Liberation Sans',sans-serif;font-size:26px;fill:#5c5c5c;stroke:#5c5c5c;stroke-width:0.7">200</text><text x="952.8" y="701" text-anchor="middle" style="font-family:'Liberation Sans',sans-serif;font-size:26px;fill:#5c5c5c;stroke:#5c5c5c;stroke-width:0.7">100</text><text x="967.8" y="816.5" text-anchor="middle" style="font-family:'Liberation Sans',sans-serif;font-size:26px;fill:#5c5c5c;stroke:#5c5c5c;stroke-width:0.7">0</text><text x="989.6" y="853.5" text-anchor="middle" style="font-family:'Liberation Sans',sans-serif;font-size:26px;fill:#5c5c5c;stroke:#5c5c5c;stroke-width:0.7">1</text><text x="1107.1" y="897.9" text-anchor="middle" style="font-family:'Liberation Sans',sans-serif;font-size:26px;fill:#5c5c5c;stroke:#5c5c5c;stroke-width:0.7">0</text><text x="1218.6" y="942.1" text-anchor="middle" style="font-family:'Liberation Sans',sans-serif;font-size:26px;fill:#5c5c5c;stroke:#5c5c5c;stroke-width:0.7">-1</text><text x="1386.9" y="936.8" text-anchor="middle" style="font-family:'Liberation Sans',sans-serif;font-size:26px;fill:#5c5c5c;stroke:#5c5c5c;stroke-width:0.7">-1</text><text x="1484.6" y="913.6" text-anchor="middle" style="font-family:'Liberation Sans',sans-serif;font-size:26px;fill:#5c5c5c;stroke:#5c5c5c;stroke-width:0.7">0</text><text x="1589" y="891.6" text-anchor="middle" style="font-family:'Liberation Sans',sans-serif;font-size:26px;fill:#5c5c5c;stroke:#5c5c5c;stroke-width:0.7">1</text><text x="1490.8" y="955.9" text-anchor="middle" textLength="86" lengthAdjust="spacingAndGlyphs" style="font-family:'Liberation Serif',serif;fill:#0a0a0a;stroke:#0a0a0a;paint-order:stroke;stroke-width:0.7;font-size:43px">x(/m)</text><text x="1119.2" y="940.2" text-anchor="middle" textLength="86" lengthAdjust="spacingAndGlyphs" style="font-family:'Liberation Serif',serif;fill:#0a0a0a;stroke:#0a0a0a;paint-order:stroke;stroke-width:0.7;font-size:43px">y(/m)</text><text transform="translate(902.8,858.1) rotate(-90)" x="0" y="0" textLength="166.5" lengthAdjust="spacingAndGlyphs" style="font-family:'Liberation Serif',serif;fill:#0a0a0a;stroke:#0a0a0a;paint-order:stroke;stroke-width:1.0;font-size:41px">Illuminance</text><text transform="translate(902.8,673.5) rotate(-90)" x="0" y="0" textLength="109.9" lengthAdjust="spacingAndGlyphs" style="font-family:'Liberation Serif',serif;fill:#0a0a0a;stroke:#0a0a0a;paint-order:stroke;stroke-width:1.0;font-size:41px">(/LUX)</text><text y="572.5" style="font-family:'Liberation Serif',serif;fill:#0a0a0a;stroke:#0a0a0a;paint-order:stroke;stroke-width:0.9;font-size:40px"><tspan x="1149.8" textLength="54.6" lengthAdjust="spacingAndGlyphs">(D)</tspan><tspan x="1219.6" textLength="77.3" lengthAdjust="spacingAndGlyphs">Cold</tspan><tspan x="1310.9" textLength="72.3" lengthAdjust="spacingAndGlyphs">light</tspan><tspan x="1397.1" textLength="111.6" lengthAdjust="spacingAndGlyphs">LED_2</tspan></text></g>
</g>
<g id="panelE">
<path d="M509.5,1393.2L229.8,1287.5M229.8,1287.5L229.8,1057.5M610.5,1370.7L330.8,1265M330.8,1265L330.8,1035M711.5,1348.1L431.8,1242.4M431.8,1242.4L431.8,1012.4M405.4,1402.5L769,1321.2M769,1321.2L769,1091.2M288.8,1358.4L652.4,1277.2M652.4,1277.2L652.4,1047.2M172.3,1314.4L535.9,1233.1M535.9,1233.1L535.9,1003.1M149,1305.6L512.6,1224.3M512.6,1224.3L792.3,1330M149,1190.6L512.6,1109.3M512.6,1109.3L792.3,1215M149,1075.6L512.6,994.3M512.6,994.3L792.3,1100" stroke="#e9e9e9" stroke-width="2.6" fill="none" filter="url(#bl2)"/>
<g filter="url(#bl)"><g transform="scale(.1)" stroke="#000" stroke-width="36" stroke-linejoin="round"><path fill="#0db3d4" stroke-width="30" d="M5142,11945l101-10l-117-46l-101,10z"/><path fill="#06b5cf" stroke-width="30" d="M5041,11955l101-10l-117-46l-101,10z"/><path fill="#0fb2d4" stroke-width="30" d="M5258,11992l101-11l-116-46l-101,10z"/><path fill="#01b8c9" stroke-width="30" d="M4940,11965l101-10l-117-46l-101,10z"/><path fill="#07b5cf" stroke-width="30" d="M5157,12002l101-10l-116-47l-101,10z"/><path fill="#10b2d5" stroke-width="30" d="M5375,12038l101-10l-117-47l-101,11z"/><path fill="#02bac3" stroke-width="30" d="M4839,11974l101-9l-117-46l-101,9z"/><path fill="#01b8ca" stroke-width="30" d="M5056,12011l101-9l-116-47l-101,10z"/><path fill="#08b4d1" stroke-width="30" d="M5274,12049l101-11l-117-46l-101,10z"/><path fill="#12b1d6" stroke-width="32" d="M5491,12086l101-11l-116-47l-101,10z"/><path fill="#0abdbd" stroke-width="30" d="M4738,11984l101-10l-117-46l-101,9z"/><path fill="#02bac4" stroke-width="30" d="M4955,12021l101-10l-116-46l-101,9z"/><path fill="#02b7cb" stroke-width="30" d="M5173,12059l101-10l-117-47l-101,9z"/><path fill="#0ab4d2" stroke-width="30" d="M5390,12096l101-10l-116-48l-101,11z"/><path fill="#16bfb7" stroke-width="30" d="M4637,11992l101-8l-117-47l-101,9z"/><path fill="#14b0d8" stroke-width="32" d="M5608,12133l101-11l-117-47l-101,11z"/><path fill="#09bcbe" stroke-width="30" d="M4854,12030l101-9l-116-47l-101,10z"/><path fill="#01b9c6" stroke-width="30" d="M5072,12068l101-9l-117-48l-101,10z"/><path fill="#04b6cd" stroke-width="30" d="M5289,12106l101-10l-116-47l-101,10z"/><path fill="#21c1b0" stroke-width="30" d="M4536,12001l101-9l-117-46l-101,9z"/><path fill="#0db3d3" stroke-width="32" d="M5507,12144l101-11l-117-47l-101,10z"/><path fill="#14beb8" stroke-width="30" d="M4753,12039l101-9l-116-46l-101,8z"/><path fill="#15afd9" stroke-width="32" d="M5724,12181l101-11l-116-48l-101,11z"/><path fill="#07bcc0" stroke-width="30" d="M4971,12078l101-10l-117-47l-101,9z"/><path fill="#01b9c7" stroke-width="30" d="M5188,12116l101-10l-116-47l-101,9z"/><path fill="#29c3a9" stroke-width="30" d="M4435,12010l101-9l-117-46l-101,8z"/><path fill="#05b6ce" stroke-width="32" d="M5406,12154l101-10l-117-48l-101,10z"/><path fill="#1fc0b1" stroke-width="30" d="M4652,12048l101-9l-116-47l-101,9z"/><path fill="#0fb2d5" stroke-width="32" d="M5623,12192l101-11l-116-48l-101,11z"/><path fill="#11beba" stroke-width="30" d="M4870,12087l101-9l-117-48l-101,9z"/><path fill="#17aeda" stroke-width="32" d="M5841,12230l101-12l-117-48l-101,11z"/><path fill="#04bbc1" stroke-width="30" d="M5087,12126l101-10l-116-48l-101,10z"/><path fill="#30c5a2" stroke-width="30" d="M4334,12018l101-8l-117-47l-101,8z"/><path fill="#01b8c9" stroke-width="32" d="M5305,12164l101-10l-117-48l-101,10z"/><path fill="#28c3ab" stroke-width="30" d="M4551,12057l101-9l-116-47l-101,9z"/><path fill="#07b5d0" stroke-width="32" d="M5522,12203l101-11l-116-48l-101,10z"/><path fill="#1dc0b3" stroke-width="30" d="M4769,12096l101-9l-117-48l-101,9z"/><path fill="#12b1d6" stroke-width="32" d="M5740,12241l101-11l-117-49l-101,11z"/><path fill="#0ebdbb" stroke-width="30" d="M4986,12135l101-9l-116-48l-101,9z"/><path fill="#35c79a" stroke-width="30" d="M4233,12026l101-8l-117-47l-101,8z"/><path fill="#19addc" stroke-width="32" d="M5957,12278l101-11l-116-49l-101,12z"/><path fill="#02bbc3" stroke-width="30" d="M5204,12174l101-10l-117-48l-101,10z"/><path fill="#2ec5a4" stroke-width="30" d="M4450,12065l101-8l-116-47l-101,8z"/><path fill="#02b7cb" stroke-width="32" d="M5421,12213l101-10l-116-49l-101,10z"/><path fill="#26c2ac" stroke-width="30" d="M4668,12105l101-9l-117-48l-101,9z"/><path fill="#0ab4d2" stroke-width="32" d="M5639,12251l101-10l-117-49l-101,11z"/><path fill="#1abfb5" stroke-width="30" d="M4885,12144l101-9l-116-48l-101,9z"/><path fill="#3cc991" stroke-width="30" d="M4132,12034l101-8l-117-47l-101,8z"/><path fill="#14b0d8" stroke-width="32" d="M5856,12290l101-12l-116-48l-101,11z"/><path fill="#0abdbd" stroke-width="30" d="M5103,12184l101-10l-117-48l-101,9z"/><path fill="#34c79c" stroke-width="30" d="M4349,12074l101-9l-116-47l-101,8z"/><path fill="#1aabdd" stroke-width="32" d="M6074,12327l101-11l-117-49l-101,11z"/><path fill="#01bac5" stroke-width="32" d="M5320,12223l101-10l-116-49l-101,10z"/><path fill="#2dc4a5" stroke-width="30" d="M4567,12113l101-8l-117-48l-101,8z"/><path fill="#04b6cd" stroke-width="32" d="M5538,12262l101-11l-117-48l-101,10z"/><path fill="#24c1ae" stroke-width="30" d="M4784,12153l101-9l-116-48l-101,9z"/><path fill="#46cb88" stroke-width="30" d="M4031,12042l101-8l-117-47l-101,8z"/><path fill="#0db3d4" stroke-width="32" d="M5755,12301l101-11l-116-49l-101,10z"/><path fill="#16bfb7" stroke-width="30" d="M5002,12193l101-9l-117-49l-101,9z"/><path fill="#3ac993" stroke-width="30" d="M4248,12082l101-8l-116-48l-101,8z"/><path fill="#16aeda" stroke-width="32" d="M5973,12339l101-12l-117-49l-101,12z"/><path fill="#07bcbf" stroke-width="32" d="M5219,12233l101-10l-116-49l-101,10z"/><path fill="#32c69e" stroke-width="30" d="M4466,12122l101-9l-117-48l-101,9z"/><path fill="#1caadf" stroke-width="32" d="M6190,12377l101-12l-116-49l-101,11z"/><path fill="#01b9c7" stroke-width="32" d="M5437,12272l101-10l-117-49l-101,10z"/><path fill="#2bc3a8" stroke-width="30" d="M4683,12162l101-9l-116-48l-101,8z"/><path fill="#52cc7e" stroke-width="30" d="M3930,12050l101-8l-117-47l-101,8z"/><path fill="#06b5cf" stroke-width="32" d="M5654,12311l101-10l-116-50l-101,11z"/><path fill="#20c1b1" stroke-width="30" d="M4901,12202l101-9l-117-49l-101,9z"/><path fill="#43ca8a" stroke-width="30" d="M4147,12090l101-8l-116-48l-101,8z"/><path fill="#11b1d6" stroke-width="32" d="M5872,12350l101-11l-117-49l-101,11z"/><path fill="#11beb9" stroke-width="32" d="M5118,12242l101-9l-116-49l-101,9z"/><path fill="#38c896" stroke-width="30" d="M4365,12130l101-8l-117-48l-101,8z"/><path fill="#19addc" stroke-width="32" d="M6089,12388l101-11l-116-50l-101,12z"/><path fill="#04bbc2" stroke-width="32" d="M5336,12282l101-10l-117-49l-101,10z"/><path fill="#31c6a0" stroke-width="30" d="M4582,12171l101-9l-116-49l-101,9z"/><path fill="#5fcd73" stroke-width="30" d="M3829,12058l101-8l-117-47l-101,7z"/><path fill="#1da9e0" stroke-width="32" d="M6307,12426l101-12l-117-49l-101,12z"/><path fill="#01b8ca" stroke-width="32" d="M5553,12322l101-11l-116-49l-101,10z"/><path fill="#29c3aa" stroke-width="30" d="M4800,12211l101-9l-117-49l-101,9z"/><path fill="#4fcc80" stroke-width="30" d="M4046,12098l101-8l-116-48l-101,8z"/><path fill="#09b4d1" stroke-width="32" d="M5771,12361l101-11l-117-49l-101,10z"/><path fill="#1cc0b3" stroke-width="32" d="M5017,12252l101-10l-116-49l-101,9z"/><path fill="#40ca8d" stroke-width="30" d="M4264,12139l101-9l-117-48l-101,8z"/><path fill="#14b0d8" stroke-width="32" d="M5988,12400l101-12l-116-49l-101,11z"/><path fill="#0cbdbc" stroke-width="32" d="M5235,12292l101-10l-117-49l-101,9z"/><path fill="#36c898" stroke-width="30" d="M4481,12179l101-8l-116-49l-101,8z"/><path fill="#6ccd68" stroke-width="30" d="M3728,12065l101-7l-117-48l-101,8z"/><path fill="#1aacdd" stroke-width="32" d="M6206,12438l101-12l-117-49l-101,11z"/><path fill="#02bac4" stroke-width="32" d="M5452,12332l101-10l-116-50l-101,10z"/><path fill="#2fc5a3" stroke-width="30" d="M4699,12220l101-9l-117-49l-101,9z"/><path fill="#5ccc76" stroke-width="30" d="M3945,12106l101-8l-116-48l-101,8z"/><path fill="#1ea7e1" stroke-width="34" d="M6423,12476l101-12l-116-50l-101,12z"/><path fill="#03b7cc" stroke-width="32" d="M5670,12372l101-11l-117-50l-101,11z"/><path fill="#26c2ad" stroke-width="32" d="M4916,12261l101-9l-116-50l-101,9z"/><path fill="#4bcb83" stroke-width="30" d="M4163,12147l101-8l-117-49l-101,8z"/><path fill="#0db3d3" stroke-width="32" d="M5887,12411l101-11l-116-50l-101,11z"/><path fill="#18bfb6" stroke-width="32" d="M5134,12302l101-10l-117-50l-101,10z"/><path fill="#3dca90" stroke-width="30" d="M4380,12188l101-9l-116-49l-101,9z"/><path fill="#7bcc5d" stroke-width="30" d="M3627,12073l101-8l-117-47l-101,8z"/><path fill="#16aeda" stroke-width="32" d="M6105,12450l101-12l-117-50l-101,12z"/><path fill="#08bcbf" stroke-width="32" d="M5351,12343l101-11l-116-50l-101,10z"/><path fill="#34c79b" stroke-width="30" d="M4598,12229l101-9l-117-49l-101,8z"/><path fill="#69cd6b" stroke-width="30" d="M3844,12114l101-8l-116-48l-101,7z"/><path fill="#1caadf" stroke-width="34" d="M6322,12489l101-13l-116-50l-101,12z"/><path fill="#01b9c7" stroke-width="32" d="M5569,12383l101-11l-117-50l-101,10z"/><path fill="#2dc4a6" stroke-width="32" d="M4815,12270l101-9l-116-50l-101,9z"/><path fill="#58cc79" stroke-width="30" d="M4062,12155l101-8l-117-49l-101,8z"/><path fill="#20a5e2" stroke-width="34" d="M6540,12526l101-13l-117-49l-101,12z"/><path fill="#06b5cf" stroke-width="32" d="M5786,12423l101-12l-116-50l-101,11z"/><path fill="#22c1b0" stroke-width="32" d="M5033,12312l101-10l-117-50l-101,9z"/><path fill="#47cb87" stroke-width="30" d="M4279,12196l101-8l-116-49l-101,8z"/><path fill="#8acb52" stroke-width="30" d="M3526,12081l101-8l-117-47l-101,8z"/><path fill="#11b1d6" stroke-width="32" d="M6004,12462l101-12l-117-50l-101,11z"/><path fill="#12beb9" stroke-width="32" d="M5250,12353l101-10l-116-51l-101,10z"/><path fill="#3ac993" stroke-width="30" d="M4497,12238l101-9l-117-50l-101,9z"/><path fill="#77cc60" stroke-width="30" d="M3743,12122l101-8l-116-49l-101,8z"/><path fill="#19addc" stroke-width="34" d="M6221,12501l101-12l-116-51l-101,12z"/><path fill="#04bbc2" stroke-width="32" d="M5468,12393l101-10l-117-51l-101,11z"/><path fill="#32c69f" stroke-width="32" d="M4714,12280l101-10l-116-50l-101,9z"/><path fill="#64cd6e" stroke-width="30" d="M3961,12163l101-8l-117-49l-101,8z"/><path fill="#1da8e0" stroke-width="34" d="M6439,12539l101-13l-117-50l-101,13z"/><path fill="#01b8ca" stroke-width="32" d="M5685,12434l101-11l-116-51l-101,11z"/><path fill="#2ac3a9" stroke-width="32" d="M4932,12321l101-9l-117-51l-101,9z"/><path fill="#53cc7d" stroke-width="30" d="M4178,12205l101-9l-116-49l-101,8z"/><path fill="#21a3e3" stroke-width="34" d="M6657,12577l101-14l-117-50l-101,13z"/><path fill="#98c947" stroke-width="30" d="M3425,12089l101-8l-117-47l-101,8z"/><path fill="#0ab4d1" stroke-width="32" d="M5903,12473l101-11l-117-51l-101,12z"/><path fill="#1dc0b3" stroke-width="32" d="M5149,12363l101-10l-116-51l-101,10z"/><path fill="#43ca8a" stroke-width="32" d="M4396,12247l101-9l-117-50l-101,8z"/><path fill="#86cb55" stroke-width="30" d="M3642,12130l101-8l-116-49l-101,8z"/><path fill="#14b0d8" stroke-width="34" d="M6120,12513l101-12l-116-51l-101,12z"/><path fill="#0cbdbc" stroke-width="32" d="M5367,12404l101-11l-117-50l-101,10z"/><path fill="#37c897" stroke-width="32" d="M4613,12289l101-9l-116-51l-101,9z"/><path fill="#72cd63" stroke-width="30" d="M3860,12171l101-8l-117-49l-101,8z"/><path fill="#1babde" stroke-width="34" d="M6338,12551l101-12l-117-50l-101,12z"/><path fill="#02bac5" stroke-width="32" d="M5584,12444l101-10l-116-51l-101,10z"/><path fill="#2fc5a2" stroke-width="32" d="M4831,12330l101-9l-117-51l-101,10z"/><path fill="#60cd73" stroke-width="30" d="M4077,12213l101-8l-116-50l-101,8z"/><path fill="#1fa6e2" stroke-width="34" d="M6556,12590l101-13l-117-51l-101,13z"/><path fill="#a6c83d" stroke-width="30" d="M3324,12098l101-9l-117-47l-101,8z"/><path fill="#04b6cd" stroke-width="32" d="M5802,12485l101-12l-117-50l-101,11z"/><path fill="#26c2ac" stroke-width="32" d="M5048,12372l101-9l-116-51l-101,9z"/><path fill="#4ecc81" stroke-width="32" d="M4295,12255l101-8l-117-51l-101,9z"/><path fill="#22a1e4" stroke-width="34" d="M6773,12627l101-13l-116-51l-101,14z"/><path fill="#94ca4a" stroke-width="30" d="M3541,12138l101-8l-116-49l-101,8z"/><path fill="#0eb2d4" stroke-width="34" d="M6019,12524l101-11l-116-51l-101,11z"/><path fill="#18bfb6" stroke-width="32" d="M5266,12414l101-10l-117-51l-101,10z"/><path fill="#3eca8f" stroke-width="32" d="M4512,12297l101-8l-116-51l-101,9z"/><path fill="#81cc59" stroke-width="30" d="M3759,12180l101-9l-117-49l-101,8z"/><path fill="#17aedb" stroke-width="34" d="M6237,12564l101-13l-117-50l-101,12z"/><path fill="#08bcbf" stroke-width="32" d="M5483,12455l101-11l-116-51l-101,11z"/><path fill="#34c79b" stroke-width="32" d="M4730,12340l101-10l-117-50l-101,9z"/><path fill="#6dcd68" stroke-width="30" d="M3976,12222l101-9l-116-50l-101,8z"/><path fill="#1ca9df" stroke-width="34" d="M6455,12602l101-12l-117-51l-101,12z"/><path fill="#b3c534" stroke-width="30" d="M3223,12106l101-8l-117-48l-101,8z"/><path fill="#01b9c8" stroke-width="32" d="M5701,12496l101-11l-117-51l-101,10z"/><path fill="#2dc4a6" stroke-width="32" d="M4947,12382l101-10l-116-51l-101,9z"/><path fill="#5acc77" stroke-width="32" d="M4194,12264l101-9l-117-50l-101,8z"/><path fill="#20a4e3" stroke-width="34" d="M6672,12640l101-13l-116-50l-101,13z"/><path fill="#a1c840" stroke-width="30" d="M3440,12147l101-9l-116-49l-101,9z"/><path fill="#07b5d0" stroke-width="34" d="M5918,12536l101-12l-116-51l-101,12z"/><path fill="#22c1b0" stroke-width="32" d="M5165,12424l101-10l-117-51l-101,9z"/><path fill="#49cb86" stroke-width="32" d="M4411,12306l101-9l-116-50l-101,8z"/><path fill="#249fe5" stroke-width="34" d="M6890,12678l101-14l-117-50l-101,13z"/><path fill="#8fcb4e" stroke-width="30" d="M3658,12188l101-8l-117-50l-101,8z"/><path fill="#13b1d7" stroke-width="34" d="M6136,12576l101-12l-117-51l-101,11z"/><path fill="#11beb9" stroke-width="32" d="M5382,12466l101-11l-116-51l-101,10z"/><path fill="#3bc993" stroke-width="32" d="M4629,12349l101-9l-117-51l-101,8z"/><path fill="#7bcc5d" stroke-width="32" d="M3875,12230l101-8l-116-51l-101,9z"/><path fill="#1aacdd" stroke-width="34" d="M6354,12615l101-13l-117-51l-101,13z"/><path fill="#bfc32d" stroke-width="30" d="M3122,12115l101-9l-117-48l-101,9z"/><path fill="#03bbc3" stroke-width="34" d="M5600,12507l101-11l-117-52l-101,11z"/><path fill="#32c69f" stroke-width="32" d="M4846,12392l101-10l-116-52l-101,10z"/><path fill="#67cd6d" stroke-width="32" d="M4093,12273l101-9l-117-51l-101,9z"/><path fill="#1ea7e1" stroke-width="34" d="M6571,12653l101-13l-116-50l-101,12z"/><path fill="#aec637" stroke-width="30" d="M3339,12156l101-9l-116-49l-101,8z"/><path fill="#02b7cb" stroke-width="34" d="M5817,12548l101-12l-116-51l-101,11z"/><path fill="#29c3aa" stroke-width="32" d="M5064,12434l101-10l-117-52l-101,10z"/><path fill="#54cc7c" stroke-width="32" d="M4310,12315l101-9l-116-51l-101,9z"/><path fill="#22a2e4" stroke-width="34" d="M6789,12691l101-13l-117-51l-101,13z"/><path fill="#9cc944" stroke-width="32" d="M3557,12197l101-9l-117-50l-101,9z"/><path fill="#0cb3d3" stroke-width="34" d="M6035,12588l101-12l-117-52l-101,12z"/><path fill="#1cc0b4" stroke-width="32" d="M5281,12476l101-10l-116-52l-101,10z"/><path fill="#43ca8a" stroke-width="32" d="M4528,12358l101-9l-117-52l-101,9z"/><path fill="#249de6" stroke-width="34" d="M7006,12728l101-14l-116-50l-101,14z"/><path fill="#89cb53" stroke-width="32" d="M3774,12239l101-9l-116-50l-101,8z"/><path fill="#16afd9" stroke-width="34" d="M6253,12627l101-12l-117-51l-101,12z"/><path fill="#cac129" stroke-width="30" d="M3021,12125l101-10l-117-48l-101,9z"/><path fill="#0abdbd" stroke-width="34" d="M5499,12518l101-11l-117-52l-101,11z"/><path fill="#37c898" stroke-width="32" d="M4745,12401l101-9l-116-52l-101,9z"/><path fill="#74cc62" stroke-width="32" d="M3992,12282l101-9l-117-51l-101,8z"/><path fill="#1caadf" stroke-width="34" d="M6470,12666l101-13l-116-51l-101,13z"/><path fill="#bbc430" stroke-width="30" d="M3238,12165l101-9l-116-50l-101,9z"/><path fill="#01b9c6" stroke-width="34" d="M5716,12559l101-11l-116-52l-101,11z"/><path fill="#2fc5a3" stroke-width="32" d="M4963,12444l101-10l-117-52l-101,10z"/><path fill="#60cd72" stroke-width="32" d="M4209,12324l101-9l-116-51l-101,9z"/><path fill="#20a5e2" stroke-width="34" d="M6688,12705l101-14l-117-51l-101,13z"/><path fill="#a9c73a" stroke-width="32" d="M3456,12206l101-9l-117-50l-101,9z"/><path fill="#05b6ce" stroke-width="34" d="M5934,12600l101-12l-117-52l-101,12z"/><path fill="#25c2ae" stroke-width="32" d="M5180,12486l101-10l-116-52l-101,10z"/><path fill="#4ecc82" stroke-width="32" d="M4427,12368l101-10l-117-52l-101,9z"/><path fill="#23a0e5" stroke-width="34" d="M6905,12742l101-14l-116-50l-101,13z"/><path fill="#96ca48" stroke-width="32" d="M3673,12248l101-9l-116-51l-101,9z"/><path fill="#11b1d6" stroke-width="34" d="M6152,12640l101-13l-117-51l-101,12z"/><path fill="#d4bf28" stroke-width="32" d="M2920,12134l101-9l-117-49l-101,10z"/><path fill="#15bfb7" stroke-width="34" d="M5398,12529l101-11l-117-52l-101,10z"/><path fill="#3eca90" stroke-width="32" d="M4644,12411l101-10l-116-52l-101,9z"/><path fill="#259be8" stroke-width="34" d="M7123,12779l101-14l-117-51l-101,14z"/><path fill="#82cc58" stroke-width="32" d="M3891,12291l101-9l-117-52l-101,9z"/><path fill="#19addc" stroke-width="34" d="M6369,12679l101-13l-116-51l-101,12z"/><path fill="#c6c22a" stroke-width="32" d="M3137,12174l101-9l-116-50l-101,10z"/><path fill="#05bbc1" stroke-width="34" d="M5615,12570l101-11l-116-52l-101,11z"/><path fill="#34c79c" stroke-width="32" d="M4862,12454l101-10l-117-52l-101,9z"/><path fill="#6dcd68" stroke-width="32" d="M4108,12334l101-10l-116-51l-101,9z"/><path fill="#1da8e0" stroke-width="34" d="M6587,12718l101-13l-117-52l-101,13z"/><path fill="#b6c533" stroke-width="32" d="M3355,12215l101-9l-117-50l-101,9z"/><path fill="#01b8ca" stroke-width="34" d="M5833,12611l101-11l-117-52l-101,11z"/><path fill="#2bc3a8" stroke-width="32" d="M5079,12497l101-11l-116-52l-101,10z"/><path fill="#59cc78" stroke-width="32" d="M4326,12377l101-9l-117-53l-101,9z"/><path fill="#21a3e3" stroke-width="34" d="M6804,12756l101-14l-116-51l-101,14z"/><path fill="#a3c83f" stroke-width="32" d="M3572,12257l101-9l-116-51l-101,9z"/><path fill="#0ab4d1" stroke-width="34" d="M6051,12652l101-12l-117-52l-101,12z"/><path fill="#debd29" stroke-width="32" d="M2819,12145l101-11l-117-48l-101,10z"/><path fill="#1fc0b2" stroke-width="34" d="M5297,12539l101-10l-117-53l-101,10z"/><path fill="#47cb87" stroke-width="32" d="M4543,12420l101-9l-116-53l-101,10z"/><path fill="#249ee6" stroke-width="34" d="M7022,12793l101-14l-117-51l-101,14z"/><path fill="#8fcb4e" stroke-width="32" d="M3790,12300l101-9l-117-52l-101,9z"/><path fill="#15afd8" stroke-width="34" d="M6268,12692l101-13l-116-52l-101,13z"/><path fill="#d1bf27" stroke-width="32" d="M3036,12184l101-10l-116-49l-101,9z"/><path fill="#0dbdbb" stroke-width="34" d="M5514,12581l101-11l-116-52l-101,11z"/><path fill="#39c895" stroke-width="32" d="M4761,12464l101-10l-117-53l-101,10z"/><path fill="#2699e9" stroke-width="34" d="M7239,12830l101-14l-116-51l-101,14z"/><path fill="#7acc5e" stroke-width="32" d="M4007,12343l101-9l-116-52l-101,9z"/><path fill="#1babde" stroke-width="34" d="M6486,12731l101-13l-117-52l-101,13z"/><path fill="#c1c32c" stroke-width="32" d="M3254,12225l101-10l-117-50l-101,9z"/><path fill="#02bac5" stroke-width="34" d="M5732,12623l101-12l-117-52l-101,11z"/><path fill="#30c5a1" stroke-width="34" d="M4978,12507l101-10l-116-53l-101,10z"/><path fill="#65cd6e" stroke-width="32" d="M4225,12386l101-9l-117-53l-101,10z"/><path fill="#1fa6e2" stroke-width="34" d="M6703,12770l101-14l-116-51l-101,13z"/><path fill="#afc636" stroke-width="32" d="M3471,12267l101-10l-116-51l-101,9z"/><path fill="#04b6cd" stroke-width="34" d="M5950,12664l101-12l-117-52l-101,11z"/><path fill="#e6bb2d" stroke-width="32" d="M2718,12155l101-10l-117-49l-101,10z"/><path fill="#27c2ac" stroke-width="34" d="M5196,12550l101-11l-117-53l-101,11z"/><path fill="#52cc7e" stroke-width="32" d="M4442,12430l101-10l-116-52l-101,9z"/><path fill="#23a0e5" stroke-width="34" d="M6921,12807l101-14l-117-51l-101,14z"/><path fill="#9cc944" stroke-width="32" d="M3689,12309l101-9l-117-52l-101,9z"/><path fill="#0fb2d5" stroke-width="34" d="M6167,12704l101-12l-116-52l-101,12z"/><path fill="#dabd28" stroke-width="32" d="M2935,12194l101-10l-116-50l-101,11z"/><path fill="#18bfb6" stroke-width="34" d="M5413,12592l101-11l-116-52l-101,10z"/><path fill="#40ca8d" stroke-width="34" d="M4660,12474l101-10l-117-53l-101,9z"/><path fill="#259ce7" stroke-width="34" d="M7138,12845l101-15l-116-51l-101,14z"/><path fill="#87cb54" stroke-width="32" d="M3906,12352l101-9l-116-52l-101,9z"/><path fill="#18addb" stroke-width="34" d="M6385,12744l101-13l-117-52l-101,13z"/><path fill="#ccc028" stroke-width="32" d="M3153,12235l101-10l-117-51l-101,10z"/><path fill="#07bcbf" stroke-width="34" d="M5631,12634l101-11l-117-53l-101,11z"/><path fill="#35c79a" stroke-width="34" d="M4877,12517l101-10l-116-53l-101,10z"/><path fill="#2797eb" d="M7356,12881l101-15l-117-50l-101,14z"/><path fill="#71cd64" stroke-width="32" d="M4124,12396l101-10l-117-52l-101,9z"/><path fill="#1da8e0" stroke-width="34" d="M6602,12783l101-13l-116-52l-101,13z"/><path fill="#bbc42f" stroke-width="32" d="M3370,12277l101-10l-116-52l-101,10z"/><path fill="#01b8c8" stroke-width="34" d="M5849,12676l101-12l-117-53l-101,12z"/><path fill="#edba33" stroke-width="32" d="M2617,12167l101-12l-117-49l-101,12z"/><path fill="#2dc4a6" stroke-width="34" d="M5095,12561l101-11l-117-53l-101,10z"/><path fill="#5dcc75" stroke-width="32" d="M4341,12440l101-10l-116-53l-101,9z"/><path fill="#21a3e3" stroke-width="34" d="M6820,12821l101-14l-117-51l-101,14z"/><path fill="#a8c73b" stroke-width="32" d="M3588,12319l101-10l-117-52l-101,10z"/><path fill="#08b4d1" stroke-width="34" d="M6066,12717l101-13l-116-52l-101,12z"/><path fill="#e2bc2b" stroke-width="32" d="M2834,12205l101-11l-116-49l-101,10z"/><path fill="#21c1b0" stroke-width="34" d="M5312,12603l101-11l-116-53l-101,11z"/><path fill="#4acb85" stroke-width="34" d="M4559,12484l101-10l-117-54l-101,10z"/><path fill="#249ee6" stroke-width="34" d="M7037,12859l101-14l-116-52l-101,14z"/><path fill="#94ca4a" stroke-width="32" d="M3805,12362l101-10l-116-52l-101,9z"/><path fill="#14b0d8" stroke-width="34" d="M6284,12757l101-13l-117-52l-101,12z"/><path fill="#d5be28" stroke-width="32" d="M3052,12246l101-11l-117-51l-101,10z"/><path fill="#0fbeba" stroke-width="34" d="M5530,12646l101-12l-117-53l-101,11z"/><path fill="#3bc993" stroke-width="34" d="M4776,12528l101-11l-116-53l-101,10z"/><path fill="#2699e9" d="M7255,12896l101-15l-117-51l-101,15z"/><path fill="#7ecc5a" stroke-width="32" d="M4023,12406l101-10l-117-53l-101,9z"/><path fill="#1babde" stroke-width="34" d="M6501,12796l101-13l-116-52l-101,13z"/><path fill="#c6c22a" stroke-width="32" d="M3269,12287l101-10l-116-52l-101,10z"/><path fill="#02bac4" stroke-width="34" d="M5748,12688l101-12l-117-53l-101,11z"/><path fill="#f4ba39" stroke-width="32" d="M2516,12179l101-12l-117-49l-101,12z"/><path fill="#31c69f" stroke-width="34" d="M4994,12571l101-10l-117-54l-101,10z"/><path fill="#2994ed" d="M7472,12932l101-15l-116-51l-101,15z"/><path fill="#68cd6b" stroke-width="34" d="M4240,12450l101-10l-116-54l-101,10z"/><path fill="#1fa6e2" stroke-width="34" d="M6719,12835l101-14l-117-51l-101,13z"/><path fill="#b4c534" stroke-width="32" d="M3487,12329l101-10l-117-52l-101,10z"/><path fill="#03b7cc" stroke-width="34" d="M5965,12729l101-12l-116-53l-101,12z"/><path fill="#eabb30" stroke-width="32" d="M2733,12217l101-12l-116-50l-101,12z"/><path fill="#28c3ab" stroke-width="34" d="M5211,12614l101-11l-116-53l-101,11z"/><path fill="#55cc7c" stroke-width="34" d="M4458,12494l101-10l-117-54l-101,10z"/><path fill="#23a1e4" stroke-width="34" d="M6936,12873l101-14l-116-52l-101,14z"/><path fill="#a0c841" stroke-width="34" d="M3704,12372l101-10l-116-53l-101,10z"/><path fill="#0eb2d4" stroke-width="34" d="M6183,12770l101-13l-117-53l-101,13z"/><path fill="#debd29" stroke-width="32" d="M2951,12257l101-11l-117-52l-101,11z"/><path fill="#1abfb5" stroke-width="34" d="M5429,12657l101-11l-117-54l-101,11z"/><path fill="#42ca8b" stroke-width="34" d="M4675,12538l101-10l-116-54l-101,10z"/><path fill="#259ce7" d="M7154,12911l101-15l-117-51l-101,14z"/><path fill="#8bcb51" stroke-width="34" d="M3922,12416l101-10l-117-54l-101,10z"/><path fill="#18aedb" stroke-width="34" d="M6400,12810l101-14l-116-52l-101,13z"/><path fill="#d0c028" stroke-width="34" d="M3168,12298l101-11l-116-52l-101,11z"/><path fill="#08bcbf" stroke-width="34" d="M5647,12700l101-12l-117-54l-101,12z"/><path fill="#f9bb3d" stroke-width="34" d="M2415,12191l101-12l-117-49l-101,12z"/><path fill="#36c899" stroke-width="34" d="M4893,12582l101-11l-117-54l-101,11z"/><path fill="#2797eb" d="M7371,12947l101-15l-116-51l-101,15z"/><path fill="#75cc61" stroke-width="34" d="M4139,12460l101-10l-116-54l-101,10z"/><path fill="#1da9e0" stroke-width="34" d="M6618,12849l101-14l-117-52l-101,13z"/><path fill="#bfc32d" stroke-width="34" d="M3386,12340l101-11l-117-52l-101,10z"/><path fill="#01b9c8" stroke-width="34" d="M5864,12741l101-12l-116-53l-101,12z"/><path fill="#f1ba36" stroke-width="34" d="M2632,12229l101-12l-116-50l-101,12z"/><path fill="#2ec4a5" stroke-width="34" d="M5110,12626l101-12l-116-53l-101,10z"/><path fill="#2b92ee" d="M7589,12983l101-15l-117-51l-101,15z"/><path fill="#60cd73" stroke-width="34" d="M4357,12504l101-10l-117-54l-101,10z"/><path fill="#21a4e3" d="M6835,12887l101-14l-116-52l-101,14z"/><path fill="#acc738" stroke-width="34" d="M3603,12383l101-11l-116-53l-101,10z"/><path fill="#07b5d0" stroke-width="34" d="M6082,12782l101-12l-117-53l-101,12z"/><path fill="#e6bb2d" stroke-width="34" d="M2850,12268l101-11l-117-52l-101,12z"/><path fill="#22c1af" stroke-width="34" d="M5328,12669l101-12l-117-54l-101,11z"/><path fill="#4ccb83" stroke-width="34" d="M4574,12549l101-11l-116-54l-101,10z"/><path fill="#249ee6" d="M7053,12925l101-14l-117-52l-101,14z"/><path fill="#97ca47" stroke-width="34" d="M3821,12426l101-10l-117-54l-101,10z"/><path fill="#13b0d7" stroke-width="34" d="M6299,12823l101-13l-116-53l-101,13z"/><path fill="#d8be28" stroke-width="34" d="M3067,12309l101-11l-116-52l-101,11z"/><path fill="#11beba" stroke-width="34" d="M5546,12711l101-11l-117-54l-101,11z"/><path fill="#fdbd3d" stroke-width="34" d="M2314,12205l101-14l-117-49l-101,13z"/><path fill="#3cc991" stroke-width="34" d="M4792,12593l101-11l-117-54l-101,10z"/><path fill="#2699e9" d="M7270,12962l101-15l-116-51l-101,15z"/><path fill="#81cc58" stroke-width="34" d="M4038,12470l101-10l-116-54l-101,10z"/><path fill="#1aabdd" stroke-width="34" d="M6517,12862l101-13l-117-53l-101,14z"/><path fill="#c9c129" stroke-width="34" d="M3285,12351l101-11l-117-53l-101,11z"/><path fill="#02bbc3" stroke-width="34" d="M5763,12754l101-13l-116-53l-101,12z"/><path fill="#f6ba3c" stroke-width="34" d="M2531,12242l101-13l-116-50l-101,12z"/><path fill="#32c69e" stroke-width="34" d="M5009,12637l101-11l-116-55l-101,11z"/><path fill="#2995ec" d="M7488,12998l101-15l-117-51l-101,15z"/><path fill="#6bcd69" stroke-width="34" d="M4256,12515l101-11l-117-54l-101,10z"/><path fill="#1fa6e1" d="M6734,12901l101-14l-116-52l-101,14z"/><path fill="#b7c532" stroke-width="34" d="M3502,12394l101-11l-116-54l-101,11z"/><path fill="#03b7cc" stroke-width="34" d="M5981,12795l101-13l-117-53l-101,12z"/><path fill="#ecba33" stroke-width="34" d="M2749,12281l101-13l-117-51l-101,12z"/><path fill="#29c3aa" stroke-width="34" d="M5227,12680l101-11l-117-55l-101,12z"/><path fill="#2c90f0" d="M7705,13034l101-16l-116-50l-101,15z"/><path fill="#56cc7a" stroke-width="34" d="M4473,12559l101-10l-116-55l-101,10z"/><path fill="#22a1e4" d="M6952,12940l101-15l-117-52l-101,14z"/><path fill="#a3c83f" stroke-width="34" d="M3720,12437l101-11l-117-54l-101,11z"/><path fill="#0eb3d4" stroke-width="34" d="M6198,12836l101-13l-116-53l-101,12z"/><path fill="#e0bc2b" stroke-width="34" d="M2966,12321l101-12l-116-52l-101,11z"/><path fill="#1bc0b4" stroke-width="34" d="M5445,12723l101-12l-117-54l-101,12z"/><path fill="#fec03b" stroke-width="34" d="M2213,12219l101-14l-117-50l-101,15z"/><path fill="#44cb8a" stroke-width="34" d="M4691,12604l101-11l-117-55l-101,11z"/><path fill="#259ce7" d="M7169,12977l101-15l-116-51l-101,14z"/><path fill="#8dcb4f" stroke-width="34" d="M3937,12481l101-11l-116-54l-101,10z"/><path fill="#17aedb" d="M6416,12876l101-14l-117-52l-101,13z"/><path fill="#d2bf27" stroke-width="34" d="M3184,12362l101-11l-117-53l-101,11z"/><path fill="#09bcbe" stroke-width="34" d="M5662,12766l101-12l-116-54l-101,11z"/><path fill="#fbbc3d" stroke-width="34" d="M2430,12255l101-13l-116-51l-101,14z"/><path fill="#37c898" stroke-width="34" d="M4908,12648l101-11l-116-55l-101,11z"/><path fill="#2797eb" d="M7387,13014l101-16l-117-51l-101,15z"/><path fill="#77cc60" stroke-width="34" d="M4155,12526l101-11l-117-55l-101,10z"/><path fill="#1da9e0" d="M6633,12915l101-14l-116-52l-101,13z"/><path fill="#c1c32c" stroke-width="34" d="M3401,12405l101-11l-116-54l-101,11z"/><path fill="#01b9c7" stroke-width="34" d="M5880,12808l101-13l-117-54l-101,13z"/><path fill="#f2ba38" stroke-width="34" d="M2648,12294l101-13l-117-52l-101,13z"/><path fill="#2ec4a4" stroke-width="34" d="M5126,12692l101-12l-117-54l-101,11z"/><path fill="#2b92ee" d="M7604,13050l101-16l-116-51l-101,15z"/><path fill="#61cd71" stroke-width="34" d="M4372,12570l101-11l-116-55l-101,11z"/><path fill="#21a4e3" d="M6851,12954l101-14l-117-53l-101,14z"/><path fill="#aec637" stroke-width="34" d="M3619,12448l101-11l-117-54l-101,11z"/><path fill="#07b5d0" d="M6097,12849l101-13l-116-54l-101,13z"/><path fill="#e7bb2e" stroke-width="34" d="M2865,12333l101-12l-116-53l-101,13z"/><path fill="#23c1af" stroke-width="34" d="M5344,12735l101-12l-117-54l-101,11z"/><path fill="#2d8df2" d="M7822,13085l101-16l-117-51l-101,16z"/><path fill="#fec338" stroke-width="34" d="M2112,12234l101-15l-117-49l-101,15z"/><path fill="#4dcc82" stroke-width="34" d="M4590,12615l101-11l-117-55l-101,10z"/><path fill="#249ee6" d="M7068,12992l101-15l-116-52l-101,15z"/><path fill="#99c946" stroke-width="34" d="M3836,12492l101-11l-116-55l-101,11z"/><path fill="#13b0d7" d="M6315,12889l101-13l-117-53l-101,13z"/><path fill="#dabd28" stroke-width="34" d="M3083,12374l101-12l-117-53l-101,12z"/><path fill="#11beb9" stroke-width="34" d="M5561,12778l101-12l-116-55l-101,12z"/><path fill="#febe3c" stroke-width="34" d="M2329,12270l101-15l-116-50l-101,14z"/><path fill="#3cc991" stroke-width="34" d="M4807,12659l101-11l-116-55l-101,11z"/><path fill="#2699e9" d="M7286,13029l101-15l-117-52l-101,15z"/><path fill="#83cc57" stroke-width="34" d="M4054,12537l101-11l-117-56l-101,11z"/><path fill="#1aabdd" d="M6532,12929l101-14l-116-53l-101,14z"/><path fill="#cac129" stroke-width="34" d="M3300,12417l101-12l-116-54l-101,11z"/><path fill="#02bbc3" d="M5779,12820l101-12l-117-54l-101,12z"/><path fill="#f8ba3d" stroke-width="34" d="M2547,12307l101-13l-117-52l-101,13z"/><path fill="#32c69e" stroke-width="34" d="M5025,12703l101-11l-117-55l-101,11z"/><path fill="#2995ec" d="M7503,13065l101-15l-116-52l-101,16z"/><path fill="#6ccd69" stroke-width="34" d="M4271,12581l101-11l-116-55l-101,11z"/><path fill="#1fa6e1" d="M6750,12968l101-14l-117-53l-101,14z"/><path fill="#b8c431" stroke-width="34" d="M3518,12460l101-12l-117-54l-101,11z"/><path fill="#03b7cc" d="M5996,12862l101-13l-116-54l-101,13z"/><path fill="#edba34" stroke-width="34" d="M2764,12346l101-13l-116-52l-101,13z"/><path fill="#29c3aa" stroke-width="34" d="M5243,12747l101-12l-117-55l-101,12z"/><path fill="#2c90f0" d="M7721,13101l101-16l-117-51l-101,16z"/><path fill="#fec636" d="M2011,12250l101-16l-117-49l-101,16z"/><path fill="#57cc7a" stroke-width="34" d="M4489,12626l101-11l-117-56l-101,11z"/><path fill="#22a1e4" d="M6967,13007l101-15l-116-52l-101,14z"/><path fill="#a4c83e" stroke-width="34" d="M3735,12504l101-12l-116-55l-101,11z"/><path fill="#0eb3d4" d="M6214,12903l101-14l-117-53l-101,13z"/><path fill="#e1bc2b" stroke-width="34" d="M2982,12387l101-13l-117-53l-101,12z"/><path fill="#1bc0b4" d="M5460,12790l101-12l-116-55l-101,12z"/><path fill="#fec13a" d="M2228,12285l101-15l-116-51l-101,15z"/><path fill="#44cb8a" stroke-width="34" d="M4706,12671l101-12l-116-55l-101,11z"/><path fill="#259ce7" d="M7185,13044l101-15l-117-52l-101,15z"/><path fill="#8ecb4f" stroke-width="34" d="M3953,12548l101-11l-117-56l-101,11z"/><path fill="#17aedb" d="M6431,12943l101-14l-116-53l-101,13z"/><path fill="#d3bf27" stroke-width="34" d="M3199,12429l101-12l-116-55l-101,12z"/><path fill="#09bcbe" d="M5678,12833l101-13l-117-54l-101,12z"/><path fill="#fbbc3d" d="M2446,12322l101-15l-117-52l-101,15z"/><path fill="#37c898" d="M4924,12715l101-12l-117-55l-101,11z"/><path fill="#2797eb" d="M7402,13081l101-16l-116-51l-101,15z"/><path fill="#77cc60" stroke-width="34" d="M4170,12593l101-12l-116-55l-101,11z"/><path fill="#1da9e0" d="M6649,12983l101-15l-117-53l-101,14z"/><path fill="#c1c32c" d="M3417,12472l101-12l-117-55l-101,12z"/><path fill="#01b9c7" d="M5895,12875l101-13l-116-54l-101,12z"/><path fill="#f3ba39" d="M2663,12360l101-14l-116-52l-101,13z"/><path fill="#2ec4a4" d="M5142,12759l101-12l-117-55l-101,11z"/><path fill="#2b92ee" d="M7620,13117l101-16l-117-51l-101,15z"/><path fill="#fec834" d="M1910,12267l101-17l-117-49l-101,17z"/><path fill="#61cd71" d="M4388,12637l101-11l-117-56l-101,11z"/><path fill="#21a4e3" d="M6866,13021l101-14l-116-53l-101,14z"/><path fill="#aec637" d="M3634,12515l101-11l-116-56l-101,12z"/><path fill="#07b5d0" d="M6113,12916l101-13l-117-54l-101,13z"/><path fill="#e8bb2e" d="M2881,12400l101-13l-117-54l-101,13z"/><path fill="#23c1af" d="M5359,12803l101-13l-116-55l-101,12z"/><path fill="#fec338" d="M2127,12301l101-16l-116-51l-101,16z"/><path fill="#4dcc82" d="M4605,12682l101-11l-116-56l-101,11z"/><path fill="#249ee6" d="M7084,13059l101-15l-117-52l-101,15z"/><path fill="#99c946" d="M3852,12560l101-12l-117-56l-101,12z"/><path fill="#13b0d7" d="M6330,12957l101-14l-116-54l-101,14z"/><path fill="#dabd28" d="M3098,12442l101-13l-116-55l-101,13z"/><path fill="#11beb9" d="M5577,12846l101-13l-117-55l-101,12z"/><path fill="#febe3c" d="M2345,12337l101-15l-117-52l-101,15z"/><path fill="#3cc991" d="M4823,12727l101-12l-117-56l-101,12z"/><path fill="#2699e9" d="M7301,13096l101-15l-116-52l-101,15z"/><path fill="#82cc58" d="M4069,12604l101-11l-116-56l-101,11z"/><path fill="#1aabdd" d="M6548,12997l101-14l-117-54l-101,14z"/><path fill="#cac129" d="M3316,12484l101-12l-117-55l-101,12z"/><path fill="#02bbc3" d="M5794,12888l101-13l-116-55l-101,13z"/><path fill="#f8ba3d" d="M2562,12375l101-15l-116-53l-101,15z"/><path fill="#32c69e" d="M5041,12771l101-12l-117-56l-101,12z"/><path fill="#2994ed" d="M7519,13133l101-16l-117-52l-101,16z"/><path fill="#fdcb33" d="M1809,12285l101-18l-117-49l-101,17z"/><path fill="#6bcd69" d="M4287,12649l101-12l-117-56l-101,12z"/><path fill="#1fa6e2" d="M6765,13036l101-15l-116-53l-101,15z"/><path fill="#b8c431" d="M3533,12528l101-13l-116-55l-101,12z"/><path fill="#03b7cc" d="M6012,12930l101-14l-117-54l-101,13z"/><path fill="#edba34" d="M2780,12414l101-14l-117-54l-101,14z"/><path fill="#29c3aa" d="M5258,12815l101-12l-116-56l-101,12z"/><path fill="#fec636" d="M2026,12318l101-17l-116-51l-101,17z"/><path fill="#56cc7b" d="M4504,12694l101-12l-116-56l-101,11z"/><path fill="#23a1e4" d="M6983,13074l101-15l-117-52l-101,14z"/><path fill="#a3c83f" d="M3751,12572l101-12l-117-56l-101,11z"/><path fill="#0eb2d4" d="M6229,12971l101-14l-116-54l-101,13z"/><path fill="#e1bc2b" d="M2997,12455l101-13l-116-55l-101,13z"/><path fill="#1ac0b5" d="M5476,12858l101-12l-117-56l-101,13z"/><path fill="#fec13a" d="M2244,12353l101-16l-117-52l-101,16z"/><path fill="#43ca8a" d="M4722,12739l101-12l-117-56l-101,11z"/><path fill="#259ce7" d="M7200,13112l101-16l-116-52l-101,15z"/><path fill="#8dcb4f" d="M3968,12616l101-12l-116-56l-101,12z"/><path fill="#18aedb" d="M6447,13011l101-14l-117-54l-101,14z"/><path fill="#d2bf27" d="M3215,12497l101-13l-117-55l-101,13z"/><path fill="#08bcbf" d="M5693,12901l101-13l-116-55l-101,13z"/><path fill="#fbbc3d" d="M2461,12390l101-15l-116-53l-101,15z"/><path fill="#36c898" d="M4940,12783l101-12l-117-56l-101,12z"/><path fill="#2797eb" d="M7418,13148l101-15l-117-52l-101,15z"/><path fill="#fdcc32" d="M1708,12304l101-19l-117-50l-101,19z"/><path fill="#76cc61" d="M4186,12661l101-12l-117-56l-101,11z"/><path fill="#1da9e0" d="M6664,13050l101-14l-116-53l-101,14z"/><path fill="#c0c32d" d="M3432,12541l101-13l-116-56l-101,12z"/><path fill="#01b9c8" d="M5911,12943l101-13l-117-55l-101,13z"/><path fill="#f2ba38" d="M2679,12429l101-15l-117-54l-101,15z"/><path fill="#2dc4a5" d="M5157,12827l101-12l-116-56l-101,12z"/><path fill="#fec835" d="M1925,12336l101-18l-116-51l-101,18z"/><path fill="#60cd73" d="M4403,12706l101-12l-116-57l-101,12z"/><path fill="#21a3e3" d="M6882,13089l101-15l-117-53l-101,15z"/><path fill="#adc638" d="M3650,12584l101-12l-117-57l-101,13z"/><path fill="#08b4d0" d="M6128,12984l101-13l-116-55l-101,14z"/><path fill="#e7bb2e" d="M2896,12470l101-15l-116-55l-101,14z"/><path fill="#22c1b0" d="M5375,12871l101-13l-117-55l-101,12z"/><path fill="#fec338" d="M2143,12370l101-17l-117-52l-101,17z"/><path fill="#4bcb83" d="M4621,12751l101-12l-117-57l-101,12z"/><path fill="#249ee6" d="M7099,13127l101-15l-116-53l-101,15z"/><path fill="#97ca48" d="M3867,12629l101-13l-116-56l-101,12z"/><path fill="#14b0d8" d="M6346,13025l101-14l-117-54l-101,14z"/><path fill="#d9be28" d="M3114,12511l101-14l-117-55l-101,13z"/><path fill="#10beba" d="M5592,12914l101-13l-116-55l-101,12z"/><path fill="#fdbd3d" d="M2360,12407l101-17l-116-53l-101,16z"/><path fill="#3bc992" d="M4839,12796l101-13l-117-56l-101,12z"/><path fill="#2699e9" d="M7317,13164l101-16l-117-52l-101,16z"/><path fill="#fdce31" d="M1607,12324l101-20l-117-50l-101,20z"/><path fill="#80cc59" d="M4085,12674l101-13l-117-57l-101,12z"/><path fill="#1babde" d="M6563,13065l101-15l-116-53l-101,14z"/><path fill="#c8c129" d="M3331,12554l101-13l-116-57l-101,13z"/><path fill="#02bac4" d="M5810,12956l101-13l-117-55l-101,13z"/><path fill="#f6ba3c" d="M2578,12445l101-16l-117-54l-101,15z"/><path fill="#31c69f" d="M5056,12840l101-13l-116-56l-101,12z"/><path fill="#feca33" d="M1824,12355l101-19l-116-51l-101,19z"/><path fill="#69cd6b" d="M4302,12719l101-13l-116-57l-101,12z"/><path fill="#1fa6e2" d="M6781,13104l101-15l-117-53l-101,14z"/><path fill="#b6c533" d="M3549,12598l101-14l-117-56l-101,13z"/><path fill="#04b6cd" d="M6027,12998l101-14l-116-54l-101,13z"/><path fill="#ecba32" d="M2795,12485l101-15l-116-56l-101,15z"/><path fill="#28c2ab" d="M5274,12884l101-13l-117-56l-101,12z"/><path fill="#fec537" d="M2042,12388l101-18l-117-52l-101,18z"/><path fill="#54cc7c" d="M4520,12764l101-13l-117-57l-101,12z"/><path fill="#23a0e5" d="M6998,13142l101-15l-116-53l-101,15z"/><path fill="#a1c840" d="M3766,12642l101-13l-116-57l-101,12z"/><path fill="#0fb2d5" d="M6245,13039l101-14l-117-54l-101,13z"/><path fill="#dfbc2a" d="M3013,12526l101-15l-117-56l-101,15z"/><path fill="#19bfb6" d="M5491,12927l101-13l-116-56l-101,13z"/><path fill="#febf3b" d="M2259,12424l101-17l-116-54l-101,17z"/><path fill="#42ca8c" d="M4738,12808l101-12l-117-57l-101,12z"/><path fill="#259be8" d="M7216,13180l101-16l-117-52l-101,15z"/><path fill="#8acb51" d="M3984,12687l101-13l-117-58l-101,13z"/><path fill="#18addb" d="M6462,13079l101-14l-116-54l-101,14z"/><path fill="#d0c028" d="M3230,12568l101-14l-116-57l-101,14z"/><path fill="#07bcc0" d="M5709,12970l101-14l-117-55l-101,13z"/><path fill="#fabb3d" d="M2477,12461l101-16l-117-55l-101,17z"/><path fill="#35c79a" d="M4955,12853l101-13l-116-57l-101,13z"/><path fill="#fdcb33" d="M1723,12375l101-20l-116-51l-101,20z"/><path fill="#73cd63" d="M4201,12731l101-12l-116-58l-101,13z"/><path fill="#1da8e0" d="M6680,13119l101-15l-117-54l-101,15z"/><path fill="#bec32e" d="M3448,12611l101-13l-117-57l-101,13z"/><path fill="#01b8c9" d="M5926,13012l101-14l-116-55l-101,13z"/><path fill="#f0ba36" d="M2694,12500l101-15l-116-56l-101,16z"/><path fill="#2dc4a6" d="M5173,12897l101-13l-117-57l-101,13z"/><path fill="#fec736" d="M1941,12408l101-20l-117-52l-101,19z"/><path fill="#5dcc75" d="M4419,12776l101-12l-117-58l-101,13z"/><path fill="#21a3e3" d="M6897,13158l101-16l-116-53l-101,15z"/><path fill="#aac73a" d="M3665,12655l101-13l-116-58l-101,14z"/><path fill="#09b4d1" d="M6144,13053l101-14l-117-55l-101,14z"/><path fill="#e4bb2c" d="M2912,12541l101-15l-117-56l-101,15z"/><path fill="#20c1b1" d="M5390,12941l101-14l-116-56l-101,13z"/><path fill="#fec13a" d="M2158,12442l101-18l-116-54l-101,18z"/><path fill="#49cb85" d="M4637,12821l101-13l-117-57l-101,13z"/><path fill="#249ee6" d="M7115,13195l101-15l-117-53l-101,15z"/><path fill="#94ca4a" d="M3883,12700l101-13l-117-58l-101,13z"/><path fill="#15afd9" d="M6361,13094l101-15l-116-54l-101,14z"/><path fill="#d6be28" d="M3129,12583l101-15l-116-57l-101,15z"/><path fill="#0ebdbb" d="M5608,12984l101-14l-117-56l-101,13z"/><path fill="#fcbc3d" d="M2376,12479l101-18l-117-54l-101,17z"/><path fill="#3ac994" d="M4854,12866l101-13l-116-57l-101,12z"/><path fill="#7dcc5c" d="M4100,12745l101-14l-116-57l-101,13z"/><path fill="#1baade" d="M6579,13134l101-15l-117-54l-101,14z"/><path fill="#c5c22a" d="M3347,12626l101-15l-117-57l-101,14z"/><path fill="#02bac5" d="M5825,13026l101-14l-116-56l-101,14z"/><path fill="#f4ba39" d="M2593,12517l101-17l-116-55l-101,16z"/><path fill="#30c5a1" d="M5072,12910l101-13l-117-57l-101,13z"/><path fill="#fec835" d="M1840,12428l101-20l-117-53l-101,20z"/><path fill="#66cd6d" d="M4318,12790l101-14l-117-57l-101,12z"/><path fill="#1fa5e2" d="M6796,13173l101-15l-116-54l-101,15z"/><path fill="#b2c635" d="M3564,12669l101-14l-116-57l-101,13z"/><path fill="#05b6ce" d="M6043,13068l101-15l-117-55l-101,14z"/><path fill="#e9bb2f" d="M2811,12557l101-16l-117-56l-101,15z"/><path fill="#26c2ac" d="M5289,12954l101-13l-116-57l-101,13z"/><path fill="#fec338" d="M2057,12461l101-19l-116-54l-101,20z"/><path fill="#51cc7f" d="M4536,12834l101-13l-117-57l-101,12z"/><path fill="#23a0e5" d="M7014,13211l101-16l-117-53l-101,16z"/><path fill="#9dc943" d="M3782,12714l101-14l-117-58l-101,13z"/><path fill="#11b1d6" d="M6260,13109l101-15l-116-55l-101,14z"/><path fill="#dbbd29" d="M3028,12598l101-15l-116-57l-101,15z"/><path fill="#16bfb7" d="M5507,12997l101-13l-117-57l-101,14z"/><path fill="#febd3c" d="M2275,12497l101-18l-117-55l-101,18z"/><path fill="#3fca8e" d="M4753,12879l101-13l-116-58l-101,13z"/><path fill="#86cb55" d="M3999,12758l101-13l-116-58l-101,13z"/><path fill="#19addc" d="M6478,13149l101-15l-117-55l-101,15z"/><path fill="#ccc028" d="M3246,12641l101-15l-117-58l-101,15z"/><path fill="#05bbc1" d="M5724,13040l101-14l-116-56l-101,14z"/><path fill="#f7ba3c" d="M2492,12535l101-18l-116-56l-101,18z"/><path fill="#34c79c" d="M4971,12924l101-14l-117-57l-101,13z"/><path fill="#6fcd66" d="M4217,12803l101-13l-117-59l-101,14z"/><path fill="#1ea7e1" d="M6695,13188l101-15l-116-54l-101,15z"/><path fill="#b9c430" d="M3463,12684l101-15l-116-58l-101,15z"/><path fill="#01b8ca" d="M5942,13082l101-14l-117-56l-101,14z"/><path fill="#edba33" d="M2710,12574l101-17l-117-57l-101,17z"/><path fill="#2bc3a8" d="M5188,12968l101-14l-116-57l-101,13z"/><path fill="#fec437" d="M1956,12481l101-20l-116-53l-101,20z"/><path fill="#59cc78" d="M4435,12848l101-14l-117-58l-101,14z"/><path fill="#22a2e4" d="M6913,13227l101-16l-117-53l-101,15z"/><path fill="#a5c83d" d="M3681,12728l101-14l-117-59l-101,14z"/><path fill="#0bb3d2" d="M6159,13123l101-14l-116-56l-101,15z"/><path fill="#e0bc2b" d="M2927,12614l101-16l-116-57l-101,16z"/><path fill="#1dc0b3" d="M5406,13011l101-14l-117-56l-101,13z"/><path fill="#febf3b" d="M2174,12516l101-19l-117-55l-101,19z"/><path fill="#46cb88" d="M4652,12893l101-14l-116-58l-101,13z"/><path fill="#8fcb4e" d="M3898,12772l101-14l-116-58l-101,14z"/><path fill="#16afd9" d="M6377,13164l101-15l-117-55l-101,15z"/><path fill="#d1bf27" d="M3145,12656l101-15l-117-58l-101,15z"/><path fill="#0bbdbd" d="M5623,13054l101-14l-116-56l-101,13z"/><path fill="#f9bb3d" d="M2391,12553l101-18l-116-56l-101,18z"/><path fill="#38c897" d="M4870,12937l101-13l-117-58l-101,13z"/><path fill="#78cc5f" d="M4116,12817l101-14l-117-58l-101,13z"/><path fill="#1caadf" d="M6594,13203l101-15l-116-54l-101,15z"/><path fill="#c0c32d" d="M3362,12699l101-15l-116-58l-101,15z"/><path fill="#01b9c6" d="M5841,13096l101-14l-117-56l-101,14z"/><path fill="#f0ba36" d="M2609,12591l101-17l-117-57l-101,18z"/><path fill="#2fc5a3" d="M5087,12981l101-13l-116-58l-101,14z"/><path fill="#61cd71" d="M4334,12862l101-14l-117-58l-101,13z"/><path fill="#20a4e3" d="M6812,13242l101-15l-117-54l-101,15z"/><path fill="#acc738" d="M3580,12743l101-15l-117-59l-101,15z"/><path fill="#06b5cf" d="M6058,13138l101-15l-116-55l-101,14z"/><path fill="#e5bb2c" d="M2826,12631l101-17l-116-57l-101,17z"/><path fill="#24c1ae" d="M5305,13025l101-14l-117-57l-101,14z"/><path fill="#fec03b" d="M2073,12536l101-20l-117-55l-101,20z"/><path fill="#4dcc82" d="M4551,12907l101-14l-116-59l-101,14z"/><path fill="#97ca48" d="M3797,12787l101-15l-116-58l-101,14z"/><path fill="#12b1d7" d="M6276,13179l101-15l-117-55l-101,14z"/><path fill="#d6be28" d="M3044,12673l101-17l-117-58l-101,16z"/><path fill="#12beb9" d="M5522,13068l101-14l-116-57l-101,14z"/><path fill="#fbbc3d" d="M2290,12572l101-19l-116-56l-101,19z"/><path fill="#3cc991" d="M4769,12951l101-14l-117-58l-101,14z"/><path fill="#80cc59" d="M4015,12831l101-14l-117-59l-101,14z"/><path fill="#1aacdd" d="M6493,13219l101-16l-116-54l-101,15z"/><path fill="#c6c22a" d="M3261,12715l101-16l-116-58l-101,15z"/><path fill="#03bbc3" d="M5740,13111l101-15l-117-56l-101,14z"/><path fill="#f3ba38" d="M2508,12610l101-19l-117-56l-101,18z"/><path fill="#32c69e" d="M4986,12996l101-15l-116-57l-101,13z"/><path fill="#69cd6b" d="M4233,12876l101-14l-117-59l-101,14z"/><path fill="#1ea7e1" d="M6711,13258l101-16l-117-54l-101,15z"/><path fill="#b3c534" d="M3479,12758l101-15l-117-59l-101,15z"/><path fill="#03b7cc" d="M5957,13153l101-15l-116-56l-101,14z"/><path fill="#e8bb2f" d="M2725,12649l101-18l-116-57l-101,17z"/><path fill="#29c3aa" d="M5204,13039l101-14l-117-57l-101,13z"/><path fill="#55cc7c" d="M4450,12921l101-14l-116-59l-101,14z"/><path fill="#9ec942" d="M3696,12802l101-15l-116-59l-101,15z"/><path fill="#0eb3d4" d="M6175,13194l101-15l-117-56l-101,15z"/><path fill="#dbbd29" d="M2943,12690l101-17l-117-59l-101,17z"/><path fill="#1abfb5" d="M5421,13083l101-15l-116-57l-101,14z"/><path fill="#fcbc3d" d="M2189,12592l101-20l-116-56l-101,20z"/><path fill="#42ca8c" d="M4668,12966l101-15l-117-58l-101,14z"/><path fill="#88cb53" d="M3914,12846l101-15l-117-59l-101,15z"/><path fill="#17aedb" d="M6392,13234l101-15l-116-55l-101,15z"/><path fill="#cbc029" d="M3160,12732l101-17l-116-59l-101,17z"/><path fill="#08bcbf" d="M5639,13125l101-14l-117-57l-101,14z"/><path fill="#f5ba3a" d="M2407,12629l101-19l-117-57l-101,19z"/><path fill="#35c79a" d="M4885,13010l101-14l-116-59l-101,14z"/><path fill="#71cd64" d="M4132,12891l101-15l-117-59l-101,14z"/><path fill="#1da9e0" d="M6610,13273l101-15l-117-55l-101,16z"/><path fill="#b9c430" d="M3378,12774l101-16l-117-59l-101,16z"/><path fill="#01b8c8" d="M5856,13167l101-14l-116-57l-101,15z"/><path fill="#ebba31" d="M2624,12668l101-19l-116-58l-101,19z"/><path fill="#2dc4a6" d="M5103,13054l101-15l-117-58l-101,15z"/><path fill="#5ccc76" d="M4349,12936l101-15l-116-59l-101,14z"/><path fill="#a5c83d" d="M3595,12818l101-16l-116-59l-101,15z"/><path fill="#08b4d1" d="M6074,13209l101-15l-117-56l-101,15z"/><path fill="#debc2a" d="M2842,12708l101-18l-117-59l-101,18z"/><path fill="#20c1b1" d="M5320,13097l101-14l-116-58l-101,14z"/><path fill="#48cb86" d="M4567,12980l101-14l-117-59l-101,14z"/><path fill="#90ca4d" d="M3813,12862l101-16l-117-59l-101,15z"/><path fill="#14b0d8" d="M6291,13249l101-15l-116-55l-101,15z"/><path fill="#d0bf27" d="M3059,12749l101-17l-116-59l-101,17z"/><path fill="#0ebdbb" d="M5538,13140l101-15l-117-57l-101,15z"/><path fill="#f7ba3c" d="M2306,12649l101-20l-117-57l-101,20z"/><path fill="#39c895" d="M4784,13025l101-15l-116-59l-101,15z"/><path fill="#79cc5e" d="M4031,12906l101-15l-117-60l-101,15z"/><path fill="#1babde" d="M6509,13289l101-16l-117-54l-101,15z"/><path fill="#bfc32d" d="M3277,12791l101-17l-117-59l-101,17z"/><path fill="#02bac5" d="M5755,13182l101-15l-116-56l-101,14z"/><path fill="#edba33" d="M2523,12687l101-19l-116-58l-101,19z"/><path fill="#30c5a2" d="M5002,13069l101-15l-117-58l-101,14z"/><path fill="#63cd70" d="M4248,12951l101-15l-116-60l-101,15z"/><path fill="#acc739" d="M3494,12834l101-16l-116-60l-101,16z"/><path fill="#05b6cd" d="M5973,13224l101-15l-117-56l-101,14z"/><path fill="#e2bc2b" d="M2741,12726l101-18l-117-59l-101,19z"/><path fill="#26c2ad" d="M5219,13112l101-15l-116-58l-101,15z"/><path fill="#4fcc81" d="M4466,12995l101-15l-117-59l-101,15z"/><path fill="#96ca48" d="M3712,12878l101-16l-117-60l-101,16z"/><path fill="#10b2d5" d="M6190,13265l101-16l-116-55l-101,15z"/><path fill="#d4bf27" d="M2958,12767l101-18l-116-59l-101,18z"/><path fill="#15bfb7" d="M5437,13155l101-15l-117-57l-101,14z"/><path fill="#3dca90" d="M4683,13040l101-15l-116-59l-101,14z"/><path fill="#80cc59" d="M3930,12922l101-16l-117-60l-101,16z"/><path fill="#19addc" d="M6408,13305l101-16l-117-55l-101,15z"/><path fill="#c3c22b" d="M3176,12809l101-18l-117-59l-101,17z"/><path fill="#05bbc1" d="M5654,13198l101-16l-116-57l-101,15z"/><path fill="#efba35" d="M2422,12707l101-20l-116-58l-101,20z"/><path fill="#33c69d" d="M4901,13084l101-15l-117-59l-101,15z"/><path fill="#69cd6a" d="M4147,12966l101-15l-116-60l-101,15z"/><path fill="#b1c635" d="M3393,12851l101-17l-116-60l-101,17z"/><path fill="#01b7ca" d="M5872,13239l101-15l-117-57l-101,15z"/><path fill="#e4bb2c" d="M2640,12746l101-20l-117-58l-101,19z"/><path fill="#2ac3a9" d="M5118,13127l101-15l-116-58l-101,15z"/><path fill="#55cc7c" d="M4365,13011l101-16l-117-59l-101,15z"/><path fill="#9dc943" d="M3611,12894l101-16l-117-60l-101,16z"/><path fill="#0cb3d3" d="M6089,13280l101-15l-116-56l-101,15z"/><path fill="#d7be28" d="M2857,12786l101-19l-116-59l-101,18z"/><path fill="#1cc0b4" d="M5336,13170l101-15l-117-58l-101,15z"/><path fill="#42ca8b" d="M4582,13055l101-15l-116-60l-101,15z"/><path fill="#87cb54" d="M3829,12938l101-16l-117-60l-101,16z"/><path fill="#16afda" d="M6307,13321l101-16l-117-56l-101,16z"/><path fill="#c7c129" d="M3075,12827l101-18l-117-60l-101,18z"/><path fill="#09bdbe" d="M5553,13213l101-15l-116-58l-101,15z"/><path fill="#36c799" d="M4800,13099l101-15l-117-59l-101,15z"/><path fill="#70cd65" d="M4046,12982l101-16l-116-60l-101,16z"/><path fill="#b6c532" d="M3292,12869l101-18l-116-60l-101,18z"/><path fill="#01b9c7" d="M5771,13255l101-16l-117-57l-101,16z"/><path fill="#e6bb2d" d="M2539,12766l101-20l-117-59l-101,20z"/><path fill="#2dc4a5" d="M5017,13143l101-16l-116-58l-101,15z"/><path fill="#5bcc76" d="M4264,13026l101-15l-117-60l-101,15z"/><path fill="#a2c83f" d="M3510,12912l101-18l-117-60l-101,17z"/><path fill="#07b5d0" d="M5988,13296l101-16l-116-56l-101,15z"/><path fill="#d9bd28" d="M2756,12805l101-19l-116-60l-101,20z"/><path fill="#21c1b0" d="M5235,13186l101-16l-117-58l-101,15z"/><path fill="#48cb86" d="M4481,13071l101-16l-116-60l-101,16z"/><path fill="#8dcb4f" d="M3728,12955l101-17l-117-60l-101,16z"/><path fill="#13b0d7" d="M6206,13337l101-16l-117-56l-101,15z"/><path fill="#cbc129" d="M2974,12846l101-19l-117-60l-101,19z"/><path fill="#0fbeba" d="M5452,13229l101-16l-116-58l-101,15z"/><path fill="#39c895" d="M4699,13115l101-16l-117-59l-101,15z"/><path fill="#76cc60" d="M3945,12999l101-17l-116-60l-101,16z"/><path fill="#bac430" d="M3191,12887l101-18l-116-60l-101,18z"/><path fill="#02bac4" d="M5670,13271l101-16l-117-57l-101,15z"/><path fill="#30c5a1" d="M4916,13158l101-15l-116-59l-101,15z"/><path fill="#61cd71" d="M4163,13043l101-17l-117-60l-101,16z"/><path fill="#a7c73c" d="M3409,12929l101-17l-117-61l-101,18z"/><path fill="#04b6cd" d="M5887,13312l101-16l-116-57l-101,16z"/><path fill="#dbbd29" d="M2655,12826l101-21l-116-59l-101,20z"/><path fill="#26c2ad" d="M5134,13202l101-16l-117-59l-101,16z"/><path fill="#4dcc82" d="M4380,13087l101-16l-116-60l-101,15z"/><path fill="#92ca4b" d="M3627,12972l101-17l-117-61l-101,18z"/><path fill="#0fb2d5" d="M6105,13353l101-16l-117-57l-101,16z"/><path fill="#cdc028" d="M2873,12865l101-19l-117-60l-101,19z"/><path fill="#16bfb7" d="M5351,13244l101-15l-116-59l-101,16z"/><path fill="#3dc990" d="M4598,13131l101-16l-117-60l-101,16z"/><path fill="#7ccc5c" d="M3844,13016l101-17l-116-61l-101,17z"/><path fill="#bdc32e" d="M3090,12906l101-19l-116-60l-101,19z"/><path fill="#05bbc1" d="M5569,13287l101-16l-117-58l-101,16z"/><path fill="#33c69e" d="M4815,13174l101-16l-116-59l-101,16z"/><path fill="#67cd6d" d="M4062,13060l101-17l-117-61l-101,17z"/><path fill="#abc739" d="M3308,12948l101-19l-117-60l-101,18z"/><path fill="#01b8ca" d="M5786,13328l101-16l-116-57l-101,16z"/><path fill="#2ac3a9" d="M5033,13218l101-16l-117-59l-101,15z"/><path fill="#53cc7d" d="M4279,13103l101-16l-116-61l-101,17z"/><path fill="#97ca48" d="M3526,12991l101-19l-117-60l-101,17z"/><path fill="#0bb4d2" d="M6004,13369l101-16l-117-57l-101,16z"/><path fill="#cfc028" d="M2772,12886l101-21l-117-60l-101,21z"/><path fill="#1cc0b4" d="M5250,13260l101-16l-116-58l-101,16z"/><path fill="#41ca8c" d="M4497,13147l101-16l-117-60l-101,16z"/><path fill="#82cc58" d="M3743,13033l101-17l-116-61l-101,17z"/><path fill="#c0c32d" d="M2989,12926l101-20l-116-60l-101,19z"/><path fill="#0abdbe" d="M5468,13303l101-16l-117-58l-101,15z"/><path fill="#35c79a" d="M4714,13191l101-17l-116-59l-101,16z"/><path fill="#6ccd68" d="M3961,13077l101-17l-117-61l-101,17z"/><path fill="#afc637" d="M3207,12967l101-19l-117-61l-101,19z"/><path fill="#01b9c7" d="M5685,13344l101-16l-116-57l-101,16z"/><path fill="#2dc4a6" d="M4932,13234l101-16l-117-60l-101,16z"/><path fill="#58cc79" d="M4178,13120l101-17l-116-60l-101,17z"/><path fill="#9bc944" d="M3425,13009l101-18l-117-62l-101,19z"/><path fill="#07b5cf" d="M5903,13385l101-16l-117-57l-101,16z"/><path fill="#21c1b1" d="M5149,13277l101-17l-116-58l-101,16z"/><path fill="#45cb88" d="M4396,13164l101-17l-117-60l-101,16z"/><path fill="#86cb54" d="M3642,13052l101-19l-116-61l-101,19z"/><path fill="#c2c22c" d="M2888,12947l101-21l-116-61l-101,21z"/><path fill="#0fbebb" d="M5367,13319l101-16l-117-59l-101,16z"/><path fill="#38c896" d="M4613,13207l101-16l-116-60l-101,16z"/><path fill="#71cd64" d="M3860,13095l101-18l-117-61l-101,17z"/><path fill="#b1c635" d="M3106,12987l101-20l-117-61l-101,20z"/><path fill="#02bac4" d="M5584,13361l101-17l-116-57l-101,16z"/><path fill="#2fc5a3" d="M4831,13250l101-16l-117-60l-101,17z"/><path fill="#5dcc75" d="M4077,13138l101-18l-116-60l-101,17z"/><path fill="#9fc942" d="M3324,13029l101-20l-117-61l-101,19z"/><path fill="#04b6cd" d="M5802,13402l101-17l-117-57l-101,16z"/><path fill="#25c2ae" d="M5048,13293l101-16l-116-59l-101,16z"/><path fill="#4acb85" d="M4295,13181l101-17l-117-61l-101,17z"/><path fill="#8bcb51" d="M3541,13071l101-19l-116-61l-101,18z"/><path fill="#15bfb8" d="M5266,13336l101-17l-117-59l-101,17z"/><path fill="#3bc993" d="M4512,13224l101-17l-116-60l-101,17z"/><path fill="#75cc61" d="M3759,13113l101-18l-117-62l-101,19z"/><path fill="#b3c534" d="M3005,13008l101-21l-117-61l-101,21z"/><path fill="#05bbc1" d="M5483,13378l101-17l-116-58l-101,16z"/><path fill="#31c6a0" d="M4730,13268l101-18l-117-59l-101,16z"/><path fill="#61cd72" d="M3976,13156l101-18l-116-61l-101,18z"/><path fill="#a1c840" d="M3223,13049l101-20l-117-62l-101,20z"/><path fill="#01b8ca" d="M5701,13419l101-17l-117-58l-101,17z"/><path fill="#28c3ab" d="M4947,13310l101-17l-116-59l-101,16z"/><path fill="#4ecc81" d="M4194,13199l101-18l-117-61l-101,18z"/><path fill="#8ecb4f" d="M3440,13090l101-19l-116-62l-101,20z"/><path fill="#1abfb5" d="M5165,13353l101-17l-117-59l-101,16z"/><path fill="#3eca90" d="M4411,13242l101-18l-116-60l-101,17z"/><path fill="#79cc5e" d="M3658,13132l101-19l-117-61l-101,19z"/><path fill="#08bcbf" d="M5382,13394l101-16l-116-59l-101,17z"/><path fill="#33c79c" d="M4629,13285l101-17l-117-61l-101,17z"/><path fill="#65cd6e" d="M3875,13175l101-19l-116-61l-101,18z"/><path fill="#a3c83e" d="M3122,13069l101-20l-117-62l-101,21z"/><path fill="#01b9c8" d="M5600,13436l101-17l-117-58l-101,17z"/><path fill="#2bc3a8" d="M4846,13328l101-18l-116-60l-101,18z"/><path fill="#52cc7e" d="M4093,13217l101-18l-117-61l-101,18z"/><path fill="#91ca4d" d="M3339,13110l101-20l-116-61l-101,20z"/><path fill="#1ec0b2" d="M5064,13370l101-17l-117-60l-101,17z"/><path fill="#41ca8c" d="M4310,13260l101-18l-116-61l-101,18z"/><path fill="#7dcc5c" d="M3557,13152l101-20l-117-61l-101,19z"/><path fill="#0cbdbc" d="M5281,13412l101-18l-116-58l-101,17z"/><path fill="#35c79a" d="M4528,13303l101-18l-117-61l-101,18z"/><path fill="#68cd6b" d="M3774,13194l101-19l-116-62l-101,19z"/><path fill="#01bac5" d="M5499,13453l101-17l-117-58l-101,16z"/><path fill="#2dc4a5" d="M4745,13345l101-17l-116-60l-101,17z"/><path fill="#55cc7b" d="M3992,13236l101-19l-117-61l-101,19z"/><path fill="#93ca4b" d="M3238,13131l101-21l-116-61l-101,20z"/><path fill="#22c1b0" d="M4963,13387l101-17l-117-60l-101,18z"/><path fill="#44cb8a" d="M4209,13279l101-19l-116-61l-101,18z"/><path fill="#7fcc5a" d="M3456,13172l101-20l-117-62l-101,20z"/><path fill="#11beb9" d="M5180,13429l101-17l-116-59l-101,17z"/><path fill="#37c897" d="M4427,13321l101-18l-117-61l-101,18z"/><path fill="#6bcd69" d="M3673,13214l101-20l-116-62l-101,20z"/><path fill="#03bbc3" d="M5398,13471l101-18l-117-59l-101,18z"/><path fill="#2fc5a3" d="M4644,13363l101-18l-116-60l-101,18z"/><path fill="#59cc79" d="M3891,13256l101-20l-117-61l-101,19z"/><path fill="#25c2ad" d="M4862,13405l101-18l-117-59l-101,17z"/><path fill="#47cb87" d="M4108,13298l101-19l-116-62l-101,19z"/><path fill="#81cc58" d="M3355,13193l101-21l-117-62l-101,21z"/><path fill="#16bfb7" d="M5079,13447l101-18l-116-59l-101,17z"/><path fill="#39c994" d="M4326,13340l101-19l-117-61l-101,19z"/><path fill="#6ecd67" d="M3572,13234l101-20l-116-62l-101,20z"/><path fill="#06bcc0" d="M5297,13488l101-17l-117-59l-101,17z"/><path fill="#31c6a0" d="M4543,13382l101-19l-116-60l-101,18z"/><path fill="#5bcc76" d="M3790,13275l101-19l-117-62l-101,20z"/><path fill="#28c2ab" d="M4761,13424l101-19l-117-60l-101,18z"/><path fill="#4acb85" d="M4007,13317l101-19l-116-62l-101,20z"/><path fill="#1abfb5" d="M4978,13465l101-18l-116-60l-101,18z"/><path fill="#3bc992" d="M4225,13359l101-19l-117-61l-101,19z"/><path fill="#6fcd66" d="M3471,13255l101-21l-116-62l-101,21z"/><path fill="#09bcbe" d="M5196,13506l101-18l-117-59l-101,18z"/><path fill="#32c69e" d="M4442,13401l101-19l-116-61l-101,19z"/><path fill="#5dcc75" d="M3689,13296l101-21l-117-61l-101,20z"/><path fill="#2ac3a9" d="M4660,13442l101-18l-117-61l-101,19z"/><path fill="#4ccb83" d="M3906,13337l101-20l-116-61l-101,19z"/><path fill="#1dc0b3" d="M4877,13484l101-19l-116-60l-101,19z"/><path fill="#3dc990" d="M4124,13379l101-20l-117-61l-101,19z"/><path fill="#0cbdbc" d="M5095,13525l101-19l-117-59l-101,18z"/><path fill="#34c79c" d="M4341,13420l101-19l-116-61l-101,19z"/><path fill="#5fcd73" d="M3588,13317l101-21l-117-62l-101,21z"/><path fill="#2cc4a7" d="M4559,13462l101-20l-117-60l-101,19z"/><path fill="#4ecc81" d="M3805,13358l101-21l-116-62l-101,21z"/><path fill="#20c1b1" d="M4776,13503l101-19l-116-60l-101,18z"/><path fill="#3fca8e" d="M4023,13399l101-20l-117-62l-101,20z"/><path fill="#0fbeba" d="M4994,13544l101-19l-117-60l-101,19z"/><path fill="#35c79a" d="M4240,13440l101-20l-116-61l-101,20z"/><path fill="#2dc4a5" d="M4458,13481l101-19l-117-61l-101,19z"/><path fill="#4fcc80" d="M3704,13379l101-21l-116-62l-101,21z"/><path fill="#23c1af" d="M4675,13522l101-19l-116-61l-101,20z"/><path fill="#40ca8d" d="M3922,13420l101-21l-117-62l-101,21z"/><path fill="#13beb9" d="M4893,13563l101-19l-117-60l-101,19z"/><path fill="#36c899" d="M4139,13460l101-20l-116-61l-101,20z"/><path fill="#2ec5a4" d="M4357,13501l101-20l-117-61l-101,20z"/><path fill="#25c2ae" d="M4574,13542l101-20l-116-60l-101,19z"/><path fill="#41ca8c" d="M3821,13441l101-21l-117-62l-101,21z"/><path fill="#16bfb7" d="M4792,13582l101-19l-117-60l-101,19z"/><path fill="#37c898" d="M4038,13481l101-21l-116-61l-101,21z"/><path fill="#2fc5a2" d="M4256,13522l101-21l-117-61l-101,20z"/><path fill="#26c2ac" d="M4473,13562l101-20l-116-61l-101,20z"/><path fill="#19bfb6" d="M4691,13602l101-20l-117-60l-101,20z"/><path fill="#37c897" d="M3937,13502l101-21l-116-61l-101,21z"/><path fill="#30c5a1" d="M4155,13542l101-20l-117-62l-101,21z"/><path fill="#28c2ab" d="M4372,13582l101-20l-116-61l-101,21z"/><path fill="#1bc0b4" d="M4590,13622l101-20l-117-60l-101,20z"/><path fill="#31c5a1" d="M4054,13564l101-22l-117-61l-101,21z"/><path fill="#29c3aa" d="M4271,13603l101-21l-116-60l-101,20z"/><path fill="#1cc0b3" d="M4489,13643l101-21l-117-60l-101,20z"/><path fill="#29c3a9" d="M4170,13625l101-22l-116-61l-101,22z"/><path fill="#1ec0b2" d="M4388,13664l101-21l-117-61l-101,21z"/><path fill="#1fc0b2" d="M4287,13686l101-22l-117-61l-101,22z"/></g></g>
<path d="M149,1305.6L149,1075.6M149,1305.6L428.7,1411.3M428.7,1411.3L792.3,1330M149,1305.6L143,1303.3M149,1190.6L143,1188.3M149,1075.6L143,1073.3M405.4,1402.5L399.2,1404.1M288.8,1358.4L282.7,1360.1M172.3,1314.4L166.1,1316M509.5,1393.2L515.3,1395.7M610.5,1370.7L616.3,1373.1M711.5,1348.1L717.3,1350.5" stroke="#5a5a5a" stroke-width="3" fill="none" filter="url(#bl2)"/>
<g filter="url(#bl3)"><text x="105.5" y="1078.4" text-anchor="middle" style="font-family:'Liberation Sans',sans-serif;font-size:26px;fill:#5c5c5c;stroke:#5c5c5c;stroke-width:0.7">200</text><text x="105.5" y="1195.1" text-anchor="middle" style="font-family:'Liberation Sans',sans-serif;font-size:26px;fill:#5c5c5c;stroke:#5c5c5c;stroke-width:0.7">100</text><text x="120.5" y="1310.6" text-anchor="middle" style="font-family:'Liberation Sans',sans-serif;font-size:26px;fill:#5c5c5c;stroke:#5c5c5c;stroke-width:0.7">0</text><text x="142.3" y="1347.6" text-anchor="middle" style="font-family:'Liberation Sans',sans-serif;font-size:26px;fill:#5c5c5c;stroke:#5c5c5c;stroke-width:0.7">1</text><text x="259.8" y="1392" text-anchor="middle" style="font-family:'Liberation Sans',sans-serif;font-size:26px;fill:#5c5c5c;stroke:#5c5c5c;stroke-width:0.7">0</text><text x="371.3" y="1436.2" text-anchor="middle" style="font-family:'Liberation Sans',sans-serif;font-size:26px;fill:#5c5c5c;stroke:#5c5c5c;stroke-width:0.7">-1</text><text x="539.6" y="1430.9" text-anchor="middle" style="font-family:'Liberation Sans',sans-serif;font-size:26px;fill:#5c5c5c;stroke:#5c5c5c;stroke-width:0.7">-1</text><text x="637.3" y="1407.7" text-anchor="middle" style="font-family:'Liberation Sans',sans-serif;font-size:26px;fill:#5c5c5c;stroke:#5c5c5c;stroke-width:0.7">0</text><text x="741.7" y="1385.7" text-anchor="middle" style="font-family:'Liberation Sans',sans-serif;font-size:26px;fill:#5c5c5c;stroke:#5c5c5c;stroke-width:0.7">1</text><text x="647" y="1448" text-anchor="middle" textLength="86" lengthAdjust="spacingAndGlyphs" style="font-family:'Liberation Serif',serif;fill:#0a0a0a;stroke:#0a0a0a;paint-order:stroke;stroke-width:0.7;font-size:43px">x(/m)</text><text x="279" y="1433.2" text-anchor="middle" textLength="86" lengthAdjust="spacingAndGlyphs" style="font-family:'Liberation Serif',serif;fill:#0a0a0a;stroke:#0a0a0a;paint-order:stroke;stroke-width:0.7;font-size:43px">y(/m)</text><text transform="translate(55.5,1359) rotate(-90)" x="0" y="0" textLength="166.5" lengthAdjust="spacingAndGlyphs" style="font-family:'Liberation Serif',serif;fill:#0a0a0a;stroke:#0a0a0a;paint-order:stroke;stroke-width:1.0;font-size:41px">Illuminance</text><text transform="translate(55.5,1174.4) rotate(-90)" x="0" y="0" textLength="109.9" lengthAdjust="spacingAndGlyphs" style="font-family:'Liberation Serif',serif;fill:#0a0a0a;stroke:#0a0a0a;paint-order:stroke;stroke-width:1.0;font-size:41px">(/LUX)</text><text y="1116.7" style="font-family:'Liberation Serif',serif;fill:#0a0a0a;stroke:#0a0a0a;paint-order:stroke;stroke-width:0.9;font-size:40px"><tspan x="301.8" textLength="47" lengthAdjust="spacingAndGlyphs">(E)</tspan><tspan x="366.5" textLength="71" lengthAdjust="spacingAndGlyphs">Blue</tspan><tspan x="457.8" textLength="72.3" lengthAdjust="spacingAndGlyphs">light</tspan><tspan x="544" textLength="108.6" lengthAdjust="spacingAndGlyphs">LED_1</tspan></text></g>
</g>
<g id="panelF">
<path d="M1356.8,1392.6L1077.1,1286.9M1077.1,1286.9L1077.1,1056.9M1457.8,1370.1L1178.1,1264.4M1178.1,1264.4L1178.1,1034.4M1558.8,1347.5L1279.1,1241.8M1279.1,1241.8L1279.1,1011.8M1252.7,1401.9L1616.3,1320.6M1616.3,1320.6L1616.3,1090.6M1136.1,1357.8L1499.7,1276.6M1499.7,1276.6L1499.7,1046.6M1019.6,1313.8L1383.2,1232.5M1383.2,1232.5L1383.2,1002.5M996.3,1305L1359.9,1223.7M1359.9,1223.7L1639.6,1329.4M996.3,1190L1359.9,1108.7M1359.9,1108.7L1639.6,1214.4M996.3,1075L1359.9,993.7M1359.9,993.7L1639.6,1099.4" stroke="#e9e9e9" stroke-width="2.6" fill="none" filter="url(#bl2)"/>
<g filter="url(#bl)"><g transform="scale(.1)" stroke="#000" stroke-width="36" stroke-linejoin="round"><path fill="#fec03a" d="M13615,11515l101-26l-117-50l-101,26z"/><path fill="#febf3b" d="M13514,11541l101-26l-117-50l-101,26z"/><path fill="#febe3c" d="M13731,11566l101-25l-116-52l-101,26z"/><path fill="#febe3c" d="M13413,11568l101-27l-117-50l-101,27z"/><path fill="#fdbd3d" d="M13630,11592l101-26l-116-51l-101,26z"/><path fill="#fbbc3d" d="M13848,11618l101-25l-117-52l-101,25z"/><path fill="#fcbc3d" d="M13312,11597l101-29l-117-50l-101,29z"/><path fill="#fbbc3d" d="M13529,11619l101-27l-116-51l-101,27z"/><path fill="#fabb3d" d="M13747,11645l101-27l-117-52l-101,26z"/><path fill="#f8ba3d" d="M13964,11672l101-25l-116-54l-101,25z"/><path fill="#fabb3d" d="M13211,11626l101-29l-117-50l-101,29z"/><path fill="#fabb3d" d="M13428,11648l101-29l-116-51l-101,29z"/><path fill="#f9ba3d" d="M13646,11672l101-27l-117-53l-101,27z"/><path fill="#f6ba3b" d="M13863,11698l101-26l-116-54l-101,27z"/><path fill="#f6ba3c" d="M13110,11656l101-30l-117-50l-101,30z"/><path fill="#f2ba38" d="M14081,11727l101-25l-117-55l-101,25z"/><path fill="#f7ba3c" d="M13327,11677l101-29l-116-51l-101,29z"/><path fill="#f6ba3b" d="M13545,11700l101-28l-117-53l-101,29z"/><path fill="#f4ba39" d="M13762,11726l101-28l-116-53l-101,27z"/><path fill="#f2ba38" d="M13009,11687l101-31l-117-50l-101,32z"/><path fill="#f0ba36" d="M13980,11753l101-26l-117-55l-101,26z"/><path fill="#f3ba39" d="M13226,11707l101-30l-116-51l-101,30z"/><path fill="#ebba32" d="M14197,11784l101-25l-116-57l-101,25z"/><path fill="#f3ba38" d="M13444,11729l101-29l-117-52l-101,29z"/><path fill="#f1ba37" d="M13661,11754l101-28l-116-54l-101,28z"/><path fill="#edba33" d="M12908,11719l101-32l-117-49l-101,32z"/><path fill="#eeba34" d="M13879,11780l101-27l-117-55l-101,28z"/><path fill="#efba35" d="M13125,11738l101-31l-116-51l-101,31z"/><path fill="#eabb30" d="M14096,11810l101-26l-116-57l-101,26z"/><path fill="#efba35" d="M13343,11759l101-30l-117-52l-101,30z"/><path fill="#e4bb2c" d="M14314,11841l101-25l-117-57l-101,25z"/><path fill="#eeba34" d="M13560,11783l101-29l-116-54l-101,29z"/><path fill="#e7bb2e" d="M12807,11752l101-33l-117-49l-101,32z"/><path fill="#ebba32" d="M13778,11808l101-28l-117-54l-101,28z"/><path fill="#e9bb30" d="M13024,11770l101-32l-116-51l-101,32z"/><path fill="#e7bb2e" d="M13995,11837l101-27l-116-57l-101,27z"/><path fill="#eaba31" d="M13242,11790l101-31l-117-52l-101,31z"/><path fill="#e2bc2b" d="M14213,11867l101-26l-117-57l-101,26z"/><path fill="#eabb30" d="M13459,11812l101-29l-116-54l-101,30z"/><path fill="#e1bc2b" d="M12706,11785l101-33l-117-50l-101,34z"/><path fill="#dbbd28" d="M14430,11899l101-25l-116-58l-101,25z"/><path fill="#e8bb2f" d="M13677,11837l101-29l-117-54l-101,29z"/><path fill="#e4bb2c" d="M12923,11802l101-32l-116-51l-101,33z"/><path fill="#e4bb2c" d="M13894,11864l101-27l-116-57l-101,28z"/><path fill="#e5bb2d" d="M13141,11821l101-31l-117-52l-101,32z"/><path fill="#dfbc2a" d="M14112,11894l101-27l-117-57l-101,27z"/><path fill="#e5bb2d" d="M13358,11843l101-31l-116-53l-101,31z"/><path fill="#d9be28" d="M12605,11819l101-34l-117-49l-101,34z"/><path fill="#d9be28" d="M14329,11925l101-26l-116-58l-101,26z"/><path fill="#e4bb2c" d="M13576,11867l101-30l-117-54l-101,29z"/><path fill="#ddbd29" d="M12822,11835l101-33l-116-50l-101,33z"/><path fill="#d0bf27" d="M14547,11958l101-25l-117-59l-101,25z"/><path fill="#e1bc2b" d="M13793,11893l101-29l-116-56l-101,29z"/><path fill="#dfbc2a" d="M13040,11854l101-33l-117-51l-101,32z"/><path fill="#dcbd29" d="M14011,11921l101-27l-117-57l-101,27z"/><path fill="#e0bc2a" d="M13257,11874l101-31l-116-53l-101,31z"/><path fill="#d1bf27" d="M12504,11854l101-35l-117-49l-101,35z"/><path fill="#d6be28" d="M14228,11952l101-27l-116-58l-101,27z"/><path fill="#dfbc2a" d="M13475,11897l101-30l-117-55l-101,31z"/><path fill="#d5be28" d="M12721,11869l101-34l-116-50l-101,34z"/><path fill="#cec028" d="M14446,11984l101-26l-117-59l-101,26z"/><path fill="#dcbd29" d="M13692,11923l101-30l-116-56l-101,30z"/><path fill="#d8be28" d="M12939,11887l101-33l-117-52l-101,33z"/><path fill="#c5c22a" d="M14663,12018l101-25l-116-60l-101,25z"/><path fill="#d8be28" d="M13910,11950l101-29l-117-57l-101,29z"/><path fill="#d9bd28" d="M13156,11907l101-33l-116-53l-101,33z"/><path fill="#c7c129" d="M12403,11889l101-35l-117-49l-101,35z"/><path fill="#d3bf27" d="M14127,11979l101-27l-116-58l-101,27z"/><path fill="#d9be28" d="M13374,11929l101-32l-117-54l-101,31z"/><path fill="#cdc028" d="M12620,11904l101-35l-116-50l-101,35z"/><path fill="#ccc028" d="M14345,12010l101-26l-117-59l-101,27z"/><path fill="#d7be28" d="M13591,11953l101-30l-116-56l-101,30z"/><path fill="#d0bf27" d="M12838,11921l101-34l-117-52l-101,34z"/><path fill="#c3c22b" d="M14562,12044l101-26l-116-60l-101,26z"/><path fill="#d4bf28" d="M13809,11979l101-29l-117-57l-101,30z"/><path fill="#d2bf27" d="M13055,11940l101-33l-116-53l-101,33z"/><path fill="#bdc32e" d="M12302,11925l101-36l-117-49l-101,36z"/><path fill="#b8c431" d="M14780,12079l101-25l-117-61l-101,25z"/><path fill="#cfc028" d="M14026,12007l101-28l-116-58l-101,29z"/><path fill="#d3bf27" d="M13273,11961l101-32l-117-55l-101,33z"/><path fill="#c3c22b" d="M12519,11939l101-35l-116-50l-101,35z"/><path fill="#c8c129" d="M14244,12038l101-28l-117-58l-101,27z"/><path fill="#d2bf27" d="M13490,11984l101-31l-116-56l-101,32z"/><path fill="#c8c129" d="M12737,11955l101-34l-117-52l-101,35z"/><path fill="#c0c32d" d="M14461,12070l101-26l-116-60l-101,26z"/><path fill="#cfc028" d="M13708,12009l101-30l-117-56l-101,30z"/><path fill="#cac129" d="M12954,11973l101-33l-116-53l-101,34z"/><path fill="#b2c635" d="M12201,11961l101-36l-117-49l-101,36z"/><path fill="#b5c533" d="M14679,12104l101-25l-117-61l-101,26z"/><path fill="#cac129" d="M13925,12037l101-30l-116-57l-101,29z"/><path fill="#cbc029" d="M13172,11993l101-32l-117-54l-101,33z"/><path fill="#b9c431" d="M12418,11974l101-35l-116-50l-101,36z"/><path fill="#a9c73a" d="M14896,12140l101-25l-116-61l-101,25z"/><path fill="#c4c22b" d="M14143,12066l101-28l-117-59l-101,28z"/><path fill="#cbc129" d="M13389,12016l101-32l-116-55l-101,32z"/><path fill="#bec32e" d="M12636,11990l101-35l-117-51l-101,35z"/><path fill="#bcc42f" d="M14360,12097l101-27l-116-60l-101,28z"/><path fill="#c9c129" d="M13607,12040l101-31l-117-56l-101,31z"/><path fill="#c1c32c" d="M12853,12007l101-34l-116-52l-101,34z"/><path fill="#a6c83d" d="M12100,11997l101-36l-117-49l-101,37z"/><path fill="#b3c534" d="M14578,12130l101-26l-117-60l-101,26z"/><path fill="#c5c22a" d="M13824,12066l101-29l-116-58l-101,30z"/><path fill="#c3c22b" d="M13071,12027l101-34l-117-53l-101,33z"/><path fill="#aec637" d="M12317,12010l101-36l-116-49l-101,36z"/><path fill="#a7c73c" d="M14795,12165l101-25l-116-61l-101,25z"/><path fill="#bfc32d" d="M14042,12095l101-29l-117-59l-101,30z"/><path fill="#c3c22b" d="M13288,12048l101-32l-116-55l-101,32z"/><path fill="#b4c534" d="M12535,12025l101-35l-117-51l-101,35z"/><path fill="#9ac945" d="M15013,12201l101-25l-117-61l-101,25z"/><path fill="#b8c431" d="M14259,12125l101-28l-116-59l-101,28z"/><path fill="#c2c22c" d="M13506,12072l101-32l-117-56l-101,32z"/><path fill="#b8c431" d="M12752,12042l101-35l-116-52l-101,35z"/><path fill="#99c946" d="M11999,12034l101-37l-117-48l-101,37z"/><path fill="#afc637" d="M14477,12157l101-27l-117-60l-101,27z"/><path fill="#bfc32e" d="M13723,12097l101-31l-116-57l-101,31z"/><path fill="#bac430" d="M12970,12060l101-33l-117-54l-101,34z"/><path fill="#a2c840" d="M12216,12047l101-37l-116-49l-101,36z"/><path fill="#a4c83e" d="M14694,12191l101-26l-116-61l-101,26z"/><path fill="#bac430" d="M13941,12125l101-30l-117-58l-101,29z"/><path fill="#bbc42f" d="M13187,12081l101-33l-116-55l-101,34z"/><path fill="#a8c73b" d="M12434,12061l101-36l-117-51l-101,36z"/><path fill="#98c947" d="M14912,12226l101-25l-117-61l-101,25z"/><path fill="#b3c534" d="M14158,12154l101-29l-116-59l-101,29z"/><path fill="#bac430" d="M13405,12104l101-32l-117-56l-101,32z"/><path fill="#adc638" d="M12651,12077l101-35l-116-52l-101,35z"/><path fill="#8acb52" d="M15130,12263l101-25l-117-62l-101,25z"/><path fill="#8ccb50" d="M11898,12071l101-37l-117-48l-101,37z"/><path fill="#abc739" d="M14376,12185l101-28l-117-60l-101,28z"/><path fill="#b8c431" d="M13622,12128l101-31l-116-57l-101,32z"/><path fill="#b0c636" d="M12869,12095l101-35l-117-53l-101,35z"/><path fill="#95ca49" d="M12115,12083l101-36l-116-50l-101,37z"/><path fill="#a1c840" d="M14593,12218l101-27l-116-61l-101,27z"/><path fill="#b4c534" d="M13840,12155l101-30l-117-59l-101,31z"/><path fill="#b2c635" d="M13086,12115l101-34l-116-54l-101,33z"/><path fill="#9cc943" d="M12333,12097l101-36l-117-51l-101,37z"/><path fill="#95ca49" d="M14811,12252l101-26l-117-61l-101,26z"/><path fill="#aec637" d="M14057,12183l101-29l-116-59l-101,30z"/><path fill="#b2c635" d="M13304,12137l101-33l-117-56l-101,33z"/><path fill="#a2c83f" d="M12550,12112l101-35l-116-52l-101,36z"/><path fill="#88cb53" d="M15029,12288l101-25l-117-62l-101,25z"/><path fill="#7ecc5a" d="M11797,12109l101-38l-117-48l-101,38z"/><path fill="#a6c83d" d="M14275,12214l101-29l-117-60l-101,29z"/><path fill="#b0c636" d="M13521,12160l101-32l-116-56l-101,32z"/><path fill="#a6c83d" d="M12768,12130l101-35l-117-53l-101,35z"/><path fill="#79cc5e" d="M15246,12325l101-25l-116-62l-101,25z"/><path fill="#88cb53" d="M12014,12120l101-37l-116-49l-101,37z"/><path fill="#9dc943" d="M14492,12245l101-27l-116-61l-101,28z"/><path fill="#adc738" d="M13739,12186l101-31l-117-58l-101,31z"/><path fill="#a8c73b" d="M12985,12149l101-34l-116-55l-101,35z"/><path fill="#90ca4d" d="M12232,12133l101-36l-117-50l-101,36z"/><path fill="#92ca4c" d="M14710,12279l101-27l-117-61l-101,27z"/><path fill="#a7c73c" d="M13956,12213l101-30l-116-58l-101,30z"/><path fill="#a9c73b" d="M13203,12170l101-33l-117-56l-101,34z"/><path fill="#96ca48" d="M12449,12148l101-36l-116-51l-101,36z"/><path fill="#85cb55" d="M14928,12314l101-26l-117-62l-101,26z"/><path fill="#70cd65" d="M11696,12146l101-37l-117-48l-101,37z"/><path fill="#a0c841" d="M14174,12243l101-29l-117-60l-101,29z"/><path fill="#a8c73b" d="M13420,12193l101-33l-116-56l-101,33z"/><path fill="#9bc945" d="M12667,12165l101-35l-117-53l-101,35z"/><path fill="#77cc60" d="M15145,12350l101-25l-116-62l-101,25z"/><path fill="#7acc5d" d="M11913,12157l101-37l-116-49l-101,38z"/><path fill="#98ca47" d="M14391,12274l101-29l-116-60l-101,29z"/><path fill="#a5c83d" d="M13638,12218l101-32l-117-58l-101,32z"/><path fill="#9ec942" d="M12884,12183l101-34l-116-54l-101,35z"/><path fill="#68cd6b" d="M15363,12387l101-24l-117-63l-101,25z"/><path fill="#83cc57" d="M12131,12170l101-37l-117-50l-101,37z"/><path fill="#8dcb4f" d="M14609,12306l101-27l-117-61l-101,27z"/><path fill="#a0c841" d="M13855,12244l101-31l-116-58l-101,31z"/><path fill="#9fc942" d="M13102,12204l101-34l-117-55l-101,34z"/><path fill="#8acb52" d="M12348,12185l101-37l-116-51l-101,36z"/><path fill="#82cc58" d="M14827,12340l101-26l-117-62l-101,27z"/><path fill="#63cd70" d="M11595,12184l101-38l-117-48l-101,38z"/><path fill="#9ac945" d="M14073,12273l101-30l-117-60l-101,30z"/><path fill="#9ec942" d="M13319,12226l101-33l-116-56l-101,33z"/><path fill="#8fcb4e" d="M12566,12201l101-36l-117-53l-101,36z"/><path fill="#74cc62" d="M15044,12375l101-25l-116-62l-101,26z"/><path fill="#6dcd68" d="M11812,12195l101-38l-116-48l-101,37z"/><path fill="#92ca4b" d="M14290,12303l101-29l-116-60l-101,29z"/><path fill="#9cc944" d="M13537,12250l101-32l-117-58l-101,33z"/><path fill="#92ca4b" d="M12783,12218l101-35l-116-53l-101,35z"/><path fill="#67cd6d" d="M15262,12412l101-25l-117-62l-101,25z"/><path fill="#75cc61" d="M12030,12207l101-37l-117-50l-101,37z"/><path fill="#89cb53" d="M14508,12334l101-28l-117-61l-101,29z"/><path fill="#98c946" d="M13754,12276l101-32l-116-58l-101,32z"/><path fill="#94ca4a" d="M13001,12238l101-34l-117-55l-101,34z"/><path fill="#59cc78" d="M15479,12449l101-24l-116-62l-101,24z"/><path fill="#7dcc5c" d="M12247,12221l101-36l-116-52l-101,37z"/><path fill="#7ecc5b" d="M14726,12367l101-27l-117-61l-101,27z"/><path fill="#57cc7a" d="M11494,12221l101-37l-117-48l-101,38z"/><path fill="#93ca4b" d="M13972,12303l101-30l-117-60l-101,31z"/><path fill="#95ca49" d="M13218,12259l101-33l-116-56l-101,34z"/><path fill="#82cc57" d="M12465,12237l101-36l-117-53l-101,37z"/><path fill="#71cd64" d="M14943,12402l101-27l-116-61l-101,26z"/><path fill="#60cd73" d="M11711,12232l101-37l-116-49l-101,38z"/><path fill="#8ccb50" d="M14189,12332l101-29l-116-60l-101,30z"/><path fill="#93ca4b" d="M13436,12282l101-32l-117-57l-101,33z"/><path fill="#87cb54" d="M12682,12254l101-36l-116-53l-101,36z"/><path fill="#64cd6f" d="M15161,12437l101-25l-117-62l-101,25z"/><path fill="#68cd6c" d="M11929,12244l101-37l-117-50l-101,38z"/><path fill="#83cc57" d="M14407,12363l101-29l-117-60l-101,29z"/><path fill="#90ca4d" d="M13653,12307l101-31l-116-58l-101,32z"/><path fill="#89cb52" d="M12900,12273l101-35l-117-55l-101,35z"/><path fill="#58cc79" d="M15378,12474l101-25l-116-62l-101,25z"/><path fill="#6fcd66" d="M12146,12258l101-37l-116-51l-101,37z"/><path fill="#79cc5f" d="M14625,12395l101-28l-117-61l-101,28z"/><path fill="#4acb84" d="M11393,12259l101-38l-117-47l-101,38z"/><path fill="#8bcb51" d="M13871,12334l101-31l-117-59l-101,32z"/><path fill="#8acb51" d="M13117,12293l101-34l-116-55l-101,34z"/><path fill="#4acb84" d="M15596,12512l101-25l-117-62l-101,24z"/><path fill="#75cc61" d="M12364,12273l101-36l-117-52l-101,36z"/><path fill="#6dcd67" d="M14842,12429l101-27l-116-62l-101,27z"/><path fill="#53cc7d" d="M11610,12269l101-37l-116-48l-101,37z"/><path fill="#85cb55" d="M14088,12362l101-30l-116-59l-101,30z"/><path fill="#89cb52" d="M13335,12316l101-34l-117-56l-101,33z"/><path fill="#7acc5d" d="M12581,12289l101-35l-116-53l-101,36z"/><path fill="#61cd71" d="M15060,12464l101-27l-117-62l-101,27z"/><path fill="#5ccc76" d="M11828,12281l101-37l-117-49l-101,37z"/><path fill="#7dcc5b" d="M14306,12392l101-29l-117-60l-101,29z"/><path fill="#87cb54" d="M13552,12340l101-33l-116-57l-101,32z"/><path fill="#7ecc5b" d="M12799,12308l101-35l-117-55l-101,36z"/><path fill="#55cc7b" d="M15277,12499l101-25l-116-62l-101,25z"/><path fill="#63cd70" d="M12045,12295l101-37l-116-51l-101,37z"/><path fill="#73cd62" d="M14524,12424l101-29l-117-61l-101,29z"/><path fill="#40ca8d" d="M11292,12296l101-37l-117-47l-101,37z"/><path fill="#83cc57" d="M13770,12366l101-32l-117-58l-101,31z"/><path fill="#7fcc5a" d="M13016,12328l101-35l-116-55l-101,35z"/><path fill="#49cb85" d="M15495,12536l101-24l-117-63l-101,25z"/><path fill="#69cd6b" d="M12263,12309l101-36l-117-52l-101,37z"/><path fill="#69cd6b" d="M14741,12456l101-27l-116-62l-101,28z"/><path fill="#48cb86" d="M11509,12307l101-38l-116-48l-101,38z"/><path fill="#7dcc5b" d="M13987,12393l101-31l-116-59l-101,31z"/><path fill="#7fcc5a" d="M13234,12349l101-33l-117-57l-101,34z"/><path fill="#3eca8f" d="M15712,12574l101-24l-116-63l-101,25z"/><path fill="#6ecd67" d="M12480,12325l101-36l-116-52l-101,36z"/><path fill="#5ecd74" d="M14959,12490l101-26l-117-62l-101,27z"/><path fill="#50cc80" d="M11727,12319l101-38l-117-49l-101,37z"/><path fill="#76cc60" d="M14205,12422l101-30l-117-60l-101,30z"/><path fill="#7ecc5b" d="M13451,12373l101-33l-116-58l-101,34z"/><path fill="#71cd64" d="M12698,12343l101-35l-117-54l-101,35z"/><path fill="#53cc7d" d="M15176,12525l101-26l-116-62l-101,27z"/><path fill="#57cc7a" d="M11944,12332l101-37l-116-51l-101,37z"/><path fill="#6ecd67" d="M14423,12453l101-29l-117-61l-101,29z"/><path fill="#38c896" d="M11191,12334l101-38l-117-47l-101,38z"/><path fill="#7acc5d" d="M13669,12398l101-32l-117-59l-101,33z"/><path fill="#74cd62" d="M12915,12362l101-34l-116-55l-101,35z"/><path fill="#47cb87" d="M15394,12561l101-25l-117-62l-101,25z"/><path fill="#5dcc75" d="M12162,12346l101-37l-117-51l-101,37z"/><path fill="#64cd6f" d="M14640,12485l101-29l-116-61l-101,29z"/><path fill="#3eca90" d="M11408,12344l101-37l-116-48l-101,37z"/><path fill="#75cc61" d="M13886,12424l101-31l-116-59l-101,32z"/><path fill="#74cc62" d="M13133,12383l101-34l-117-56l-101,35z"/><path fill="#3dc990" d="M15611,12598l101-24l-116-62l-101,24z"/><path fill="#62cd70" d="M12379,12361l101-36l-116-52l-101,36z"/><path fill="#5acc77" d="M14858,12518l101-28l-117-61l-101,27z"/><path fill="#44cb89" d="M11626,12356l101-37l-117-50l-101,38z"/><path fill="#6fcd66" d="M14104,12453l101-31l-117-60l-101,31z"/><path fill="#73cd62" d="M13350,12406l101-33l-116-57l-101,33z"/><path fill="#35c79a" d="M15829,12636l101-24l-117-62l-101,24z"/><path fill="#66cd6d" d="M12597,12379l101-36l-117-54l-101,36z"/><path fill="#50cc80" d="M15075,12552l101-27l-116-61l-101,26z"/><path fill="#4bcb84" d="M11843,12369l101-37l-116-51l-101,38z"/><path fill="#67cd6c" d="M14322,12482l101-29l-117-61l-101,30z"/><path fill="#32c69e" d="M11090,12371l101-37l-117-47l-101,38z"/><path fill="#71cd64" d="M13568,12430l101-32l-117-58l-101,33z"/><path fill="#68cd6b" d="M12814,12397l101-35l-116-54l-101,35z"/><path fill="#45cb89" d="M15293,12587l101-26l-117-62l-101,26z"/><path fill="#51cc7e" d="M12061,12382l101-36l-117-51l-101,37z"/><path fill="#5fcd73" d="M14539,12513l101-28l-116-61l-101,29z"/><path fill="#36c898" d="M11307,12382l101-38l-116-48l-101,38z"/><path fill="#6dcd68" d="M13785,12456l101-32l-116-58l-101,32z"/><path fill="#6acd6a" d="M13032,12418l101-35l-117-55l-101,34z"/><path fill="#3cc992" d="M15510,12623l101-25l-116-62l-101,25z"/><path fill="#57cc7a" d="M12278,12398l101-37l-116-52l-101,37z"/><path fill="#56cc7b" d="M14757,12546l101-28l-117-62l-101,29z"/><path fill="#3bc992" d="M11525,12393l101-37l-117-49l-101,37z"/><path fill="#68cd6c" d="M14003,12483l101-30l-117-60l-101,31z"/><path fill="#69cd6a" d="M13249,12440l101-34l-116-57l-101,34z"/><path fill="#35c79a" d="M15728,12660l101-24l-117-62l-101,24z"/><path fill="#5bcc77" d="M12496,12414l101-35l-117-54l-101,36z"/><path fill="#4ccb83" d="M14974,12579l101-27l-116-62l-101,28z"/><path fill="#41ca8d" d="M11742,12406l101-37l-116-50l-101,37z"/><path fill="#61cd71" d="M14221,12512l101-30l-117-60l-101,31z"/><path fill="#2dc4a6" d="M10989,12409l101-38l-117-46l-101,37z"/><path fill="#68cd6c" d="M13467,12463l101-33l-117-57l-101,33z"/><path fill="#2fc5a3" d="M15945,12698l101-24l-116-62l-101,24z"/><path fill="#5ecc74" d="M12713,12433l101-36l-116-54l-101,36z"/><path fill="#42ca8b" d="M15192,12614l101-27l-117-62l-101,27z"/><path fill="#46cb88" d="M11960,12419l101-37l-117-50l-101,37z"/><path fill="#5acc78" d="M14438,12543l101-30l-116-60l-101,29z"/><path fill="#31c6a0" d="M11206,12419l101-37l-116-48l-101,37z"/><path fill="#64cd6e" d="M13684,12488l101-32l-116-58l-101,32z"/><path fill="#5fcd73" d="M12931,12452l101-34l-117-56l-101,35z"/><path fill="#3ac993" d="M15409,12649l101-26l-116-62l-101,26z"/><path fill="#4bcb83" d="M12177,12434l101-36l-116-52l-101,36z"/><path fill="#51cc7e" d="M14656,12574l101-28l-117-61l-101,28z"/><path fill="#35c79a" d="M11424,12430l101-37l-117-49l-101,38z"/><path fill="#60cd72" d="M13902,12515l101-32l-117-59l-101,32z"/><path fill="#60cd73" d="M13148,12474l101-34l-116-57l-101,35z"/><path fill="#34c79c" d="M15627,12685l101-25l-117-62l-101,25z"/><path fill="#50cc80" d="M12395,12450l101-36l-117-53l-101,37z"/><path fill="#48cb86" d="M14873,12607l101-28l-116-61l-101,28z"/><path fill="#39c895" d="M11641,12443l101-37l-116-50l-101,37z"/><path fill="#5bcc77" d="M14120,12543l101-31l-117-59l-101,30z"/><path fill="#26c2ad" d="M10888,12446l101-37l-117-47l-101,37z"/><path fill="#5fcd73" d="M13366,12496l101-33l-117-57l-101,34z"/><path fill="#2ec5a4" d="M15844,12722l101-24l-116-62l-101,24z"/><path fill="#53cc7d" d="M12612,12468l101-35l-116-54l-101,35z"/><path fill="#40ca8d" d="M15091,12641l101-27l-117-62l-101,27z"/><path fill="#3dc990" d="M11859,12456l101-37l-117-50l-101,37z"/><path fill="#54cc7c" d="M14337,12572l101-29l-116-61l-101,30z"/><path fill="#2cc4a7" d="M11105,12456l101-37l-116-48l-101,38z"/><path fill="#5ccc75" d="M13583,12521l101-33l-116-58l-101,33z"/><path fill="#27c2ab" d="M16062,12759l101-23l-117-62l-101,24z"/><path fill="#55cc7b" d="M12830,12487l101-35l-117-55l-101,36z"/><path fill="#39c895" d="M15308,12675l101-26l-116-62l-101,27z"/><path fill="#41ca8c" d="M12076,12471l101-37l-116-52l-101,37z"/><path fill="#4ccb82" d="M14555,12603l101-29l-117-61l-101,30z"/><path fill="#30c5a2" d="M11323,12467l101-37l-117-48l-101,37z"/><path fill="#59cc79" d="M13801,12547l101-32l-117-59l-101,32z"/><path fill="#56cc7b" d="M13047,12508l101-34l-116-56l-101,34z"/><path fill="#33c69d" d="M15526,12711l101-26l-117-62l-101,26z"/><path fill="#46cb88" d="M12294,12486l101-36l-117-52l-101,36z"/><path fill="#45cb89" d="M14772,12635l101-28l-116-61l-101,28z"/><path fill="#33c69d" d="M11540,12480l101-37l-116-50l-101,37z"/><path fill="#54cc7d" d="M14019,12574l101-31l-117-60l-101,32z"/><path fill="#1cc0b3" d="M10787,12483l101-37l-117-47l-101,37z"/><path fill="#56cc7b" d="M13265,12530l101-34l-117-56l-101,34z"/><path fill="#2ec4a5" d="M15743,12747l101-25l-116-62l-101,25z"/><path fill="#49cb86" d="M12511,12504l101-36l-116-54l-101,36z"/><path fill="#3dc990" d="M14990,12668l101-27l-117-62l-101,28z"/><path fill="#36c898" d="M11758,12493l101-37l-117-50l-101,37z"/><path fill="#4ecc81" d="M14236,12603l101-31l-116-60l-101,31z"/><path fill="#24c2ae" d="M11004,12493l101-37l-116-47l-101,37z"/><path fill="#54cc7d" d="M13482,12554l101-33l-116-58l-101,33z"/><path fill="#26c2ac" d="M15961,12784l101-25l-117-61l-101,24z"/><path fill="#4bcb84" d="M12729,12522l101-35l-117-54l-101,35z"/><path fill="#37c898" d="M15207,12702l101-27l-116-61l-101,27z"/><path fill="#3ac994" d="M11975,12507l101-36l-116-52l-101,37z"/><path fill="#47cb87" d="M14454,12633l101-30l-117-60l-101,29z"/><path fill="#2ac3a9" d="M11222,12504l101-37l-117-48l-101,37z"/><path fill="#51cc7f" d="M13700,12579l101-32l-117-59l-101,33z"/><path fill="#1cc0b3" d="M16178,12821l101-24l-116-61l-101,23z"/><path fill="#4ccb83" d="M12946,12542l101-34l-116-56l-101,35z"/><path fill="#32c69f" d="M15425,12737l101-26l-117-62l-101,26z"/><path fill="#3dc991" d="M12193,12523l101-37l-117-52l-101,37z"/><path fill="#40ca8d" d="M14671,12664l101-29l-116-61l-101,29z"/><path fill="#2ec4a4" d="M11439,12516l101-36l-116-50l-101,37z"/><path fill="#4dcb82" d="M13918,12605l101-31l-117-59l-101,32z"/><path fill="#11beba" d="M10686,12520l101-37l-117-47l-101,37z"/><path fill="#4ccb83" d="M13164,12564l101-34l-117-56l-101,34z"/><path fill="#2dc4a6" d="M15642,12772l101-25l-116-62l-101,26z"/><path fill="#3fca8e" d="M12410,12539l101-35l-116-54l-101,36z"/><path fill="#3ac993" d="M14889,12696l101-28l-117-61l-101,28z"/><path fill="#31c6a0" d="M11657,12529l101-36l-117-50l-101,37z"/><path fill="#48cb86" d="M14135,12633l101-30l-116-60l-101,31z"/><path fill="#1ac0b5" d="M10903,12530l101-37l-116-47l-101,37z"/><path fill="#4bcb84" d="M13381,12587l101-33l-116-58l-101,34z"/><path fill="#25c2ad" d="M15860,12808l101-24l-117-62l-101,25z"/><path fill="#42ca8c" d="M12628,12558l101-36l-117-54l-101,36z"/><path fill="#35c79a" d="M15106,12729l101-27l-116-61l-101,27z"/><path fill="#34c79c" d="M11874,12544l101-37l-116-51l-101,37z"/><path fill="#42ca8b" d="M14353,12663l101-30l-117-61l-101,31z"/><path fill="#22c1b0" d="M11121,12541l101-37l-117-48l-101,37z"/><path fill="#49cb85" d="M13599,12611l101-32l-117-58l-101,33z"/><path fill="#1bc0b4" d="M16077,12845l101-24l-116-62l-101,25z"/><path fill="#43ca8a" d="M12845,12577l101-35l-116-55l-101,35z"/><path fill="#30c5a1" d="M15324,12763l101-26l-117-62l-101,27z"/><path fill="#36c898" d="M12092,12559l101-36l-117-52l-101,36z"/><path fill="#3dc991" d="M14570,12693l101-29l-116-61l-101,30z"/><path fill="#28c2ab" d="M11338,12553l101-37l-116-49l-101,37z"/><path fill="#46cb88" d="M13817,12637l101-32l-117-58l-101,32z"/><path fill="#0ebdbb" d="M16295,12882l101-24l-117-61l-101,24z"/><path fill="#07bcc0" d="M10585,12556l101-36l-117-47l-101,37z"/><path fill="#44cb8a" d="M13063,12598l101-34l-117-56l-101,34z"/><path fill="#2bc3a7" d="M15541,12798l101-26l-116-61l-101,26z"/><path fill="#39c895" d="M12309,12575l101-36l-116-53l-101,37z"/><path fill="#37c897" d="M14788,12724l101-28l-117-61l-101,29z"/><path fill="#2cc4a7" d="M11556,12566l101-37l-117-49l-101,36z"/><path fill="#42ca8c" d="M14034,12664l101-31l-116-59l-101,31z"/><path fill="#0ebebb" d="M10802,12567l101-37l-116-47l-101,37z"/><path fill="#43ca8a" d="M13280,12620l101-33l-116-57l-101,34z"/><path fill="#24c1ae" d="M15759,12834l101-26l-117-61l-101,25z"/><path fill="#3bc993" d="M12527,12593l101-35l-117-54l-101,35z"/><path fill="#33c79d" d="M15005,12757l101-28l-116-61l-101,28z"/><path fill="#2fc5a3" d="M11773,12580l101-36l-116-51l-101,36z"/><path fill="#3dca90" d="M14252,12693l101-30l-117-60l-101,30z"/><path fill="#18bfb6" d="M11020,12578l101-37l-117-48l-101,37z"/><path fill="#42ca8c" d="M13498,12644l101-33l-117-57l-101,33z"/><path fill="#1abfb5" d="M15976,12870l101-25l-116-61l-101,24z"/><path fill="#3cc992" d="M12744,12612l101-35l-116-55l-101,36z"/><path fill="#2fc5a3" d="M15223,12790l101-27l-117-61l-101,27z"/><path fill="#31c6a0" d="M11991,12595l101-36l-117-52l-101,37z"/><path fill="#39c895" d="M14469,12723l101-30l-116-60l-101,30z"/><path fill="#1fc0b2" d="M11237,12590l101-37l-116-49l-101,37z"/><path fill="#3fca8e" d="M13716,12669l101-32l-117-58l-101,32z"/><path fill="#0dbdbc" d="M16194,12906l101-24l-117-61l-101,24z"/><path fill="#01b9c6" d="M10484,12592l101-36l-117-46l-101,36z"/><path fill="#3cc991" d="M12962,12632l101-34l-117-56l-101,35z"/><path fill="#2ac3a9" d="M15440,12825l101-27l-116-61l-101,26z"/><path fill="#33c79d" d="M12208,12611l101-36l-116-52l-101,36z"/><path fill="#35c79a" d="M14687,12753l101-29l-117-60l-101,29z"/><path fill="#25c2ae" d="M11455,12603l101-37l-117-50l-101,37z"/><path fill="#3cc991" d="M13933,12696l101-32l-116-59l-101,32z"/><path fill="#05bbc1" d="M10701,12603l101-36l-116-47l-101,36z"/><path fill="#3cc991" d="M13179,12654l101-34l-116-56l-101,34z"/><path fill="#22c1b0" d="M15658,12859l101-25l-117-62l-101,26z"/><path fill="#35c79a" d="M12426,12628l101-35l-117-54l-101,36z"/><path fill="#31c6a0" d="M14904,12785l101-28l-116-61l-101,28z"/><path fill="#29c3aa" d="M11672,12616l101-36l-116-51l-101,37z"/><path fill="#39c995" d="M14151,12724l101-31l-117-60l-101,31z"/><path fill="#0bbdbc" d="M10919,12614l101-36l-117-48l-101,37z"/><path fill="#3cc992" d="M13397,12677l101-33l-117-57l-101,33z"/><path fill="#18bfb6" d="M15875,12895l101-25l-116-62l-101,26z"/><path fill="#36c899" d="M12643,12647l101-35l-116-54l-101,35z"/><path fill="#2dc4a5" d="M15122,12818l101-28l-117-61l-101,28z"/><path fill="#2cc4a6" d="M11890,12631l101-36l-117-51l-101,36z"/><path fill="#36c899" d="M14368,12752l101-29l-116-60l-101,30z"/><path fill="#14beb8" d="M11136,12626l101-36l-116-49l-101,37z"/><path fill="#3ac994" d="M13615,12702l101-33l-117-58l-101,33z"/><path fill="#0bbdbc" d="M16093,12930l101-24l-117-61l-101,25z"/><path fill="#02b7cb" d="M10383,12628l101-36l-117-46l-101,36z"/><path fill="#37c898" d="M12861,12667l101-35l-117-55l-101,35z"/><path fill="#28c2ab" d="M15339,12851l101-26l-116-62l-101,27z"/><path fill="#2ec5a3" d="M12107,12647l101-36l-116-52l-101,36z"/><path fill="#33c69d" d="M14586,12783l101-30l-117-60l-101,30z"/><path fill="#1bc0b4" d="M11354,12639l101-36l-117-50l-101,37z"/><path fill="#38c896" d="M13832,12728l101-32l-116-59l-101,32z"/><path fill="#01b9c7" d="M10600,12639l101-36l-116-47l-101,36z"/><path fill="#37c898" d="M13078,12688l101-34l-116-56l-101,34z"/><path fill="#20c1b1" d="M15557,12885l101-26l-117-61l-101,27z"/><path fill="#30c5a1" d="M12325,12664l101-36l-117-53l-101,36z"/><path fill="#2fc5a2" d="M14803,12814l101-29l-116-61l-101,29z"/><path fill="#21c1b0" d="M11571,12653l101-37l-116-50l-101,37z"/><path fill="#36c799" d="M14050,12755l101-31l-117-60l-101,32z"/><path fill="#03bbc2" d="M10818,12650l101-36l-117-47l-101,36z"/><path fill="#36c898" d="M13296,12711l101-34l-117-57l-101,34z"/><path fill="#15bfb7" d="M15774,12920l101-25l-116-61l-101,25z"/><path fill="#31c69f" d="M12542,12682l101-35l-116-54l-101,35z"/><path fill="#2bc3a8" d="M15021,12846l101-28l-117-61l-101,28z"/><path fill="#26c2ad" d="M11789,12667l101-36l-117-51l-101,36z"/><path fill="#33c69d" d="M14267,12783l101-31l-116-59l-101,31z"/><path fill="#09bcbe" d="M11035,12662l101-36l-116-48l-101,36z"/><path fill="#36c799" d="M13514,12735l101-33l-117-58l-101,33z"/><path fill="#0abdbd" d="M15992,12955l101-25l-117-60l-101,25z"/><path fill="#08b4d1" d="M10282,12664l101-36l-117-46l-101,36z"/><path fill="#32c69e" d="M12760,12702l101-35l-117-55l-101,35z"/><path fill="#25c2ad" d="M15238,12878l101-27l-116-61l-101,28z"/><path fill="#29c3aa" d="M12006,12683l101-36l-116-52l-101,36z"/><path fill="#30c5a1" d="M14485,12812l101-29l-117-60l-101,29z"/><path fill="#10beba" d="M11253,12675l101-36l-117-49l-101,36z"/><path fill="#34c79b" d="M13731,12760l101-32l-116-59l-101,33z"/><path fill="#03b7cc" d="M10499,12675l101-36l-116-47l-101,36z"/><path fill="#33c69e" d="M12977,12722l101-34l-116-56l-101,35z"/><path fill="#1dc0b3" d="M15456,12912l101-27l-117-60l-101,26z"/><path fill="#2bc3a8" d="M12224,12699l101-35l-117-53l-101,36z"/><path fill="#2dc4a6" d="M14702,12843l101-29l-116-61l-101,30z"/><path fill="#17bfb6" d="M11470,12689l101-36l-116-50l-101,36z"/><path fill="#32c69e" d="M13949,12786l101-31l-117-59l-101,32z"/><path fill="#01b8c8" d="M10717,12686l101-36l-117-47l-101,36z"/><path fill="#32c69e" d="M13195,12744l101-33l-117-57l-101,34z"/><path fill="#13beb9" d="M15673,12946l101-26l-116-61l-101,26z"/><path fill="#2dc4a6" d="M12441,12717l101-35l-116-54l-101,36z"/><path fill="#28c3aa" d="M14920,12874l101-28l-117-61l-101,29z"/><path fill="#1dc0b3" d="M11688,12703l101-36l-117-51l-101,37z"/><path fill="#30c5a1" d="M14166,12814l101-31l-116-59l-101,31z"/><path fill="#02bac4" d="M10934,12698l101-36l-116-48l-101,36z"/><path fill="#32c69f" d="M13413,12767l101-32l-117-58l-101,34z"/><path fill="#08bcbf" d="M15891,12981l101-26l-117-60l-101,25z"/><path fill="#11b1d5" d="M10181,12700l101-36l-117-46l-101,36z"/><path fill="#2ec4a4" d="M12659,12736l101-34l-117-55l-101,35z"/><path fill="#22c1af" d="M15137,12906l101-28l-116-60l-101,28z"/><path fill="#21c1b0" d="M11905,12718l101-35l-116-52l-101,36z"/><path fill="#2ec4a5" d="M14384,12842l101-30l-117-60l-101,31z"/><path fill="#06bcc0" d="M11152,12711l101-36l-117-49l-101,36z"/><path fill="#31c6a0" d="M13630,12792l101-32l-116-58l-101,33z"/><path fill="#0ab4d1" d="M10398,12711l101-36l-116-47l-101,36z"/><path fill="#2ec5a4" d="M12876,12756l101-34l-116-55l-101,35z"/><path fill="#1ac0b5" d="M15355,12939l101-27l-117-61l-101,27z"/><path fill="#25c2ae" d="M12123,12735l101-36l-117-52l-101,36z"/><path fill="#2ac3a9" d="M14601,12872l101-29l-116-60l-101,29z"/><path fill="#0bbdbc" d="M11369,12725l101-36l-116-50l-101,36z"/><path fill="#2fc5a3" d="M13848,12818l101-32l-117-58l-101,32z"/><path fill="#05b6cd" d="M10616,12722l101-36l-117-47l-101,36z"/><path fill="#2ec5a4" d="M13094,12778l101-34l-117-56l-101,34z"/><path fill="#10beba" d="M15572,12972l101-26l-116-61l-101,27z"/><path fill="#27c2ac" d="M12340,12752l101-35l-116-53l-101,35z"/><path fill="#25c2ad" d="M14819,12902l101-28l-117-60l-101,29z"/><path fill="#12beb9" d="M11587,12739l101-36l-117-50l-101,36z"/><path fill="#2dc4a5" d="M14065,12845l101-31l-116-59l-101,31z"/><path fill="#01b8ca" d="M10833,12734l101-36l-116-48l-101,36z"/><path fill="#2ec4a4" d="M13312,12801l101-34l-117-56l-101,33z"/><path fill="#06bcc0" d="M15790,13006l101-25l-117-61l-101,26z"/><path fill="#16aeda" d="M10080,12735l101-35l-117-46l-101,35z"/><path fill="#28c3aa" d="M12558,12771l101-35l-117-54l-101,35z"/><path fill="#1fc0b2" d="M15036,12934l101-28l-116-60l-101,28z"/><path fill="#18bfb6" d="M11804,12754l101-36l-116-51l-101,36z"/><path fill="#2ac3a8" d="M14283,12872l101-30l-117-59l-101,31z"/><path fill="#01b9c6" d="M11051,12747l101-36l-117-49l-101,36z"/><path fill="#2dc4a5" d="M13529,12824l101-32l-116-57l-101,32z"/><path fill="#12b1d6" d="M10297,12746l101-35l-116-47l-101,36z"/><path fill="#29c3a9" d="M12775,12791l101-35l-116-54l-101,34z"/><path fill="#16bfb7" d="M15254,12966l101-27l-117-61l-101,28z"/><path fill="#1cc0b4" d="M12022,12770l101-35l-117-52l-101,35z"/><path fill="#26c2ac" d="M14500,12901l101-29l-116-60l-101,30z"/><path fill="#03bbc2" d="M11268,12760l101-35l-116-50l-101,36z"/><path fill="#2cc4a7" d="M13747,12850l101-32l-117-58l-101,32z"/><path fill="#0cb3d2" d="M10515,12758l101-36l-117-47l-101,36z"/><path fill="#2ac3a9" d="M12993,12812l101-34l-117-56l-101,34z"/><path fill="#0cbdbc" d="M15471,12999l101-27l-116-60l-101,27z"/><path fill="#1fc0b2" d="M12239,12787l101-35l-116-53l-101,36z"/><path fill="#21c1b0" d="M14718,12931l101-29l-117-59l-101,29z"/><path fill="#08bcbf" d="M11486,12775l101-36l-117-50l-101,36z"/><path fill="#29c3a9" d="M13964,12876l101-31l-116-59l-101,32z"/><path fill="#06b5cf" d="M10732,12770l101-36l-116-48l-101,36z"/><path fill="#29c3a9" d="M13211,12834l101-33l-117-57l-101,34z"/><path fill="#04bbc1" d="M15689,13033l101-27l-117-60l-101,26z"/><path fill="#21c1b0" d="M12457,12806l101-35l-117-54l-101,35z"/><path fill="#1ac0b4" d="M14935,12962l101-28l-116-60l-101,28z"/><path fill="#0cbdbc" d="M11703,12790l101-36l-116-51l-101,36z"/><path fill="#26c2ac" d="M14182,12903l101-31l-117-58l-101,31z"/><path fill="#02b7cb" d="M10950,12783l101-36l-117-49l-101,36z"/><path fill="#28c3aa" d="M13428,12857l101-33l-116-57l-101,34z"/><path fill="#17aeda" d="M10196,12781l101-35l-116-46l-101,35z"/><path fill="#23c1af" d="M12674,12825l101-34l-116-55l-101,35z"/><path fill="#12beb9" d="M15153,12994l101-28l-117-60l-101,28z"/><path fill="#11beb9" d="M11921,12806l101-36l-117-52l-101,36z"/><path fill="#22c1af" d="M14399,12931l101-30l-116-59l-101,30z"/><path fill="#01b9c8" d="M11167,12796l101-36l-116-49l-101,36z"/><path fill="#27c2ac" d="M13646,12882l101-32l-117-58l-101,32z"/><path fill="#13b0d7" d="M10414,12793l101-35l-117-47l-101,35z"/><path fill="#24c1af" d="M12892,12846l101-34l-117-56l-101,35z"/><path fill="#09bcbe" d="M15370,13026l101-27l-116-60l-101,27z"/><path fill="#15bfb7" d="M12138,12823l101-36l-116-52l-101,35z"/><path fill="#1cc0b3" d="M14617,12961l101-30l-117-59l-101,29z"/><path fill="#02bac5" d="M11385,12810l101-35l-117-50l-101,35z"/><path fill="#25c2ae" d="M13863,12907l101-31l-116-58l-101,32z"/><path fill="#0eb3d4" d="M10631,12805l101-35l-116-48l-101,36z"/><path fill="#24c1af" d="M13110,12867l101-33l-117-56l-101,34z"/><path fill="#02bbc3" d="M15588,13059l101-26l-117-61l-101,27z"/><path fill="#18bfb6" d="M12356,12840l101-34l-117-54l-101,35z"/><path fill="#16bfb7" d="M14834,12991l101-29l-116-60l-101,29z"/><path fill="#04bbc2" d="M11602,12825l101-35l-116-51l-101,36z"/><path fill="#21c1b0" d="M14081,12934l101-31l-117-58l-101,31z"/><path fill="#08b4d0" d="M10849,12818l101-35l-117-49l-101,36z"/><path fill="#23c1af" d="M13327,12890l101-33l-116-56l-101,33z"/><path fill="#1ac0b4" d="M12573,12859l101-34l-116-54l-101,35z"/><path fill="#0dbdbb" d="M15052,13022l101-28l-117-60l-101,28z"/><path fill="#08bcbf" d="M11820,12841l101-35l-117-52l-101,36z"/><path fill="#1dc0b3" d="M14298,12962l101-31l-116-59l-101,31z"/><path fill="#04b6cd" d="M11066,12831l101-35l-116-49l-101,36z"/><path fill="#21c1b0" d="M13545,12914l101-32l-117-58l-101,33z"/><path fill="#18addb" d="M10313,12828l101-35l-117-47l-101,35z"/><path fill="#1cc0b4" d="M12791,12880l101-34l-117-55l-101,34z"/><path fill="#06bcc0" d="M15269,13054l101-28l-116-60l-101,28z"/><path fill="#0bbdbd" d="M12037,12857l101-34l-116-53l-101,36z"/><path fill="#17bfb6" d="M14516,12990l101-29l-117-60l-101,30z"/><path fill="#01b8ca" d="M11284,12845l101-35l-117-50l-101,36z"/><path fill="#1ec0b2" d="M13762,12939l101-32l-116-57l-101,32z"/><path fill="#14b0d8" d="M10530,12840l101-35l-116-47l-101,35z"/><path fill="#1cc0b4" d="M13009,12901l101-34l-117-55l-101,34z"/><path fill="#02bac5" d="M15487,13086l101-27l-117-60l-101,27z"/><path fill="#0ebdbb" d="M12255,12875l101-35l-117-53l-101,36z"/><path fill="#10beba" d="M14733,13020l101-29l-116-60l-101,30z"/><path fill="#01b9c7" d="M11501,12860l101-35l-116-50l-101,35z"/><path fill="#1bc0b4" d="M13980,12965l101-31l-117-58l-101,31z"/><path fill="#10b2d5" d="M10748,12853l101-35l-117-48l-101,35z"/><path fill="#1bc0b4" d="M13226,12923l101-33l-116-56l-101,33z"/><path fill="#10beba" d="M12472,12894l101-35l-116-53l-101,34z"/><path fill="#09bcbe" d="M14951,13050l101-28l-117-60l-101,29z"/><path fill="#02bac4" d="M11719,12876l101-35l-117-51l-101,35z"/><path fill="#17bfb7" d="M14197,12992l101-30l-116-59l-101,31z"/><path fill="#0bb4d2" d="M10965,12866l101-35l-116-48l-101,35z"/><path fill="#1abfb5" d="M13444,12946l101-32l-117-57l-101,33z"/><path fill="#12beb9" d="M12690,12914l101-34l-117-55l-101,34z"/><path fill="#03bbc2" d="M15168,13081l101-27l-116-60l-101,28z"/><path fill="#03bbc2" d="M11936,12892l101-35l-116-51l-101,35z"/><path fill="#11beba" d="M14415,13020l101-30l-117-59l-101,31z"/><path fill="#06b5cf" d="M11183,12880l101-35l-117-49l-101,35z"/><path fill="#18bfb6" d="M13661,12971l101-32l-116-57l-101,32z"/><path fill="#19addc" d="M10429,12875l101-35l-116-47l-101,35z"/><path fill="#13beb9" d="M12908,12934l101-33l-117-55l-101,34z"/><path fill="#01b9c7" d="M15386,13113l101-27l-117-60l-101,28z"/><path fill="#06bcc0" d="M12154,12910l101-35l-117-52l-101,34z"/><path fill="#0bbdbd" d="M14632,13049l101-29l-116-59l-101,29z"/><path fill="#03b7cc" d="M11400,12895l101-35l-116-50l-101,35z"/><path fill="#14beb8" d="M13879,12996l101-31l-117-58l-101,32z"/><path fill="#16afd9" d="M10647,12888l101-35l-117-48l-101,35z"/><path fill="#13beb9" d="M13125,12956l101-33l-116-56l-101,34z"/><path fill="#08bcbf" d="M12371,12928l101-34l-116-54l-101,35z"/><path fill="#05bbc1" d="M14850,13079l101-29l-117-59l-101,29z"/><path fill="#01b8ca" d="M11618,12911l101-35l-117-51l-101,35z"/><path fill="#10beba" d="M14096,13023l101-31l-116-58l-101,31z"/><path fill="#12b1d7" d="M10864,12901l101-35l-116-48l-101,35z"/><path fill="#11beb9" d="M13343,12979l101-33l-117-56l-101,33z"/><path fill="#09bcbe" d="M12589,12947l101-33l-117-55l-101,35z"/><path fill="#02bac5" d="M15067,13109l101-28l-116-59l-101,28z"/><path fill="#01b9c7" d="M11835,12927l101-35l-116-51l-101,35z"/><path fill="#0bbdbd" d="M14314,13050l101-30l-117-58l-101,30z"/><path fill="#0eb2d4" d="M11082,12915l101-35l-117-49l-101,35z"/><path fill="#0fbeba" d="M13560,13003l101-32l-116-57l-101,32z"/><path fill="#0abdbd" d="M12807,12968l101-34l-117-54l-101,34z"/><path fill="#01b8c9" d="M15285,13140l101-27l-117-59l-101,27z"/><path fill="#01b9c6" d="M12053,12944l101-34l-117-53l-101,35z"/><path fill="#06bcc0" d="M14531,13079l101-30l-116-59l-101,30z"/><path fill="#09b4d1" d="M11299,12930l101-35l-116-50l-101,35z"/><path fill="#0cbdbc" d="M13778,13028l101-32l-117-57l-101,32z"/><path fill="#1aacdd" d="M10546,12922l101-34l-117-48l-101,35z"/><path fill="#0abdbd" d="M13024,12989l101-33l-116-55l-101,33z"/><path fill="#02bac4" d="M12270,12962l101-34l-116-53l-101,35z"/><path fill="#02bac3" d="M14749,13108l101-29l-117-59l-101,29z"/><path fill="#06b5cf" d="M11517,12945l101-34l-117-51l-101,35z"/><path fill="#09bcbe" d="M13995,13054l101-31l-116-58l-101,31z"/><path fill="#18aedb" d="M10763,12936l101-35l-116-48l-101,35z"/><path fill="#09bdbe" d="M13242,13012l101-33l-117-56l-101,33z"/><path fill="#02bbc3" d="M12488,12981l101-34l-117-53l-101,34z"/><path fill="#01b9c7" d="M14966,13138l101-29l-116-59l-101,29z"/><path fill="#04b6cc" d="M11734,12962l101-35l-116-51l-101,35z"/><path fill="#06bcc0" d="M14213,13081l101-31l-117-58l-101,31z"/><path fill="#14b0d8" d="M10981,12950l101-35l-117-49l-101,35z"/><path fill="#08bcbf" d="M13459,13035l101-32l-116-57l-101,33z"/><path fill="#03bbc2" d="M12706,13001l101-33l-117-54l-101,33z"/><path fill="#02b7cb" d="M15184,13168l101-28l-117-59l-101,28z"/><path fill="#02b7cb" d="M11952,12979l101-35l-117-52l-101,35z"/><path fill="#02bbc3" d="M14430,13108l101-29l-116-59l-101,30z"/><path fill="#11b1d6" d="M11198,12965l101-35l-116-50l-101,35z"/><path fill="#06bcc0" d="M13677,13059l101-31l-117-57l-101,32z"/><path fill="#03bbc2" d="M12923,13022l101-33l-116-55l-101,34z"/><path fill="#01b8c9" d="M12169,12997l101-35l-116-52l-101,34z"/><path fill="#01b9c6" d="M14648,13137l101-29l-117-59l-101,30z"/><path fill="#0db3d3" d="M11416,12980l101-35l-117-50l-101,35z"/><path fill="#04bbc2" d="M13894,13085l101-31l-116-58l-101,32z"/><path fill="#1babde" d="M10662,12970l101-34l-116-48l-101,34z"/><path fill="#03bbc2" d="M13141,13044l101-32l-117-56l-101,33z"/><path fill="#01b9c8" d="M12387,13015l101-34l-117-53l-101,34z"/><path fill="#01b8c9" d="M14865,13166l101-28l-116-59l-101,29z"/><path fill="#09b4d1" d="M11633,12996l101-34l-116-51l-101,34z"/><path fill="#02bac4" d="M14112,13111l101-30l-117-58l-101,31z"/><path fill="#19addc" d="M10880,12984l101-34l-117-49l-101,35z"/><path fill="#02bbc3" d="M13358,13067l101-32l-116-56l-101,33z"/><path fill="#01b9c7" d="M12605,13035l101-34l-117-54l-101,34z"/><path fill="#04b6cd" d="M15083,13196l101-28l-117-59l-101,29z"/><path fill="#07b5cf" d="M11851,13013l101-34l-117-52l-101,35z"/><path fill="#01b9c6" d="M14329,13138l101-30l-116-58l-101,31z"/><path fill="#16aeda" d="M11097,12999l101-34l-116-50l-101,35z"/><path fill="#02bac4" d="M13576,13091l101-32l-117-56l-101,32z"/><path fill="#01b9c7" d="M12822,13056l101-34l-116-54l-101,33z"/><path fill="#05b6ce" d="M12068,13031l101-34l-116-53l-101,35z"/><path fill="#01b8c9" d="M14547,13166l101-29l-117-58l-101,29z"/><path fill="#14b0d8" d="M11315,13014l101-34l-117-50l-101,35z"/><path fill="#01bac5" d="M13793,13116l101-31l-116-57l-101,31z"/><path fill="#01b9c7" d="M13040,13077l101-33l-117-55l-101,33z"/><path fill="#04b6cc" d="M12286,13049l101-34l-117-53l-101,35z"/><path fill="#03b7cc" d="M14764,13195l101-29l-116-58l-101,29z"/><path fill="#11b1d6" d="M11532,13030l101-34l-116-51l-101,35z"/><path fill="#01b9c7" d="M14011,13142l101-31l-117-57l-101,31z"/><path fill="#1caadf" d="M10779,13018l101-34l-117-48l-101,34z"/><path fill="#01b9c7" d="M13257,13100l101-33l-116-55l-101,32z"/><path fill="#03b7cc" d="M12504,13068l101-33l-117-54l-101,34z"/><path fill="#07b5cf" d="M14982,13224l101-28l-117-58l-101,28z"/><path fill="#0eb2d4" d="M11750,13047l101-34l-117-51l-101,34z"/><path fill="#01b8c9" d="M14228,13168l101-30l-116-57l-101,30z"/><path fill="#1aabdd" d="M10996,13033l101-34l-116-49l-101,34z"/><path fill="#01b9c8" d="M13475,13123l101-32l-117-56l-101,32z"/><path fill="#02b7cb" d="M12721,13089l101-33l-116-55l-101,34z"/><path fill="#0bb3d2" d="M11967,13064l101-33l-116-52l-101,34z"/><path fill="#03b7cc" d="M14446,13196l101-30l-117-58l-101,30z"/><path fill="#18addb" d="M11214,13048l101-34l-117-49l-101,34z"/><path fill="#01b8c9" d="M13692,13147l101-31l-116-57l-101,32z"/><path fill="#02b7cb" d="M12939,13110l101-33l-117-55l-101,34z"/><path fill="#09b4d1" d="M12185,13083l101-34l-117-52l-101,34z"/><path fill="#06b5cf" d="M14663,13224l101-29l-116-58l-101,29z"/><path fill="#16afda" d="M11431,13064l101-34l-116-50l-101,34z"/><path fill="#02b7cb" d="M13910,13173l101-31l-117-57l-101,31z"/><path fill="#02b7cb" d="M13156,13132l101-32l-116-56l-101,33z"/><path fill="#07b5d0" d="M12403,13102l101-34l-117-53l-101,34z"/><path fill="#0ab4d2" d="M14881,13253l101-29l-117-58l-101,29z"/><path fill="#14b0d8" d="M11649,13081l101-34l-117-51l-101,34z"/><path fill="#04b6cd" d="M14127,13199l101-31l-116-57l-101,31z"/><path fill="#1da8e0" d="M10895,13067l101-34l-116-49l-101,34z"/><path fill="#03b7cc" d="M13374,13155l101-32l-117-56l-101,33z"/><path fill="#07b5cf" d="M12620,13122l101-33l-116-54l-101,33z"/><path fill="#12b1d6" d="M11866,13098l101-34l-116-51l-101,34z"/><path fill="#06b5cf" d="M14345,13226l101-30l-117-58l-101,30z"/><path fill="#1caadf" d="M11113,13082l101-34l-117-49l-101,34z"/><path fill="#04b6cd" d="M13591,13179l101-32l-116-56l-101,32z"/><path fill="#06b5cf" d="M12838,13143l101-33l-117-54l-101,33z"/><path fill="#10b2d5" d="M12084,13116l101-33l-117-52l-101,33z"/><path fill="#09b4d1" d="M14562,13253l101-29l-116-58l-101,30z"/><path fill="#1aacdd" d="M11330,13098l101-34l-116-50l-101,34z"/><path fill="#05b6ce" d="M13809,13204l101-31l-117-57l-101,31z"/><path fill="#06b5cf" d="M13055,13164l101-32l-116-55l-101,33z"/><path fill="#0eb2d4" d="M12302,13135l101-33l-117-53l-101,34z"/><path fill="#0eb2d4" d="M14780,13282l101-29l-117-58l-101,29z"/><path fill="#19addc" d="M11548,13115l101-34l-117-51l-101,34z"/><path fill="#07b5d0" d="M14026,13229l101-30l-116-57l-101,31z"/><path fill="#07b5d0" d="M13273,13187l101-32l-117-55l-101,32z"/><path fill="#0db3d3" d="M12519,13155l101-33l-116-54l-101,34z"/><path fill="#17aeda" d="M11765,13132l101-34l-116-51l-101,34z"/><path fill="#0ab4d2" d="M14244,13256l101-30l-117-58l-101,31z"/><path fill="#1ea7e1" d="M11012,13116l101-34l-117-49l-101,34z"/><path fill="#08b4d0" d="M13490,13210l101-31l-116-56l-101,32z"/><path fill="#0cb3d3" d="M12737,13175l101-32l-117-54l-101,33z"/><path fill="#15afd9" d="M11983,13150l101-34l-117-52l-101,34z"/><path fill="#0eb2d4" d="M14461,13283l101-30l-116-57l-101,30z"/><path fill="#1da9e0" d="M11229,13132l101-34l-116-50l-101,34z"/><path fill="#0ab4d1" d="M13708,13235l101-31l-117-57l-101,32z"/><path fill="#0cb3d3" d="M12954,13197l101-33l-116-54l-101,33z"/><path fill="#14b0d8" d="M12201,13168l101-33l-117-52l-101,33z"/><path fill="#12b1d6" d="M14679,13311l101-29l-117-58l-101,29z"/><path fill="#1caadf" d="M11447,13148l101-33l-117-51l-101,34z"/><path fill="#0cb3d3" d="M13925,13260l101-31l-116-56l-101,31z"/><path fill="#0db3d3" d="M13172,13219l101-32l-117-55l-101,32z"/><path fill="#13b0d7" d="M12418,13188l101-33l-116-53l-101,33z"/><path fill="#1aabdd" d="M11664,13165l101-33l-116-51l-101,34z"/><path fill="#0fb2d4" d="M14143,13286l101-30l-117-57l-101,30z"/><path fill="#0eb2d4" d="M13389,13242l101-32l-116-55l-101,32z"/><path fill="#12b1d7" d="M12636,13208l101-33l-117-53l-101,33z"/><path fill="#19acdc" d="M11882,13183l101-33l-117-52l-101,34z"/><path fill="#12b1d6" d="M14360,13312l101-29l-116-57l-101,30z"/><path fill="#1fa5e2" d="M11128,13165l101-33l-116-50l-101,34z"/><path fill="#0fb2d5" d="M13607,13266l101-31l-117-56l-101,31z"/><path fill="#12b1d7" d="M12853,13229l101-32l-116-54l-101,32z"/><path fill="#18addb" d="M12100,13201l101-33l-117-52l-101,34z"/><path fill="#15afd8" d="M14578,13340l101-29l-117-58l-101,30z"/><path fill="#1ea7e1" d="M11346,13181l101-33l-117-50l-101,34z"/><path fill="#11b1d6" d="M13824,13290l101-30l-116-56l-101,31z"/><path fill="#12b1d7" d="M13071,13251l101-32l-117-55l-101,33z"/><path fill="#18aedb" d="M12317,13221l101-33l-116-53l-101,33z"/><path fill="#1da8e0" d="M11563,13198l101-33l-116-50l-101,33z"/><path fill="#13b0d7" d="M14042,13316l101-30l-117-57l-101,31z"/><path fill="#13b0d7" d="M13288,13273l101-31l-116-55l-101,32z"/><path fill="#17aeda" d="M12535,13241l101-33l-117-53l-101,33z"/><path fill="#1ca9df" d="M11781,13216l101-33l-117-51l-101,33z"/><path fill="#15afd9" d="M14259,13342l101-30l-116-56l-101,30z"/><path fill="#14b0d8" d="M13506,13297l101-31l-117-56l-101,32z"/><path fill="#17aeda" d="M12752,13261l101-32l-116-54l-101,33z"/><path fill="#1baade" d="M11999,13234l101-33l-117-51l-101,33z"/><path fill="#18aedb" d="M14477,13369l101-29l-117-57l-101,29z"/><path fill="#20a4e3" d="M11245,13215l101-34l-117-49l-101,33z"/><path fill="#15afd9" d="M13723,13321l101-31l-116-55l-101,31z"/><path fill="#16aeda" d="M12970,13283l101-32l-117-54l-101,32z"/><path fill="#1babde" d="M12216,13253l101-32l-116-53l-101,33z"/><path fill="#1fa5e2" d="M11462,13231l101-33l-116-50l-101,33z"/><path fill="#16aeda" d="M13941,13346l101-30l-117-56l-101,30z"/><path fill="#17aeda" d="M13187,13305l101-32l-116-54l-101,32z"/><path fill="#1aacdd" d="M12434,13273l101-32l-117-53l-101,33z"/><path fill="#1ea6e1" d="M11680,13249l101-33l-117-51l-101,33z"/><path fill="#18addb" d="M14158,13372l101-30l-116-56l-101,30z"/><path fill="#17aedb" d="M13405,13328l101-31l-117-55l-101,31z"/><path fill="#1aacdd" d="M12651,13293l101-32l-116-53l-101,33z"/><path fill="#1ea7e1" d="M11898,13267l101-33l-117-51l-101,33z"/><path fill="#1aacdd" d="M14376,13398l101-29l-117-57l-101,30z"/><path fill="#18addb" d="M13622,13352l101-31l-116-55l-101,31z"/><path fill="#1aacdd" d="M12869,13315l101-32l-117-54l-101,32z"/><path fill="#1da8e0" d="M12115,13286l101-33l-116-52l-101,33z"/><path fill="#22a2e4" d="M11361,13264l101-33l-116-50l-101,34z"/><path fill="#19acdc" d="M13840,13376l101-30l-117-56l-101,31z"/><path fill="#1aacdd" d="M13086,13337l101-32l-116-54l-101,32z"/><path fill="#1da9e0" d="M12333,13305l101-32l-117-52l-101,32z"/><path fill="#21a3e3" d="M11579,13282l101-33l-117-51l-101,33z"/><path fill="#1aabdd" d="M14057,13402l101-30l-116-56l-101,30z"/><path fill="#1aacdd" d="M13304,13359l101-31l-117-55l-101,32z"/><path fill="#1ca9df" d="M12550,13326l101-33l-116-52l-101,32z"/><path fill="#20a5e3" d="M11797,13300l101-33l-117-51l-101,33z"/><path fill="#1baade" d="M14275,13428l101-30l-117-56l-101,30z"/><path fill="#1babde" d="M13521,13383l101-31l-116-55l-101,31z"/><path fill="#1ca9df" d="M12768,13346l101-31l-117-54l-101,32z"/><path fill="#1fa5e2" d="M12014,13318l101-32l-116-52l-101,33z"/><path fill="#1baade" d="M13739,13407l101-31l-117-55l-101,31z"/><path fill="#1ca9df" d="M12985,13368l101-31l-116-54l-101,32z"/><path fill="#1fa6e2" d="M12232,13338l101-33l-117-52l-101,33z"/><path fill="#23a0e5" d="M11478,13314l101-32l-117-51l-101,33z"/><path fill="#1ca9df" d="M13956,13432l101-30l-116-56l-101,30z"/><path fill="#1ca9df" d="M13203,13390l101-31l-117-54l-101,32z"/><path fill="#1ea7e1" d="M12449,13358l101-32l-116-53l-101,32z"/><path fill="#22a2e4" d="M11696,13332l101-32l-117-51l-101,33z"/><path fill="#1da8e0" d="M14174,13457l101-29l-117-56l-101,30z"/><path fill="#1da9e0" d="M13420,13413l101-30l-116-55l-101,31z"/><path fill="#1ea7e1" d="M12667,13378l101-32l-117-53l-101,33z"/><path fill="#21a2e4" d="M11913,13351l101-33l-116-51l-101,33z"/><path fill="#1da8e0" d="M13638,13437l101-30l-117-55l-101,31z"/><path fill="#1ea7e1" d="M12884,13400l101-32l-116-53l-101,31z"/><path fill="#21a3e3" d="M12131,13370l101-32l-117-52l-101,32z"/><path fill="#1ea7e1" d="M13855,13462l101-30l-116-56l-101,31z"/><path fill="#1ea7e1" d="M13102,13422l101-32l-117-53l-101,31z"/><path fill="#21a4e3" d="M12348,13389l101-31l-116-53l-101,33z"/><path fill="#249fe6" d="M11595,13364l101-32l-117-50l-101,32z"/><path fill="#1fa6e2" d="M14073,13487l101-30l-117-55l-101,30z"/><path fill="#1fa6e1" d="M13319,13444l101-31l-116-54l-101,31z"/><path fill="#20a4e3" d="M12566,13410l101-32l-117-52l-101,32z"/><path fill="#23a0e5" d="M11812,13383l101-32l-116-51l-101,32z"/><path fill="#1fa6e2" d="M13537,13468l101-31l-117-54l-101,30z"/><path fill="#20a4e3" d="M12783,13431l101-31l-116-54l-101,32z"/><path fill="#23a0e5" d="M12030,13402l101-32l-117-52l-101,33z"/><path fill="#20a5e2" d="M13754,13492l101-30l-116-55l-101,30z"/><path fill="#20a4e3" d="M13001,13453l101-31l-117-54l-101,32z"/><path fill="#23a1e4" d="M12247,13421l101-32l-116-51l-101,32z"/><path fill="#20a4e3" d="M13972,13516l101-29l-117-55l-101,30z"/><path fill="#20a4e3" d="M13218,13475l101-31l-116-54l-101,32z"/><path fill="#22a1e4" d="M12465,13441l101-31l-117-52l-101,31z"/><path fill="#259de7" d="M11711,13415l101-32l-116-51l-101,32z"/><path fill="#21a3e3" d="M13436,13498l101-30l-117-55l-101,31z"/><path fill="#22a2e4" d="M12682,13462l101-31l-116-53l-101,32z"/><path fill="#249ee6" d="M11929,13433l101-31l-117-51l-101,32z"/><path fill="#21a3e3" d="M13653,13522l101-30l-116-55l-101,31z"/><path fill="#22a2e4" d="M12900,13484l101-31l-117-53l-101,31z"/><path fill="#249ee6" d="M12146,13453l101-32l-116-51l-101,32z"/><path fill="#22a2e4" d="M13871,13546l101-30l-117-54l-101,30z"/><path fill="#22a1e4" d="M13117,13506l101-31l-116-53l-101,31z"/><path fill="#249fe6" d="M12364,13473l101-32l-117-52l-101,32z"/><path fill="#22a1e4" d="M13335,13528l101-30l-117-54l-101,31z"/><path fill="#249fe5" d="M12581,13493l101-31l-116-52l-101,31z"/><path fill="#259be8" d="M11828,13465l101-32l-117-50l-101,32z"/><path fill="#23a0e5" d="M13552,13552l101-30l-116-54l-101,30z"/><path fill="#249fe5" d="M12799,13515l101-31l-117-53l-101,31z"/><path fill="#259be7" d="M12045,13484l101-31l-116-51l-101,31z"/><path fill="#23a0e5" d="M13770,13576l101-30l-117-54l-101,30z"/><path fill="#249fe5" d="M13016,13536l101-30l-116-53l-101,31z"/><path fill="#259ce7" d="M12263,13504l101-31l-117-52l-101,32z"/><path fill="#249fe6" d="M13234,13559l101-31l-117-53l-101,31z"/><path fill="#259ce7" d="M12480,13525l101-32l-116-52l-101,32z"/><path fill="#249ee6" d="M13451,13582l101-30l-116-54l-101,30z"/><path fill="#259ce7" d="M12698,13546l101-31l-117-53l-101,31z"/><path fill="#2699e9" d="M11944,13516l101-32l-116-51l-101,32z"/><path fill="#249ee6" d="M13669,13605l101-29l-117-54l-101,30z"/><path fill="#259ce7" d="M12915,13567l101-31l-116-52l-101,31z"/><path fill="#2699e9" d="M12162,13535l101-31l-117-51l-101,31z"/><path fill="#259ce7" d="M13133,13589l101-30l-117-53l-101,30z"/><path fill="#269ae9" d="M12379,13555l101-30l-116-52l-101,31z"/><path fill="#259ce7" d="M13350,13612l101-30l-116-54l-101,31z"/><path fill="#269ae9" d="M12597,13576l101-30l-117-53l-101,32z"/><path fill="#259be8" d="M13568,13635l101-30l-117-53l-101,30z"/><path fill="#269ae8" d="M12814,13598l101-31l-116-52l-101,31z"/><path fill="#2797eb" d="M12061,13566l101-31l-117-51l-101,32z"/><path fill="#269ae9" d="M13032,13619l101-30l-117-53l-101,31z"/><path fill="#2797eb" d="M12278,13586l101-31l-116-51l-101,31z"/><path fill="#269ae9" d="M13249,13642l101-30l-116-53l-101,30z"/><path fill="#2797ea" d="M12496,13607l101-31l-117-51l-101,30z"/><path fill="#2699e9" d="M13467,13665l101-30l-117-53l-101,30z"/><path fill="#2798ea" d="M12713,13628l101-30l-116-52l-101,30z"/><path fill="#2797ea" d="M12931,13650l101-31l-117-52l-101,31z"/><path fill="#2994ed" d="M12177,13617l101-31l-116-51l-101,31z"/><path fill="#2797eb" d="M13148,13672l101-30l-116-53l-101,30z"/><path fill="#2995ec" d="M12395,13637l101-30l-117-52l-101,31z"/><path fill="#2797eb" d="M13366,13695l101-30l-117-53l-101,30z"/><path fill="#2895ec" d="M12612,13658l101-30l-116-52l-101,31z"/><path fill="#2895ec" d="M12830,13680l101-30l-117-52l-101,30z"/><path fill="#2895ec" d="M13047,13702l101-30l-116-53l-101,31z"/><path fill="#2a92ee" d="M12294,13668l101-31l-117-51l-101,31z"/><path fill="#2995ec" d="M13265,13724l101-29l-117-53l-101,30z"/><path fill="#2a92ee" d="M12511,13689l101-31l-116-51l-101,30z"/><path fill="#2a93ee" d="M12729,13710l101-30l-117-52l-101,30z"/><path fill="#2a92ee" d="M12946,13731l101-29l-116-52l-101,30z"/><path fill="#2a92ee" d="M13164,13754l101-30l-117-52l-101,30z"/><path fill="#2c90f0" d="M12410,13719l101-30l-116-52l-101,31z"/><path fill="#2c90f0" d="M12628,13740l101-30l-117-52l-101,31z"/><path fill="#2c90f0" d="M12845,13761l101-30l-116-51l-101,30z"/><path fill="#2c90f0" d="M13063,13783l101-29l-117-52l-101,29z"/><path fill="#2c8ef2" d="M12527,13769l101-29l-117-51l-101,30z"/><path fill="#2c8ef2" d="M12744,13791l101-30l-116-51l-101,30z"/><path fill="#2c8ef2" d="M12962,13813l101-30l-117-52l-101,30z"/><path fill="#2d8bf3" d="M12643,13820l101-29l-116-51l-101,29z"/><path fill="#2d8bf3" d="M12861,13842l101-29l-117-52l-101,30z"/><path fill="#2d89f5" d="M12760,13871l101-29l-117-51l-101,29z"/></g></g>
<path d="M996.3,1305L996.3,1075M996.3,1305L1276,1410.7M1276,1410.7L1639.6,1329.4M996.3,1305L990.3,1302.7M996.3,1190L990.3,1187.7M996.3,1075L990.3,1072.7M1252.7,1401.9L1246.5,1403.5M1136.1,1357.8L1130,1359.5M1019.6,1313.8L1013.4,1315.4M1356.8,1392.6L1362.6,1395.1M1457.8,1370.1L1463.6,1372.5M1558.8,1347.5L1564.6,1349.9" stroke="#5a5a5a" stroke-width="3" fill="none" filter="url(#bl2)"/>
<g filter="url(#bl3)"><text x="952.8" y="1077.8" text-anchor="middle" style="font-family:'Liberation Sans',sans-serif;font-size:26px;fill:#5c5c5c;stroke:#5c5c5c;stroke-width:0.7">200</text><text x="952.8" y="1194.5" text-anchor="middle" style="font-family:'Liberation Sans',sans-serif;font-size:26px;fill:#5c5c5c;stroke:#5c5c5c;stroke-width:0.7">100</text><text x="967.8" y="1310" text-anchor="middle" style="font-family:'Liberation Sans',sans-serif;font-size:26px;fill:#5c5c5c;stroke:#5c5c5c;stroke-width:0.7">0</text><text x="989.6" y="1347" text-anchor="middle" style="font-family:'Liberation Sans',sans-serif;font-size:26px;fill:#5c5c5c;stroke:#5c5c5c;stroke-width:0.7">1</text><text x="1107.1" y="1391.4" text-anchor="middle" style="font-family:'Liberation Sans',sans-serif;font-size:26px;fill:#5c5c5c;stroke:#5c5c5c;stroke-width:0.7">0</text><text x="1218.6" y="1435.6" text-anchor="middle" style="font-family:'Liberation Sans',sans-serif;font-size:26px;fill:#5c5c5c;stroke:#5c5c5c;stroke-width:0.7">-1</text><text x="1386.9" y="1430.3" text-anchor="middle" style="font-family:'Liberation Sans',sans-serif;font-size:26px;fill:#5c5c5c;stroke:#5c5c5c;stroke-width:0.7">-1</text><text x="1484.6" y="1407.1" text-anchor="middle" style="font-family:'Liberation Sans',sans-serif;font-size:26px;fill:#5c5c5c;stroke:#5c5c5c;stroke-width:0.7">0</text><text x="1589" y="1385.1" text-anchor="middle" style="font-family:'Liberation Sans',sans-serif;font-size:26px;fill:#5c5c5c;stroke:#5c5c5c;stroke-width:0.7">1</text><text x="1487" y="1451.4" text-anchor="middle" textLength="86" lengthAdjust="spacingAndGlyphs" style="font-family:'Liberation Serif',serif;fill:#0a0a0a;stroke:#0a0a0a;paint-order:stroke;stroke-width:0.7;font-size:43px">x(/m)</text><text x="1115.4" y="1435.4" text-anchor="middle" textLength="86" lengthAdjust="spacingAndGlyphs" style="font-family:'Liberation Serif',serif;fill:#0a0a0a;stroke:#0a0a0a;paint-order:stroke;stroke-width:0.7;font-size:43px">y(/m)</text><text transform="translate(898.3,1359.1) rotate(-90)" x="0" y="0" textLength="166.5" lengthAdjust="spacingAndGlyphs" style="font-family:'Liberation Serif',serif;fill:#0a0a0a;stroke:#0a0a0a;paint-order:stroke;stroke-width:1.0;font-size:41px">Illuminance</text><text transform="translate(898.3,1174.5) rotate(-90)" x="0" y="0" textLength="109.9" lengthAdjust="spacingAndGlyphs" style="font-family:'Liberation Serif',serif;fill:#0a0a0a;stroke:#0a0a0a;paint-order:stroke;stroke-width:1.0;font-size:41px">(/LUX)</text><text y="1116.7" style="font-family:'Liberation Serif',serif;fill:#0a0a0a;stroke:#0a0a0a;paint-order:stroke;stroke-width:0.9;font-size:40px"><tspan x="1152.4" textLength="44.4" lengthAdjust="spacingAndGlyphs">(F)</tspan><tspan x="1215.8" textLength="71" lengthAdjust="spacingAndGlyphs">Blue</tspan><tspan x="1305.8" textLength="71" lengthAdjust="spacingAndGlyphs">light</tspan><tspan x="1390.8" textLength="111.6" lengthAdjust="spacingAndGlyphs">LED_2</tspan></text></g>
</g>
</svg></body></html>
